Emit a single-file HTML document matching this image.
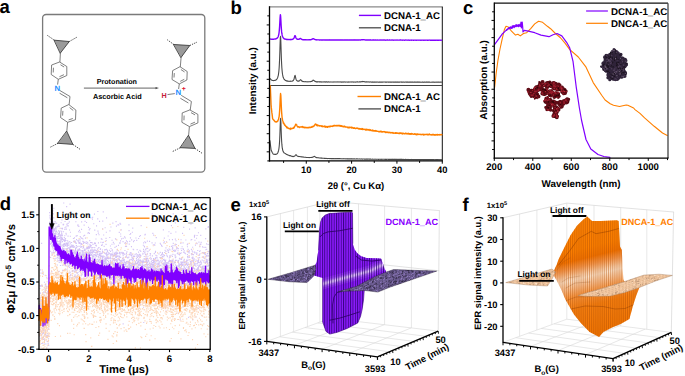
<!DOCTYPE html>
<html><head><meta charset="utf-8"><style>
html,body{margin:0;padding:0;background:#fff;}
svg{display:block;}
text{font-family:"Liberation Sans", sans-serif;text-rendering:geometricPrecision;}
</style></head><body>
<svg width="685" height="376" viewBox="0 0 685 376" font-family='"Liberation Sans", sans-serif'>
<text x="-0.60" y="13.40" font-size="18.5" text-anchor="start" fill="#000" font-weight="bold" >a</text>
<rect x="42.6" y="14.5" width="162.2" height="157.6" rx="3.5" ry="3.5" fill="none" stroke="#7a7a7a" stroke-width="1.3"/>
<path d="M54.40,40.20 L69.30,41.50 L60.40,53.00 Z" stroke="#2a2a2a" stroke-width="0.8" fill="#9a9a9a" stroke-linejoin="round" stroke-linecap="round" />
<line x1="54.40" y1="40.20" x2="47.10" y2="35.20" stroke="#333" stroke-width="0.9" stroke-dasharray="1.3,1.1"/>
<line x1="69.30" y1="41.50" x2="76.70" y2="37.30" stroke="#333" stroke-width="0.9" stroke-dasharray="1.3,1.1"/>
<line x1="60.40" y1="53.00" x2="59.90" y2="62.20" stroke="#555" stroke-width="0.75" />
<path d="M59.90,62.20 L66.80,66.50 L66.80,75.50 L58.30,79.30 L51.20,74.50 L51.60,65.40 Z" stroke="#555" stroke-width="0.75" fill="none" stroke-linejoin="round" stroke-linecap="round" />
<line x1="60.48" y1="64.78" x2="64.10" y2="67.03" stroke="#555" stroke-width="0.75" />
<line x1="63.92" y1="74.69" x2="59.46" y2="76.69" stroke="#555" stroke-width="0.75" />
<line x1="53.22" y1="72.49" x2="53.43" y2="67.72" stroke="#555" stroke-width="0.75" />
<line x1="58.30" y1="79.30" x2="57.60" y2="84.60" stroke="#555" stroke-width="0.75" />
<text x="57.30" y="90.80" font-size="7.8" text-anchor="middle" fill="#1e90ff" font-weight="bold" >N</text>
<line x1="60.00" y1="90.60" x2="70.00" y2="96.50" stroke="#555" stroke-width="0.75" />
<line x1="59.60" y1="93.20" x2="67.40" y2="97.80" stroke="#555" stroke-width="0.75" />
<line x1="70.00" y1="96.50" x2="69.10" y2="104.80" stroke="#555" stroke-width="0.75" />
<path d="M69.10,104.80 L75.90,110.10 L75.50,119.70 L67.60,122.30 L60.60,117.60 L61.20,108.50 Z" stroke="#555" stroke-width="0.75" fill="none" stroke-linejoin="round" stroke-linecap="round" />
<line x1="69.67" y1="107.65" x2="73.24" y2="110.44" stroke="#555" stroke-width="0.75" />
<line x1="72.82" y1="118.53" x2="68.67" y2="119.89" stroke="#555" stroke-width="0.75" />
<line x1="62.60" y1="115.63" x2="62.91" y2="110.86" stroke="#555" stroke-width="0.75" />
<line x1="67.60" y1="122.30" x2="66.80" y2="131.40" stroke="#555" stroke-width="0.75" />
<path d="M58.00,143.30 L72.90,144.40 L66.80,131.40 Z" stroke="#2a2a2a" stroke-width="0.8" fill="#9a9a9a" stroke-linejoin="round" stroke-linecap="round" />
<line x1="58.00" y1="143.30" x2="50.10" y2="147.30" stroke="#333" stroke-width="0.9" stroke-dasharray="1.3,1.1"/>
<line x1="72.90" y1="144.40" x2="80.60" y2="149.70" stroke="#333" stroke-width="0.9" stroke-dasharray="1.3,1.1"/>
<line x1="83.90" y1="88.10" x2="157.00" y2="88.10" stroke="#555" stroke-width="0.9" />
<path d="M155.50,86.90 L159.00,88.10 L155.50,89.30 Z" stroke="none" stroke-width="0" fill="#555" stroke-linejoin="round" stroke-linecap="round" />
<text x="116.80" y="84.00" font-size="7.2" text-anchor="middle" fill="#000" font-weight="bold" >Protonation</text>
<text x="117.30" y="99.10" font-size="7.3" text-anchor="middle" fill="#000" font-weight="bold" >Ascorbic Acid</text>
<path d="M173.80,44.50 L189.80,45.50 L181.10,57.40 Z" stroke="#2a2a2a" stroke-width="0.8" fill="#9a9a9a" stroke-linejoin="round" stroke-linecap="round" />
<line x1="173.80" y1="44.50" x2="167.20" y2="39.70" stroke="#333" stroke-width="0.9" stroke-dasharray="1.3,1.1"/>
<line x1="189.80" y1="45.50" x2="197.00" y2="42.10" stroke="#333" stroke-width="0.9" stroke-dasharray="1.3,1.1"/>
<line x1="181.10" y1="57.40" x2="180.30" y2="66.90" stroke="#555" stroke-width="0.75" />
<path d="M180.30,66.90 L187.20,71.50 L186.90,80.00 L179.30,83.90 L172.00,79.50 L172.60,71.00 Z" stroke="#555" stroke-width="0.75" fill="none" stroke-linejoin="round" stroke-linecap="round" />
<line x1="180.93" y1="69.56" x2="184.55" y2="71.97" stroke="#555" stroke-width="0.75" />
<line x1="184.25" y1="79.31" x2="180.26" y2="81.35" stroke="#555" stroke-width="0.75" />
<line x1="174.00" y1="77.54" x2="174.31" y2="73.07" stroke="#555" stroke-width="0.75" />
<line x1="179.30" y1="83.90" x2="178.60" y2="89.00" stroke="#555" stroke-width="0.75" />
<text x="178.20" y="95.20" font-size="7.8" text-anchor="middle" fill="#1e90ff" font-weight="bold" >N</text>
<text x="183.80" y="91.00" font-size="7.0" text-anchor="middle" fill="#e0102a" font-weight="bold" >+</text>
<text x="164.00" y="98.00" font-size="7.2" text-anchor="middle" fill="#c41e3a" font-weight="bold" >H</text>
<line x1="167.50" y1="94.60" x2="174.80" y2="93.60" stroke="#555" stroke-width="0.75" />
<line x1="181.20" y1="95.30" x2="191.40" y2="101.50" stroke="#555" stroke-width="0.75" />
<line x1="180.40" y1="98.30" x2="188.40" y2="103.00" stroke="#555" stroke-width="0.75" />
<line x1="191.40" y1="101.50" x2="190.20" y2="110.10" stroke="#555" stroke-width="0.75" />
<path d="M190.20,110.10 L197.90,114.40 L197.90,122.90 L189.40,126.60 L181.90,122.30 L182.20,113.30 Z" stroke="#555" stroke-width="0.75" fill="none" stroke-linejoin="round" stroke-linecap="round" />
<line x1="191.00" y1="112.63" x2="195.04" y2="114.88" stroke="#555" stroke-width="0.75" />
<line x1="194.95" y1="122.16" x2="190.49" y2="124.10" stroke="#555" stroke-width="0.75" />
<line x1="183.94" y1="120.28" x2="184.10" y2="115.55" stroke="#555" stroke-width="0.75" />
<line x1="189.40" y1="126.60" x2="188.60" y2="135.60" stroke="#555" stroke-width="0.75" />
<path d="M180.40,147.70 L195.00,148.40 L188.60,135.60 Z" stroke="#2a2a2a" stroke-width="0.8" fill="#9a9a9a" stroke-linejoin="round" stroke-linecap="round" />
<line x1="180.40" y1="147.70" x2="172.40" y2="151.60" stroke="#333" stroke-width="0.9" stroke-dasharray="1.3,1.1"/>
<line x1="195.00" y1="148.40" x2="202.40" y2="153.50" stroke="#333" stroke-width="0.9" stroke-dasharray="1.3,1.1"/>
<text x="230.60" y="13.80" font-size="18.5" text-anchor="start" fill="#000" font-weight="bold" >b</text>
<line x1="269.50" y1="6.80" x2="442.80" y2="6.80" stroke="#8a8a8a" stroke-width="1.3" />
<line x1="442.30" y1="6.80" x2="442.30" y2="160.90" stroke="#111" stroke-width="1.0" />
<line x1="269.50" y1="85.45" x2="442.30" y2="85.45" stroke="#444" stroke-width="1.1" />
<path d="M270.10,78.59 L270.35,79.02 L270.60,79.13 L270.85,79.54 L271.10,79.66 L271.35,79.84 L271.60,80.18 L271.85,80.18 L272.10,80.28 L272.35,80.43 L272.60,80.54 L272.85,80.51 L273.10,80.61 L273.35,80.51 L273.60,80.58 L273.85,80.58 L274.10,80.49 L274.35,80.45 L274.60,80.41 L274.85,80.46 L275.10,80.39 L275.35,80.29 L275.60,80.21 L275.85,79.96 L276.10,79.89 L276.35,79.72 L276.60,79.51 L276.85,79.09 L277.10,78.76 L277.35,78.18 L277.60,77.74 L277.85,76.90 L278.10,76.05 L278.35,75.07 L278.60,73.24 L278.85,71.37 L279.10,68.43 L279.35,64.37 L279.60,58.90 L279.85,51.68 L280.10,43.54 L280.35,37.10 L280.60,36.39 L280.85,41.87 L281.10,49.95 L281.35,57.56 L281.60,63.37 L281.85,67.81 L282.10,70.67 L282.35,72.99 L282.60,74.67 L282.85,75.83 L283.10,77.11 L283.35,77.51 L283.60,78.28 L283.85,78.74 L284.10,79.30 L284.35,79.33 L284.60,79.84 L284.85,79.92 L285.10,80.16 L285.35,80.28 L285.60,80.53 L285.85,80.51 L286.10,80.70 L286.35,80.82 L286.60,81.02 L286.85,80.75 L287.10,81.13 L287.35,81.14 L287.60,81.07 L287.85,81.17 L288.10,81.15 L288.35,81.35 L288.60,81.26 L288.85,81.25 L289.10,81.27 L289.35,81.29 L289.60,81.30 L289.85,81.26 L290.10,81.50 L290.35,81.18 L290.60,81.04 L290.85,81.31 L291.10,81.29 L291.35,81.31 L291.60,81.23 L291.85,81.19 L292.10,81.16 L292.35,81.14 L292.60,80.92 L292.85,80.78 L293.10,80.78 L293.35,80.40 L293.60,79.91 L293.85,79.65 L294.10,78.79 L294.35,77.68 L294.60,76.45 L294.85,75.62 L295.10,75.43 L295.35,76.24 L295.60,77.40 L295.85,78.52 L296.10,79.44 L296.35,79.88 L296.60,80.20 L296.85,80.65 L297.10,80.80 L297.35,81.00 L297.60,81.13 L297.85,81.09 L298.10,81.14 L298.35,81.16 L298.60,81.07 L298.85,81.17 L299.10,81.15 L299.35,80.93 L299.60,80.71 L299.85,80.45 L300.10,80.08 L300.35,79.77 L300.60,79.67 L300.85,79.79 L301.10,80.17 L301.35,80.44 L301.60,80.88 L301.85,81.08 L302.10,81.15 L302.35,81.17 L302.60,81.44 L302.85,81.60 L303.10,81.51 L303.35,81.57 L303.60,81.59 L303.85,81.72 L304.10,81.61 L304.35,81.78 L304.60,81.70 L304.85,81.81 L305.10,81.75 L305.35,81.73 L305.60,81.64 L305.85,81.71 L306.10,81.75 L306.35,81.83 L306.60,81.80 L306.85,81.73 L307.10,81.82 L307.35,81.86 L307.60,81.77 L307.85,81.75 L308.10,81.75 L308.35,81.84 L308.60,81.81 L308.85,81.69 L309.10,81.78 L309.35,81.71 L309.60,81.67 L309.85,81.81 L310.10,81.76 L310.35,81.61 L310.60,81.64 L310.85,81.63 L311.10,81.48 L311.35,81.46 L311.60,81.43 L311.85,81.13 L312.10,81.15 L312.35,81.01 L312.60,80.78 L312.85,80.40 L313.10,80.34 L313.35,80.15 L313.60,80.31 L313.85,80.48 L314.10,80.67 L314.35,80.82 L314.60,81.03 L314.85,81.30 L315.10,81.29 L315.35,81.50 L315.60,81.58 L315.85,81.58 L316.10,81.84 L316.35,81.70 L316.60,81.90 L316.85,81.59 L317.10,81.60 L317.35,81.87 L317.60,81.86 L317.85,81.80 L318.10,81.83 L318.35,81.70 L318.60,81.81 L318.85,81.79 L319.10,81.86 L319.35,81.95 L319.60,81.89 L319.85,81.92 L320.10,81.84 L320.35,81.87 L320.60,81.92 L320.85,81.89 L321.10,82.02 L321.35,81.85 L321.60,82.07 L321.85,81.85 L322.10,82.01 L322.35,81.87 L322.60,82.06 L322.85,81.95 L323.10,81.97 L323.35,82.00 L323.60,81.89 L323.85,81.86 L324.10,81.78 L324.35,82.04 L324.60,81.89 L324.85,81.90 L325.10,81.95 L325.35,82.11 L325.60,81.82 L325.85,81.98 L326.10,81.92 L326.35,82.00 L326.60,81.82 L326.85,81.93 L327.10,82.03 L327.35,82.09 L327.60,82.09 L327.85,81.90 L328.10,81.97 L328.35,81.96 L328.60,81.86 L328.85,81.85 L329.10,82.03 L329.35,81.99 L329.60,81.96 L329.85,82.07 L330.10,81.89 L330.35,82.02 L330.60,81.98 L330.85,81.97 L331.10,82.02 L331.35,81.99 L331.60,82.00 L331.85,82.00 L332.10,82.14 L332.35,81.96 L332.60,82.06 L332.85,82.03 L333.10,81.96 L333.35,82.05 L333.60,81.92 L333.85,82.08 L334.10,81.92 L334.35,81.95 L334.60,82.01 L334.85,82.06 L335.10,82.06 L335.35,82.06 L335.60,81.97 L335.85,81.91 L336.10,82.04 L336.35,82.02 L336.60,81.92 L336.85,82.07 L337.10,82.01 L337.35,81.92 L337.60,82.03 L337.85,81.89 L338.10,81.93 L338.35,82.03 L338.60,81.87 L338.85,82.00 L339.10,81.89 L339.35,82.06 L339.60,81.94 L339.85,82.02 L340.10,81.88 L340.35,81.97 L340.60,82.08 L340.85,82.04 L341.10,81.86 L341.35,82.08 L341.60,82.08 L341.85,81.97 L342.10,82.12 L342.35,81.92 L342.60,82.00 L342.85,82.10 L343.10,82.11 L343.35,82.11 L343.60,81.92 L343.85,81.87 L344.10,82.04 L344.35,81.90 L344.60,82.00 L344.85,81.91 L345.10,82.10 L345.35,82.08 L345.60,82.06 L345.85,82.01 L346.10,82.02 L346.35,81.99 L346.60,82.04 L346.85,82.03 L347.10,82.05 L347.35,81.98 L347.60,82.17 L347.85,82.04 L348.10,82.13 L348.35,82.12 L348.60,81.95 L348.85,81.88 L349.10,82.12 L349.35,81.98 L349.60,82.02 L349.85,82.00 L350.10,82.03 L350.35,81.92 L350.60,82.01 L350.85,81.98 L351.10,82.02 L351.35,81.83 L351.60,82.08 L351.85,82.04 L352.10,81.88 L352.35,81.96 L352.60,82.02 L352.85,82.07 L353.10,82.01 L353.35,82.13 L353.60,82.02 L353.85,81.93 L354.10,81.96 L354.35,82.07 L354.60,81.96 L354.85,82.08 L355.10,82.09 L355.35,82.05 L355.60,82.09 L355.85,81.99 L356.10,82.00 L356.35,81.95 L356.60,81.95 L356.85,81.87 L357.10,81.95 L357.35,81.90 L357.60,81.87 L357.85,81.99 L358.10,82.01 L358.35,81.94 L358.60,82.07 L358.85,82.03 L359.10,82.03 L359.35,81.88 L359.60,81.80 L359.85,81.95 L360.10,81.91 L360.35,81.93 L360.60,81.88 L360.85,81.92 L361.10,81.76 L361.35,81.81 L361.60,81.64 L361.85,81.49 L362.10,81.60 L362.35,81.72 L362.60,81.44 L362.85,81.64 L363.10,81.50 L363.35,81.54 L363.60,81.60 L363.85,81.65 L364.10,81.59 L364.35,81.72 L364.60,81.79 L364.85,81.86 L365.10,81.76 L365.35,81.97 L365.60,82.03 L365.85,82.09 L366.10,81.81 L366.35,81.94 L366.60,81.79 L366.85,81.99 L367.10,82.01 L367.35,81.88 L367.60,81.86 L367.85,82.01 L368.10,82.05 L368.35,81.94 L368.60,81.99 L368.85,81.81 L369.10,81.96 L369.35,82.03 L369.60,82.04 L369.85,82.15 L370.10,81.94 L370.35,81.85 L370.60,82.07 L370.85,81.99 L371.10,82.06 L371.35,82.10 L371.60,82.09 L371.85,82.16 L372.10,82.16 L372.35,81.92 L372.60,82.05 L372.85,82.21 L373.10,82.02 L373.35,82.13 L373.60,82.05 L373.85,82.02 L374.10,82.19 L374.35,82.14 L374.60,82.04 L374.85,82.14 L375.10,81.96 L375.35,82.01 L375.60,82.14 L375.85,82.07 L376.10,81.98 L376.35,82.10 L376.60,82.10 L376.85,82.17 L377.10,82.15 L377.35,82.05 L377.60,82.03 L377.85,82.06 L378.10,82.06 L378.35,82.19 L378.60,82.20 L378.85,82.19 L379.10,82.11 L379.35,82.06 L379.60,82.15 L379.85,82.05 L380.10,82.10 L380.35,81.95 L380.60,82.05 L380.85,82.20 L381.10,82.00 L381.35,81.96 L381.60,82.07 L381.85,82.22 L382.10,82.20 L382.35,82.06 L382.60,82.05 L382.85,82.08 L383.10,82.01 L383.35,82.09 L383.60,82.06 L383.85,81.97 L384.10,82.04 L384.35,82.07 L384.60,82.02 L384.85,82.00 L385.10,82.16 L385.35,82.24 L385.60,82.07 L385.85,82.06 L386.10,82.13 L386.35,82.08 L386.60,82.03 L386.85,82.21 L387.10,82.01 L387.35,82.04 L387.60,82.04 L387.85,82.03 L388.10,82.08 L388.35,82.14 L388.60,82.21 L388.85,82.15 L389.10,82.10 L389.35,82.00 L389.60,82.10 L389.85,82.03 L390.10,82.09 L390.35,82.18 L390.60,82.12 L390.85,82.09 L391.10,82.04 L391.35,82.10 L391.60,82.11 L391.85,82.03 L392.10,82.07 L392.35,82.18 L392.60,81.97 L392.85,82.07 L393.10,82.01 L393.35,82.23 L393.60,82.16 L393.85,82.15 L394.10,82.14 L394.35,82.13 L394.60,82.13 L394.85,81.98 L395.10,82.13 L395.35,82.16 L395.60,82.00 L395.85,82.18 L396.10,82.17 L396.35,81.99 L396.60,82.08 L396.85,82.09 L397.10,82.07 L397.35,82.15 L397.60,82.01 L397.85,82.10 L398.10,82.14 L398.35,82.18 L398.60,82.12 L398.85,82.10 L399.10,82.17 L399.35,81.96 L399.60,82.20 L399.85,82.10 L400.10,82.02 L400.35,82.09 L400.60,81.98 L400.85,81.96 L401.10,82.10 L401.35,82.06 L401.60,82.18 L401.85,82.05 L402.10,82.02 L402.35,82.05 L402.60,82.26 L402.85,82.13 L403.10,82.08 L403.35,82.05 L403.60,82.04 L403.85,82.12 L404.10,82.16 L404.35,82.22 L404.60,82.22 L404.85,82.15 L405.10,82.08 L405.35,82.06 L405.60,81.95 L405.85,82.05 L406.10,82.17 L406.35,82.11 L406.60,82.16 L406.85,82.03 L407.10,82.21 L407.35,82.16 L407.60,82.14 L407.85,82.17 L408.10,81.96 L408.35,82.09 L408.60,82.07 L408.85,82.28 L409.10,82.12 L409.35,82.10 L409.60,82.21 L409.85,82.06 L410.10,82.25 L410.35,82.08 L410.60,82.14 L410.85,82.07 L411.10,82.21 L411.35,81.97 L411.60,82.20 L411.85,82.08 L412.10,82.15 L412.35,82.05 L412.60,82.16 L412.85,82.16 L413.10,82.19 L413.35,82.17 L413.60,82.20 L413.85,82.23 L414.10,82.12 L414.35,82.05 L414.60,82.05 L414.85,82.20 L415.10,82.12 L415.35,82.23 L415.60,82.15 L415.85,82.07 L416.10,82.22 L416.35,82.31 L416.60,82.14 L416.85,82.08 L417.10,82.08 L417.35,82.22 L417.60,82.11 L417.85,82.12 L418.10,82.21 L418.35,82.16 L418.60,82.16 L418.85,82.11 L419.10,82.11 L419.35,82.17 L419.60,82.17 L419.85,82.20 L420.10,82.12 L420.35,82.19 L420.60,82.20 L420.85,82.17 L421.10,82.21 L421.35,82.24 L421.60,82.18 L421.85,82.17 L422.10,82.08 L422.35,82.19 L422.60,82.16 L422.85,82.14 L423.10,82.10 L423.35,82.21 L423.60,82.37 L423.85,82.20 L424.10,82.17 L424.35,82.20 L424.60,82.12 L424.85,82.17 L425.10,82.11 L425.35,82.12 L425.60,82.19 L425.85,82.19 L426.10,82.16 L426.35,82.11 L426.60,82.19 L426.85,82.08 L427.10,82.23 L427.35,82.14 L427.60,82.17 L427.85,82.23 L428.10,82.22 L428.35,82.07 L428.60,82.15 L428.85,82.20 L429.10,82.09 L429.35,81.98 L429.60,82.17 L429.85,82.17 L430.10,82.21 L430.35,82.18 L430.60,82.19 L430.85,82.20 L431.10,82.29 L431.35,82.22 L431.60,82.22 L431.85,82.15 L432.10,82.27 L432.35,82.16 L432.60,82.24 L432.85,82.01 L433.10,82.20 L433.35,82.17 L433.60,82.15 L433.85,82.29 L434.10,82.22 L434.35,82.17 L434.60,82.14 L434.85,82.33 L435.10,82.24 L435.35,82.24 L435.60,82.12 L435.85,82.29 L436.10,82.23 L436.35,82.17 L436.60,82.18 L436.85,82.06 L437.10,82.24 L437.35,82.10 L437.60,82.26 L437.85,82.15 L438.10,82.14 L438.35,82.22 L438.60,82.21 L438.85,82.10 L439.10,82.19 L439.35,82.24 L439.60,82.17 L439.85,82.09 L440.10,82.17 L440.35,82.12 L440.60,82.15 L440.85,82.20 L441.10,82.19 L441.35,82.18 L441.60,82.06" stroke="#4a4a4a" stroke-width="1.1" fill="none" stroke-linejoin="round" stroke-linecap="round" />
<path d="M270.10,39.04 L270.35,39.13 L270.60,39.05 L270.85,39.17 L271.10,39.14 L271.35,39.16 L271.60,39.28 L271.85,39.21 L272.10,39.21 L272.35,39.26 L272.60,39.29 L272.85,39.23 L273.10,39.26 L273.35,39.18 L273.60,39.20 L273.85,39.19 L274.10,39.13 L274.35,39.10 L274.60,39.06 L274.85,39.10 L275.10,39.06 L275.35,39.00 L275.60,38.96 L275.85,38.82 L276.10,38.79 L276.35,38.70 L276.60,38.60 L276.85,38.36 L277.10,38.19 L277.35,37.87 L277.60,37.64 L277.85,37.17 L278.10,36.71 L278.35,36.17 L278.60,35.11 L278.85,34.04 L279.10,32.30 L279.35,29.84 L279.60,26.49 L279.85,22.10 L280.10,17.49 L280.35,14.72 L280.60,15.94 L280.85,20.14 L281.10,24.79 L281.35,28.65 L281.60,31.40 L281.85,33.47 L282.10,34.73 L282.35,35.78 L282.60,36.54 L282.85,37.05 L283.10,37.69 L283.35,37.81 L283.60,38.19 L283.85,38.40 L284.10,38.69 L284.35,38.65 L284.60,38.93 L284.85,38.94 L285.10,39.06 L285.35,39.11 L285.60,39.24 L285.85,39.21 L286.10,39.31 L286.35,39.38 L286.60,39.49 L286.85,39.31 L287.10,39.53 L287.35,39.53 L287.60,39.48 L287.85,39.54 L288.10,39.52 L288.35,39.64 L288.60,39.57 L288.85,39.56 L289.10,39.57 L289.35,39.58 L289.60,39.58 L289.85,39.54 L290.10,39.69 L290.35,39.49 L290.60,39.39 L290.85,39.55 L291.10,39.54 L291.35,39.54 L291.60,39.48 L291.85,39.45 L292.10,39.43 L292.35,39.40 L292.60,39.25 L292.85,39.15 L293.10,39.12 L293.35,38.86 L293.60,38.52 L293.85,38.33 L294.10,37.74 L294.35,37.02 L294.60,36.24 L294.85,35.74 L295.10,35.62 L295.35,36.10 L295.60,36.83 L295.85,37.55 L296.10,38.17 L296.35,38.48 L296.60,38.70 L296.85,39.00 L297.10,39.11 L297.35,39.25 L297.60,39.33 L297.85,39.31 L298.10,39.33 L298.35,39.33 L298.60,39.25 L298.85,39.28 L299.10,39.23 L299.35,39.04 L299.60,38.85 L299.85,38.66 L300.10,38.48 L300.35,38.44 L300.60,38.58 L300.85,38.76 L301.10,38.99 L301.35,39.12 L301.60,39.36 L301.85,39.45 L302.10,39.47 L302.35,39.48 L302.60,39.64 L302.85,39.73 L303.10,39.67 L303.35,39.71 L303.60,39.72 L303.85,39.80 L304.10,39.73 L304.35,39.84 L304.60,39.79 L304.85,39.86 L305.10,39.82 L305.35,39.81 L305.60,39.75 L305.85,39.80 L306.10,39.82 L306.35,39.87 L306.60,39.85 L306.85,39.80 L307.10,39.86 L307.35,39.89 L307.60,39.83 L307.85,39.81 L308.10,39.81 L308.35,39.87 L308.60,39.85 L308.85,39.77 L309.10,39.83 L309.35,39.78 L309.60,39.75 L309.85,39.83 L310.10,39.79 L310.35,39.69 L310.60,39.70 L310.85,39.68 L311.10,39.58 L311.35,39.54 L311.60,39.50 L311.85,39.27 L312.10,39.24 L312.35,39.11 L312.60,38.92 L312.85,38.67 L313.10,38.66 L313.35,38.62 L313.60,38.80 L313.85,38.97 L314.10,39.12 L314.35,39.23 L314.60,39.37 L314.85,39.54 L315.10,39.53 L315.35,39.67 L315.60,39.72 L315.85,39.72 L316.10,39.88 L316.35,39.79 L316.60,39.92 L316.85,39.73 L317.10,39.73 L317.35,39.91 L317.60,39.90 L317.85,39.86 L318.10,39.88 L318.35,39.80 L318.60,39.87 L318.85,39.85 L319.10,39.90 L319.35,39.96 L319.60,39.92 L319.85,39.94 L320.10,39.89 L320.35,39.91 L320.60,39.94 L320.85,39.92 L321.10,40.00 L321.35,39.90 L321.60,40.04 L321.85,39.90 L322.10,40.00 L322.35,39.91 L322.60,40.04 L322.85,39.96 L323.10,39.98 L323.35,40.00 L323.60,39.93 L323.85,39.91 L324.10,39.86 L324.35,40.02 L324.60,39.93 L324.85,39.94 L325.10,39.97 L325.35,40.07 L325.60,39.88 L325.85,39.98 L326.10,39.95 L326.35,40.00 L326.60,39.88 L326.85,39.95 L327.10,40.02 L327.35,40.05 L327.60,40.06 L327.85,39.94 L328.10,39.98 L328.35,39.97 L328.60,39.91 L328.85,39.91 L329.10,40.02 L329.35,40.00 L329.60,39.98 L329.85,40.05 L330.10,39.94 L330.35,40.01 L330.60,39.99 L330.85,39.98 L331.10,40.01 L331.35,40.00 L331.60,40.00 L331.85,40.00 L332.10,40.09 L332.35,39.98 L332.60,40.04 L332.85,40.02 L333.10,39.98 L333.35,40.03 L333.60,39.95 L333.85,40.05 L334.10,39.96 L334.35,39.97 L334.60,40.01 L334.85,40.04 L335.10,40.04 L335.35,40.04 L335.60,39.99 L335.85,39.95 L336.10,40.03 L336.35,40.02 L336.60,39.95 L336.85,40.05 L337.10,40.01 L337.35,39.96 L337.60,40.03 L337.85,39.94 L338.10,39.96 L338.35,40.03 L338.60,39.93 L338.85,40.01 L339.10,39.94 L339.35,40.04 L339.60,39.97 L339.85,40.02 L340.10,39.93 L340.35,39.99 L340.60,40.06 L340.85,40.03 L341.10,39.92 L341.35,40.06 L341.60,40.06 L341.85,39.99 L342.10,40.08 L342.35,39.96 L342.60,40.01 L342.85,40.07 L343.10,40.08 L343.35,40.08 L343.60,39.96 L343.85,39.93 L344.10,40.04 L344.35,39.95 L344.60,40.01 L344.85,39.95 L345.10,40.07 L345.35,40.06 L345.60,40.05 L345.85,40.02 L346.10,40.02 L346.35,40.00 L346.60,40.04 L346.85,40.03 L347.10,40.04 L347.35,40.00 L347.60,40.12 L347.85,40.04 L348.10,40.09 L348.35,40.09 L348.60,39.98 L348.85,39.94 L349.10,40.09 L349.35,40.00 L349.60,40.03 L349.85,40.01 L350.10,40.03 L350.35,39.96 L350.60,40.02 L350.85,40.00 L351.10,40.02 L351.35,39.91 L351.60,40.07 L351.85,40.04 L352.10,39.94 L352.35,39.99 L352.60,40.03 L352.85,40.05 L353.10,40.02 L353.35,40.09 L353.60,40.02 L353.85,39.97 L354.10,39.99 L354.35,40.06 L354.60,39.99 L354.85,40.06 L355.10,40.07 L355.35,40.05 L355.60,40.07 L355.85,40.01 L356.10,40.01 L356.35,39.98 L356.60,39.98 L356.85,39.93 L357.10,39.98 L357.35,39.95 L357.60,39.93 L357.85,40.00 L358.10,40.01 L358.35,39.97 L358.60,40.05 L358.85,40.02 L359.10,40.02 L359.35,39.93 L359.60,39.87 L359.85,39.96 L360.10,39.94 L360.35,39.94 L360.60,39.91 L360.85,39.93 L361.10,39.83 L361.35,39.85 L361.60,39.74 L361.85,39.64 L362.10,39.70 L362.35,39.77 L362.60,39.59 L362.85,39.71 L363.10,39.62 L363.35,39.65 L363.60,39.69 L363.85,39.73 L364.10,39.70 L364.35,39.79 L364.60,39.84 L364.85,39.89 L365.10,39.83 L365.35,39.97 L365.60,40.01 L365.85,40.05 L366.10,39.88 L366.35,39.97 L366.60,39.88 L366.85,40.00 L367.10,40.02 L367.35,39.94 L367.60,39.92 L367.85,40.02 L368.10,40.05 L368.35,39.98 L368.60,40.01 L368.85,39.90 L369.10,39.99 L369.35,40.04 L369.60,40.04 L369.85,40.12 L370.10,39.98 L370.35,39.93 L370.60,40.07 L370.85,40.02 L371.10,40.06 L371.35,40.09 L371.60,40.08 L371.85,40.13 L372.10,40.12 L372.35,39.97 L372.60,40.06 L372.85,40.16 L373.10,40.04 L373.35,40.11 L373.60,40.06 L373.85,40.04 L374.10,40.14 L374.35,40.12 L374.60,40.06 L374.85,40.11 L375.10,40.00 L375.35,40.03 L375.60,40.12 L375.85,40.07 L376.10,40.02 L376.35,40.10 L376.60,40.09 L376.85,40.14 L377.10,40.12 L377.35,40.06 L377.60,40.05 L377.85,40.07 L378.10,40.07 L378.35,40.15 L378.60,40.16 L378.85,40.15 L379.10,40.10 L379.35,40.07 L379.60,40.13 L379.85,40.07 L380.10,40.10 L380.35,40.00 L380.60,40.06 L380.85,40.16 L381.10,40.03 L381.35,40.01 L381.60,40.08 L381.85,40.17 L382.10,40.16 L382.35,40.07 L382.60,40.07 L382.85,40.08 L383.10,40.04 L383.35,40.09 L383.60,40.08 L383.85,40.02 L384.10,40.06 L384.35,40.08 L384.60,40.05 L384.85,40.04 L385.10,40.14 L385.35,40.19 L385.60,40.08 L385.85,40.07 L386.10,40.12 L386.35,40.09 L386.60,40.06 L386.85,40.17 L387.10,40.05 L387.35,40.06 L387.60,40.07 L387.85,40.06 L388.10,40.09 L388.35,40.13 L388.60,40.17 L388.85,40.14 L389.10,40.10 L389.35,40.04 L389.60,40.10 L389.85,40.06 L390.10,40.10 L390.35,40.15 L390.60,40.12 L390.85,40.10 L391.10,40.07 L391.35,40.11 L391.60,40.11 L391.85,40.06 L392.10,40.08 L392.35,40.15 L392.60,40.03 L392.85,40.09 L393.10,40.05 L393.35,40.19 L393.60,40.14 L393.85,40.14 L394.10,40.13 L394.35,40.13 L394.60,40.13 L394.85,40.03 L395.10,40.13 L395.35,40.14 L395.60,40.04 L395.85,40.16 L396.10,40.15 L396.35,40.04 L396.60,40.09 L396.85,40.10 L397.10,40.09 L397.35,40.14 L397.60,40.05 L397.85,40.11 L398.10,40.13 L398.35,40.16 L398.60,40.12 L398.85,40.11 L399.10,40.16 L399.35,40.02 L399.60,40.17 L399.85,40.11 L400.10,40.06 L400.35,40.10 L400.60,40.03 L400.85,40.02 L401.10,40.11 L401.35,40.09 L401.60,40.16 L401.85,40.08 L402.10,40.06 L402.35,40.08 L402.60,40.21 L402.85,40.13 L403.10,40.10 L403.35,40.08 L403.60,40.07 L403.85,40.12 L404.10,40.15 L404.35,40.19 L404.60,40.19 L404.85,40.15 L405.10,40.10 L405.35,40.09 L405.60,40.02 L405.85,40.08 L406.10,40.16 L406.35,40.12 L406.60,40.15 L406.85,40.07 L407.10,40.18 L407.35,40.15 L407.60,40.14 L407.85,40.16 L408.10,40.03 L408.35,40.11 L408.60,40.09 L408.85,40.23 L409.10,40.13 L409.35,40.11 L409.60,40.18 L409.85,40.09 L410.10,40.21 L410.35,40.11 L410.60,40.14 L410.85,40.10 L411.10,40.18 L411.35,40.04 L411.60,40.18 L411.85,40.10 L412.10,40.15 L412.35,40.09 L412.60,40.16 L412.85,40.16 L413.10,40.18 L413.35,40.16 L413.60,40.18 L413.85,40.20 L414.10,40.13 L414.35,40.09 L414.60,40.09 L414.85,40.18 L415.10,40.13 L415.35,40.20 L415.60,40.15 L415.85,40.10 L416.10,40.20 L416.35,40.25 L416.60,40.14 L416.85,40.11 L417.10,40.11 L417.35,40.20 L417.60,40.13 L417.85,40.13 L418.10,40.19 L418.35,40.16 L418.60,40.16 L418.85,40.13 L419.10,40.13 L419.35,40.17 L419.60,40.17 L419.85,40.19 L420.10,40.13 L420.35,40.18 L420.60,40.18 L420.85,40.16 L421.10,40.19 L421.35,40.21 L421.60,40.17 L421.85,40.17 L422.10,40.11 L422.35,40.18 L422.60,40.16 L422.85,40.15 L423.10,40.12 L423.35,40.19 L423.60,40.29 L423.85,40.19 L424.10,40.17 L424.35,40.19 L424.60,40.14 L424.85,40.17 L425.10,40.13 L425.35,40.14 L425.60,40.18 L425.85,40.18 L426.10,40.16 L426.35,40.13 L426.60,40.18 L426.85,40.12 L427.10,40.21 L427.35,40.15 L427.60,40.17 L427.85,40.21 L428.10,40.20 L428.35,40.11 L428.60,40.16 L428.85,40.19 L429.10,40.12 L429.35,40.06 L429.60,40.17 L429.85,40.17 L430.10,40.20 L430.35,40.18 L430.60,40.18 L430.85,40.19 L431.10,40.25 L431.35,40.20 L431.60,40.21 L431.85,40.16 L432.10,40.24 L432.35,40.17 L432.60,40.22 L432.85,40.08 L433.10,40.19 L433.35,40.18 L433.60,40.16 L433.85,40.25 L434.10,40.20 L434.35,40.18 L434.60,40.16 L434.85,40.28 L435.10,40.22 L435.35,40.22 L435.60,40.15 L435.85,40.25 L436.10,40.22 L436.35,40.17 L436.60,40.18 L436.85,40.11 L437.10,40.22 L437.35,40.14 L437.60,40.23 L437.85,40.17 L438.10,40.16 L438.35,40.21 L438.60,40.20 L438.85,40.14 L439.10,40.19 L439.35,40.22 L439.60,40.18 L439.85,40.13 L440.10,40.18 L440.35,40.15 L440.60,40.17 L440.85,40.20 L441.10,40.19 L441.35,40.19 L441.60,40.11" stroke="#8000ff" stroke-width="1.4" fill="none" stroke-linejoin="round" stroke-linecap="round" />
<path d="M269.90,140.60 L270.15,142.68 L270.40,144.56 L270.65,146.68 L270.90,148.61 L271.15,150.31 L271.40,150.90 L271.65,151.26 L271.90,151.71 L272.15,152.21 L272.40,152.70 L272.65,153.08 L272.90,153.57 L273.15,153.93 L273.40,154.25 L273.65,154.28 L273.90,154.26 L274.15,154.27 L274.40,154.29 L274.65,154.39 L274.90,154.40 L275.15,154.39 L275.40,154.41 L275.65,154.31 L275.90,154.35 L276.15,154.32 L276.40,154.28 L276.65,154.09 L276.90,153.99 L277.15,153.66 L277.40,153.43 L277.65,152.93 L277.90,152.49 L278.15,152.02 L278.40,151.03 L278.65,150.16 L278.90,148.72 L279.15,146.72 L279.40,143.97 L279.65,139.97 L279.90,134.36 L280.15,127.10 L280.40,120.32 L280.65,118.25 L280.90,122.61 L281.15,129.94 L281.40,136.48 L281.65,141.47 L281.90,144.68 L282.15,147.07 L282.40,148.72 L282.65,149.82 L282.90,150.92 L283.15,151.30 L283.40,151.92 L283.65,152.27 L283.90,152.69 L284.15,152.70 L284.40,153.07 L284.65,153.10 L284.90,153.25 L285.15,153.38 L285.40,153.65 L285.65,153.71 L285.90,153.94 L286.15,154.11 L286.40,154.34 L286.65,154.22 L286.90,154.58 L287.15,154.67 L287.40,154.70 L287.65,154.86 L287.90,154.92 L288.15,155.15 L288.40,155.17 L288.65,155.25 L288.90,155.34 L289.15,155.44 L289.40,155.54 L289.65,155.58 L289.90,155.83 L290.15,155.67 L290.40,155.64 L290.65,155.93 L290.90,156.00 L291.15,156.10 L291.40,156.13 L291.65,156.20 L291.90,156.29 L292.15,156.39 L292.40,156.37 L292.65,156.42 L292.90,156.61 L293.15,156.56 L293.40,156.43 L293.65,156.58 L293.90,156.43 L294.15,156.26 L294.40,156.12 L294.65,156.06 L294.90,155.80 L295.15,155.53 L295.40,155.20 L295.65,154.94 L295.90,154.84 L296.15,154.77 L296.40,154.94 L296.65,155.38 L296.90,155.64 L297.15,155.93 L297.40,156.14 L297.65,156.19 L297.90,156.30 L298.15,156.38 L298.40,156.37 L298.65,156.52 L298.90,156.60 L299.15,156.56 L299.40,156.55 L299.65,156.57 L299.90,156.58 L300.15,156.62 L300.40,156.68 L300.65,156.69 L300.90,156.75 L301.15,156.72 L301.40,156.87 L301.65,156.89 L301.90,156.85 L302.15,156.81 L302.40,156.98 L302.65,157.08 L302.90,157.00 L303.15,157.05 L303.40,157.07 L303.65,157.17 L303.90,157.11 L304.15,157.25 L304.40,157.20 L304.65,157.31 L304.90,157.28 L305.15,157.29 L305.40,157.25 L305.65,157.32 L305.90,157.37 L306.15,157.46 L306.40,157.46 L306.65,157.43 L306.90,157.52 L307.15,157.57 L307.40,157.51 L307.65,157.50 L307.90,157.51 L308.15,157.58 L308.40,157.57 L308.65,157.49 L308.90,157.57 L309.15,157.52 L309.40,157.51 L309.65,157.62 L309.90,157.60 L310.15,157.50 L310.40,157.54 L310.65,157.56 L310.90,157.48 L311.15,157.50 L311.40,157.52 L311.65,157.35 L311.90,157.44 L312.15,157.41 L312.40,157.34 L312.65,157.15 L312.90,157.14 L313.15,156.94 L313.40,156.88 L313.65,156.72 L313.90,156.54 L314.15,156.39 L314.40,156.40 L314.65,156.58 L314.90,156.64 L315.15,156.90 L315.40,157.08 L315.65,157.18 L315.90,157.47 L316.15,157.43 L316.40,157.64 L316.65,157.46 L316.90,157.50 L317.15,157.74 L317.40,157.76 L317.65,157.74 L317.90,157.79 L318.15,157.70 L318.40,157.80 L318.65,157.80 L318.90,157.88 L319.15,157.97 L319.40,157.95 L319.65,157.99 L319.90,157.95 L320.15,157.99 L320.40,158.04 L320.65,158.04 L320.90,158.16 L321.15,158.05 L321.40,158.24 L321.65,158.08 L321.90,158.23 L322.15,158.14 L322.40,158.30 L322.65,158.23 L322.90,158.26 L323.15,158.30 L323.40,158.24 L323.65,158.23 L323.90,158.19 L324.15,158.41 L324.40,158.31 L324.65,158.34 L324.90,158.39 L325.15,158.53 L325.40,158.32 L325.65,158.46 L325.90,158.44 L326.15,158.50 L326.40,158.37 L326.65,158.46 L326.90,158.54 L327.15,158.58 L327.40,158.59 L327.65,158.45 L327.90,158.51 L328.15,158.50 L328.40,158.43 L328.65,158.43 L328.90,158.57 L329.15,158.54 L329.40,158.52 L329.65,158.61 L329.90,158.48 L330.15,158.58 L330.40,158.55 L330.65,158.55 L330.90,158.59 L331.15,158.57 L331.40,158.58 L331.65,158.59 L331.90,158.69 L332.15,158.56 L332.40,158.64 L332.65,158.62 L332.90,158.57 L333.15,158.64 L333.40,158.55 L333.65,158.67 L333.90,158.56 L334.15,158.58 L334.40,158.64 L334.65,158.67 L334.90,158.68 L335.15,158.68 L335.40,158.62 L335.65,158.58 L335.90,158.68 L336.15,158.66 L336.40,158.59 L336.65,158.71 L336.90,158.67 L337.15,158.61 L337.40,158.69 L337.65,158.59 L337.90,158.62 L338.15,158.70 L338.40,158.59 L338.65,158.69 L338.90,158.61 L339.15,158.74 L339.40,158.66 L339.65,158.71 L339.90,158.62 L340.15,158.69 L340.40,158.77 L340.65,158.75 L340.90,158.61 L341.15,158.78 L341.40,158.79 L341.65,158.71 L341.90,158.83 L342.15,158.68 L342.40,158.74 L342.65,158.82 L342.90,158.84 L343.15,158.84 L343.40,158.70 L343.65,158.66 L343.90,158.80 L344.15,158.69 L344.40,158.77 L344.65,158.71 L344.90,158.85 L345.15,158.84 L345.40,158.83 L345.65,158.80 L345.90,158.81 L346.15,158.79 L346.40,158.83 L346.65,158.83 L346.90,158.85 L347.15,158.80 L347.40,158.94 L347.65,158.85 L347.90,158.92 L348.15,158.92 L348.40,158.79 L348.65,158.74 L348.90,158.92 L349.15,158.83 L349.40,158.86 L349.65,158.84 L349.90,158.87 L350.15,158.79 L350.40,158.86 L350.65,158.85 L350.90,158.88 L351.15,158.74 L351.40,158.93 L351.65,158.91 L351.90,158.79 L352.15,158.85 L352.40,158.90 L352.65,158.94 L352.90,158.91 L353.15,158.99 L353.40,158.91 L353.65,158.86 L353.90,158.88 L354.15,158.97 L354.40,158.89 L354.65,158.98 L354.90,159.00 L355.15,158.97 L355.40,159.00 L355.65,158.94 L355.90,158.95 L356.15,158.92 L356.40,158.92 L356.65,158.87 L356.90,158.93 L357.15,158.90 L357.40,158.89 L357.65,158.98 L357.90,159.01 L358.15,158.96 L358.40,159.07 L358.65,159.05 L358.90,159.06 L359.15,158.96 L359.40,158.91 L359.65,159.04 L359.90,159.03 L360.15,159.05 L360.40,159.04 L360.65,159.09 L360.90,159.00 L361.15,159.07 L361.40,158.98 L361.65,158.89 L361.90,159.01 L362.15,159.13 L362.40,158.94 L362.65,159.11 L362.90,159.01 L363.15,159.03 L363.40,159.06 L363.65,159.07 L363.90,159.01 L364.15,159.08 L364.40,159.10 L364.65,159.13 L364.90,159.03 L365.15,159.18 L365.40,159.20 L365.65,159.24 L365.90,159.01 L366.15,159.11 L366.40,158.99 L366.65,159.13 L366.90,159.14 L367.15,159.04 L367.40,159.02 L367.65,159.13 L367.90,159.16 L368.15,159.08 L368.40,159.11 L368.65,158.98 L368.90,159.09 L369.15,159.15 L369.40,159.15 L369.65,159.24 L369.90,159.08 L370.15,159.02 L370.40,159.19 L370.65,159.13 L370.90,159.18 L371.15,159.21 L371.40,159.21 L371.65,159.26 L371.90,159.26 L372.15,159.08 L372.40,159.18 L372.65,159.31 L372.90,159.17 L373.15,159.26 L373.40,159.20 L373.65,159.18 L373.90,159.30 L374.15,159.28 L374.40,159.20 L374.65,159.27 L374.90,159.14 L375.15,159.18 L375.40,159.28 L375.65,159.24 L375.90,159.17 L376.15,159.27 L376.40,159.26 L376.65,159.33 L376.90,159.31 L377.15,159.24 L377.40,159.23 L377.65,159.25 L377.90,159.25 L378.15,159.36 L378.40,159.37 L378.65,159.36 L378.90,159.30 L379.15,159.27 L379.40,159.34 L379.65,159.27 L379.90,159.31 L380.15,159.20 L380.40,159.27 L380.65,159.39 L380.90,159.24 L381.15,159.21 L381.40,159.30 L381.65,159.41 L381.90,159.40 L382.15,159.29 L382.40,159.28 L382.65,159.31 L382.90,159.26 L383.15,159.32 L383.40,159.30 L383.65,159.23 L383.90,159.29 L384.15,159.31 L384.40,159.27 L384.65,159.26 L384.90,159.38 L385.15,159.44 L385.40,159.31 L385.65,159.31 L385.90,159.37 L386.15,159.32 L386.40,159.29 L386.65,159.42 L386.90,159.28 L387.15,159.30 L387.40,159.31 L387.65,159.29 L387.90,159.33 L388.15,159.38 L388.40,159.44 L388.65,159.39 L388.90,159.36 L389.15,159.28 L389.40,159.35 L389.65,159.30 L389.90,159.36 L390.15,159.42 L390.40,159.38 L390.65,159.35 L390.90,159.32 L391.15,159.37 L391.40,159.38 L391.65,159.32 L391.90,159.34 L392.15,159.43 L392.40,159.28 L392.65,159.35 L392.90,159.31 L393.15,159.48 L393.40,159.42 L393.65,159.42 L393.90,159.41 L394.15,159.41 L394.40,159.41 L394.65,159.30 L394.90,159.41 L395.15,159.43 L395.40,159.31 L395.65,159.45 L395.90,159.44 L396.15,159.31 L396.40,159.38 L396.65,159.39 L396.90,159.38 L397.15,159.43 L397.40,159.33 L397.65,159.40 L397.90,159.43 L398.15,159.46 L398.40,159.42 L398.65,159.40 L398.90,159.46 L399.15,159.30 L399.40,159.48 L399.65,159.41 L399.90,159.35 L400.15,159.40 L400.40,159.32 L400.65,159.31 L400.90,159.41 L401.15,159.39 L401.40,159.48 L401.65,159.38 L401.90,159.36 L402.15,159.38 L402.40,159.55 L402.65,159.45 L402.90,159.41 L403.15,159.39 L403.40,159.38 L403.65,159.44 L403.90,159.48 L404.15,159.52 L404.40,159.52 L404.65,159.47 L404.90,159.42 L405.15,159.41 L405.40,159.32 L405.65,159.40 L405.90,159.49 L406.15,159.45 L406.40,159.49 L406.65,159.39 L406.90,159.53 L407.15,159.49 L407.40,159.48 L407.65,159.50 L407.90,159.34 L408.15,159.45 L408.40,159.43 L408.65,159.59 L408.90,159.47 L409.15,159.46 L409.40,159.54 L409.65,159.43 L409.90,159.58 L410.15,159.45 L410.40,159.49 L410.65,159.44 L410.90,159.55 L411.15,159.37 L411.40,159.54 L411.65,159.45 L411.90,159.51 L412.15,159.44 L412.40,159.52 L412.65,159.52 L412.90,159.55 L413.15,159.53 L413.40,159.55 L413.65,159.58 L413.90,159.49 L414.15,159.45 L414.40,159.44 L414.65,159.56 L414.90,159.50 L415.15,159.59 L415.40,159.53 L415.65,159.47 L415.90,159.59 L416.15,159.65 L416.40,159.52 L416.65,159.48 L416.90,159.49 L417.15,159.59 L417.40,159.51 L417.65,159.52 L417.90,159.58 L418.15,159.55 L418.40,159.55 L418.65,159.52 L418.90,159.51 L419.15,159.56 L419.40,159.56 L419.65,159.59 L419.90,159.53 L420.15,159.58 L420.40,159.59 L420.65,159.57 L420.90,159.60 L421.15,159.63 L421.40,159.58 L421.65,159.57 L421.90,159.51 L422.15,159.59 L422.40,159.57 L422.65,159.56 L422.90,159.53 L423.15,159.61 L423.40,159.73 L423.65,159.61 L423.90,159.59 L424.15,159.61 L424.40,159.55 L424.65,159.59 L424.90,159.55 L425.15,159.55 L425.40,159.61 L425.65,159.61 L425.90,159.59 L426.15,159.55 L426.40,159.61 L426.65,159.54 L426.90,159.65 L427.15,159.58 L427.40,159.61 L427.65,159.65 L427.90,159.64 L428.15,159.53 L428.40,159.60 L428.65,159.64 L428.90,159.55 L429.15,159.47 L429.40,159.61 L429.65,159.62 L429.90,159.65 L430.15,159.63 L430.40,159.63 L430.65,159.64 L430.90,159.71 L431.15,159.66 L431.40,159.66 L431.65,159.61 L431.90,159.70 L432.15,159.63 L432.40,159.68 L432.65,159.51 L432.90,159.66 L433.15,159.64 L433.40,159.62 L433.65,159.72 L433.90,159.67 L434.15,159.64 L434.40,159.62 L434.65,159.76 L434.90,159.70 L435.15,159.70 L435.40,159.61 L435.65,159.74 L435.90,159.69 L436.15,159.65 L436.40,159.66 L436.65,159.57 L436.90,159.71 L437.15,159.60 L437.40,159.72 L437.65,159.65 L437.90,159.64 L438.15,159.70 L438.40,159.69 L438.65,159.61 L438.90,159.68 L439.15,159.72 L439.40,159.67 L439.65,159.60 L439.90,159.67 L440.15,159.63 L440.40,159.66 L440.65,159.69 L440.90,159.69 L441.15,159.68 L441.40,159.60 L441.65,159.72" stroke="#4a4a4a" stroke-width="1.1" fill="none" stroke-linejoin="round" stroke-linecap="round" />
<path d="M270.30,85.81 L270.55,92.33 L270.80,98.03 L271.05,104.75 L271.30,107.38 L271.55,109.49 L271.80,112.15 L272.05,113.83 L272.30,115.90 L272.55,118.20 L272.80,119.03 L273.05,119.13 L273.30,119.67 L273.55,119.66 L273.80,120.18 L274.05,120.54 L274.30,120.68 L274.55,121.00 L274.80,121.33 L275.05,121.73 L275.30,121.80 L275.55,121.80 L275.80,121.92 L276.05,121.58 L276.30,121.89 L276.55,121.94 L276.80,122.02 L277.05,121.53 L277.30,121.51 L277.55,120.89 L277.80,120.95 L278.05,120.12 L278.30,119.76 L278.55,119.63 L278.80,117.77 L279.05,117.08 L279.30,114.91 L279.55,111.83 L279.80,107.93 L280.05,102.61 L280.30,97.09 L280.55,93.51 L280.80,95.03 L281.05,100.27 L281.30,106.00 L281.55,111.01 L281.80,114.34 L282.05,117.32 L282.30,118.40 L282.55,119.93 L282.80,120.98 L283.05,121.48 L283.30,123.10 L283.55,122.53 L283.80,123.48 L284.05,123.77 L284.30,124.62 L284.55,124.11 L284.80,125.23 L285.05,125.12 L285.30,125.58 L285.55,125.76 L285.80,126.38 L286.05,126.21 L286.30,126.75 L286.55,127.12 L286.80,127.75 L287.05,126.87 L287.30,127.98 L287.55,127.96 L287.80,127.72 L288.05,128.04 L288.30,127.96 L288.55,128.60 L288.80,128.35 L289.05,128.35 L289.30,128.46 L289.55,128.57 L289.80,128.67 L290.05,128.60 L290.30,129.43 L290.55,128.53 L290.80,128.06 L291.05,128.85 L291.30,128.76 L291.55,128.80 L291.80,128.56 L292.05,128.47 L292.30,128.49 L292.55,128.54 L292.80,128.06 L293.05,127.95 L293.30,128.38 L293.55,127.86 L293.80,127.30 L294.05,127.94 L294.30,127.32 L294.55,126.69 L294.80,126.18 L295.05,126.09 L295.30,125.27 L295.55,124.65 L295.80,124.15 L296.05,124.20 L296.30,124.81 L296.55,124.85 L296.80,125.09 L297.05,126.05 L297.30,126.24 L297.55,126.69 L297.80,126.97 L298.05,126.76 L298.30,126.86 L298.55,126.95 L298.80,126.73 L299.05,127.22 L299.30,127.43 L299.55,127.15 L299.80,127.05 L300.05,127.05 L300.30,126.92 L300.55,126.91 L300.80,127.01 L301.05,126.89 L301.30,126.98 L301.55,126.68 L301.80,127.14 L302.05,127.05 L302.30,126.73 L302.55,126.50 L302.80,127.13 L303.05,127.46 L303.30,127.05 L303.55,127.17 L303.80,127.20 L304.05,127.55 L304.30,127.21 L304.55,127.74 L304.80,127.46 L305.05,127.82 L305.30,127.64 L305.55,127.61 L305.80,127.29 L306.05,127.48 L306.30,127.58 L306.55,127.80 L306.80,127.68 L307.05,127.44 L307.30,127.70 L307.55,127.83 L307.80,127.54 L308.05,127.45 L308.30,127.45 L308.55,127.73 L308.80,127.65 L309.05,127.27 L309.30,127.58 L309.55,127.35 L309.80,127.26 L310.05,127.74 L310.30,127.61 L310.55,127.17 L310.80,127.31 L311.05,127.36 L311.30,127.01 L311.55,127.07 L311.80,127.20 L312.05,126.51 L312.30,126.95 L312.55,126.96 L312.80,126.80 L313.05,126.22 L313.30,126.50 L313.55,126.05 L313.80,126.22 L314.05,126.01 L314.30,125.64 L314.55,125.08 L314.80,124.77 L315.05,124.77 L315.30,124.03 L315.55,124.20 L315.80,124.22 L316.05,124.20 L316.30,125.13 L316.55,124.83 L316.80,125.60 L317.05,124.76 L317.30,124.86 L317.55,125.79 L317.80,125.78 L318.05,125.61 L318.30,125.71 L318.55,125.27 L318.80,125.60 L319.05,125.51 L319.30,125.70 L319.55,125.97 L319.80,125.78 L320.05,125.91 L320.30,125.70 L320.55,125.81 L320.80,126.00 L321.05,125.95 L321.30,126.38 L321.55,125.89 L321.80,126.62 L322.05,125.94 L322.30,126.49 L322.55,126.07 L322.80,126.72 L323.05,126.38 L323.30,126.48 L323.55,126.61 L323.80,126.30 L324.05,126.23 L324.30,126.02 L324.55,126.87 L324.80,126.43 L325.05,126.49 L325.30,126.67 L325.55,127.21 L325.80,126.31 L326.05,126.84 L326.30,126.72 L326.55,126.98 L326.80,126.43 L327.05,126.82 L327.30,127.16 L327.55,127.29 L327.80,127.26 L328.05,126.59 L328.30,126.77 L328.55,126.68 L328.80,126.32 L329.05,126.25 L329.30,126.75 L329.55,126.58 L329.80,126.43 L330.05,126.72 L330.30,126.12 L330.55,126.45 L330.80,126.27 L331.05,126.20 L331.30,126.29 L331.55,126.16 L331.80,126.14 L332.05,126.09 L332.30,126.46 L332.55,125.85 L332.80,126.13 L333.05,125.98 L333.30,125.69 L333.55,125.92 L333.80,125.46 L334.05,125.92 L334.30,125.37 L334.55,125.46 L334.80,125.68 L335.05,125.81 L335.30,125.84 L335.55,125.85 L335.80,125.58 L336.05,125.41 L336.30,125.79 L336.55,125.74 L336.80,125.44 L337.05,125.93 L337.30,125.74 L337.55,125.46 L337.80,125.82 L338.05,125.39 L338.30,125.51 L338.55,125.84 L338.80,125.36 L339.05,125.77 L339.30,125.43 L339.55,125.97 L339.80,125.64 L340.05,125.91 L340.30,125.53 L340.55,125.87 L340.80,126.24 L341.05,126.16 L341.30,125.63 L341.55,126.36 L341.80,126.40 L342.05,126.13 L342.30,126.62 L342.55,126.05 L342.80,126.34 L343.05,126.68 L343.30,126.77 L343.55,126.81 L343.80,126.26 L344.05,126.14 L344.30,126.72 L344.55,126.31 L344.80,126.68 L345.05,126.44 L345.30,127.07 L345.55,127.05 L345.80,127.03 L346.05,126.94 L346.30,127.00 L346.55,126.96 L346.80,127.17 L347.05,127.18 L347.30,127.28 L347.55,127.10 L347.80,127.73 L348.05,127.37 L348.30,127.68 L348.55,127.69 L348.80,127.17 L349.05,127.00 L349.30,127.77 L349.55,127.39 L349.80,127.54 L350.05,127.49 L350.30,127.62 L350.55,127.32 L350.80,127.63 L351.05,127.57 L351.30,127.71 L351.55,127.17 L351.80,127.99 L352.05,127.90 L352.30,127.42 L352.55,127.70 L352.80,127.92 L353.05,128.10 L353.30,127.98 L353.55,128.36 L353.80,128.05 L354.05,127.82 L354.30,127.94 L354.55,128.33 L354.80,128.02 L355.05,128.41 L355.30,128.49 L355.55,128.42 L355.80,128.56 L356.05,128.29 L356.30,128.36 L356.55,128.25 L356.80,128.28 L357.05,128.07 L357.30,128.36 L357.55,128.26 L357.80,128.20 L358.05,128.63 L358.30,128.74 L358.55,128.57 L358.80,129.03 L359.05,128.96 L359.30,129.02 L359.55,128.64 L359.80,128.45 L360.05,128.99 L360.30,128.96 L360.55,129.10 L360.80,129.05 L361.05,129.30 L361.30,128.94 L361.55,129.21 L361.80,128.86 L362.05,128.53 L362.30,129.03 L362.55,129.55 L362.80,128.79 L363.05,129.50 L363.30,129.10 L363.55,129.21 L363.80,129.35 L364.05,129.42 L364.30,129.16 L364.55,129.47 L364.80,129.58 L365.05,129.71 L365.30,129.35 L365.55,129.96 L365.80,130.08 L366.05,130.24 L366.30,129.33 L366.55,129.74 L366.80,129.27 L367.05,129.86 L367.30,129.94 L367.55,129.55 L367.80,129.47 L368.05,129.95 L368.30,130.09 L368.55,129.77 L368.80,129.94 L369.05,129.40 L369.30,129.89 L369.55,130.14 L369.80,130.17 L370.05,130.56 L370.30,129.92 L370.55,129.67 L370.80,130.38 L371.05,130.15 L371.30,130.41 L371.55,130.55 L371.80,130.55 L372.05,130.80 L372.30,130.81 L372.55,130.09 L372.80,130.52 L373.05,131.07 L373.30,130.50 L373.55,130.88 L373.80,130.65 L374.05,130.60 L374.30,131.13 L374.55,131.03 L374.80,130.74 L375.05,131.06 L375.30,130.54 L375.55,130.72 L375.80,131.16 L376.05,130.98 L376.30,130.74 L376.55,131.15 L376.80,131.15 L377.05,131.42 L377.30,131.38 L377.55,131.10 L377.80,131.08 L378.05,131.20 L378.30,131.21 L378.55,131.67 L378.80,131.73 L379.05,131.71 L379.30,131.50 L379.55,131.37 L379.80,131.70 L380.05,131.41 L380.30,131.59 L380.55,131.14 L380.80,131.48 L381.05,131.97 L381.30,131.38 L381.55,131.29 L381.80,131.65 L382.05,132.14 L382.30,132.11 L382.55,131.69 L382.80,131.68 L383.05,131.80 L383.30,131.63 L383.55,131.89 L383.80,131.84 L384.05,131.57 L384.30,131.82 L384.55,131.93 L384.80,131.81 L385.05,131.77 L385.30,132.30 L385.55,132.58 L385.80,132.06 L386.05,132.05 L386.30,132.31 L386.55,132.16 L386.80,132.05 L387.05,132.62 L387.30,132.04 L387.55,132.14 L387.80,132.19 L388.05,132.16 L388.30,132.35 L388.55,132.58 L388.80,132.82 L389.05,132.65 L389.30,132.52 L389.55,132.23 L389.80,132.56 L390.05,132.36 L390.30,132.60 L390.55,132.90 L390.80,132.73 L391.05,132.66 L391.30,132.55 L391.55,132.76 L391.80,132.82 L392.05,132.59 L392.30,132.72 L392.55,133.09 L392.80,132.48 L393.05,132.82 L393.30,132.66 L393.55,133.37 L393.80,133.16 L394.05,133.17 L394.30,133.16 L394.55,133.16 L394.80,133.18 L395.05,132.72 L395.30,133.20 L395.55,133.29 L395.80,132.80 L396.05,133.38 L396.30,133.35 L396.55,132.82 L396.80,133.09 L397.05,133.15 L397.30,133.10 L397.55,133.35 L397.80,132.94 L398.05,133.22 L398.30,133.34 L398.55,133.48 L398.80,133.32 L399.05,133.26 L399.30,133.51 L399.55,132.85 L399.80,133.60 L400.05,133.30 L400.30,133.08 L400.55,133.29 L400.80,132.96 L401.05,132.92 L401.30,133.36 L401.55,133.26 L401.80,133.65 L402.05,133.26 L402.30,133.17 L402.55,133.26 L402.80,133.95 L403.05,133.54 L403.30,133.39 L403.55,133.31 L403.80,133.29 L404.05,133.54 L404.30,133.70 L404.55,133.89 L404.80,133.91 L405.05,133.70 L405.30,133.48 L405.55,133.44 L405.80,133.09 L406.05,133.43 L406.30,133.80 L406.55,133.62 L406.80,133.81 L407.05,133.40 L407.30,133.97 L407.55,133.83 L407.80,133.78 L408.05,133.89 L408.30,133.24 L408.55,133.67 L408.80,133.60 L409.05,134.29 L409.30,133.80 L409.55,133.74 L409.80,134.09 L410.05,133.63 L410.30,134.26 L410.55,133.74 L410.80,133.91 L411.05,133.71 L411.30,134.15 L411.55,133.42 L411.80,134.15 L412.05,133.79 L412.30,134.02 L412.55,133.73 L412.80,134.09 L413.05,134.09 L413.30,134.20 L413.55,134.15 L413.80,134.24 L414.05,134.34 L414.30,134.01 L414.55,133.82 L414.80,133.81 L415.05,134.31 L415.30,134.06 L415.55,134.43 L415.80,134.19 L416.05,133.94 L416.30,134.44 L416.55,134.71 L416.80,134.19 L417.05,134.01 L417.30,134.05 L417.55,134.50 L417.80,134.14 L418.05,134.20 L418.30,134.48 L418.55,134.33 L418.80,134.37 L419.05,134.21 L419.30,134.20 L419.55,134.42 L419.80,134.43 L420.05,134.55 L420.30,134.28 L420.55,134.50 L420.80,134.54 L421.05,134.44 L421.30,134.57 L421.55,134.69 L421.80,134.49 L422.05,134.46 L422.30,134.21 L422.55,134.54 L422.80,134.44 L423.05,134.39 L423.30,134.27 L423.55,134.62 L423.80,135.13 L424.05,134.60 L424.30,134.52 L424.55,134.61 L424.80,134.36 L425.05,134.54 L425.30,134.35 L425.55,134.37 L425.80,134.59 L426.05,134.59 L426.30,134.51 L426.55,134.35 L426.80,134.62 L427.05,134.29 L427.30,134.76 L427.55,134.49 L427.80,134.58 L428.05,134.78 L428.30,134.73 L428.55,134.27 L428.80,134.54 L429.05,134.70 L429.30,134.34 L429.55,134.02 L429.80,134.61 L430.05,134.62 L430.30,134.74 L430.55,134.66 L430.80,134.68 L431.05,134.71 L431.30,135.00 L431.55,134.78 L431.80,134.80 L432.05,134.58 L432.30,134.96 L432.55,134.64 L432.80,134.88 L433.05,134.17 L433.30,134.76 L433.55,134.69 L433.80,134.60 L434.05,135.04 L434.30,134.83 L434.55,134.70 L434.80,134.61 L435.05,135.21 L435.30,134.94 L435.55,134.92 L435.80,134.57 L436.05,135.09 L436.30,134.91 L436.55,134.71 L436.80,134.76 L437.05,134.38 L437.30,134.96 L437.55,134.53 L437.80,135.02 L438.05,134.70 L438.30,134.66 L438.55,134.92 L438.80,134.88 L439.05,134.55 L439.30,134.82 L439.55,135.00 L439.80,134.79 L440.05,134.52 L440.30,134.80 L440.55,134.63 L440.80,134.73 L441.05,134.89 L441.30,134.87 L441.55,134.84 L441.80,134.49" stroke="#ff8000" stroke-width="1.4" fill="none" stroke-linejoin="round" stroke-linecap="round" />
<line x1="269.50" y1="6.20" x2="269.50" y2="161.50" stroke="#000" stroke-width="1.3" />
<line x1="268.90" y1="160.90" x2="442.80" y2="160.90" stroke="#000" stroke-width="1.3" />
<line x1="267.30" y1="15.86" x2="269.50" y2="15.86" stroke="#000" stroke-width="1.0" />
<line x1="266.70" y1="24.93" x2="269.50" y2="24.93" stroke="#000" stroke-width="1.0" />
<line x1="267.30" y1="33.99" x2="269.50" y2="33.99" stroke="#000" stroke-width="1.0" />
<line x1="266.70" y1="43.06" x2="269.50" y2="43.06" stroke="#000" stroke-width="1.0" />
<line x1="267.30" y1="52.12" x2="269.50" y2="52.12" stroke="#000" stroke-width="1.0" />
<line x1="266.70" y1="61.19" x2="269.50" y2="61.19" stroke="#000" stroke-width="1.0" />
<line x1="267.30" y1="70.25" x2="269.50" y2="70.25" stroke="#000" stroke-width="1.0" />
<line x1="266.70" y1="79.32" x2="269.50" y2="79.32" stroke="#000" stroke-width="1.0" />
<line x1="267.30" y1="88.38" x2="269.50" y2="88.38" stroke="#000" stroke-width="1.0" />
<line x1="266.70" y1="97.45" x2="269.50" y2="97.45" stroke="#000" stroke-width="1.0" />
<line x1="267.30" y1="106.51" x2="269.50" y2="106.51" stroke="#000" stroke-width="1.0" />
<line x1="266.70" y1="115.58" x2="269.50" y2="115.58" stroke="#000" stroke-width="1.0" />
<line x1="267.30" y1="124.64" x2="269.50" y2="124.64" stroke="#000" stroke-width="1.0" />
<line x1="266.70" y1="133.71" x2="269.50" y2="133.71" stroke="#000" stroke-width="1.0" />
<line x1="267.30" y1="142.77" x2="269.50" y2="142.77" stroke="#000" stroke-width="1.0" />
<line x1="266.70" y1="151.84" x2="269.50" y2="151.84" stroke="#000" stroke-width="1.0" />
<line x1="267.30" y1="160.90" x2="269.50" y2="160.90" stroke="#000" stroke-width="1.0" />
<line x1="283.60" y1="160.90" x2="283.60" y2="162.90" stroke="#000" stroke-width="1.0" />
<line x1="306.27" y1="160.90" x2="306.27" y2="163.70" stroke="#000" stroke-width="1.0" />
<line x1="328.93" y1="160.90" x2="328.93" y2="162.90" stroke="#000" stroke-width="1.0" />
<line x1="351.60" y1="160.90" x2="351.60" y2="163.70" stroke="#000" stroke-width="1.0" />
<line x1="374.27" y1="160.90" x2="374.27" y2="162.90" stroke="#000" stroke-width="1.0" />
<line x1="396.93" y1="160.90" x2="396.93" y2="163.70" stroke="#000" stroke-width="1.0" />
<line x1="419.60" y1="160.90" x2="419.60" y2="162.90" stroke="#000" stroke-width="1.0" />
<line x1="442.27" y1="160.90" x2="442.27" y2="163.70" stroke="#000" stroke-width="1.0" />
<text x="306.27" y="172.80" font-size="9.4" text-anchor="middle" fill="#000" font-weight="bold" >10</text>
<text x="351.60" y="172.80" font-size="9.4" text-anchor="middle" fill="#000" font-weight="bold" >20</text>
<text x="396.93" y="172.80" font-size="9.4" text-anchor="middle" fill="#000" font-weight="bold" >30</text>
<text x="442.27" y="172.80" font-size="9.4" text-anchor="middle" fill="#000" font-weight="bold" >40</text>
<text x="356.00" y="188.50" font-size="9.5" text-anchor="middle" fill="#000" font-weight="bold" >2θ (°, Cu Kα)</text>
<text x="256.30" y="80.70" font-size="9.9" text-anchor="middle" fill="#000" font-weight="bold" transform="rotate(-90 256.3 80.7)">Intensity (a.u.)</text>
<line x1="358.90" y1="15.40" x2="381.00" y2="15.40" stroke="#8000ff" stroke-width="1.4" />
<text x="384.00" y="18.90" font-size="9.7" text-anchor="start" fill="#000" font-weight="bold" >DCNA-1_AC</text>
<line x1="358.90" y1="27.80" x2="381.00" y2="27.80" stroke="#4a4a4a" stroke-width="1.3" />
<text x="384.00" y="31.30" font-size="9.7" text-anchor="start" fill="#000" font-weight="bold" >DCNA-1</text>
<line x1="357.50" y1="96.50" x2="381.00" y2="96.50" stroke="#ff8000" stroke-width="1.4" />
<text x="384.00" y="100.00" font-size="9.7" text-anchor="start" fill="#000" font-weight="bold" >DNCA-1_AC</text>
<line x1="358.40" y1="108.90" x2="381.00" y2="108.90" stroke="#4a4a4a" stroke-width="1.3" />
<text x="384.00" y="112.40" font-size="9.7" text-anchor="start" fill="#000" font-weight="bold" >DNCA-1</text>
<text x="463.00" y="14.10" font-size="18.5" text-anchor="start" fill="#000" font-weight="bold" >c</text>
<g fill="#5e0c16"><circle cx="531.5" cy="92.5" r="3.82"/><circle cx="537.5" cy="88.5" r="3.40"/><circle cx="541.0" cy="84.5" r="2.98"/><circle cx="548.0" cy="84.0" r="2.98"/><circle cx="553.5" cy="85.5" r="2.98"/><circle cx="559.0" cy="88.0" r="2.98"/><circle cx="563.5" cy="91.5" r="2.55"/><circle cx="545.0" cy="92.0" r="3.40"/><circle cx="551.0" cy="93.5" r="3.40"/><circle cx="557.0" cy="95.0" r="2.98"/><circle cx="547.0" cy="100.5" r="2.98"/><circle cx="553.0" cy="103.0" r="3.40"/><circle cx="566.0" cy="101.5" r="2.98"/><circle cx="560.5" cy="104.0" r="2.55"/><circle cx="549.0" cy="107.0" r="2.98"/><circle cx="556.0" cy="110.0" r="2.55"/><circle cx="555.5" cy="115.5" r="2.12"/><circle cx="536.0" cy="96.0" r="2.55"/></g>
<path stroke="#5e0c16" stroke-width="2.0" stroke-linecap="round" fill="none" d="M566.0 92.5h0M545.7 97.7h0M534.8 87.5h0M553.5 114.5h0M548.0 82.4h0M551.2 93.5h0M551.4 101.1h0M540.5 83.3h0M559.9 106.1h0M541.6 92.9h0M548.1 101.9h0M536.3 96.9h0M557.8 115.9h0M541.7 83.4h0M551.0 96.1h0M549.5 99.6h0M555.9 108.3h0M545.8 102.0h0M558.9 90.2h0M556.4 113.5h0M557.3 116.5h0M539.2 81.9h0M554.2 114.2h0M534.8 98.7h0M548.7 86.1h0M535.4 92.7h0M541.9 81.3h0M547.4 100.4h0M555.4 105.2h0M543.8 86.3h0M535.0 98.3h0M554.2 83.4h0M555.1 104.1h0M545.4 101.3h0M531.3 90.4h0M545.6 101.2h0M549.1 103.6h0M561.6 102.7h0M562.3 88.4h0M557.2 86.2h0M549.1 104.3h0M555.8 105.0h0M556.3 86.7h0M557.3 87.2h0"/>
<path stroke="#5e0c16" stroke-width="2.4" stroke-linecap="round" fill="none" d="M555.7 112.2h0M568.1 101.6h0M555.6 85.2h0M538.9 85.6h0M558.3 96.1h0M544.6 91.3h0M553.0 94.0h0M535.1 88.3h0M556.5 88.6h0M545.3 91.8h0M550.1 106.1h0M548.5 105.4h0M537.5 94.7h0M566.7 98.9h0M547.6 82.5h0M533.7 96.1h0M565.2 101.0h0M530.1 95.4h0M554.7 96.5h0M563.7 102.9h0M559.8 89.4h0M564.8 93.7h0M553.3 85.2h0M555.1 103.9h0M549.4 95.0h0M553.9 101.8h0M559.6 96.2h0M554.4 111.3h0M534.7 89.3h0M555.7 110.9h0M542.9 94.0h0M554.9 114.3h0M555.8 93.3h0M560.4 85.3h0M560.1 104.5h0M545.7 98.5h0M546.9 106.5h0M531.1 96.7h0M559.4 105.1h0M551.5 90.8h0M548.3 84.2h0M535.2 91.0h0M563.3 100.5h0M551.4 104.6h0M561.8 104.5h0M556.7 115.0h0M547.4 97.2h0M562.1 102.1h0M556.2 117.5h0M551.8 105.4h0M555.9 83.7h0M564.5 89.9h0"/>
<path stroke="#5e0c16" stroke-width="2.8" stroke-linecap="round" fill="none" d="M561.5 103.7h0M567.0 99.4h0M545.6 107.5h0M548.3 103.3h0M549.8 92.0h0M536.8 92.3h0M557.9 103.4h0M560.2 104.4h0M557.7 103.1h0M553.9 104.1h0M554.4 110.7h0M555.0 83.1h0M567.9 102.0h0M540.3 83.2h0M565.5 93.4h0M553.9 94.1h0M537.0 88.7h0M535.8 96.2h0M554.9 102.7h0M552.2 104.0h0M550.1 100.5h0M558.3 108.2h0M537.8 94.3h0M568.3 99.5h0M539.3 88.5h0M547.3 100.5h0M533.2 91.9h0M534.3 89.1h0M554.4 95.8h0M556.7 114.1h0M532.8 91.6h0M550.7 86.7h0M558.7 95.0h0M557.2 112.4h0M538.8 88.3h0M556.3 113.5h0M560.2 102.1h0M550.8 101.1h0M547.5 98.1h0"/>
<path stroke="#5e0c16" stroke-width="3.2" stroke-linecap="round" fill="none" d="M548.0 104.5h0M550.3 84.7h0M559.5 102.2h0M549.5 95.4h0M554.2 110.1h0M559.8 104.1h0M551.2 90.9h0M556.4 96.4h0M548.2 107.1h0M548.2 102.5h0M566.1 91.2h0M530.4 91.6h0M554.3 83.1h0M550.3 85.7h0M548.3 92.6h0M561.8 91.9h0M547.7 98.4h0M554.4 112.4h0M557.0 112.0h0M568.6 99.3h0M548.9 91.1h0M563.6 93.7h0M552.6 83.2h0M553.6 102.0h0M553.0 88.1h0M542.4 89.5h0M564.9 89.5h0M539.4 87.6h0M562.3 87.2h0M556.0 87.0h0M551.0 96.0h0M560.8 101.8h0M556.0 94.6h0M549.4 85.1h0M554.0 106.8h0M542.9 81.7h0M556.9 112.2h0M542.6 91.3h0M545.8 90.0h0M562.6 101.9h0M545.5 90.0h0M540.9 84.3h0M547.6 87.3h0M546.2 93.0h0M545.3 83.9h0M563.4 88.9h0M546.7 87.1h0M547.7 86.4h0M556.9 90.2h0M534.9 95.9h0M553.5 101.6h0"/>
<path stroke="#5e0c16" stroke-width="3.6" stroke-linecap="round" fill="none" d="M556.9 117.5h0M556.1 83.7h0M534.2 91.9h0M542.2 93.8h0M534.5 95.3h0M558.2 97.1h0M553.5 86.2h0M550.1 93.4h0M556.8 102.5h0M557.8 93.6h0M530.6 92.2h0M547.0 109.5h0M545.2 85.5h0M528.6 90.6h0M550.3 99.5h0M545.8 102.3h0M556.5 116.2h0M554.4 113.7h0M554.3 97.2h0M563.7 89.3h0M555.0 109.1h0M560.9 103.7h0M554.4 96.7h0M554.7 86.0h0M554.5 115.3h0M547.2 103.1h0M557.2 116.6h0M561.3 88.6h0M556.8 107.2h0M554.3 115.1h0M536.9 94.0h0M550.7 110.0h0M548.3 108.8h0M555.6 85.8h0M540.8 89.6h0M555.6 93.1h0M541.8 87.6h0M533.1 95.5h0M562.0 106.5h0M553.7 110.8h0M556.5 87.3h0M541.4 88.8h0M544.6 93.4h0M567.2 99.0h0M543.8 94.3h0M561.6 106.2h0M544.8 94.1h0M548.9 93.6h0M549.7 100.7h0M546.9 87.0h0M563.4 104.1h0M559.6 102.1h0"/>
<path stroke="#5e0c16" stroke-width="4.0" stroke-linecap="round" fill="none" d="M538.5 96.5h0M542.1 89.3h0M549.1 109.0h0M554.6 113.7h0M560.7 101.9h0M553.4 116.1h0M561.3 106.8h0M564.2 90.9h0M558.8 84.5h0M552.6 103.8h0M556.1 87.4h0M554.1 86.4h0M534.9 95.6h0M534.8 89.4h0M549.7 82.4h0M554.8 107.5h0M554.3 88.5h0M558.5 109.7h0M533.5 96.1h0M553.7 83.0h0M528.4 89.8h0M537.9 89.4h0"/>
<path stroke="#9c1c2c" stroke-width="0.8" stroke-linecap="round" fill="none" d="M549.7 90.6h0M554.1 114.6h0M535.3 97.4h0"/>
<path stroke="#9c1c2c" stroke-width="1.2" stroke-linecap="round" fill="none" d="M564.7 92.2h0M547.4 90.4h0M532.5 90.3h0M530.0 94.9h0M556.3 114.7h0M555.1 84.5h0M536.3 97.3h0M547.0 83.2h0M533.6 94.9h0M550.3 92.6h0M553.4 115.6h0M544.5 101.0h0M540.1 86.8h0M556.5 93.9h0M553.3 104.7h0M541.7 91.7h0M553.0 85.2h0M555.3 93.3h0M546.3 97.6h0M554.4 116.4h0M536.0 86.9h0M565.9 99.4h0M557.0 116.3h0M556.7 108.7h0M539.3 84.4h0M560.0 88.1h0M554.8 105.4h0M566.2 100.2h0M536.5 94.8h0M552.7 103.5h0M554.0 92.7h0M567.0 101.5h0M551.1 103.4h0M558.1 92.7h0M554.0 117.0h0M536.4 96.1h0M542.4 86.4h0M539.1 84.4h0M565.7 91.4h0M547.0 83.1h0M534.7 89.6h0M548.2 97.7h0M548.0 93.3h0M539.1 86.6h0M563.0 91.2h0"/>
<path stroke="#9c1c2c" stroke-width="1.6" stroke-linecap="round" fill="none" d="M547.4 109.1h0M560.0 104.1h0M554.2 110.0h0M560.3 102.6h0M534.9 91.5h0M527.9 91.9h0M564.0 101.4h0M533.7 93.7h0M551.9 92.9h0M550.5 90.9h0M556.0 114.0h0M550.4 84.2h0M536.7 91.3h0M545.1 99.9h0M546.1 99.4h0M548.2 85.9h0M547.9 85.9h0M561.3 90.7h0M549.8 86.6h0M542.3 83.8h0M562.2 92.0h0M551.0 84.3h0M558.4 86.3h0M558.7 92.4h0M566.1 91.4h0M549.5 85.9h0M565.9 90.9h0M555.2 107.5h0M538.9 89.3h0M537.2 98.4h0M553.4 95.0h0M534.6 94.2h0M555.5 114.9h0M547.7 90.3h0M552.5 86.3h0M555.6 86.5h0M540.2 85.6h0M553.1 86.7h0M548.3 101.1h0M550.6 90.2h0M563.4 90.1h0M560.4 106.0h0M543.1 93.8h0"/>
<path stroke="#9c1c2c" stroke-width="2.0" stroke-linecap="round" fill="none" d="M545.8 100.0h0M547.1 89.2h0M548.1 109.9h0M556.9 116.9h0M564.1 103.1h0M557.7 108.2h0M557.8 110.2h0M554.8 115.1h0M534.2 88.5h0M535.2 88.0h0M552.3 104.7h0M553.4 116.2h0M552.3 85.7h0M544.0 100.9h0M556.8 89.0h0M538.3 90.3h0M555.6 115.1h0M549.0 99.4h0M550.3 83.5h0M545.2 83.7h0M561.3 87.2h0M554.0 85.6h0M549.3 84.0h0M533.9 94.9h0M550.0 92.8h0M565.7 100.2h0M532.0 95.2h0M536.3 95.9h0M550.0 108.3h0M556.8 116.1h0M561.8 88.6h0M563.4 93.2h0M555.2 92.5h0M552.6 91.9h0M554.0 82.9h0M535.1 91.4h0M555.0 86.5h0M556.9 108.9h0M542.4 93.3h0"/>
<path stroke="#2e0508" stroke-width="0.8" stroke-linecap="round" fill="none" d="M539.9 82.6h0M545.0 90.8h0M543.2 91.6h0M537.0 98.2h0M568.7 101.7h0M552.7 85.8h0M564.5 91.6h0M557.9 109.8h0M546.0 81.8h0M557.0 95.9h0M559.1 94.3h0M565.9 90.2h0M559.1 103.2h0"/>
<path stroke="#2e0508" stroke-width="1.2" stroke-linecap="round" fill="none" d="M565.0 91.8h0M543.4 84.7h0M535.5 88.7h0M544.0 93.3h0M561.8 92.8h0M556.0 110.8h0M565.9 90.4h0M538.0 85.0h0M548.5 107.3h0M542.7 86.0h0M552.4 86.0h0M533.9 97.2h0M547.5 93.5h0M551.5 85.5h0M549.8 82.4h0M555.5 114.9h0M564.1 89.6h0M545.7 90.8h0M548.0 107.0h0M558.6 88.0h0"/>
<path stroke="#2e0508" stroke-width="1.6" stroke-linecap="round" fill="none" d="M536.1 97.7h0M549.5 90.4h0M548.4 101.9h0M548.0 108.1h0M544.7 89.4h0M537.0 94.6h0M549.6 82.9h0M560.0 90.4h0M564.0 92.8h0M537.2 87.7h0M554.0 110.8h0M556.4 108.0h0M550.4 84.3h0M560.2 104.6h0M534.3 95.0h0M551.1 84.8h0M553.5 102.0h0M543.0 89.3h0M555.1 96.4h0M556.7 95.4h0M550.1 108.1h0M549.4 105.6h0M559.3 93.7h0M558.2 88.6h0M550.2 95.3h0M544.3 102.0h0M545.7 90.3h0M552.3 101.7h0M549.3 86.3h0M564.9 89.8h0M558.5 95.3h0M554.8 117.2h0"/>
<path stroke="#c03040" stroke-width="0.8" stroke-linecap="round" fill="none" d="M559.0 93.1h0M554.3 110.1h0M551.7 93.8h0M530.3 92.5h0M547.5 100.3h0M562.0 89.0h0M560.3 86.8h0M551.4 91.8h0M548.8 91.8h0M554.7 101.1h0M549.0 84.9h0M557.1 85.8h0M539.6 85.3h0M553.2 83.9h0M549.1 106.3h0"/>
<path stroke="#c03040" stroke-width="1.2" stroke-linecap="round" fill="none" d="M531.0 92.5h0M547.3 93.8h0M557.7 111.3h0M554.2 88.3h0M551.6 104.6h0M556.5 108.6h0M544.0 85.0h0M549.8 90.3h0M543.7 85.7h0M545.4 91.6h0M561.0 91.5h0M534.2 97.5h0M556.9 97.5h0M561.2 88.9h0"/>
<path stroke="#c03040" stroke-width="1.6" stroke-linecap="round" fill="none" d="M555.9 112.2h0M564.3 91.6h0"/>
<g fill="#30243a"><circle cx="615.0" cy="55.5" r="5.10"/><circle cx="613.5" cy="66.0" r="8.50"/><circle cx="614.5" cy="75.0" r="5.95"/><circle cx="621.5" cy="64.0" r="5.10"/><circle cx="606.5" cy="67.0" r="4.67"/><circle cx="622.0" cy="73.0" r="3.82"/><circle cx="609.0" cy="58.0" r="3.82"/></g>
<path stroke="#30243a" stroke-width="2.0" stroke-linecap="round" fill="none" d="M620.0 76.4h0M608.7 69.5h0M608.7 64.7h0M606.1 60.2h0M607.3 57.9h0M609.4 60.6h0M621.1 65.7h0M617.4 75.4h0M615.7 79.2h0M605.7 69.7h0M618.2 72.4h0M619.3 68.0h0M618.0 70.2h0M617.5 68.6h0M619.3 61.4h0M626.0 72.2h0M619.9 64.2h0M619.1 75.8h0M617.2 59.0h0M625.0 62.0h0M620.4 71.9h0M623.6 60.7h0M611.8 57.3h0M612.1 72.1h0M625.7 66.4h0M622.9 71.0h0M613.3 52.6h0M610.3 71.0h0M601.0 66.6h0M609.0 62.1h0M614.1 75.7h0M612.7 52.7h0M611.0 70.9h0M621.2 69.7h0M618.6 66.7h0M620.7 72.4h0M607.7 67.2h0M625.0 63.5h0M619.8 60.5h0M617.5 60.1h0M610.2 54.3h0M621.1 77.2h0M621.3 74.8h0M603.5 69.1h0M612.8 57.8h0M619.5 62.9h0M624.2 65.8h0M614.6 77.7h0M608.9 74.3h0M623.9 71.3h0M625.1 63.8h0M620.8 66.4h0M609.2 64.9h0M616.3 59.4h0"/>
<path stroke="#30243a" stroke-width="2.4" stroke-linecap="round" fill="none" d="M605.9 71.5h0M626.8 64.8h0M616.5 59.9h0M605.8 59.8h0M616.5 61.5h0M605.0 70.7h0M611.0 65.2h0M611.5 58.9h0M614.2 70.5h0M623.9 71.3h0M609.4 59.2h0M623.2 59.1h0M605.2 59.8h0M612.0 55.1h0M619.5 66.8h0M609.3 73.9h0M624.1 69.0h0M622.3 58.1h0M616.0 52.9h0M606.0 64.8h0M618.0 60.0h0M619.6 76.3h0M610.7 57.9h0M611.7 60.3h0M624.3 65.5h0M603.6 66.1h0M606.4 70.5h0M625.3 64.6h0M607.7 61.3h0M615.1 50.3h0M608.9 59.8h0M624.9 73.5h0M601.8 66.8h0M622.4 73.4h0M611.2 54.5h0M606.8 56.5h0M610.1 68.2h0M605.3 66.5h0M617.3 68.2h0M610.9 71.2h0M613.0 75.2h0M617.2 61.0h0M605.0 64.9h0M612.5 77.0h0M624.7 75.9h0M621.7 66.0h0M613.1 56.7h0M624.8 71.1h0"/>
<path stroke="#30243a" stroke-width="2.8" stroke-linecap="round" fill="none" d="M607.9 58.9h0M612.3 57.9h0M604.0 63.2h0M609.6 66.8h0M619.6 57.0h0M609.8 72.0h0M610.0 67.2h0M623.1 62.8h0M609.9 67.1h0M608.1 73.7h0M618.6 59.7h0M608.2 71.7h0M608.3 56.1h0M626.0 65.4h0M609.5 66.3h0M607.5 60.6h0M618.7 65.6h0M618.7 75.1h0M616.1 61.6h0M611.2 66.6h0M626.1 60.7h0M621.2 70.7h0M611.6 60.1h0M612.2 52.4h0M624.9 66.9h0M615.7 61.1h0M620.8 68.8h0M615.9 59.7h0M619.8 65.1h0M608.1 55.8h0M621.9 75.7h0M615.3 75.2h0M610.0 54.5h0M624.5 75.1h0M616.7 60.8h0M617.6 59.7h0M608.2 55.4h0M615.0 75.5h0M606.5 60.1h0M611.6 58.0h0M621.8 75.7h0M609.7 56.8h0M621.8 70.7h0"/>
<path stroke="#30243a" stroke-width="3.2" stroke-linecap="round" fill="none" d="M622.0 68.9h0M618.9 70.7h0M609.8 79.7h0M617.4 77.5h0M613.9 60.7h0M620.3 77.0h0M611.3 74.6h0M611.5 55.1h0M609.2 60.9h0M608.9 58.1h0M616.3 52.9h0M618.0 77.9h0M606.0 60.1h0M618.5 58.6h0M609.1 62.5h0M608.1 58.7h0M608.3 62.7h0M617.9 74.2h0M618.8 75.4h0M623.0 72.3h0M616.7 75.1h0M607.5 58.4h0M606.1 55.3h0M616.8 55.9h0M621.9 60.0h0M621.5 63.5h0M614.8 52.2h0M609.8 57.5h0M613.1 59.4h0M619.1 66.2h0M616.5 56.3h0M614.0 49.7h0M608.2 69.0h0M617.2 68.1h0M623.1 75.3h0M610.3 56.8h0M617.5 79.3h0"/>
<path stroke="#30243a" stroke-width="3.6" stroke-linecap="round" fill="none" d="M621.9 77.0h0M610.0 75.3h0M611.9 60.8h0M619.7 71.8h0M611.2 67.3h0M615.4 79.5h0M619.0 72.0h0M611.2 59.6h0M603.9 65.6h0M618.6 60.0h0M621.3 72.1h0M614.6 75.9h0M611.3 56.5h0M604.0 62.8h0M617.0 55.5h0M614.8 58.1h0M606.0 65.3h0M618.7 67.1h0M617.6 64.3h0M611.6 69.4h0M615.6 70.2h0M610.9 71.1h0M619.0 68.7h0M620.9 75.4h0M621.1 62.6h0M625.0 59.6h0M610.0 56.0h0M608.1 77.7h0M605.8 70.1h0M612.9 52.7h0M625.3 73.5h0M608.1 75.1h0M610.3 54.7h0M619.1 70.4h0M626.2 64.0h0M615.6 53.8h0M616.4 64.2h0M612.2 56.6h0M621.6 76.1h0M605.7 60.8h0M605.2 60.3h0M606.8 62.7h0M617.4 52.9h0M624.4 64.0h0M612.4 51.9h0M618.1 73.1h0M604.7 68.8h0M608.0 57.5h0M620.8 54.5h0M618.8 74.4h0M608.0 71.8h0M624.0 74.7h0M621.5 73.9h0M613.4 71.1h0"/>
<path stroke="#30243a" stroke-width="4.0" stroke-linecap="round" fill="none" d="M622.2 58.6h0M624.6 76.1h0M618.1 57.6h0M617.7 76.7h0M624.7 59.8h0M622.6 58.6h0M611.3 75.8h0M609.2 66.5h0M606.7 68.3h0M616.2 71.0h0M605.0 57.2h0M611.0 68.1h0M622.3 68.7h0M622.0 64.8h0M603.3 63.6h0M611.2 64.9h0M620.5 65.2h0M604.6 64.5h0M618.2 78.0h0M609.6 57.5h0M619.9 55.5h0M620.9 63.4h0M608.0 58.0h0M613.4 69.3h0"/>
<path stroke="#4e3e58" stroke-width="0.8" stroke-linecap="round" fill="none" d="M622.2 76.1h0M610.5 57.1h0M621.5 67.2h0M617.3 64.7h0M609.1 62.0h0M610.0 58.1h0M607.1 56.7h0M624.1 65.9h0M606.3 69.3h0M623.5 64.4h0M606.6 66.2h0M617.0 71.4h0M609.3 59.6h0M610.9 57.4h0M623.3 68.3h0M610.7 73.4h0M623.4 71.2h0M615.6 57.9h0M617.5 77.5h0M616.1 59.9h0M602.4 67.5h0M613.6 51.9h0M612.2 55.1h0M617.8 52.3h0M608.1 58.5h0"/>
<path stroke="#4e3e58" stroke-width="1.2" stroke-linecap="round" fill="none" d="M621.2 76.1h0M608.6 60.8h0M606.7 69.3h0M616.0 59.7h0M622.3 59.3h0M611.5 55.6h0M620.3 70.6h0M606.7 58.4h0M612.2 76.4h0M617.9 60.2h0M616.4 79.2h0M609.9 67.2h0M605.3 69.9h0M607.3 61.4h0M614.7 80.1h0M611.8 73.3h0M619.6 72.4h0M603.7 68.3h0M620.7 74.5h0M606.7 55.5h0M619.4 73.1h0M623.6 65.6h0M619.8 65.9h0M621.7 76.4h0M609.4 61.5h0M608.7 64.3h0M620.8 63.3h0M624.8 75.7h0M616.0 67.8h0M605.8 56.8h0M617.4 53.0h0M621.3 71.5h0M605.9 67.7h0M617.2 64.6h0M622.0 60.1h0M623.6 71.8h0M605.3 66.5h0M609.4 59.9h0M618.1 66.9h0M620.0 66.4h0M611.0 59.0h0M615.3 56.2h0M617.4 70.1h0M620.9 73.9h0M621.6 72.2h0M613.6 50.4h0M621.4 71.3h0M607.6 68.5h0M607.5 71.4h0M604.2 65.6h0M603.6 69.2h0M610.1 60.3h0M620.2 72.8h0M611.7 59.7h0M611.9 53.5h0M619.7 65.6h0M613.5 74.3h0"/>
<path stroke="#4e3e58" stroke-width="1.6" stroke-linecap="round" fill="none" d="M606.7 59.0h0M611.6 51.6h0M618.3 63.8h0M615.5 71.8h0M617.5 64.3h0M606.6 69.1h0M622.6 72.2h0M626.1 61.2h0M610.7 58.4h0M619.7 72.7h0M608.4 54.2h0M607.1 68.7h0M606.5 55.9h0M620.4 72.2h0M619.1 52.9h0M614.8 69.0h0M619.6 69.3h0M605.1 68.7h0M616.3 50.8h0M616.7 72.1h0M606.6 63.9h0M604.6 69.4h0M625.5 61.2h0M613.5 70.2h0M608.8 60.5h0M611.6 68.8h0M617.0 50.8h0M606.6 64.6h0M613.9 58.3h0M621.9 73.6h0M622.6 69.4h0M615.4 59.8h0M610.3 61.2h0M620.4 73.1h0M608.2 59.3h0M604.3 70.1h0M618.1 67.2h0M611.7 62.7h0M622.4 69.3h0M611.4 56.3h0M610.9 55.2h0M615.2 78.8h0M610.5 63.4h0M626.8 64.1h0M621.4 68.7h0M619.9 74.4h0M619.2 72.2h0M614.2 70.6h0"/>
<path stroke="#1c1420" stroke-width="0.8" stroke-linecap="round" fill="none" d="M623.6 67.2h0M611.7 53.2h0M621.7 74.7h0M610.5 77.6h0M618.2 75.5h0M622.1 73.0h0M620.8 73.5h0M612.8 75.9h0M605.2 57.7h0M623.3 62.9h0M608.6 67.5h0M616.3 52.9h0M609.3 68.4h0M611.7 78.6h0M620.6 73.2h0M604.2 63.2h0M620.2 60.3h0M616.4 57.0h0"/>
<path stroke="#1c1420" stroke-width="1.2" stroke-linecap="round" fill="none" d="M610.2 54.2h0M611.5 65.5h0M609.1 58.1h0M621.7 70.7h0M605.8 67.1h0M619.2 72.2h0M609.6 72.5h0M621.8 73.6h0M620.7 76.0h0M609.9 57.5h0M611.0 66.4h0M621.5 73.0h0M610.0 77.1h0M612.2 52.4h0M625.2 72.0h0M616.4 57.8h0M607.5 71.3h0M612.9 51.1h0M606.5 57.8h0M618.2 59.6h0M617.9 53.0h0M614.5 73.6h0M610.5 53.7h0M603.3 65.6h0M618.6 71.7h0M612.4 63.1h0M604.9 66.6h0M611.8 56.9h0M612.6 57.8h0M608.6 55.9h0M617.5 67.1h0M619.1 68.1h0M608.1 62.9h0M610.3 56.8h0M626.0 63.8h0M610.5 55.8h0M612.4 54.0h0M616.3 58.0h0M617.3 65.0h0"/>
<path stroke="#1c1420" stroke-width="1.6" stroke-linecap="round" fill="none" d="M613.4 73.6h0M626.5 63.7h0M606.9 64.2h0M616.7 65.5h0M608.5 55.4h0M608.5 66.2h0M623.8 72.4h0M608.2 71.2h0M618.6 62.6h0M618.3 68.3h0M610.6 52.5h0M613.1 66.9h0M625.6 74.3h0M624.2 66.9h0M616.8 59.1h0M621.0 71.6h0M622.9 72.5h0M615.7 50.9h0M622.3 68.8h0M606.5 57.5h0M620.0 54.9h0M617.2 64.6h0M612.3 75.2h0M605.8 56.3h0M607.1 65.5h0M614.6 58.7h0M603.8 64.6h0M605.8 68.6h0M612.6 78.4h0M610.5 57.1h0M607.4 66.9h0M607.0 71.2h0M614.8 60.4h0M611.0 74.0h0M620.9 64.3h0M606.7 62.5h0M612.6 58.7h0M612.6 62.2h0M616.7 63.9h0M616.9 62.9h0M606.7 65.8h0M620.5 68.7h0M616.1 53.3h0M615.2 57.2h0M614.5 76.3h0M609.0 58.6h0M603.2 69.9h0"/>
<path stroke="#7a6a80" stroke-width="0.8" stroke-linecap="round" fill="none" d="M609.0 55.1h0M625.6 73.4h0M612.6 77.0h0M605.6 66.0h0M615.6 73.4h0M612.7 50.8h0M614.4 72.5h0M616.4 52.7h0M618.7 67.0h0M622.6 61.8h0M618.3 71.1h0M620.5 73.6h0M616.7 71.7h0M606.4 62.1h0M608.3 60.1h0M606.4 68.3h0M623.6 70.1h0"/>
<path stroke="#7a6a80" stroke-width="1.2" stroke-linecap="round" fill="none" d="M619.7 71.5h0M616.9 75.7h0M605.6 67.1h0M614.0 50.4h0M615.6 58.4h0M613.1 73.9h0M605.0 66.8h0M605.9 67.2h0M623.1 76.4h0"/>
<path d="M494.60,87.50 L496.20,73.00 L498.00,60.00 L500.00,49.00 L502.00,39.90 L504.40,29.50 L506.00,26.30 L508.30,27.10 L511.50,31.10 L515.50,35.10 L517.90,34.30 L520.30,35.90 L523.50,33.50 L526.70,32.70 L530.70,28.70 L534.70,23.90 L538.60,21.20 L542.60,22.30 L547.40,26.30 L550.60,28.70 L555.40,33.50 L560.20,37.50 L565.00,43.10 L569.80,49.60 L578.30,57.00 L585.70,66.60 L593.20,82.60 L601.70,95.30 L605.10,100.00 L610.20,103.80 L613.50,105.30 L619.50,106.50 L626.20,105.00 L627.80,105.30 L633.60,108.00 L635.00,109.60 L640.00,113.40 L644.60,117.90 L654.20,126.30 L662.50,133.00 L667.30,135.40" stroke="#ff8000" stroke-width="1.1" fill="none" stroke-linejoin="round" stroke-linecap="round" />
<path d="M494.50,44.70 L498.00,39.90 L502.00,34.30 L506.00,30.39 L506.30,29.95 L506.60,30.39 L506.90,29.39 L507.20,29.84 L507.50,29.37 L507.80,28.67 L508.10,29.18 L508.40,28.17 L508.70,28.64 L509.00,27.76 L509.30,27.56 L509.60,28.00 L509.90,28.62 L510.20,26.94 L510.50,26.93 L510.80,27.66 L511.10,28.35 L511.40,27.42 L511.70,26.92 L512.00,28.30 L512.30,25.86 L512.60,27.92 L512.90,26.32 L513.20,25.83 L513.50,25.67 L513.80,26.13 L514.10,27.57 L514.40,25.58 L514.70,26.74 L515.00,26.86 L515.30,25.93 L515.60,26.43 L515.90,24.72 L516.20,24.61 L516.50,25.02 L516.80,26.62 L517.10,25.64 L517.40,25.13 L517.70,26.07 L518.00,25.49 L518.30,24.82 L518.60,26.70 L518.90,26.26 L519.20,24.32 L519.50,25.61 L519.80,25.19 L520.10,26.48 L520.40,25.65 L520.60,24.50 L521.00,22.00 L521.40,28.00 L522.20,22.00 L522.70,27.00 L523.00,32.00 L524.30,30.30 L528.30,31.10 L534.70,32.70 L541.00,35.10 L549.00,36.70 L553.00,34.80 L557.00,33.50 L561.80,35.90 L566.60,42.30 L569.70,47.80 L573.00,61.30 L576.20,86.80 L579.40,108.00 L581.50,120.00 L582.40,124.00 L586.00,139.50 L590.80,149.00 L598.00,154.50 L603.90,156.50 L609.90,157.40" stroke="#8000ff" stroke-width="1.2" fill="none" stroke-linejoin="round" stroke-linecap="round" />
<line x1="494.30" y1="3.20" x2="668.00" y2="3.20" stroke="#111" stroke-width="1.3" />
<line x1="668.00" y1="3.20" x2="668.00" y2="158.10" stroke="#444" stroke-width="1.3" />
<line x1="494.30" y1="2.60" x2="494.30" y2="158.70" stroke="#000" stroke-width="1.3" />
<line x1="493.70" y1="158.10" x2="668.60" y2="158.10" stroke="#000" stroke-width="1.3" />
<line x1="492.10" y1="11.81" x2="494.30" y2="11.81" stroke="#000" stroke-width="1.0" />
<line x1="491.50" y1="20.41" x2="494.30" y2="20.41" stroke="#000" stroke-width="1.0" />
<line x1="492.10" y1="29.02" x2="494.30" y2="29.02" stroke="#000" stroke-width="1.0" />
<line x1="491.50" y1="37.62" x2="494.30" y2="37.62" stroke="#000" stroke-width="1.0" />
<line x1="492.10" y1="46.23" x2="494.30" y2="46.23" stroke="#000" stroke-width="1.0" />
<line x1="491.50" y1="54.83" x2="494.30" y2="54.83" stroke="#000" stroke-width="1.0" />
<line x1="492.10" y1="63.44" x2="494.30" y2="63.44" stroke="#000" stroke-width="1.0" />
<line x1="491.50" y1="72.04" x2="494.30" y2="72.04" stroke="#000" stroke-width="1.0" />
<line x1="492.10" y1="80.65" x2="494.30" y2="80.65" stroke="#000" stroke-width="1.0" />
<line x1="491.50" y1="89.26" x2="494.30" y2="89.26" stroke="#000" stroke-width="1.0" />
<line x1="492.10" y1="97.86" x2="494.30" y2="97.86" stroke="#000" stroke-width="1.0" />
<line x1="491.50" y1="106.47" x2="494.30" y2="106.47" stroke="#000" stroke-width="1.0" />
<line x1="492.10" y1="115.07" x2="494.30" y2="115.07" stroke="#000" stroke-width="1.0" />
<line x1="491.50" y1="123.68" x2="494.30" y2="123.68" stroke="#000" stroke-width="1.0" />
<line x1="492.10" y1="132.28" x2="494.30" y2="132.28" stroke="#000" stroke-width="1.0" />
<line x1="491.50" y1="140.89" x2="494.30" y2="140.89" stroke="#000" stroke-width="1.0" />
<line x1="492.10" y1="149.49" x2="494.30" y2="149.49" stroke="#000" stroke-width="1.0" />
<line x1="494.30" y1="158.10" x2="494.30" y2="160.90" stroke="#000" stroke-width="1.0" />
<line x1="513.54" y1="158.10" x2="513.54" y2="160.10" stroke="#000" stroke-width="1.0" />
<line x1="532.79" y1="158.10" x2="532.79" y2="160.90" stroke="#000" stroke-width="1.0" />
<line x1="552.03" y1="158.10" x2="552.03" y2="160.10" stroke="#000" stroke-width="1.0" />
<line x1="571.28" y1="158.10" x2="571.28" y2="160.90" stroke="#000" stroke-width="1.0" />
<line x1="590.52" y1="158.10" x2="590.52" y2="160.10" stroke="#000" stroke-width="1.0" />
<line x1="609.77" y1="158.10" x2="609.77" y2="160.90" stroke="#000" stroke-width="1.0" />
<line x1="629.01" y1="158.10" x2="629.01" y2="160.10" stroke="#000" stroke-width="1.0" />
<line x1="648.26" y1="158.10" x2="648.26" y2="160.90" stroke="#000" stroke-width="1.0" />
<line x1="667.50" y1="158.10" x2="667.50" y2="160.10" stroke="#000" stroke-width="1.0" />
<text x="494.30" y="170.40" font-size="9.6" text-anchor="middle" fill="#000" font-weight="bold" >200</text>
<text x="532.79" y="170.40" font-size="9.6" text-anchor="middle" fill="#000" font-weight="bold" >400</text>
<text x="571.28" y="170.40" font-size="9.6" text-anchor="middle" fill="#000" font-weight="bold" >600</text>
<text x="609.77" y="170.40" font-size="9.6" text-anchor="middle" fill="#000" font-weight="bold" >800</text>
<text x="648.26" y="170.40" font-size="9.6" text-anchor="middle" fill="#000" font-weight="bold" >1000</text>
<text x="581.00" y="186.60" font-size="9.85" text-anchor="middle" fill="#000" font-weight="bold" >Wavelength (nm)</text>
<text x="487.20" y="79.90" font-size="9.95" text-anchor="middle" fill="#000" font-weight="bold" transform="rotate(-90 487.2 79.9)">Absorption (a.u.)</text>
<line x1="586.10" y1="11.00" x2="607.90" y2="11.00" stroke="#8000ff" stroke-width="1.2" />
<text x="611.00" y="14.70" font-size="9.75" text-anchor="start" fill="#000" font-weight="bold" >DCNA-1_AC</text>
<line x1="586.10" y1="23.30" x2="607.90" y2="23.30" stroke="#ff8000" stroke-width="1.2" />
<text x="611.00" y="27.00" font-size="9.75" text-anchor="start" fill="#000" font-weight="bold" >DNCA-1_AC</text>
<text x="-0.30" y="209.60" font-size="18.5" text-anchor="start" fill="#000" font-weight="bold" >d</text>
<path stroke="#d3c2f5" stroke-width="1.15" fill="none" d="M145.1 285.5h1.1M196.2 252.7h1.1M199.7 273.1h1.1M81.0 260.6h1.1M41.2 318.7h1.1M66.1 206.6h1.1M144.2 253.0h1.1M75.7 262.0h1.1M88.2 232.5h1.1M199.3 280.2h1.1M191.3 273.0h1.1M50.0 226.8h1.1M39.5 319.0h1.1M120.9 264.4h1.1M159.1 277.4h1.1M183.0 277.2h1.1M101.4 265.7h1.1M201.8 277.6h1.1M197.4 265.4h1.1M171.1 282.3h1.1M174.8 222.9h1.1M97.0 272.2h1.1M96.9 249.1h1.1M69.2 255.9h1.1M156.4 278.3h1.1M129.9 270.5h1.1M140.2 251.4h1.1M195.1 274.2h1.1M181.9 273.8h1.1M173.3 250.4h1.1M64.4 260.2h1.1M184.2 252.8h1.1M122.1 253.6h1.1M63.9 255.7h1.1M202.5 267.7h1.1M85.3 265.1h1.1M100.5 272.7h1.1M168.4 287.7h1.1M86.8 263.4h1.1M200.1 261.1h1.1M40.9 315.5h1.1M178.1 288.0h1.1M98.2 266.8h1.1M182.6 306.8h1.1M205.3 249.7h1.1M181.5 273.7h1.1M156.8 276.2h1.1M137.9 267.6h1.1M145.3 251.0h1.1M66.2 243.6h1.1M76.3 259.8h1.1M77.5 260.1h1.1M93.0 266.1h1.1M103.8 266.8h1.1M79.5 239.8h1.1M108.8 270.5h1.1M102.7 265.7h1.1M96.8 270.2h1.1M178.5 270.8h1.1M63.2 240.1h1.1M202.1 289.0h1.1M39.1 309.3h1.1M143.8 259.1h1.1M112.5 254.6h1.1M204.7 254.4h1.1M83.2 252.2h1.1M109.8 258.1h1.1M120.2 270.9h1.1M114.5 267.4h1.1M129.7 287.2h1.1M172.2 277.0h1.1M88.9 259.9h1.1M148.9 275.3h1.1M90.2 261.0h1.1M89.5 273.2h1.1M139.6 272.1h1.1M116.6 249.8h1.1M171.6 267.7h1.1M159.7 252.3h1.1M105.7 264.1h1.1M89.5 294.1h1.1M112.7 276.8h1.1M194.2 263.8h1.1M95.3 265.9h1.1M177.3 278.4h1.1M152.1 289.2h1.1M205.8 279.1h1.1M76.3 264.2h1.1M160.4 269.5h1.1M143.0 251.4h1.1M145.0 266.6h1.1M48.7 320.2h1.1M188.7 268.6h1.1M122.4 264.2h1.1M48.4 306.8h1.1M194.1 264.9h1.1M83.8 264.1h1.1M61.7 235.1h1.1M164.5 272.5h1.1M152.8 260.1h1.1M140.2 265.6h1.1M174.7 282.6h1.1M48.1 300.1h1.1M58.7 256.8h1.1M178.8 269.6h1.1M95.7 260.7h1.1M104.7 275.0h1.1M112.8 242.3h1.1M140.0 273.7h1.1M44.6 304.8h1.1M190.5 277.1h1.1M190.6 276.9h1.1M118.3 268.3h1.1M104.7 258.6h1.1M82.2 259.4h1.1M121.1 277.6h1.1M101.8 256.1h1.1M200.1 287.8h1.1M88.6 265.1h1.1M43.2 309.2h1.1M107.3 257.2h1.1M87.2 276.0h1.1M66.8 245.0h1.1M112.3 223.1h1.1M49.3 223.5h1.1M207.6 275.9h1.1M54.9 250.9h1.1M48.1 308.2h1.1M106.7 269.7h1.1M47.7 323.3h1.1M69.5 247.9h1.1M92.4 259.4h1.1M196.0 272.7h1.1M130.9 267.6h1.1M103.1 265.7h1.1M115.5 221.6h1.1M58.6 260.6h1.1M92.3 257.3h1.1M80.7 250.8h1.1M49.4 223.6h1.1M73.0 257.0h1.1M92.4 259.6h1.1M191.7 276.3h1.1M178.2 286.6h1.1M163.0 273.8h1.1M61.1 232.9h1.1M83.7 265.2h1.1M133.9 270.0h1.1M61.1 235.7h1.1M78.3 242.5h1.1M95.2 279.8h1.1M55.2 234.1h1.1M159.9 258.1h1.1M93.0 251.8h1.1M112.9 268.3h1.1M204.2 252.5h1.1M177.7 248.6h1.1M137.3 280.8h1.1M105.9 268.7h1.1M99.8 253.6h1.1M98.9 282.8h1.1M144.3 272.5h1.1M180.7 270.5h1.1M161.3 272.6h1.1M174.8 267.8h1.1M175.4 257.0h1.1M126.2 268.7h1.1M43.5 305.8h1.1M120.1 289.4h1.1M196.4 290.0h1.1M130.4 287.4h1.1M127.9 262.2h1.1M53.8 252.8h1.1M91.2 248.0h1.1M161.0 276.1h1.1M191.9 288.4h1.1M164.8 278.4h1.1M79.7 236.6h1.1M106.0 264.7h1.1M192.3 268.1h1.1M104.8 273.3h1.1M102.7 242.4h1.1M91.0 250.1h1.1M146.8 241.1h1.1M49.6 237.9h1.1M110.0 251.3h1.1M193.2 279.2h1.1M70.8 245.0h1.1M134.8 271.1h1.1M149.1 279.6h1.1M49.4 215.9h1.1M183.9 293.2h1.1M78.0 256.0h1.1M71.9 249.7h1.1M64.8 265.7h1.1M178.1 293.2h1.1M196.5 235.5h1.1M56.5 226.8h1.1M102.8 261.8h1.1M107.7 254.2h1.1M59.0 238.5h1.1M203.0 252.9h1.1M168.4 273.1h1.1M99.3 276.2h1.1M104.1 281.2h1.1M137.1 274.0h1.1M183.5 266.3h1.1M152.5 271.9h1.1M55.3 231.2h1.1M198.1 276.1h1.1M177.1 275.7h1.1M81.7 253.8h1.1M127.0 267.3h1.1M119.4 243.5h1.1M201.7 273.9h1.1M171.6 276.3h1.1M192.8 275.3h1.1M170.1 277.9h1.1M179.7 319.9h1.1M190.9 296.6h1.1M110.9 254.8h1.1M85.1 264.7h1.1M152.5 269.6h1.1M103.9 285.0h1.1M72.4 247.3h1.1M62.2 270.3h1.1M198.8 272.9h1.1M167.4 283.6h1.1M64.8 239.1h1.1M57.8 245.9h1.1M101.8 244.8h1.1M135.9 260.3h1.1M163.6 259.3h1.1M170.4 274.4h1.1M143.0 249.4h1.1M104.6 265.3h1.1M89.7 252.5h1.1M129.3 287.5h1.1M200.8 280.5h1.1M52.1 242.1h1.1M129.1 265.2h1.1M180.4 272.7h1.1M123.2 269.4h1.1M53.9 230.5h1.1M203.9 279.6h1.1M83.6 225.1h1.1M105.2 269.9h1.1M113.7 253.4h1.1M62.3 252.7h1.1M46.3 286.3h1.1M187.5 280.3h1.1M143.1 271.8h1.1M200.7 262.4h1.1M50.3 226.3h1.1M191.0 298.0h1.1M59.5 236.7h1.1M89.8 266.8h1.1M118.3 259.0h1.1M83.8 261.9h1.1M52.4 234.0h1.1M149.8 280.8h1.1M115.2 278.1h1.1M63.7 264.0h1.1M133.6 273.2h1.1M172.6 273.5h1.1M99.9 258.2h1.1M146.2 278.5h1.1M96.3 266.5h1.1M182.9 249.5h1.1M147.4 256.2h1.1M108.5 272.6h1.1M108.9 265.7h1.1M90.3 278.9h1.1M125.2 266.2h1.1M77.5 254.2h1.1M126.1 278.2h1.1M118.4 271.3h1.1M53.2 229.1h1.1M113.5 243.8h1.1M74.6 267.6h1.1M104.0 275.4h1.1M129.1 268.6h1.1M199.0 254.9h1.1M124.2 278.6h1.1M82.6 263.4h1.1M73.5 270.9h1.1M56.4 237.1h1.1M115.0 274.8h1.1M66.7 245.8h1.1M99.7 274.8h1.1M59.8 235.1h1.1M122.2 290.8h1.1M87.0 261.4h1.1M109.6 262.0h1.1M150.6 275.3h1.1M92.2 267.7h1.1M110.7 277.3h1.1M125.0 264.0h1.1M174.6 277.0h1.1M170.4 276.4h1.1M130.2 277.1h1.1M184.3 280.4h1.1M149.9 270.4h1.1M40.6 309.5h1.1M165.7 282.1h1.1M102.5 271.8h1.1M114.7 276.8h1.1M64.1 251.9h1.1M169.5 284.2h1.1M120.2 269.2h1.1M174.5 245.6h1.1M161.0 245.5h1.1M42.4 300.3h1.1M96.9 267.6h1.1M54.1 230.9h1.1M163.2 275.8h1.1M201.5 271.5h1.1M115.8 264.6h1.1M116.6 282.7h1.1M169.0 306.1h1.1M174.1 282.5h1.1M160.6 262.6h1.1M94.8 259.9h1.1M129.9 237.8h1.1M55.1 240.2h1.1M40.1 311.0h1.1M56.8 265.0h1.1M94.5 249.8h1.1M64.6 265.0h1.1M120.4 261.1h1.1M195.5 270.9h1.1M114.0 268.1h1.1M89.2 240.6h1.1M152.3 269.6h1.1M163.4 282.4h1.1M91.7 247.7h1.1M127.4 257.9h1.1M45.9 297.1h1.1M114.5 269.3h1.1M153.9 263.9h1.1M54.4 234.8h1.1M97.9 260.3h1.1M97.3 263.2h1.1M185.9 284.6h1.1M116.1 256.2h1.1M84.0 258.8h1.1M98.0 260.4h1.1M150.9 263.7h1.1M111.6 250.4h1.1M101.2 260.7h1.1M68.8 258.0h1.1M167.7 269.6h1.1M52.8 236.1h1.1M116.8 256.3h1.1M157.2 263.2h1.1M183.4 260.5h1.1M93.4 250.1h1.1M172.5 297.9h1.1M105.4 278.3h1.1M162.9 275.9h1.1M68.5 248.2h1.1M144.5 270.2h1.1M116.4 252.3h1.1M80.5 259.1h1.1M124.8 269.3h1.1M143.2 281.0h1.1M46.7 313.7h1.1M77.2 281.6h1.1M76.6 256.7h1.1M206.7 276.5h1.1M50.1 244.2h1.1M181.4 275.8h1.1M67.8 261.9h1.1M122.6 269.8h1.1M183.8 280.3h1.1M133.9 256.5h1.1M87.1 264.8h1.1M52.7 227.2h1.1M202.1 268.3h1.1M93.9 252.2h1.1M147.1 270.1h1.1M40.4 306.9h1.1M39.9 316.3h1.1M138.5 279.3h1.1M74.1 276.7h1.1M163.8 282.9h1.1M146.2 268.8h1.1M131.9 275.9h1.1M98.0 248.0h1.1M134.4 271.0h1.1M92.1 252.6h1.1M61.7 250.3h1.1M72.1 258.1h1.1M89.2 265.2h1.1M66.4 253.1h1.1M157.4 273.3h1.1M77.9 253.4h1.1M120.8 265.1h1.1M152.6 295.0h1.1M202.0 275.6h1.1M125.0 264.9h1.1M144.0 284.7h1.1M196.7 273.1h1.1M143.6 258.5h1.1M167.5 285.4h1.1M169.4 276.8h1.1M114.4 278.0h1.1M202.0 277.8h1.1M150.0 269.9h1.1M121.9 286.9h1.1M202.3 273.5h1.1M194.6 282.4h1.1M95.8 234.6h1.1M186.4 279.2h1.1M123.1 265.0h1.1M202.5 266.0h1.1M46.1 307.8h1.1M177.3 279.3h1.1M135.8 253.8h1.1M100.9 267.5h1.1M64.3 252.3h1.1M81.5 238.4h1.1M120.5 263.8h1.1M172.8 275.2h1.1M169.5 281.0h1.1M46.4 301.4h1.1M39.5 327.5h1.1M177.2 275.5h1.1M118.3 279.5h1.1M133.4 270.4h1.1M111.7 277.1h1.1M120.0 274.0h1.1M80.6 267.9h1.1M144.8 278.2h1.1M153.5 271.4h1.1M59.5 246.2h1.1M153.9 274.5h1.1M74.7 241.5h1.1M50.6 222.7h1.1M160.5 282.2h1.1M198.6 284.9h1.1M140.1 270.9h1.1M49.8 234.4h1.1M192.5 284.7h1.1M61.8 265.2h1.1M89.6 246.6h1.1M196.5 243.6h1.1M86.6 270.3h1.1M155.0 269.8h1.1M77.3 254.2h1.1M84.4 274.4h1.1M197.9 280.7h1.1M55.1 243.1h1.1M120.1 234.0h1.1M72.1 261.6h1.1M200.9 275.5h1.1M86.5 275.2h1.1M197.2 277.0h1.1M76.6 256.3h1.1M142.5 267.6h1.1M154.9 283.2h1.1M197.6 273.6h1.1M173.6 272.7h1.1M42.5 305.1h1.1M82.4 248.2h1.1M113.3 272.7h1.1M158.4 268.9h1.1M148.7 275.4h1.1M142.9 261.5h1.1M144.3 241.7h1.1M84.1 249.1h1.1M134.7 271.7h1.1M51.9 245.9h1.1M144.8 285.4h1.1M123.6 279.8h1.1M137.0 275.4h1.1M128.7 244.1h1.1M58.5 252.3h1.1M98.5 273.4h1.1M104.9 281.2h1.1M75.7 258.8h1.1M139.6 257.1h1.1M206.7 276.2h1.1M90.4 255.1h1.1M142.5 253.2h1.1M146.0 267.2h1.1M155.2 269.2h1.1M156.0 274.1h1.1M178.1 284.2h1.1M111.5 240.2h1.1M130.4 281.0h1.1M129.8 263.0h1.1M152.2 265.6h1.1M60.2 250.8h1.1M183.7 267.4h1.1M167.6 251.7h1.1M101.8 281.5h1.1M154.9 290.8h1.1M193.2 279.2h1.1M139.6 259.9h1.1M146.4 264.5h1.1M123.1 272.5h1.1M154.1 283.5h1.1M137.2 267.7h1.1M179.2 288.1h1.1M40.3 285.5h1.1M184.9 279.6h1.1M160.0 272.1h1.1M101.0 279.6h1.1M205.7 275.9h1.1M163.3 259.9h1.1M140.3 271.7h1.1M131.9 276.9h1.1M83.6 260.8h1.1M92.8 286.8h1.1M157.5 260.1h1.1M67.4 259.7h1.1M128.0 267.6h1.1M63.2 250.4h1.1M82.5 260.8h1.1M184.9 287.4h1.1M119.4 265.0h1.1M131.2 273.8h1.1M159.5 265.5h1.1M84.7 255.1h1.1M118.6 287.3h1.1M156.3 298.4h1.1M117.4 289.0h1.1M133.0 268.1h1.1M199.8 299.5h1.1M201.0 283.6h1.1M134.1 269.5h1.1M81.6 252.8h1.1M67.4 243.5h1.1M181.0 285.6h1.1M84.5 252.8h1.1M105.8 232.2h1.1M53.0 232.4h1.1M173.5 276.5h1.1M110.5 248.5h1.1M86.3 259.0h1.1M50.0 231.9h1.1M192.1 266.9h1.1M69.0 249.3h1.1M72.6 252.3h1.1M79.6 250.0h1.1M89.7 275.1h1.1M102.5 260.9h1.1M152.7 274.9h1.1M155.0 251.2h1.1M115.9 259.5h1.1M63.2 203.0h1.1M72.2 270.9h1.1M106.5 268.2h1.1M191.5 282.7h1.1M65.0 261.8h1.1M196.4 288.1h1.1M172.3 270.0h1.1M146.7 265.9h1.1M201.3 277.5h1.1M64.1 250.5h1.1M78.6 278.2h1.1M162.7 265.2h1.1M94.5 267.9h1.1M175.6 267.1h1.1M190.5 240.0h1.1M145.5 284.1h1.1M146.5 268.9h1.1M174.8 268.6h1.1M77.4 224.8h1.1M153.8 262.2h1.1M87.6 274.1h1.1M157.8 269.7h1.1M153.3 284.9h1.1M105.0 265.6h1.1M60.3 261.0h1.1M109.9 255.1h1.1M91.0 252.5h1.1M74.9 256.9h1.1M90.2 272.5h1.1M153.2 275.8h1.1M111.2 277.6h1.1M158.7 268.6h1.1M202.3 272.3h1.1M91.7 262.3h1.1M42.0 319.0h1.1M116.1 261.5h1.1M45.9 316.8h1.1M55.6 246.8h1.1M167.1 285.0h1.1M73.2 260.2h1.1M104.6 227.7h1.1M114.8 297.7h1.1M208.8 258.9h1.1M113.5 279.9h1.1M122.7 277.0h1.1M60.2 257.7h1.1M208.6 253.7h1.1M167.0 277.5h1.1M128.7 263.9h1.1M208.3 265.8h1.1M143.7 275.1h1.1M190.1 271.6h1.1M122.6 255.6h1.1M200.9 269.4h1.1M43.1 296.9h1.1M159.8 270.6h1.1M172.2 268.5h1.1M136.7 272.9h1.1M51.5 252.3h1.1M134.8 263.5h1.1M105.8 286.5h1.1M64.8 264.8h1.1M85.7 248.8h1.1M138.7 289.7h1.1M88.9 233.5h1.1M132.1 264.9h1.1M113.1 269.5h1.1M95.4 239.0h1.1M191.2 273.2h1.1M112.1 258.3h1.1M89.8 269.6h1.1M69.3 249.7h1.1M81.0 257.2h1.1M152.4 264.4h1.1M94.4 262.6h1.1M205.3 258.0h1.1M71.9 258.9h1.1M75.1 258.7h1.1M202.8 277.2h1.1M116.8 260.7h1.1M85.9 265.0h1.1M159.2 271.2h1.1M122.9 267.1h1.1M117.4 283.4h1.1M203.7 258.3h1.1M62.6 246.4h1.1M193.9 268.5h1.1M140.3 260.6h1.1M133.4 276.1h1.1M179.1 273.5h1.1M43.5 312.9h1.1M166.2 272.3h1.1M162.7 259.6h1.1M187.1 282.0h1.1M119.7 274.2h1.1M127.4 278.5h1.1M195.9 275.5h1.1M119.0 262.9h1.1M171.1 279.0h1.1M72.1 246.3h1.1M70.6 246.9h1.1M203.8 266.1h1.1M125.2 297.9h1.1M107.1 269.1h1.1M81.7 255.0h1.1M198.7 255.2h1.1M139.3 269.4h1.1M64.9 238.5h1.1M178.8 270.4h1.1M91.2 266.5h1.1M96.9 265.5h1.1M206.8 262.1h1.1M130.8 285.6h1.1M198.2 283.4h1.1M135.4 268.2h1.1M49.4 224.9h1.1M67.5 248.0h1.1M104.6 267.0h1.1M164.8 272.0h1.1M190.0 272.4h1.1M139.0 278.9h1.1M204.0 268.6h1.1M48.6 318.5h1.1M191.6 250.9h1.1M90.3 251.6h1.1M44.2 314.9h1.1M61.5 258.8h1.1M188.1 266.3h1.1M171.1 285.7h1.1M87.5 248.8h1.1M112.3 270.8h1.1M129.7 265.4h1.1M127.9 281.9h1.1M71.5 251.5h1.1M77.8 265.2h1.1M91.8 278.5h1.1M192.8 265.0h1.1M124.4 278.6h1.1M180.5 289.9h1.1M88.6 252.9h1.1M69.0 212.6h1.1M75.1 277.1h1.1M92.8 256.4h1.1M73.6 253.6h1.1M66.6 257.6h1.1M174.8 239.1h1.1M101.7 252.4h1.1M145.2 284.0h1.1M190.5 280.3h1.1M45.4 298.0h1.1M139.1 236.5h1.1M70.2 247.4h1.1M125.5 276.7h1.1M87.1 273.3h1.1M64.1 251.9h1.1M98.7 254.1h1.1M160.9 254.7h1.1M40.1 304.2h1.1M46.9 312.2h1.1M69.7 256.4h1.1M71.0 250.0h1.1M196.2 254.3h1.1M166.6 280.1h1.1M114.5 270.2h1.1M79.9 268.0h1.1M92.1 217.4h1.1M165.8 268.8h1.1M177.3 282.9h1.1M168.8 270.5h1.1M195.0 290.3h1.1M114.9 279.2h1.1M181.6 279.0h1.1M127.9 290.1h1.1M208.3 311.4h1.1M124.9 271.9h1.1M61.9 241.6h1.1M178.8 265.5h1.1M201.6 284.8h1.1M125.4 294.7h1.1M92.6 265.0h1.1M187.7 276.3h1.1M174.1 281.0h1.1M148.3 267.4h1.1M208.8 280.0h1.1M156.2 288.7h1.1M152.8 272.4h1.1M83.0 236.0h1.1M55.1 223.2h1.1M118.5 265.7h1.1M144.0 246.9h1.1M76.2 254.0h1.1M41.0 320.0h1.1M137.6 274.6h1.1M58.7 241.9h1.1M64.4 240.6h1.1M142.1 299.7h1.1M107.7 266.7h1.1M188.9 266.8h1.1M136.1 279.2h1.1M130.0 273.4h1.1M181.2 273.8h1.1M45.6 336.8h1.1M119.4 275.6h1.1M196.7 279.3h1.1M53.9 241.8h1.1M68.6 257.7h1.1M104.0 270.5h1.1M200.5 278.3h1.1M173.4 261.8h1.1M143.6 281.4h1.1M50.6 241.9h1.1M203.4 262.1h1.1M51.6 254.9h1.1M44.1 301.7h1.1M125.4 262.5h1.1M192.4 261.1h1.1M198.9 296.6h1.1M48.2 305.4h1.1M180.2 262.1h1.1M200.0 273.8h1.1M127.2 258.0h1.1M156.3 255.8h1.1M163.0 285.4h1.1M78.9 248.9h1.1M71.3 261.7h1.1M172.4 267.4h1.1M84.4 269.8h1.1M189.8 261.4h1.1M148.0 260.4h1.1M193.4 271.9h1.1M89.5 270.7h1.1M137.8 265.9h1.1M139.6 264.6h1.1M56.1 247.6h1.1M39.9 311.6h1.1M89.6 265.5h1.1M177.6 261.7h1.1M90.7 264.5h1.1M45.4 305.4h1.1M168.1 282.0h1.1M75.0 262.2h1.1M186.2 261.4h1.1M135.6 274.9h1.1M206.2 290.0h1.1M70.2 274.3h1.1M59.5 257.2h1.1M86.0 222.5h1.1M100.7 266.6h1.1M59.5 248.9h1.1M62.1 252.2h1.1M144.2 295.2h1.1M179.7 294.9h1.1M95.5 255.0h1.1M196.7 269.4h1.1M165.5 276.1h1.1M60.6 256.9h1.1M121.7 260.0h1.1M198.5 281.1h1.1M103.5 260.1h1.1M168.8 299.7h1.1M149.7 272.2h1.1M187.6 249.4h1.1M41.8 319.9h1.1M106.8 284.5h1.1M102.7 261.5h1.1M199.7 266.1h1.1M206.6 282.5h1.1M83.2 268.5h1.1M153.7 253.6h1.1M209.1 276.1h1.1M128.0 271.3h1.1M104.2 263.5h1.1M101.7 274.7h1.1M109.8 260.4h1.1M204.3 267.2h1.1M44.1 313.2h1.1M57.4 234.1h1.1M122.4 275.6h1.1M111.7 249.8h1.1M44.9 291.1h1.1M102.1 270.8h1.1M201.6 315.8h1.1M78.3 256.6h1.1M56.6 241.0h1.1M96.4 271.2h1.1M190.9 274.5h1.1M138.7 254.3h1.1M131.1 275.1h1.1M71.0 252.0h1.1M189.2 276.9h1.1M151.9 262.6h1.1M209.2 271.5h1.1M133.4 266.6h1.1M180.4 274.1h1.1M126.1 277.1h1.1M79.6 242.1h1.1M68.6 251.1h1.1M145.4 268.8h1.1M113.6 272.4h1.1M105.3 262.9h1.1M197.8 275.6h1.1M153.5 295.2h1.1M60.4 246.3h1.1M96.7 252.5h1.1M208.9 271.0h1.1M119.1 280.6h1.1M120.0 278.8h1.1M144.9 261.8h1.1M202.1 252.6h1.1M209.4 285.5h1.1M98.0 257.7h1.1M59.6 241.1h1.1M185.3 240.0h1.1M69.0 273.0h1.1M60.2 243.0h1.1M55.5 245.2h1.1M62.7 224.9h1.1M104.3 274.2h1.1M45.1 314.8h1.1M109.0 265.6h1.1M78.0 231.7h1.1M138.4 270.6h1.1M148.4 271.3h1.1M206.8 253.5h1.1M57.9 236.5h1.1M135.7 268.4h1.1M158.1 296.1h1.1M155.5 261.3h1.1M102.3 262.1h1.1M53.0 250.9h1.1M183.1 291.1h1.1M126.2 284.8h1.1M97.9 265.2h1.1M198.7 282.5h1.1M201.4 275.5h1.1M87.8 250.6h1.1M124.8 242.6h1.1M145.5 279.6h1.1M75.5 265.8h1.1M57.6 236.2h1.1M181.8 257.6h1.1M80.3 247.4h1.1M193.9 237.1h1.1M199.4 285.0h1.1M60.7 290.5h1.1M74.7 242.1h1.1M181.5 287.7h1.1M58.1 255.6h1.1M62.9 257.9h1.1M121.2 280.8h1.1M156.8 266.3h1.1M191.1 254.7h1.1M113.9 258.6h1.1M118.6 275.5h1.1M166.0 290.4h1.1M164.1 252.5h1.1M187.4 272.4h1.1M129.0 254.7h1.1M83.1 254.6h1.1M169.4 257.5h1.1M67.8 251.0h1.1M128.5 265.0h1.1M201.9 275.3h1.1M117.7 277.6h1.1M64.5 264.2h1.1M39.1 321.6h1.1M82.6 254.8h1.1M207.3 285.9h1.1M151.7 264.5h1.1M155.8 275.3h1.1M124.4 250.5h1.1M79.9 258.2h1.1M123.5 262.8h1.1M169.6 271.2h1.1M205.7 277.0h1.1M51.4 253.2h1.1M107.0 267.6h1.1M181.1 278.5h1.1M186.9 270.5h1.1M195.2 277.9h1.1M82.7 278.2h1.1M92.3 264.1h1.1M91.5 263.6h1.1M156.4 260.3h1.1M94.4 273.0h1.1M190.9 282.5h1.1M124.1 266.3h1.1M114.6 281.9h1.1M108.2 271.7h1.1M201.7 277.1h1.1M96.8 278.2h1.1M178.5 271.8h1.1M140.2 297.9h1.1M39.8 286.0h1.1M157.1 281.9h1.1M175.1 276.8h1.1M192.9 301.8h1.1M160.3 268.6h1.1M186.9 254.6h1.1M190.0 278.6h1.1M145.4 281.6h1.1M93.2 223.7h1.1M80.7 259.0h1.1M152.7 274.1h1.1M91.9 270.0h1.1M102.7 211.9h1.1M94.1 267.8h1.1M139.8 235.5h1.1M197.7 277.0h1.1M207.6 244.5h1.1M110.4 283.9h1.1M131.1 239.8h1.1M150.8 280.9h1.1M87.1 258.2h1.1M40.1 313.2h1.1M100.4 268.0h1.1M87.9 274.4h1.1M79.7 264.9h1.1M133.5 265.6h1.1M197.9 308.3h1.1M172.7 213.8h1.1M191.2 297.1h1.1M202.6 284.9h1.1M58.0 278.0h1.1M188.2 251.6h1.1M141.5 264.2h1.1M161.3 254.3h1.1M102.1 264.6h1.1M63.9 252.7h1.1M169.2 284.0h1.1M44.5 288.6h1.1M192.1 247.2h1.1M164.8 285.2h1.1M115.8 274.9h1.1M154.6 278.6h1.1M87.9 261.3h1.1M87.6 251.2h1.1M155.6 268.6h1.1M194.1 252.0h1.1M51.0 225.8h1.1M108.7 269.7h1.1M139.0 268.6h1.1M190.3 281.2h1.1M178.1 260.6h1.1M109.9 246.0h1.1M120.7 270.0h1.1M185.8 273.1h1.1M191.9 270.9h1.1M103.5 263.6h1.1M126.7 268.5h1.1M203.9 292.7h1.1M90.8 255.0h1.1M168.4 301.6h1.1M122.4 268.7h1.1M120.5 281.0h1.1M126.5 261.7h1.1M103.2 271.1h1.1M174.8 273.5h1.1M41.1 314.7h1.1M197.8 268.3h1.1M133.7 240.5h1.1M129.0 271.8h1.1M121.1 268.4h1.1M40.7 324.9h1.1M163.4 269.1h1.1M158.5 280.0h1.1M76.0 278.7h1.1M46.0 308.4h1.1M42.6 337.1h1.1M194.3 277.0h1.1M90.3 254.8h1.1M67.3 264.8h1.1M136.9 279.2h1.1M191.3 260.7h1.1M68.6 256.6h1.1M123.2 257.9h1.1M65.1 256.9h1.1M86.7 261.1h1.1M72.3 250.7h1.1M194.2 235.3h1.1M132.2 228.1h1.1M42.8 274.1h1.1M180.7 287.9h1.1M92.5 260.4h1.1M65.3 248.7h1.1M171.3 269.2h1.1M139.2 287.4h1.1M138.2 265.9h1.1M61.3 238.9h1.1M48.8 319.8h1.1M106.3 298.0h1.1M205.0 282.5h1.1M46.2 348.0h1.1M140.8 273.3h1.1M140.9 274.9h1.1M108.6 263.2h1.1M74.9 252.1h1.1M79.2 254.9h1.1M65.2 265.7h1.1M141.6 261.3h1.1M200.0 262.0h1.1M113.5 297.2h1.1M87.1 263.4h1.1M95.4 279.3h1.1M168.4 265.1h1.1M127.7 274.5h1.1M146.6 267.5h1.1M164.6 250.3h1.1M186.9 274.9h1.1M206.2 303.9h1.1M87.4 285.1h1.1M64.3 229.5h1.1M40.5 331.3h1.1M191.0 284.1h1.1M76.2 257.5h1.1M158.5 269.0h1.1M56.6 237.6h1.1M190.9 263.0h1.1M164.8 268.5h1.1M172.6 275.5h1.1M89.7 255.7h1.1M165.8 286.2h1.1M139.3 254.2h1.1M73.8 267.6h1.1M192.8 271.5h1.1M117.2 283.2h1.1M100.3 242.2h1.1M176.0 270.7h1.1M45.8 312.1h1.1M59.7 243.2h1.1M129.8 276.1h1.1M207.8 270.2h1.1M189.0 229.1h1.1M192.6 261.4h1.1M182.0 262.4h1.1M71.9 277.2h1.1M126.5 266.1h1.1M144.9 278.1h1.1M195.2 272.8h1.1M115.0 263.8h1.1M105.4 286.5h1.1M203.5 292.0h1.1M161.4 261.7h1.1M131.9 263.9h1.1M93.7 261.0h1.1M208.0 280.2h1.1M191.5 274.2h1.1M76.6 267.1h1.1M68.5 265.6h1.1M167.9 262.8h1.1M162.5 279.1h1.1M160.4 287.6h1.1M153.2 271.0h1.1M140.2 255.7h1.1M88.4 258.8h1.1M99.8 258.8h1.1M66.0 248.8h1.1M109.0 277.6h1.1M79.0 252.9h1.1M155.3 277.1h1.1M190.2 265.0h1.1M147.5 274.8h1.1M80.8 266.1h1.1M144.4 266.4h1.1M147.0 272.0h1.1M174.8 277.6h1.1M99.3 269.4h1.1M131.0 255.3h1.1M204.8 283.5h1.1M203.8 280.1h1.1M74.0 216.7h1.1M95.4 261.2h1.1M40.6 308.5h1.1M140.1 304.4h1.1M147.5 273.8h1.1M90.5 258.0h1.1M145.2 280.9h1.1M110.4 227.0h1.1M105.9 267.1h1.1M140.6 269.5h1.1M196.3 276.2h1.1M169.2 255.8h1.1M153.0 286.7h1.1M44.6 304.7h1.1M197.6 262.3h1.1M78.7 258.5h1.1M43.3 301.7h1.1M125.8 262.2h1.1M179.1 254.8h1.1M81.3 274.8h1.1M164.2 292.4h1.1M75.4 261.2h1.1M172.4 269.9h1.1M86.7 266.2h1.1M163.1 274.7h1.1M160.4 265.1h1.1M187.5 273.5h1.1M150.1 277.8h1.1M77.2 266.8h1.1M96.3 272.3h1.1M52.0 226.4h1.1M68.1 258.1h1.1M94.1 270.6h1.1M142.4 260.1h1.1M109.7 270.8h1.1M123.1 280.2h1.1M48.8 312.2h1.1M90.3 272.3h1.1M45.9 307.2h1.1M96.3 289.6h1.1M101.0 253.5h1.1M198.2 279.4h1.1M192.9 274.2h1.1M204.5 275.1h1.1M141.4 281.4h1.1M166.3 275.4h1.1M198.6 275.0h1.1M102.3 271.0h1.1M113.1 259.6h1.1M74.8 266.9h1.1M198.9 285.2h1.1M189.0 273.3h1.1M91.8 256.1h1.1M99.9 277.0h1.1M168.1 273.8h1.1M116.8 250.2h1.1M129.8 268.0h1.1M50.9 243.2h1.1M116.5 261.8h1.1M48.5 311.3h1.1M95.7 271.4h1.1M85.7 241.9h1.1M61.2 231.3h1.1M145.8 276.1h1.1M155.7 264.0h1.1M93.1 277.9h1.1M155.0 260.0h1.1M52.3 230.0h1.1M145.1 242.6h1.1M177.5 250.7h1.1M141.5 277.0h1.1M178.8 259.0h1.1M79.3 279.0h1.1M148.0 272.6h1.1M87.4 273.1h1.1M107.9 261.3h1.1M107.8 258.3h1.1M205.0 262.2h1.1M114.6 267.6h1.1M125.5 273.7h1.1M135.3 263.7h1.1M41.6 309.1h1.1M119.9 266.6h1.1M123.9 254.1h1.1M62.6 224.3h1.1M150.8 266.8h1.1M131.2 273.2h1.1M163.8 238.1h1.1M167.3 262.8h1.1M166.4 255.6h1.1M165.8 283.9h1.1M186.2 267.0h1.1M144.3 252.6h1.1M195.7 283.2h1.1M121.0 238.8h1.1M81.3 259.0h1.1M121.2 264.5h1.1M59.6 231.0h1.1M47.1 308.4h1.1M94.4 279.2h1.1M175.9 279.9h1.1M107.9 266.6h1.1M99.3 274.5h1.1M183.2 227.3h1.1M193.7 275.5h1.1M168.1 278.1h1.1M46.7 319.2h1.1M142.8 289.1h1.1M177.3 291.3h1.1M178.2 286.8h1.1M70.6 261.0h1.1M79.2 254.1h1.1M45.8 286.9h1.1M150.0 270.2h1.1M119.7 271.1h1.1M149.4 263.4h1.1M77.1 251.3h1.1M90.4 271.1h1.1M49.6 228.4h1.1M105.6 280.5h1.1M83.0 254.8h1.1M70.7 254.8h1.1M53.2 244.7h1.1M147.7 267.7h1.1M140.6 276.6h1.1M97.8 233.1h1.1M146.3 291.3h1.1M183.2 261.9h1.1M198.0 289.7h1.1M56.8 255.8h1.1M60.7 237.9h1.1M206.6 259.7h1.1M94.6 255.2h1.1M165.4 264.4h1.1M204.9 263.2h1.1M133.2 273.0h1.1M139.2 260.9h1.1M123.8 279.0h1.1M148.6 276.7h1.1M188.6 276.4h1.1M102.5 259.7h1.1M72.1 257.8h1.1M80.2 256.3h1.1M88.9 264.4h1.1M174.9 262.6h1.1M111.4 244.2h1.1M189.5 271.3h1.1M96.3 265.5h1.1M171.5 286.3h1.1M169.9 276.3h1.1M162.9 274.0h1.1M127.3 266.7h1.1M75.6 236.1h1.1M114.0 261.0h1.1M63.7 243.5h1.1M122.5 271.4h1.1M184.7 278.3h1.1M111.5 267.0h1.1M139.6 272.5h1.1M150.2 268.4h1.1M87.4 268.1h1.1M176.6 265.9h1.1M198.0 260.6h1.1M63.2 284.0h1.1M166.6 277.7h1.1M138.0 271.5h1.1M55.8 240.5h1.1M86.6 257.1h1.1M198.9 265.1h1.1M41.8 318.7h1.1M125.5 283.3h1.1M102.1 259.7h1.1M121.4 274.0h1.1M47.3 315.7h1.1M104.5 260.3h1.1M139.2 265.1h1.1M69.0 251.3h1.1M142.2 274.7h1.1M84.0 260.6h1.1M113.8 269.7h1.1M142.8 273.9h1.1M154.8 252.4h1.1M168.9 239.7h1.1M141.3 279.0h1.1M176.0 247.0h1.1M206.8 261.6h1.1M128.6 268.2h1.1M99.3 266.5h1.1M192.7 272.4h1.1M51.2 245.9h1.1M84.1 269.6h1.1M102.8 278.8h1.1M180.6 268.4h1.1M62.9 251.9h1.1M185.2 278.5h1.1M58.6 250.1h1.1M147.3 297.8h1.1M74.3 272.0h1.1M61.1 273.4h1.1M39.6 304.0h1.1M55.0 244.3h1.1M172.7 282.6h1.1M177.2 271.8h1.1M43.9 306.5h1.1M125.2 256.7h1.1M71.4 252.6h1.1M126.1 266.5h1.1M48.5 316.4h1.1M195.1 280.1h1.1M92.9 269.5h1.1M121.2 273.6h1.1M182.8 269.0h1.1M82.4 272.6h1.1M67.6 243.1h1.1M69.2 259.9h1.1M170.8 287.2h1.1M153.1 235.1h1.1M112.8 271.1h1.1M130.1 277.4h1.1M118.8 253.4h1.1M170.9 305.4h1.1M186.7 273.5h1.1M131.2 281.1h1.1M46.6 315.1h1.1M41.7 305.3h1.1M132.5 274.2h1.1M100.7 266.5h1.1M197.4 286.6h1.1M170.0 289.5h1.1M193.3 259.6h1.1M180.4 293.3h1.1M85.1 264.3h1.1M188.0 271.6h1.1M176.6 278.6h1.1M202.6 275.4h1.1M159.7 243.4h1.1M209.4 276.8h1.1M191.9 258.6h1.1M200.7 270.5h1.1M75.9 218.5h1.1M53.6 234.2h1.1M112.1 254.7h1.1M131.7 266.3h1.1M138.3 275.3h1.1M193.9 263.0h1.1M151.5 274.7h1.1M176.4 267.3h1.1M58.5 254.6h1.1M114.4 247.4h1.1M130.6 263.9h1.1M119.6 266.0h1.1M157.4 274.5h1.1M144.2 293.0h1.1M41.3 300.6h1.1M114.1 268.1h1.1M195.0 274.2h1.1M81.5 262.8h1.1M88.8 254.3h1.1M148.3 272.3h1.1M126.8 286.7h1.1M182.9 252.2h1.1M144.4 234.9h1.1M39.6 324.6h1.1M103.6 260.1h1.1M105.5 238.3h1.1M69.5 258.9h1.1M77.0 259.9h1.1M164.1 277.2h1.1M99.2 259.5h1.1M199.3 279.0h1.1M161.3 271.3h1.1M177.9 262.3h1.1M126.3 275.3h1.1M91.9 258.4h1.1M120.0 240.9h1.1M131.2 263.2h1.1M90.1 264.1h1.1M149.8 282.6h1.1M158.7 264.1h1.1M133.4 277.3h1.1M187.0 284.0h1.1M67.2 257.4h1.1M76.0 256.2h1.1M130.3 296.6h1.1M123.1 287.9h1.1M47.7 322.6h1.1M153.2 284.8h1.1M205.9 265.8h1.1M137.5 256.1h1.1M94.3 258.6h1.1M71.6 271.3h1.1M61.3 233.7h1.1M207.3 271.3h1.1M68.0 259.0h1.1M67.7 263.2h1.1M82.8 246.4h1.1M155.1 286.1h1.1M151.6 276.9h1.1M52.2 232.1h1.1M179.0 280.1h1.1M91.1 262.7h1.1M81.8 267.9h1.1M125.4 262.6h1.1M122.7 270.2h1.1M148.0 267.9h1.1M113.0 276.0h1.1M173.1 279.3h1.1M89.2 258.2h1.1M53.0 228.6h1.1M43.2 297.1h1.1M65.5 233.3h1.1M89.4 244.3h1.1M84.3 269.0h1.1M177.0 271.9h1.1M158.4 253.8h1.1M173.0 269.5h1.1M186.1 293.3h1.1M128.4 224.8h1.1M72.4 258.4h1.1M84.0 257.1h1.1M170.0 284.7h1.1M106.1 255.6h1.1M47.0 308.9h1.1M194.7 287.0h1.1M64.2 235.7h1.1M160.0 272.7h1.1M81.2 263.1h1.1M51.4 205.4h1.1M44.7 286.0h1.1M44.0 322.1h1.1M125.6 276.8h1.1M119.5 278.3h1.1M74.7 268.5h1.1M100.1 256.1h1.1M202.4 256.6h1.1M144.5 278.6h1.1M163.2 270.7h1.1M173.3 272.8h1.1M71.2 263.6h1.1M101.7 277.2h1.1M207.8 276.5h1.1M72.4 253.5h1.1M107.1 271.7h1.1M183.7 250.8h1.1M104.2 273.9h1.1M98.0 269.2h1.1M74.3 252.7h1.1M118.5 270.8h1.1M169.9 288.2h1.1M174.4 284.3h1.1M145.7 258.4h1.1M191.7 283.7h1.1M58.7 233.8h1.1M77.4 272.5h1.1M81.1 221.9h1.1M169.2 297.3h1.1M99.2 264.9h1.1M129.9 269.9h1.1M81.0 263.9h1.1M58.3 224.7h1.1M65.9 254.7h1.1M200.3 244.1h1.1M58.8 243.8h1.1M40.9 317.2h1.1M137.1 283.1h1.1M168.5 263.2h1.1M100.0 294.6h1.1M84.4 260.1h1.1M94.3 259.9h1.1M129.0 269.1h1.1M179.3 272.2h1.1M47.4 320.6h1.1M79.3 271.4h1.1M42.5 325.9h1.1M44.9 305.0h1.1M102.0 267.1h1.1M47.1 305.8h1.1M159.9 269.6h1.1M74.2 257.0h1.1M109.4 277.9h1.1M78.0 285.0h1.1M198.4 278.5h1.1M131.4 266.5h1.1M204.3 288.8h1.1M43.1 339.5h1.1M181.4 272.5h1.1M108.2 263.1h1.1M187.5 287.5h1.1M66.9 248.6h1.1M73.1 246.0h1.1M132.8 307.2h1.1M81.0 229.3h1.1M161.7 283.4h1.1M137.0 266.7h1.1M186.8 265.4h1.1M104.8 258.7h1.1M73.7 258.8h1.1M131.8 276.3h1.1M194.5 252.7h1.1M205.3 269.5h1.1M185.5 277.0h1.1M81.5 274.4h1.1M168.6 261.4h1.1M202.0 295.9h1.1M68.2 261.2h1.1M150.0 259.0h1.1M127.9 286.2h1.1M116.1 273.8h1.1M168.6 249.0h1.1M48.3 323.2h1.1M77.8 278.6h1.1M175.6 277.3h1.1M112.8 289.2h1.1M161.2 273.7h1.1M53.0 237.9h1.1M75.2 254.9h1.1M206.5 279.3h1.1M109.8 272.4h1.1M116.6 267.3h1.1M175.1 286.2h1.1M145.7 299.8h1.1M188.1 317.4h1.1M108.5 275.6h1.1M175.2 279.7h1.1M92.2 252.0h1.1M55.9 248.1h1.1M202.6 280.8h1.1M146.4 268.1h1.1M178.6 275.7h1.1M114.7 277.3h1.1M174.0 300.3h1.1M125.7 271.7h1.1M53.2 217.9h1.1M197.4 267.5h1.1M108.3 266.8h1.1M99.2 254.7h1.1M162.1 263.8h1.1M123.0 264.0h1.1M162.4 274.3h1.1M134.6 254.2h1.1M146.6 280.1h1.1M142.3 262.6h1.1M85.9 269.2h1.1M110.4 282.0h1.1M160.3 257.5h1.1M183.8 269.4h1.1M123.5 273.9h1.1M125.4 272.8h1.1M77.1 264.4h1.1M179.8 285.8h1.1M161.2 269.3h1.1M135.0 289.8h1.1M116.0 253.5h1.1M68.4 251.2h1.1M109.6 273.0h1.1M47.2 309.5h1.1M90.1 271.5h1.1M147.1 262.6h1.1M145.8 271.0h1.1M49.9 225.4h1.1M96.8 254.6h1.1M84.8 271.4h1.1M142.1 268.4h1.1M52.9 228.3h1.1M135.2 272.5h1.1M115.4 257.7h1.1M156.7 265.0h1.1M171.1 288.5h1.1M110.1 256.8h1.1M208.1 277.2h1.1M56.1 240.2h1.1M169.9 260.5h1.1M129.6 277.9h1.1M136.1 263.6h1.1M70.6 250.0h1.1M184.7 264.7h1.1M97.3 268.4h1.1M186.5 272.8h1.1M56.6 251.5h1.1M104.4 283.4h1.1M119.6 254.7h1.1M97.3 211.5h1.1M168.4 282.2h1.1M104.4 263.4h1.1M157.6 264.5h1.1M56.5 236.6h1.1M86.1 258.8h1.1M186.5 251.0h1.1M41.1 306.6h1.1M43.9 322.4h1.1M101.7 253.1h1.1M102.7 273.2h1.1M52.0 234.1h1.1M125.9 271.0h1.1M80.9 257.7h1.1M162.3 276.7h1.1M118.8 262.5h1.1M176.8 277.6h1.1M58.6 249.2h1.1M92.4 268.6h1.1M153.0 278.6h1.1M69.2 241.6h1.1M119.4 242.5h1.1M205.6 282.2h1.1M175.0 273.7h1.1M113.8 260.5h1.1M139.8 255.5h1.1M46.9 312.6h1.1M198.4 242.1h1.1M182.5 268.8h1.1M182.5 242.9h1.1M199.5 276.5h1.1M170.6 276.9h1.1M44.0 301.7h1.1M82.8 263.4h1.1M108.0 252.9h1.1M52.7 222.2h1.1M149.9 266.6h1.1M185.1 272.1h1.1M141.4 293.6h1.1M156.3 266.5h1.1M197.8 275.3h1.1M111.4 253.6h1.1M145.7 277.8h1.1M147.8 268.5h1.1M45.3 322.0h1.1M77.3 259.3h1.1M121.8 272.1h1.1M193.9 235.8h1.1M62.0 250.5h1.1M81.1 258.0h1.1M80.4 267.3h1.1M161.5 246.3h1.1M75.8 245.5h1.1M172.2 264.9h1.1M62.9 257.6h1.1M109.6 274.7h1.1M92.5 261.9h1.1M54.3 243.1h1.1M42.2 330.0h1.1M156.7 267.7h1.1M185.5 299.9h1.1M50.0 251.2h1.1M162.8 274.4h1.1M125.9 261.6h1.1M47.2 303.6h1.1M76.5 262.2h1.1M99.8 292.5h1.1M127.2 266.7h1.1M155.1 258.2h1.1M135.4 275.9h1.1M46.9 302.0h1.1M102.8 263.1h1.1M51.1 217.6h1.1M136.6 285.0h1.1M207.2 274.8h1.1M140.8 283.1h1.1M76.2 254.7h1.1M164.9 286.2h1.1M162.0 281.4h1.1M112.1 268.8h1.1M108.7 277.0h1.1M172.4 272.6h1.1M196.0 279.0h1.1M128.2 273.4h1.1M140.7 290.8h1.1M105.7 265.0h1.1M135.5 269.6h1.1M129.1 271.3h1.1M58.0 250.0h1.1M142.7 267.0h1.1M122.8 263.3h1.1M52.2 241.3h1.1M164.6 276.8h1.1M49.0 222.4h1.1M107.4 268.6h1.1M48.8 301.4h1.1M107.3 267.1h1.1M57.0 252.7h1.1M153.0 294.3h1.1M188.3 274.8h1.1M83.0 260.2h1.1M96.6 278.0h1.1M171.2 276.0h1.1M94.4 277.1h1.1M104.7 259.5h1.1M206.1 276.4h1.1M63.8 240.9h1.1M95.5 267.4h1.1M89.4 255.6h1.1M51.7 216.7h1.1M64.5 243.2h1.1M53.4 235.2h1.1M207.6 227.3h1.1M50.3 219.6h1.1M126.2 271.0h1.1M133.7 266.1h1.1M176.4 274.6h1.1M97.7 268.8h1.1M183.2 271.2h1.1M194.4 240.2h1.1M96.1 250.5h1.1M110.7 278.8h1.1M89.6 245.4h1.1M203.7 274.3h1.1M95.8 245.9h1.1M112.4 256.3h1.1M74.3 275.0h1.1M144.9 271.8h1.1M110.9 270.1h1.1M140.1 268.2h1.1M150.9 276.5h1.1M78.9 230.3h1.1M81.2 254.9h1.1M180.4 280.3h1.1M48.2 320.2h1.1M203.9 280.8h1.1M205.3 291.2h1.1M94.0 277.9h1.1M180.4 287.8h1.1M162.1 288.6h1.1M101.7 258.6h1.1M202.0 267.5h1.1M158.3 270.4h1.1M175.7 283.8h1.1M125.0 281.8h1.1M141.7 263.0h1.1M91.9 255.7h1.1M41.8 308.5h1.1M106.9 275.0h1.1M56.7 241.9h1.1M48.2 329.1h1.1M81.9 267.8h1.1M115.9 269.0h1.1M69.2 258.1h1.1M135.8 282.3h1.1M129.9 255.0h1.1M185.8 264.2h1.1M53.3 208.2h1.1M157.2 280.0h1.1M207.0 277.7h1.1M55.8 229.0h1.1M50.2 230.8h1.1M175.1 250.8h1.1M123.7 264.3h1.1M169.4 274.9h1.1M170.4 267.2h1.1M120.8 268.3h1.1M119.8 260.9h1.1M183.8 273.6h1.1M206.0 262.0h1.1M187.0 264.8h1.1M40.1 308.5h1.1M109.7 263.4h1.1M138.0 277.7h1.1M44.8 315.1h1.1M202.4 275.4h1.1M130.2 269.8h1.1M142.3 254.1h1.1M179.0 265.8h1.1M55.8 244.2h1.1M204.4 271.5h1.1M190.2 285.3h1.1M162.8 283.1h1.1M174.2 251.3h1.1M90.0 269.5h1.1M165.6 281.1h1.1M181.5 291.1h1.1M133.6 276.6h1.1M98.5 234.7h1.1M204.2 280.4h1.1M64.8 255.0h1.1M46.7 316.0h1.1M55.5 238.5h1.1M206.7 275.8h1.1M150.9 276.5h1.1M157.4 276.4h1.1M194.6 227.9h1.1M166.9 276.6h1.1M84.1 235.3h1.1M114.9 265.5h1.1M174.6 283.7h1.1M71.5 268.5h1.1M61.4 253.5h1.1M196.6 269.9h1.1M75.5 258.0h1.1M188.1 267.4h1.1M127.8 272.9h1.1M185.0 281.1h1.1M156.4 278.1h1.1M99.7 258.1h1.1M180.2 268.5h1.1M52.3 237.8h1.1M138.0 282.1h1.1M122.8 258.0h1.1M110.4 267.2h1.1M128.1 271.9h1.1M80.4 261.4h1.1M177.0 268.4h1.1M191.4 257.7h1.1M146.2 267.0h1.1M172.9 270.7h1.1M131.0 281.7h1.1M176.3 273.9h1.1M90.6 278.5h1.1M88.0 272.2h1.1M194.1 278.6h1.1M106.0 289.2h1.1M45.1 320.0h1.1M100.2 264.5h1.1M84.6 249.7h1.1M79.6 232.1h1.1M67.6 258.8h1.1M72.1 245.4h1.1M162.6 277.9h1.1M179.9 277.2h1.1M156.3 284.1h1.1M128.0 266.0h1.1M178.0 276.4h1.1M135.6 276.5h1.1M105.6 261.2h1.1M77.1 250.3h1.1M196.6 288.5h1.1M90.3 250.1h1.1M186.8 271.2h1.1M171.4 263.5h1.1M109.8 276.1h1.1M78.4 261.1h1.1M160.6 269.5h1.1M131.5 265.3h1.1M175.0 280.9h1.1M180.1 282.8h1.1M106.9 266.5h1.1M181.7 281.3h1.1M187.2 292.5h1.1M87.3 243.9h1.1M175.5 240.7h1.1M85.9 252.1h1.1M95.6 252.2h1.1M49.4 215.3h1.1M115.8 263.9h1.1M103.4 285.8h1.1M182.6 292.3h1.1M208.6 262.8h1.1M143.1 269.0h1.1M122.5 268.9h1.1M171.0 272.2h1.1M205.6 281.1h1.1M191.4 276.0h1.1M145.3 276.7h1.1M174.5 290.7h1.1M176.2 290.7h1.1M112.5 264.5h1.1M191.2 239.5h1.1M63.7 251.6h1.1M142.8 245.2h1.1M52.9 246.2h1.1M158.5 263.2h1.1M176.7 247.9h1.1M159.2 279.7h1.1M183.5 262.8h1.1M76.8 266.1h1.1M197.6 287.6h1.1M179.9 269.9h1.1M133.4 266.4h1.1M94.7 250.5h1.1M75.2 264.6h1.1M72.6 265.0h1.1M190.4 263.8h1.1M72.5 245.3h1.1M91.9 219.1h1.1M102.2 277.6h1.1M185.4 285.5h1.1M201.4 283.4h1.1M78.3 226.3h1.1M189.8 290.2h1.1M119.8 278.3h1.1M179.8 269.7h1.1M45.8 314.6h1.1M40.2 322.2h1.1M140.6 279.8h1.1M46.9 314.4h1.1M197.1 268.5h1.1M111.4 285.6h1.1M118.0 293.8h1.1M65.7 234.7h1.1M82.4 251.6h1.1M157.3 288.7h1.1M205.9 260.9h1.1M168.0 283.1h1.1M132.8 259.8h1.1M158.5 274.9h1.1M165.9 268.2h1.1M86.1 271.1h1.1M135.3 269.0h1.1M167.0 267.1h1.1M187.3 257.6h1.1M185.8 275.7h1.1M199.6 250.7h1.1M190.4 224.2h1.1M151.6 274.2h1.1M78.9 255.0h1.1M115.5 239.4h1.1M71.3 246.0h1.1M51.9 244.4h1.1M109.8 288.9h1.1M196.2 278.6h1.1M172.4 254.3h1.1M95.5 261.7h1.1M175.0 272.6h1.1M129.8 275.1h1.1M199.1 265.8h1.1M75.2 270.1h1.1M84.7 243.0h1.1M173.3 276.4h1.1M99.2 253.5h1.1M186.9 246.7h1.1M100.5 262.5h1.1M181.2 269.2h1.1M114.4 256.0h1.1M146.1 263.5h1.1M41.3 297.4h1.1M55.4 258.4h1.1M168.3 270.9h1.1M50.2 228.4h1.1M178.8 284.9h1.1M66.4 249.8h1.1M203.1 268.9h1.1M90.9 287.5h1.1M75.3 243.2h1.1M141.6 270.0h1.1M88.2 263.4h1.1M178.8 254.5h1.1M63.2 262.6h1.1M118.0 269.8h1.1M75.7 243.3h1.1M169.9 296.9h1.1M73.1 254.7h1.1M127.3 279.2h1.1M158.1 269.9h1.1M67.8 253.2h1.1M152.7 276.2h1.1M168.6 274.3h1.1M156.3 274.2h1.1M138.4 256.1h1.1M107.7 267.0h1.1M64.4 261.3h1.1M132.6 269.3h1.1M88.9 252.0h1.1M195.4 289.7h1.1M91.1 272.1h1.1M113.5 266.5h1.1M179.1 258.3h1.1M60.0 249.3h1.1M183.4 276.7h1.1M97.7 285.5h1.1M97.5 274.4h1.1M75.6 276.4h1.1M59.7 244.0h1.1M206.4 256.0h1.1M41.0 312.5h1.1M159.4 271.5h1.1M46.3 315.5h1.1M88.7 229.9h1.1M106.9 264.6h1.1M40.7 313.1h1.1M40.0 314.6h1.1M170.6 267.3h1.1M45.0 318.5h1.1M151.0 218.8h1.1M44.5 314.8h1.1M50.9 241.8h1.1M120.2 279.7h1.1M102.7 273.2h1.1M176.6 280.5h1.1M85.6 265.0h1.1M110.2 261.2h1.1M70.4 262.1h1.1M76.6 259.9h1.1M138.3 271.8h1.1M59.5 237.8h1.1M101.7 263.1h1.1M118.2 224.8h1.1M87.6 263.5h1.1M113.9 268.5h1.1M203.0 257.1h1.1M45.1 308.7h1.1M120.9 267.5h1.1M150.7 281.2h1.1M94.2 230.1h1.1M73.9 237.8h1.1M103.7 266.1h1.1M98.4 247.6h1.1M90.5 254.6h1.1M43.1 292.1h1.1M187.6 287.4h1.1M83.0 247.4h1.1M159.4 257.5h1.1M138.2 274.8h1.1M187.2 273.4h1.1M89.1 257.6h1.1M75.8 261.3h1.1M143.0 307.2h1.1M133.4 263.8h1.1M82.3 263.3h1.1M76.4 279.6h1.1M166.1 253.8h1.1M70.6 251.7h1.1M129.2 273.6h1.1M206.1 243.8h1.1M131.8 232.2h1.1M206.1 291.3h1.1M153.3 293.1h1.1M118.2 282.8h1.1M125.7 271.1h1.1M146.8 273.0h1.1M198.2 266.5h1.1M85.1 270.2h1.1M59.1 254.9h1.1M133.7 278.3h1.1M183.3 276.9h1.1M197.6 257.9h1.1M129.6 276.3h1.1M71.6 263.4h1.1M82.8 257.0h1.1M47.6 336.3h1.1M179.5 274.5h1.1M178.2 279.1h1.1M127.0 262.0h1.1M162.2 268.4h1.1M132.9 270.2h1.1M124.3 269.7h1.1M127.2 287.6h1.1M53.8 236.6h1.1M163.0 283.9h1.1M140.1 279.3h1.1M187.1 260.2h1.1M138.7 279.3h1.1M106.8 266.3h1.1M103.9 274.8h1.1M172.3 270.2h1.1M204.1 285.1h1.1M94.5 262.2h1.1M174.9 260.4h1.1M43.0 301.7h1.1M97.2 268.7h1.1M72.1 257.0h1.1M95.0 252.8h1.1M87.9 253.8h1.1M43.5 306.3h1.1M106.0 249.2h1.1M61.6 250.6h1.1M72.1 257.9h1.1M77.1 265.0h1.1M78.5 246.3h1.1M156.1 275.2h1.1M165.1 267.5h1.1M76.2 265.3h1.1M187.6 268.8h1.1M160.8 257.2h1.1M58.6 226.4h1.1M132.2 277.2h1.1M178.7 270.2h1.1M111.2 283.4h1.1M181.7 200.2h1.1M68.5 261.3h1.1M107.2 272.1h1.1M187.8 267.6h1.1M109.1 271.4h1.1M143.1 271.9h1.1M164.9 261.8h1.1M94.6 259.3h1.1M152.2 271.1h1.1M63.3 246.3h1.1M190.6 286.4h1.1M112.4 276.9h1.1M186.1 263.3h1.1M195.4 317.0h1.1M125.0 274.6h1.1M158.6 262.4h1.1M199.8 282.6h1.1M183.7 280.2h1.1M148.3 277.0h1.1M132.1 258.6h1.1M78.6 264.4h1.1M198.2 274.5h1.1M105.1 253.8h1.1M56.7 238.5h1.1M154.7 277.0h1.1M90.6 262.6h1.1M134.9 263.0h1.1M153.0 262.3h1.1M66.6 261.6h1.1M117.8 263.4h1.1M89.6 274.8h1.1M74.9 249.3h1.1M142.9 276.7h1.1M46.2 314.0h1.1M98.4 259.8h1.1M70.7 262.3h1.1M189.5 274.6h1.1M149.6 277.3h1.1M148.7 270.6h1.1M191.4 279.6h1.1M162.6 284.8h1.1M63.4 239.5h1.1M134.2 273.4h1.1M163.2 256.7h1.1M162.8 269.9h1.1M147.0 284.0h1.1M59.9 242.5h1.1M113.5 255.6h1.1M94.2 265.1h1.1M74.0 266.8h1.1M98.1 256.3h1.1M121.4 286.9h1.1M66.0 263.2h1.1M93.4 275.4h1.1M172.7 243.4h1.1M161.4 286.5h1.1M125.2 273.0h1.1M89.3 262.2h1.1M169.8 282.9h1.1M90.3 217.8h1.1M125.8 282.4h1.1M128.5 230.6h1.1M176.2 266.1h1.1M197.9 232.7h1.1M88.4 264.9h1.1M139.1 257.7h1.1M130.1 285.8h1.1M149.6 265.0h1.1M106.1 259.4h1.1M145.6 256.2h1.1M69.5 204.1h1.1M88.6 262.8h1.1M125.6 272.6h1.1M145.9 283.8h1.1M145.7 259.6h1.1M172.7 265.6h1.1M146.4 281.1h1.1M178.3 265.2h1.1M153.0 276.6h1.1M70.4 259.7h1.1M78.7 256.4h1.1M101.5 268.7h1.1M163.1 273.6h1.1M175.7 281.5h1.1M152.8 276.7h1.1M71.1 249.8h1.1M107.4 276.9h1.1M146.6 279.0h1.1M169.8 270.0h1.1M131.3 270.1h1.1M78.7 261.9h1.1M129.0 267.7h1.1M169.8 261.6h1.1M194.5 283.7h1.1M190.8 271.4h1.1M123.9 271.4h1.1M48.0 338.7h1.1M122.1 270.3h1.1M67.6 254.8h1.1M165.3 280.8h1.1M171.1 274.8h1.1M104.6 269.8h1.1M183.1 271.2h1.1M154.3 267.6h1.1M100.7 279.3h1.1M81.0 243.6h1.1M95.6 245.2h1.1M147.6 267.9h1.1M106.2 255.1h1.1M117.9 283.7h1.1M173.9 273.9h1.1M168.8 273.8h1.1M201.6 260.0h1.1M139.0 281.5h1.1M85.8 274.4h1.1M46.1 309.5h1.1M62.7 253.0h1.1M138.8 262.7h1.1M193.3 260.8h1.1M78.8 260.3h1.1M42.8 325.1h1.1M190.6 261.3h1.1M191.9 277.2h1.1M147.9 275.0h1.1M128.0 280.3h1.1M77.0 253.0h1.1M136.8 262.1h1.1M116.8 274.9h1.1M92.9 270.6h1.1M152.8 244.7h1.1M86.5 252.9h1.1M204.4 276.8h1.1M198.3 285.1h1.1M138.2 292.9h1.1M108.2 269.2h1.1M125.1 262.5h1.1M99.9 267.9h1.1M199.0 262.7h1.1M170.9 261.3h1.1M180.5 281.6h1.1M41.1 243.4h1.1M78.3 250.1h1.1M88.2 247.8h1.1M148.8 273.2h1.1M154.3 281.9h1.1M136.2 240.4h1.1M138.7 276.5h1.1M94.8 259.7h1.1M204.9 273.9h1.1M129.2 262.9h1.1M75.5 263.4h1.1M148.3 271.7h1.1M72.8 265.2h1.1M121.4 252.3h1.1M42.6 314.2h1.1M69.1 264.0h1.1M61.3 254.5h1.1M155.3 283.3h1.1M54.6 239.7h1.1M95.3 268.4h1.1M105.7 284.7h1.1M112.4 255.3h1.1M152.7 266.9h1.1M172.1 290.2h1.1M56.8 257.5h1.1M84.0 270.1h1.1M41.1 301.4h1.1M178.6 283.5h1.1M106.6 273.2h1.1M136.8 271.4h1.1M131.4 292.4h1.1M159.8 260.9h1.1M104.5 276.0h1.1M189.8 281.0h1.1M109.1 288.0h1.1M202.0 278.7h1.1M172.0 280.6h1.1M42.0 326.5h1.1M142.0 291.1h1.1M203.7 272.8h1.1M97.6 260.3h1.1M106.1 265.8h1.1M138.1 238.5h1.1M101.7 272.6h1.1M118.0 276.7h1.1M43.5 303.7h1.1M180.9 266.6h1.1M58.5 251.1h1.1M67.7 225.8h1.1M147.5 273.1h1.1M140.3 255.8h1.1M86.2 260.0h1.1M162.1 283.5h1.1M207.5 272.9h1.1M112.0 268.2h1.1M52.7 242.6h1.1M42.8 317.3h1.1M72.9 238.5h1.1M126.5 243.7h1.1M166.8 249.9h1.1M180.3 243.3h1.1M90.0 263.9h1.1M41.7 308.0h1.1M142.7 272.4h1.1M197.0 270.5h1.1M51.5 219.0h1.1M187.3 243.7h1.1M41.1 315.0h1.1M74.4 251.4h1.1M184.0 278.7h1.1M123.9 269.0h1.1M134.2 271.5h1.1M53.0 245.6h1.1M200.9 267.0h1.1M48.1 318.6h1.1M158.3 266.1h1.1M180.7 279.2h1.1M92.7 266.9h1.1M39.6 309.7h1.1M63.7 244.7h1.1M89.7 261.6h1.1M90.2 267.0h1.1M164.4 275.6h1.1M151.5 278.4h1.1M65.0 254.1h1.1M62.4 250.3h1.1M55.7 241.8h1.1M87.1 242.3h1.1M42.1 304.2h1.1M181.6 246.7h1.1M132.6 289.9h1.1M182.0 265.4h1.1M154.6 265.5h1.1M159.0 292.4h1.1M173.9 273.1h1.1M87.7 261.5h1.1M196.4 288.1h1.1M135.9 258.4h1.1M39.0 303.7h1.1M123.7 268.0h1.1M114.7 283.0h1.1M85.5 262.8h1.1M54.0 255.2h1.1M166.9 267.7h1.1M198.3 279.7h1.1M59.3 248.0h1.1M128.8 264.5h1.1M91.6 268.6h1.1M149.1 263.5h1.1M88.2 246.3h1.1M197.7 269.1h1.1M45.9 312.6h1.1M195.4 266.1h1.1M130.5 272.1h1.1M78.5 243.3h1.1M180.5 239.7h1.1M92.0 250.1h1.1M55.7 230.7h1.1M93.1 254.9h1.1M172.3 260.7h1.1M164.5 265.1h1.1M169.1 274.3h1.1M79.1 264.1h1.1M71.6 255.5h1.1M132.8 259.4h1.1M168.9 260.1h1.1M103.8 270.7h1.1M72.1 256.0h1.1M151.0 299.8h1.1M167.4 285.8h1.1M45.2 334.4h1.1M61.9 238.1h1.1M92.6 275.0h1.1M163.4 282.7h1.1M98.9 251.6h1.1M176.7 278.7h1.1M50.2 224.5h1.1M167.7 250.5h1.1M81.0 264.5h1.1M188.5 259.9h1.1M105.0 262.5h1.1M119.7 269.8h1.1M135.1 269.0h1.1M43.8 309.8h1.1M115.2 257.4h1.1M168.7 258.0h1.1M100.6 282.3h1.1M199.6 244.3h1.1M141.9 262.3h1.1M113.0 264.6h1.1M188.4 287.9h1.1M207.7 282.1h1.1M112.0 258.6h1.1M129.1 262.1h1.1M158.7 261.7h1.1M160.8 277.8h1.1M75.8 253.6h1.1M151.9 255.8h1.1M152.2 266.4h1.1M133.3 279.8h1.1M46.7 309.6h1.1M150.3 266.9h1.1M124.0 268.3h1.1M104.6 259.2h1.1M78.6 263.6h1.1M184.5 265.4h1.1M182.6 269.9h1.1M78.9 267.3h1.1M136.9 263.3h1.1M92.4 244.5h1.1M95.0 270.2h1.1M170.5 255.2h1.1M112.4 274.0h1.1M201.3 279.5h1.1M164.0 280.8h1.1M164.5 270.1h1.1M154.4 287.3h1.1M128.3 293.1h1.1M179.1 292.4h1.1M103.1 256.0h1.1M168.2 267.1h1.1M150.6 269.2h1.1M199.7 280.8h1.1M115.2 271.9h1.1M66.4 254.8h1.1M208.4 292.6h1.1M76.3 270.2h1.1M151.8 268.0h1.1M154.9 270.2h1.1M203.1 275.1h1.1M80.5 275.9h1.1M153.2 260.9h1.1M190.9 286.0h1.1M60.3 245.0h1.1M165.6 311.1h1.1M196.1 243.0h1.1M101.8 269.7h1.1M157.9 279.8h1.1M148.9 272.9h1.1M45.8 320.4h1.1M153.6 271.0h1.1M81.3 266.6h1.1M46.4 299.1h1.1M92.9 262.1h1.1M43.1 306.2h1.1M128.3 257.1h1.1M118.0 268.7h1.1M140.6 225.6h1.1M82.0 257.3h1.1M77.5 250.5h1.1M135.1 271.0h1.1M97.9 277.2h1.1M154.9 303.3h1.1M161.0 287.9h1.1M138.3 265.3h1.1M156.0 270.3h1.1M105.5 265.3h1.1M77.7 260.1h1.1M189.6 282.6h1.1M150.1 257.2h1.1M190.8 292.6h1.1M202.4 287.3h1.1M182.9 289.4h1.1M101.9 250.0h1.1M52.1 241.1h1.1M124.5 278.1h1.1M143.1 279.9h1.1M122.8 253.8h1.1M92.4 262.7h1.1M69.7 272.2h1.1M153.3 289.7h1.1M113.4 279.4h1.1M177.8 272.7h1.1M87.9 264.4h1.1M96.0 266.4h1.1M191.6 270.7h1.1M181.0 286.9h1.1M205.6 266.7h1.1M189.4 273.6h1.1M181.2 262.9h1.1M185.0 279.1h1.1M117.1 281.1h1.1M195.5 278.2h1.1M153.2 268.8h1.1M153.1 262.1h1.1M138.3 277.6h1.1M81.9 250.6h1.1M202.7 269.1h1.1M192.8 283.1h1.1M65.2 245.3h1.1M94.4 262.5h1.1M145.8 273.0h1.1M45.3 297.2h1.1M150.2 284.7h1.1M200.0 264.4h1.1M205.3 299.2h1.1M88.0 247.1h1.1M165.4 247.9h1.1M199.5 270.8h1.1M82.8 262.4h1.1M197.7 287.8h1.1M114.5 267.7h1.1M172.4 272.8h1.1M57.6 253.5h1.1M75.6 253.4h1.1M160.0 275.3h1.1M64.7 253.1h1.1M66.3 249.1h1.1M129.0 263.1h1.1M123.9 276.4h1.1M202.3 283.6h1.1M55.6 237.1h1.1M93.3 256.3h1.1M122.6 274.1h1.1M83.9 270.5h1.1M65.5 226.8h1.1M41.3 286.1h1.1M195.0 280.7h1.1M129.9 274.7h1.1M180.6 265.3h1.1M68.8 221.8h1.1M194.3 265.4h1.1M159.9 276.8h1.1M146.7 279.9h1.1M107.8 263.1h1.1M126.2 252.2h1.1M98.6 259.9h1.1M163.1 263.0h1.1M191.3 283.2h1.1M129.4 259.6h1.1M82.6 265.5h1.1M86.5 262.1h1.1M158.5 266.9h1.1M124.8 271.0h1.1M57.5 247.3h1.1M164.0 255.4h1.1M80.5 278.2h1.1M174.7 274.0h1.1M176.1 285.9h1.1M69.0 267.4h1.1M184.0 252.9h1.1M153.8 261.8h1.1M121.1 284.0h1.1M142.7 262.6h1.1M198.4 270.3h1.1M83.9 306.5h1.1M59.2 245.4h1.1M94.8 259.0h1.1M100.5 255.1h1.1M149.1 282.5h1.1M130.5 265.4h1.1M161.2 273.0h1.1M95.2 274.8h1.1M60.6 252.2h1.1M101.7 260.7h1.1M107.0 251.4h1.1M67.2 219.5h1.1M83.6 260.4h1.1M66.5 253.8h1.1M206.9 260.2h1.1M168.5 265.3h1.1M51.2 271.6h1.1M101.7 281.6h1.1M207.6 251.3h1.1M56.3 254.6h1.1M154.4 280.6h1.1M62.1 239.6h1.1M208.5 260.2h1.1M145.2 249.1h1.1M103.2 264.0h1.1M133.4 278.1h1.1M196.8 280.0h1.1M75.3 242.9h1.1M123.7 267.7h1.1M181.8 280.4h1.1M151.5 288.3h1.1M114.8 252.8h1.1M190.9 287.2h1.1M67.5 262.3h1.1M84.9 273.3h1.1M207.5 269.2h1.1M170.1 275.5h1.1M125.6 275.1h1.1M209.0 268.8h1.1M100.7 263.0h1.1M128.5 261.7h1.1M196.3 271.5h1.1M153.2 270.9h1.1M172.7 272.5h1.1M95.4 253.0h1.1M162.8 229.8h1.1M188.6 252.9h1.1M65.9 261.7h1.1M42.9 312.3h1.1M191.4 270.5h1.1M116.0 273.9h1.1M93.0 262.8h1.1M204.9 281.9h1.1M171.8 278.0h1.1M69.1 257.8h1.1M178.2 265.6h1.1M168.2 265.9h1.1M109.9 263.8h1.1M160.7 271.2h1.1M180.5 277.7h1.1M47.6 321.2h1.1M114.3 262.7h1.1M207.3 289.6h1.1M147.3 289.8h1.1M62.6 245.1h1.1M147.9 280.0h1.1M99.6 260.9h1.1M197.5 270.1h1.1M207.0 273.1h1.1M104.2 256.9h1.1M74.1 252.0h1.1M40.5 273.1h1.1M132.2 278.7h1.1M138.0 275.3h1.1M89.2 258.9h1.1M150.8 277.7h1.1M102.0 251.5h1.1M70.8 266.1h1.1M133.1 249.7h1.1M122.4 270.0h1.1M47.6 343.3h1.1M176.8 253.6h1.1M140.7 270.5h1.1M52.3 247.4h1.1M168.6 270.9h1.1M175.6 275.9h1.1M101.7 273.8h1.1M67.0 260.3h1.1M173.3 276.2h1.1M87.4 252.8h1.1M47.9 311.2h1.1M206.1 249.2h1.1M119.6 268.5h1.1M208.4 286.0h1.1M126.8 272.2h1.1M205.1 238.6h1.1M97.4 278.5h1.1M195.9 269.4h1.1M159.1 279.4h1.1M136.9 273.2h1.1M75.8 257.0h1.1M115.9 226.1h1.1M83.2 254.2h1.1M123.5 259.9h1.1M123.9 273.9h1.1M87.3 271.6h1.1M188.4 282.7h1.1M57.1 247.3h1.1M150.2 275.6h1.1M143.5 270.6h1.1M89.4 260.5h1.1M167.5 268.8h1.1M104.1 253.2h1.1M137.6 276.2h1.1M177.3 252.7h1.1M77.3 225.7h1.1M69.0 230.0h1.1M50.1 257.5h1.1M107.2 254.8h1.1M106.2 279.2h1.1M98.6 268.2h1.1M94.9 280.5h1.1M56.1 241.2h1.1M164.9 264.2h1.1M157.3 284.8h1.1M58.1 233.4h1.1M58.5 234.5h1.1M178.2 266.4h1.1M206.0 268.1h1.1M209.0 273.1h1.1M48.3 320.7h1.1M139.8 272.3h1.1M188.5 269.8h1.1M141.7 266.6h1.1M159.2 265.8h1.1M180.3 282.1h1.1M46.7 322.4h1.1M184.3 279.9h1.1M146.2 259.0h1.1M105.8 276.2h1.1M165.1 282.6h1.1M121.6 252.6h1.1M44.1 307.0h1.1M204.0 291.0h1.1M186.7 282.8h1.1M181.4 214.5h1.1M61.0 237.8h1.1M129.8 273.7h1.1M46.0 310.6h1.1M39.0 313.6h1.1M87.3 265.6h1.1M43.7 311.5h1.1M109.0 253.2h1.1M171.0 272.6h1.1M59.9 244.1h1.1M175.8 244.5h1.1M141.9 273.3h1.1M94.9 243.4h1.1M73.9 271.9h1.1M198.4 277.1h1.1M110.5 273.4h1.1M120.0 277.0h1.1M150.7 266.6h1.1M72.8 257.2h1.1M202.4 277.3h1.1M193.0 268.3h1.1M171.0 272.7h1.1M177.4 274.4h1.1M155.8 273.5h1.1M99.0 221.3h1.1M58.6 257.0h1.1M118.9 256.4h1.1M191.0 284.8h1.1M188.0 271.6h1.1M160.7 274.0h1.1M134.7 269.7h1.1M59.3 240.8h1.1M143.5 273.9h1.1M151.1 265.0h1.1M146.1 263.3h1.1M85.7 273.2h1.1M67.3 255.5h1.1M121.5 267.4h1.1M93.9 214.1h1.1M156.1 273.4h1.1M82.2 255.3h1.1M102.5 261.8h1.1M104.6 279.5h1.1M143.0 275.1h1.1M172.6 283.3h1.1M68.9 249.9h1.1M205.2 247.4h1.1M204.7 274.5h1.1M159.5 280.0h1.1M194.7 283.1h1.1M181.0 264.8h1.1M168.9 267.2h1.1M124.3 262.4h1.1M75.3 221.7h1.1M205.8 255.2h1.1M54.9 231.2h1.1M133.8 279.4h1.1M72.1 260.9h1.1M101.8 275.0h1.1M94.4 259.7h1.1M153.2 266.1h1.1M189.8 275.9h1.1M50.3 232.3h1.1M187.9 271.6h1.1M120.2 236.2h1.1M179.8 280.4h1.1M91.8 259.7h1.1M208.3 271.2h1.1M158.3 274.2h1.1M182.8 284.1h1.1M112.9 258.8h1.1M136.5 259.8h1.1M77.3 251.6h1.1M183.7 259.3h1.1M132.7 268.3h1.1M52.8 242.7h1.1M114.5 265.8h1.1M178.8 278.9h1.1M87.1 267.3h1.1M188.2 266.9h1.1M174.8 275.3h1.1M53.6 237.3h1.1M174.1 275.2h1.1M39.3 288.5h1.1M146.0 281.8h1.1M114.9 238.7h1.1M172.6 302.2h1.1M139.1 271.7h1.1M46.0 287.0h1.1M87.0 264.9h1.1M40.2 309.0h1.1M187.8 270.5h1.1M209.1 271.9h1.1M130.2 263.4h1.1M53.1 230.1h1.1M183.9 279.3h1.1M162.0 256.3h1.1M201.9 274.7h1.1M124.8 238.0h1.1M124.1 284.4h1.1M48.5 318.0h1.1M161.3 269.0h1.1M154.7 243.0h1.1M169.4 256.3h1.1M79.0 243.4h1.1M185.8 281.5h1.1M148.3 261.2h1.1M153.4 270.9h1.1M169.7 276.7h1.1M55.1 232.9h1.1M123.3 259.8h1.1M52.2 236.1h1.1M195.3 274.5h1.1M100.3 271.9h1.1M149.7 282.4h1.1M190.2 261.2h1.1M56.4 244.0h1.1M100.1 284.2h1.1M55.2 251.0h1.1M156.9 269.4h1.1M116.0 286.9h1.1M95.7 261.2h1.1M114.9 259.7h1.1M169.9 272.0h1.1M51.3 209.5h1.1M203.4 270.3h1.1M106.4 266.5h1.1M141.9 280.0h1.1M65.1 252.5h1.1M182.8 274.1h1.1M105.8 269.9h1.1M40.2 297.2h1.1M203.0 278.6h1.1M165.7 271.7h1.1M167.2 273.1h1.1M63.8 256.2h1.1M52.9 230.4h1.1M145.5 254.9h1.1M183.3 286.3h1.1M198.4 274.1h1.1M106.5 276.3h1.1M88.1 263.6h1.1M158.3 266.7h1.1M73.4 241.7h1.1M70.4 251.2h1.1M96.2 278.3h1.1M57.4 252.8h1.1M122.9 264.1h1.1M102.8 275.9h1.1M136.6 249.6h1.1M205.6 279.7h1.1M194.2 285.0h1.1M114.5 282.3h1.1M128.2 261.4h1.1M39.7 317.3h1.1M177.9 278.7h1.1M161.1 284.1h1.1M80.3 263.7h1.1M199.1 251.5h1.1M91.4 253.8h1.1M50.8 239.0h1.1M141.7 283.1h1.1M42.2 321.9h1.1M187.9 276.6h1.1M62.4 249.9h1.1M152.3 267.4h1.1M92.7 280.8h1.1M147.0 268.2h1.1M196.7 263.7h1.1M113.8 264.9h1.1M77.5 256.3h1.1M53.0 231.6h1.1M58.2 251.3h1.1M149.9 275.0h1.1M41.0 316.0h1.1M72.1 258.2h1.1M115.7 264.1h1.1M171.7 268.3h1.1M122.6 238.3h1.1M54.4 233.6h1.1M73.5 261.1h1.1M191.3 279.5h1.1M91.1 265.2h1.1M85.7 255.6h1.1M55.7 238.5h1.1M45.2 304.4h1.1M124.6 264.9h1.1M190.1 279.7h1.1M88.8 248.2h1.1M77.0 253.1h1.1M154.6 268.9h1.1M160.2 294.5h1.1M205.2 280.8h1.1M122.9 252.7h1.1M164.7 280.5h1.1M49.0 224.9h1.1M82.8 266.6h1.1M174.0 262.9h1.1M166.2 262.6h1.1M208.3 279.3h1.1M113.0 266.0h1.1M85.4 264.2h1.1M180.8 278.6h1.1M116.4 255.4h1.1M206.9 253.7h1.1M100.0 248.8h1.1M45.8 322.5h1.1M46.3 292.9h1.1M197.1 269.9h1.1M117.0 268.6h1.1M99.9 285.0h1.1M87.4 233.1h1.1M106.0 217.8h1.1M192.2 252.0h1.1M63.5 250.5h1.1M110.9 270.6h1.1M106.4 272.3h1.1M202.1 281.3h1.1M192.5 257.9h1.1M160.3 280.8h1.1M164.7 301.3h1.1M145.7 281.4h1.1M39.8 318.3h1.1M160.3 255.5h1.1M100.2 262.6h1.1M59.0 231.9h1.1M133.1 279.8h1.1M143.3 261.1h1.1M151.8 275.0h1.1M197.5 285.9h1.1M176.6 288.1h1.1M170.1 287.4h1.1M191.7 254.4h1.1M118.7 232.3h1.1M70.2 261.9h1.1M187.4 281.2h1.1M149.0 241.3h1.1M128.7 292.1h1.1M140.4 286.2h1.1M101.7 258.4h1.1M147.4 251.3h1.1M120.3 253.2h1.1M65.7 250.1h1.1M171.9 276.4h1.1M195.9 285.3h1.1M57.2 249.8h1.1M178.9 277.2h1.1M190.9 249.4h1.1M54.9 251.7h1.1M117.4 224.8h1.1M61.9 247.7h1.1M69.1 253.3h1.1M60.5 234.9h1.1M69.5 252.4h1.1M116.6 265.0h1.1M65.9 253.9h1.1M132.7 264.1h1.1M151.2 274.1h1.1M103.8 261.6h1.1M136.9 254.7h1.1M98.7 265.0h1.1M61.6 253.0h1.1M205.7 287.0h1.1M122.0 258.4h1.1M86.4 260.5h1.1M124.6 270.7h1.1M209.4 259.8h1.1M148.0 261.1h1.1M122.0 274.2h1.1M111.8 283.5h1.1M164.3 292.1h1.1M186.9 270.2h1.1M204.0 286.4h1.1M139.9 263.1h1.1M94.2 247.6h1.1M115.9 268.1h1.1M143.2 278.5h1.1M85.0 280.9h1.1M188.4 285.8h1.1M154.1 290.1h1.1M86.2 266.8h1.1M206.4 291.5h1.1M51.4 235.8h1.1M142.5 282.5h1.1M123.1 285.4h1.1M77.2 261.4h1.1M179.5 267.6h1.1M162.9 279.9h1.1M197.8 271.8h1.1M112.6 263.1h1.1M86.1 285.6h1.1M47.8 324.9h1.1M92.0 273.7h1.1M111.4 267.1h1.1M65.7 244.0h1.1M114.6 273.0h1.1M150.4 270.0h1.1M40.9 313.9h1.1M121.2 261.7h1.1M73.1 258.5h1.1M152.0 294.6h1.1M153.0 269.2h1.1M95.1 245.2h1.1M168.2 267.6h1.1M102.3 256.7h1.1M98.1 285.9h1.1M95.2 255.8h1.1M170.4 233.3h1.1M73.5 247.2h1.1M114.9 279.1h1.1M48.9 314.4h1.1M53.7 258.8h1.1M62.1 254.1h1.1M67.5 242.0h1.1M177.4 261.2h1.1M76.0 239.6h1.1M85.9 243.5h1.1M63.0 256.2h1.1M196.5 275.7h1.1M41.0 303.4h1.1M49.9 219.3h1.1M79.5 255.5h1.1M121.4 269.6h1.1M127.0 266.0h1.1M154.0 279.9h1.1M72.7 282.5h1.1M201.4 268.3h1.1M146.6 274.5h1.1M109.2 237.5h1.1M98.9 267.1h1.1M155.5 273.6h1.1M68.4 247.7h1.1M52.9 244.4h1.1M163.8 263.9h1.1M120.4 266.2h1.1M84.9 238.1h1.1M110.5 258.6h1.1M45.5 310.4h1.1M97.2 271.3h1.1M85.2 252.6h1.1M119.4 262.3h1.1M132.9 256.5h1.1M111.9 276.8h1.1M56.7 251.2h1.1M114.0 254.8h1.1M65.4 240.5h1.1M51.9 225.7h1.1M128.0 275.8h1.1M133.1 287.1h1.1M166.5 280.6h1.1M122.8 259.7h1.1M49.4 224.8h1.1M151.2 277.3h1.1M203.4 268.3h1.1M156.5 273.4h1.1M191.6 275.4h1.1M110.5 268.1h1.1M180.6 248.7h1.1M119.6 257.4h1.1M59.7 244.8h1.1M198.5 281.7h1.1M167.1 278.5h1.1M49.3 234.1h1.1M200.9 287.5h1.1M81.8 259.9h1.1M41.4 306.8h1.1M174.2 268.7h1.1M76.7 251.4h1.1M62.2 249.3h1.1M132.3 275.1h1.1M130.9 246.6h1.1M63.5 248.8h1.1M61.4 219.8h1.1M63.0 257.5h1.1M65.0 238.6h1.1M116.5 275.1h1.1M46.0 312.5h1.1M88.5 265.4h1.1M53.2 233.3h1.1M162.3 263.6h1.1M174.8 264.8h1.1M203.1 281.4h1.1M127.2 276.1h1.1M87.6 265.3h1.1M121.7 273.2h1.1M84.8 253.6h1.1M114.2 271.6h1.1M42.9 312.5h1.1M80.1 243.9h1.1M65.6 255.6h1.1M82.3 262.2h1.1M95.8 255.7h1.1M97.9 242.8h1.1M102.6 278.2h1.1M173.1 286.7h1.1M89.4 269.4h1.1M55.0 244.1h1.1M59.3 246.2h1.1M155.5 273.7h1.1M199.3 246.6h1.1M182.2 286.3h1.1M174.8 284.0h1.1M119.4 252.2h1.1M135.7 294.1h1.1M97.7 260.9h1.1M147.3 251.7h1.1M101.8 271.6h1.1M182.5 283.9h1.1M125.9 255.9h1.1M201.3 281.2h1.1M148.2 272.4h1.1M153.6 273.8h1.1M123.4 270.1h1.1M193.6 271.5h1.1M195.5 280.4h1.1M44.5 311.0h1.1M172.1 289.7h1.1M96.7 253.9h1.1M92.8 256.6h1.1M161.6 266.9h1.1M69.7 243.1h1.1M93.9 259.0h1.1M184.4 285.8h1.1M187.5 287.1h1.1M76.0 245.7h1.1M203.9 269.0h1.1M199.7 270.3h1.1M157.8 284.7h1.1M197.9 267.2h1.1M144.4 299.0h1.1M159.5 271.3h1.1M93.0 265.6h1.1M126.6 261.3h1.1M81.9 264.7h1.1M200.9 263.9h1.1M174.0 283.2h1.1M174.5 254.8h1.1M96.9 287.2h1.1M92.0 251.9h1.1M77.2 240.7h1.1M194.8 271.0h1.1M90.8 272.3h1.1M158.5 278.2h1.1M196.3 277.4h1.1M96.5 259.5h1.1M61.5 249.2h1.1M109.6 253.8h1.1M156.6 257.9h1.1M122.4 266.7h1.1M162.2 283.4h1.1M54.7 234.9h1.1M69.5 259.6h1.1M76.6 235.6h1.1M163.0 264.4h1.1M46.5 308.6h1.1M57.9 248.6h1.1M85.0 262.1h1.1M77.5 249.4h1.1M105.2 272.2h1.1M179.9 277.2h1.1M88.0 266.5h1.1M70.1 262.4h1.1M48.2 286.7h1.1M173.2 278.8h1.1M179.2 281.5h1.1M101.5 277.9h1.1M139.4 250.4h1.1M102.3 269.3h1.1M98.2 265.5h1.1M176.2 274.4h1.1M188.4 291.6h1.1M42.4 310.7h1.1M43.5 312.9h1.1M146.4 279.9h1.1M96.8 251.4h1.1M171.6 281.7h1.1M157.6 263.9h1.1M59.2 260.6h1.1M102.1 256.7h1.1M156.1 268.2h1.1M42.4 318.5h1.1M193.7 278.3h1.1M57.2 252.5h1.1M96.0 225.9h1.1M40.6 305.8h1.1M156.1 273.9h1.1M208.1 275.0h1.1M50.9 237.5h1.1M167.2 267.7h1.1M189.4 272.2h1.1M105.4 266.3h1.1M68.6 256.4h1.1M82.2 271.7h1.1M119.4 265.9h1.1M209.0 271.6h1.1M165.3 271.5h1.1M75.8 263.8h1.1M150.9 258.9h1.1M174.8 280.0h1.1M75.1 263.3h1.1M130.1 269.3h1.1M202.8 277.1h1.1M78.1 253.6h1.1M103.1 235.0h1.1M152.5 298.8h1.1M87.1 255.0h1.1M206.1 272.8h1.1M79.8 263.3h1.1M62.0 228.2h1.1M89.9 247.0h1.1M130.7 279.0h1.1M175.6 270.8h1.1M171.8 270.4h1.1M142.4 275.1h1.1M60.8 239.4h1.1M58.0 244.0h1.1M162.3 270.2h1.1M191.3 283.2h1.1M48.3 299.8h1.1M161.5 277.3h1.1M58.3 247.9h1.1M133.9 282.5h1.1M166.8 266.4h1.1M66.4 255.5h1.1M194.3 253.0h1.1M191.0 262.8h1.1M141.7 290.1h1.1M187.3 251.9h1.1M201.6 284.3h1.1M161.6 260.7h1.1M87.1 266.0h1.1M106.6 256.9h1.1M167.3 283.5h1.1M116.1 257.2h1.1M51.5 231.4h1.1M134.3 264.6h1.1M94.6 257.8h1.1M173.4 269.1h1.1M42.5 305.1h1.1M131.8 278.9h1.1M199.2 270.9h1.1M122.5 241.6h1.1M190.2 262.9h1.1M186.3 274.0h1.1M105.4 260.4h1.1M97.3 266.2h1.1M61.8 239.3h1.1M207.3 291.4h1.1M175.3 232.0h1.1M176.0 285.6h1.1M51.4 230.5h1.1M57.5 226.1h1.1M202.0 266.5h1.1M124.7 269.9h1.1M107.8 265.2h1.1M147.5 274.1h1.1M73.5 250.7h1.1M118.0 272.0h1.1M65.1 269.1h1.1M51.1 237.7h1.1M52.4 227.2h1.1M56.6 243.7h1.1M192.8 281.3h1.1M78.9 254.2h1.1M108.4 258.1h1.1M64.9 264.5h1.1M104.3 280.6h1.1M46.4 311.5h1.1M117.1 253.4h1.1M116.5 269.6h1.1M202.3 275.1h1.1M126.7 280.7h1.1M117.5 259.7h1.1M118.4 258.0h1.1M171.9 239.6h1.1M106.8 251.8h1.1M48.6 314.8h1.1M88.9 265.3h1.1M126.5 257.3h1.1M131.6 263.9h1.1M56.1 223.2h1.1M122.1 253.9h1.1M142.7 270.7h1.1M170.3 264.6h1.1M49.1 227.7h1.1M101.1 263.7h1.1M167.4 274.7h1.1M161.0 277.6h1.1M78.7 271.0h1.1M58.3 250.9h1.1M109.4 230.8h1.1M208.9 220.2h1.1M146.6 265.2h1.1M98.3 277.7h1.1M129.5 279.2h1.1M155.8 281.9h1.1M116.4 269.2h1.1M114.6 276.0h1.1M103.2 264.4h1.1M73.4 252.2h1.1M205.9 256.1h1.1M187.0 256.5h1.1M89.5 261.2h1.1M96.7 259.4h1.1M95.1 262.1h1.1M126.5 267.5h1.1M91.5 249.9h1.1M46.9 305.6h1.1M161.8 220.3h1.1M150.7 275.5h1.1M98.3 254.7h1.1M73.6 247.2h1.1M174.4 268.5h1.1M158.9 269.6h1.1M178.2 276.3h1.1M94.8 266.7h1.1M67.1 240.7h1.1M135.6 267.2h1.1M149.1 262.9h1.1M203.5 247.4h1.1M138.9 271.4h1.1M45.1 302.6h1.1M170.7 262.5h1.1M206.4 277.2h1.1M182.7 271.6h1.1M96.5 272.6h1.1M155.4 296.3h1.1M113.6 267.7h1.1M94.6 263.9h1.1M131.7 286.5h1.1M88.4 265.2h1.1M97.3 270.3h1.1M120.3 260.6h1.1M182.8 269.1h1.1M47.3 341.4h1.1M159.0 274.7h1.1M89.8 264.7h1.1M145.1 270.3h1.1M167.7 269.1h1.1M90.4 250.1h1.1M138.2 275.4h1.1M121.1 273.8h1.1M43.1 317.8h1.1M45.6 313.1h1.1M79.3 271.2h1.1M92.3 258.3h1.1M181.3 262.1h1.1M51.9 215.2h1.1M123.8 277.9h1.1M180.4 259.3h1.1M112.6 287.6h1.1M102.2 221.1h1.1M193.7 270.4h1.1M64.5 221.5h1.1M142.3 291.4h1.1M140.4 271.6h1.1M109.0 258.1h1.1M81.1 256.5h1.1M180.7 269.1h1.1M43.6 308.0h1.1M163.3 242.8h1.1M168.3 275.0h1.1M121.9 272.2h1.1M89.0 252.9h1.1M84.1 268.1h1.1M168.7 272.1h1.1M80.8 266.7h1.1M99.4 255.2h1.1M122.6 272.0h1.1M185.7 263.7h1.1M51.8 240.4h1.1M50.8 205.3h1.1M74.3 240.7h1.1M58.7 262.5h1.1M95.1 276.8h1.1M149.5 275.8h1.1M135.9 271.2h1.1M102.6 270.6h1.1M101.5 239.2h1.1M204.4 269.0h1.1M105.0 275.0h1.1M118.2 268.3h1.1M193.0 267.3h1.1M172.3 274.3h1.1M203.7 280.8h1.1M75.9 255.9h1.1M192.4 277.4h1.1M72.6 266.1h1.1M88.5 265.2h1.1M189.7 280.9h1.1M89.9 260.1h1.1M129.1 260.5h1.1M153.1 264.9h1.1M118.9 297.1h1.1M206.5 283.6h1.1M75.3 268.3h1.1M49.0 313.9h1.1M152.9 280.5h1.1M140.5 290.3h1.1M149.6 253.5h1.1M190.9 254.7h1.1M79.2 253.9h1.1M39.0 306.2h1.1M140.4 261.7h1.1M71.0 242.5h1.1M197.3 284.3h1.1M196.8 269.9h1.1M126.9 241.9h1.1M204.4 253.2h1.1M111.3 263.8h1.1M79.4 242.2h1.1M75.7 263.4h1.1M76.6 253.3h1.1M189.4 287.7h1.1M109.9 266.6h1.1M154.3 266.2h1.1M69.3 245.0h1.1M84.2 258.1h1.1M164.8 262.0h1.1M81.9 259.9h1.1M73.8 276.4h1.1M124.0 283.6h1.1M171.6 277.7h1.1M92.5 247.5h1.1M124.0 236.9h1.1M125.9 271.6h1.1M40.9 313.7h1.1M187.0 292.3h1.1M139.5 254.8h1.1M172.4 245.6h1.1M105.5 244.4h1.1M97.4 271.8h1.1M51.4 236.7h1.1M143.6 251.1h1.1M127.7 261.9h1.1M143.1 242.9h1.1M73.4 260.9h1.1M63.8 250.4h1.1M182.1 268.9h1.1M128.7 276.1h1.1M89.7 245.2h1.1M130.7 271.8h1.1M86.9 290.8h1.1M161.7 257.8h1.1M88.0 227.4h1.1M122.4 273.8h1.1M116.8 275.9h1.1M100.8 256.5h1.1M135.2 278.8h1.1M106.9 275.4h1.1M168.2 261.4h1.1M137.5 272.0h1.1M86.1 264.6h1.1M121.8 269.5h1.1M129.1 266.6h1.1M165.0 266.9h1.1M171.3 266.2h1.1M174.7 262.4h1.1M102.6 257.1h1.1M163.6 305.8h1.1M97.2 218.9h1.1M59.6 251.4h1.1M202.0 246.8h1.1M199.5 301.9h1.1M179.8 276.7h1.1M143.5 265.2h1.1M102.7 277.8h1.1M145.7 261.6h1.1M94.9 267.8h1.1M102.0 274.6h1.1M55.2 227.3h1.1M207.9 275.6h1.1M152.4 278.2h1.1M176.3 271.8h1.1M147.9 282.8h1.1M60.9 237.2h1.1M42.5 312.7h1.1M47.4 312.1h1.1M137.7 264.4h1.1M51.2 226.5h1.1M40.5 317.2h1.1M107.3 274.5h1.1M54.4 242.2h1.1M139.2 269.1h1.1M43.3 311.8h1.1M85.8 269.1h1.1M169.2 275.2h1.1M113.9 264.4h1.1M122.6 253.2h1.1M107.1 270.9h1.1M176.8 271.8h1.1M206.5 262.3h1.1M149.7 273.3h1.1M200.8 275.5h1.1M204.6 273.3h1.1M182.7 273.8h1.1M42.0 311.3h1.1M39.3 298.0h1.1M189.3 280.4h1.1M153.1 272.5h1.1M92.4 269.2h1.1M154.2 275.6h1.1M39.8 306.1h1.1M185.0 253.7h1.1M46.9 313.8h1.1M182.8 282.2h1.1M124.4 270.0h1.1M110.1 275.0h1.1M206.9 286.8h1.1M75.4 271.0h1.1M159.1 296.1h1.1M76.3 256.8h1.1M128.2 264.2h1.1M171.8 249.1h1.1M117.3 282.9h1.1M166.3 280.1h1.1M202.8 281.5h1.1M64.4 227.9h1.1M131.7 260.4h1.1M62.6 250.4h1.1M103.8 269.5h1.1M88.8 260.8h1.1M69.8 236.2h1.1M119.2 273.6h1.1M120.5 264.8h1.1M184.0 293.8h1.1M114.7 271.1h1.1M107.7 266.9h1.1M200.0 276.6h1.1M187.2 274.6h1.1M194.3 269.1h1.1M190.0 262.9h1.1M145.5 272.0h1.1M170.7 271.3h1.1M128.9 254.2h1.1M207.3 255.9h1.1M202.3 266.4h1.1M101.0 245.3h1.1M45.6 314.0h1.1M163.9 289.6h1.1M151.7 213.9h1.1M64.5 261.5h1.1M46.8 314.8h1.1M83.4 250.3h1.1M94.7 268.2h1.1M160.3 269.9h1.1M100.6 266.7h1.1M43.6 307.3h1.1M103.5 273.4h1.1M90.9 242.5h1.1M200.3 267.5h1.1M129.7 252.8h1.1M174.0 274.7h1.1M132.7 286.3h1.1M180.6 284.6h1.1M179.2 276.3h1.1M56.0 231.5h1.1M94.2 254.5h1.1M171.9 261.9h1.1M145.1 271.3h1.1M39.8 318.6h1.1M57.3 246.7h1.1M110.0 277.1h1.1M90.2 270.3h1.1M47.8 290.9h1.1M88.2 255.8h1.1M66.1 251.8h1.1M40.3 308.8h1.1M125.3 279.9h1.1M173.5 271.1h1.1M65.8 252.1h1.1M102.5 276.5h1.1M185.7 283.7h1.1M97.4 231.1h1.1M112.2 263.5h1.1M169.7 260.9h1.1M153.4 263.7h1.1M162.3 271.0h1.1M154.1 269.3h1.1M164.0 260.5h1.1M192.4 278.7h1.1M86.9 269.5h1.1M92.6 259.2h1.1M57.3 260.8h1.1M51.3 219.3h1.1M142.1 273.4h1.1M99.5 261.9h1.1M71.0 249.8h1.1M204.8 268.7h1.1M154.6 273.3h1.1M161.0 275.2h1.1M115.2 277.7h1.1M196.1 292.6h1.1M39.1 305.0h1.1M45.4 312.0h1.1M148.7 273.1h1.1M117.9 285.3h1.1M54.4 245.8h1.1M180.6 264.3h1.1M94.9 263.9h1.1M138.7 285.6h1.1M50.5 225.4h1.1M165.6 275.0h1.1M112.2 252.0h1.1M72.6 254.0h1.1M168.3 278.6h1.1M62.3 255.9h1.1M163.0 273.7h1.1M172.8 281.9h1.1M186.8 244.6h1.1M71.8 270.6h1.1M81.7 258.9h1.1M133.0 277.6h1.1M124.1 268.5h1.1M84.4 250.6h1.1M91.2 254.6h1.1M174.0 266.8h1.1M61.6 245.0h1.1M54.5 221.6h1.1M146.6 277.4h1.1M147.6 269.6h1.1M203.6 271.7h1.1M62.1 258.3h1.1M62.6 252.8h1.1M75.4 266.8h1.1M90.6 267.5h1.1M113.3 281.4h1.1M150.0 266.0h1.1M49.7 226.5h1.1M101.5 281.8h1.1M189.2 274.8h1.1M54.7 236.0h1.1M129.0 269.6h1.1M178.6 287.3h1.1M63.1 224.2h1.1M201.8 272.0h1.1M46.4 324.8h1.1M176.2 279.8h1.1M67.3 264.9h1.1M90.5 247.0h1.1M132.2 265.7h1.1M181.8 262.1h1.1M104.5 261.6h1.1M105.2 271.8h1.1M167.1 271.5h1.1M115.8 246.4h1.1M67.4 253.8h1.1M161.8 287.7h1.1M136.2 280.9h1.1M100.2 261.2h1.1M60.1 282.7h1.1M53.9 228.7h1.1M65.8 262.6h1.1M62.8 257.1h1.1M94.2 266.8h1.1M104.1 277.1h1.1M41.2 304.0h1.1M132.7 275.8h1.1M84.3 262.3h1.1M40.3 306.5h1.1M47.8 286.6h1.1M142.4 267.6h1.1M130.4 252.6h1.1M188.7 257.4h1.1M106.2 253.8h1.1M114.9 263.0h1.1M66.8 254.3h1.1M39.7 316.1h1.1M87.7 268.5h1.1M114.5 266.3h1.1M60.0 251.9h1.1M67.6 223.4h1.1M165.4 251.5h1.1M96.1 272.2h1.1M102.9 270.3h1.1M178.6 292.5h1.1M50.5 224.0h1.1M138.0 271.4h1.1M138.2 274.0h1.1M47.7 321.2h1.1M192.0 274.7h1.1M45.0 334.4h1.1M209.0 275.7h1.1M186.1 279.6h1.1M125.9 253.6h1.1M137.4 273.2h1.1M152.3 233.4h1.1M41.8 310.6h1.1M196.8 276.4h1.1M190.4 274.5h1.1M99.6 278.6h1.1M161.5 269.5h1.1M45.2 302.9h1.1M152.7 288.8h1.1M205.3 228.8h1.1M60.5 253.2h1.1M89.4 228.6h1.1M185.2 264.5h1.1M77.2 254.7h1.1M152.2 266.9h1.1M164.8 272.7h1.1M202.7 260.7h1.1M159.1 278.1h1.1M120.9 262.0h1.1M62.7 254.8h1.1M48.0 313.6h1.1M122.0 262.2h1.1M118.9 260.1h1.1M168.9 275.6h1.1M114.5 290.6h1.1M80.1 261.9h1.1M123.7 261.2h1.1M191.1 265.1h1.1M117.9 245.3h1.1M168.0 252.5h1.1M102.3 257.8h1.1M192.4 281.0h1.1M131.8 270.7h1.1M110.9 272.4h1.1M174.6 256.0h1.1M196.0 279.0h1.1M119.5 223.3h1.1M183.8 271.1h1.1M113.8 270.6h1.1M64.9 265.0h1.1M185.9 270.4h1.1M120.2 264.5h1.1M131.3 256.9h1.1M170.1 277.0h1.1M131.7 289.5h1.1M63.0 244.4h1.1M123.8 275.6h1.1M42.8 319.9h1.1M103.6 252.6h1.1M132.9 269.6h1.1M173.9 274.1h1.1M68.5 257.1h1.1M152.1 260.5h1.1M45.1 306.0h1.1M66.4 224.0h1.1M143.7 256.5h1.1M198.3 270.7h1.1M181.4 276.5h1.1M66.3 259.0h1.1M59.1 259.2h1.1M178.5 267.0h1.1M101.5 273.4h1.1M118.2 266.1h1.1M172.1 247.3h1.1M116.8 265.7h1.1M74.8 275.0h1.1M51.3 229.5h1.1M131.9 283.7h1.1M100.7 260.8h1.1M52.8 227.0h1.1M132.8 275.6h1.1M148.0 272.7h1.1M184.3 262.7h1.1M150.7 261.7h1.1M66.5 269.7h1.1M143.2 322.5h1.1M44.1 307.3h1.1M187.0 280.5h1.1M82.9 241.9h1.1M201.9 279.9h1.1M57.7 251.8h1.1M138.0 252.1h1.1M99.0 278.9h1.1M114.2 260.8h1.1M146.4 248.3h1.1M82.8 255.8h1.1M191.2 274.3h1.1M94.2 242.7h1.1M196.8 275.8h1.1M184.6 261.7h1.1M46.8 301.3h1.1M203.5 293.2h1.1M129.9 267.7h1.1M45.6 305.6h1.1M59.5 258.5h1.1M108.0 258.6h1.1M44.1 302.6h1.1M58.6 271.3h1.1M192.3 273.3h1.1M97.9 261.3h1.1M129.2 241.3h1.1M167.2 263.1h1.1M194.6 284.2h1.1M140.1 271.2h1.1M68.8 261.2h1.1M185.9 278.9h1.1M164.3 279.2h1.1M166.2 263.5h1.1M207.1 266.2h1.1M209.0 269.5h1.1M200.2 235.4h1.1M204.4 272.8h1.1M124.0 269.3h1.1M95.4 252.4h1.1M56.3 243.9h1.1M89.0 247.4h1.1M114.8 274.8h1.1M100.8 266.3h1.1M91.6 268.3h1.1M172.9 250.5h1.1M82.8 243.4h1.1M163.9 276.1h1.1M187.5 262.9h1.1M179.4 272.1h1.1M67.6 262.6h1.1M116.0 269.0h1.1M70.5 277.6h1.1M58.9 233.1h1.1M79.8 253.1h1.1M52.0 241.3h1.1M155.5 260.9h1.1M202.5 266.2h1.1M114.7 265.9h1.1M135.0 261.8h1.1M142.7 261.5h1.1M167.2 272.2h1.1M147.7 284.0h1.1M193.2 286.6h1.1M61.8 235.6h1.1M170.3 277.7h1.1M64.0 261.5h1.1M130.8 259.4h1.1M103.1 273.9h1.1M49.0 312.7h1.1M153.0 258.6h1.1M133.2 268.8h1.1M151.7 288.2h1.1M172.8 284.1h1.1M184.7 283.6h1.1M60.6 222.7h1.1M166.8 273.7h1.1M208.1 255.8h1.1M180.1 268.0h1.1M165.2 260.1h1.1M49.9 243.8h1.1M59.3 248.3h1.1M185.8 276.4h1.1M103.1 276.3h1.1M65.5 259.3h1.1M193.8 252.0h1.1M160.5 304.2h1.1M168.3 274.7h1.1M68.6 261.6h1.1M176.8 268.1h1.1M91.3 274.6h1.1M125.3 262.9h1.1M123.4 269.1h1.1M176.8 278.0h1.1M51.1 238.3h1.1M155.8 294.2h1.1M74.3 252.3h1.1M137.0 257.4h1.1M196.3 253.4h1.1M65.8 229.1h1.1M152.1 270.0h1.1M56.6 240.7h1.1M203.4 272.0h1.1M83.8 255.5h1.1M172.5 259.9h1.1M112.2 272.7h1.1M90.7 265.9h1.1M154.2 273.5h1.1M47.6 313.4h1.1M43.0 330.5h1.1M200.3 278.9h1.1M141.3 271.6h1.1M185.4 264.4h1.1M198.7 273.0h1.1M198.0 297.8h1.1M83.1 256.4h1.1M98.0 267.4h1.1M171.0 276.2h1.1M76.9 268.8h1.1M58.5 250.7h1.1M56.4 238.8h1.1M85.0 264.4h1.1M151.1 297.2h1.1M43.3 322.9h1.1M158.9 280.4h1.1M69.6 246.5h1.1M105.6 240.6h1.1M73.9 265.0h1.1M152.0 293.7h1.1M42.4 304.8h1.1M73.2 254.1h1.1M186.0 280.7h1.1M85.2 262.0h1.1M108.9 250.2h1.1M181.4 270.5h1.1M47.8 320.6h1.1M205.7 259.5h1.1M65.9 243.0h1.1M157.6 277.8h1.1M109.5 273.1h1.1M132.6 249.2h1.1M207.0 276.3h1.1M160.7 277.1h1.1M92.1 264.7h1.1M110.4 255.2h1.1M39.8 326.1h1.1M69.9 232.2h1.1M80.0 255.0h1.1M112.4 279.1h1.1M84.0 266.4h1.1M159.4 285.0h1.1M143.2 267.3h1.1M148.9 274.0h1.1M161.1 297.4h1.1M76.6 273.3h1.1M166.7 301.2h1.1M125.5 254.2h1.1M80.4 289.9h1.1M86.9 248.3h1.1M145.2 273.2h1.1M101.9 242.7h1.1M46.5 317.2h1.1M144.2 276.4h1.1M187.3 269.5h1.1M47.3 305.0h1.1M40.2 311.7h1.1M88.2 266.3h1.1M118.3 269.0h1.1M179.1 305.6h1.1M99.6 257.2h1.1M110.8 263.7h1.1M149.5 255.3h1.1M153.7 261.6h1.1M207.4 279.2h1.1M58.0 230.9h1.1M195.2 292.0h1.1M196.6 277.3h1.1M197.1 263.0h1.1M74.3 258.2h1.1M73.2 257.1h1.1M208.5 265.6h1.1M175.1 276.9h1.1M46.7 298.1h1.1M154.5 278.3h1.1M66.0 243.0h1.1M99.0 264.3h1.1M114.0 271.6h1.1M96.2 263.7h1.1M166.0 281.9h1.1M44.3 331.1h1.1M75.2 248.5h1.1M98.8 262.4h1.1M112.7 279.8h1.1M137.3 282.1h1.1M137.7 261.1h1.1M46.6 298.7h1.1M140.3 269.6h1.1M166.5 274.8h1.1M176.2 260.3h1.1M153.3 277.6h1.1M180.5 282.0h1.1M94.9 285.2h1.1M53.1 252.6h1.1M139.4 257.2h1.1M170.2 281.7h1.1M126.3 263.9h1.1M130.7 274.1h1.1M138.1 260.9h1.1M76.9 268.9h1.1M47.0 309.5h1.1M188.7 268.5h1.1M64.5 262.8h1.1M180.3 279.3h1.1M159.5 275.4h1.1M195.4 260.0h1.1M52.2 221.1h1.1M49.5 233.8h1.1M153.6 280.8h1.1M176.8 269.0h1.1M153.6 276.8h1.1M80.5 237.8h1.1M88.5 262.4h1.1M122.5 260.7h1.1M177.5 313.1h1.1M160.3 244.5h1.1M160.7 307.5h1.1M62.3 248.9h1.1M39.7 333.6h1.1M208.8 267.9h1.1M188.0 268.2h1.1M145.2 249.4h1.1M43.9 308.2h1.1M119.2 263.8h1.1M142.9 281.3h1.1M39.5 307.5h1.1M150.0 253.9h1.1M141.3 275.6h1.1M169.6 268.4h1.1M45.7 301.7h1.1M72.6 258.7h1.1M130.1 233.6h1.1M196.0 238.2h1.1M123.7 259.6h1.1M135.0 275.3h1.1M164.5 278.7h1.1M114.9 270.5h1.1M196.2 276.0h1.1M39.3 317.6h1.1M43.1 302.1h1.1M153.4 259.2h1.1M109.7 265.1h1.1M107.0 264.1h1.1M187.3 278.2h1.1M144.5 276.5h1.1M137.5 268.9h1.1M147.9 267.8h1.1M163.8 241.8h1.1M47.3 308.0h1.1M94.6 260.3h1.1M77.5 264.1h1.1M155.3 255.2h1.1M105.7 274.6h1.1M80.2 272.1h1.1M98.9 255.3h1.1M180.6 258.6h1.1M120.1 257.4h1.1M158.9 289.3h1.1M93.6 278.4h1.1M111.4 282.3h1.1M48.4 311.3h1.1M158.5 277.7h1.1M185.8 292.6h1.1M100.8 238.8h1.1M146.9 253.9h1.1M175.1 283.8h1.1M175.3 270.9h1.1M175.3 273.5h1.1M102.1 228.9h1.1M207.1 263.5h1.1M42.9 314.3h1.1M117.0 263.0h1.1M56.0 242.1h1.1M76.6 261.1h1.1M66.5 263.1h1.1M111.8 260.8h1.1M151.1 288.0h1.1M70.3 275.5h1.1M163.3 271.5h1.1M73.0 264.4h1.1M148.0 299.1h1.1M153.2 269.0h1.1M125.2 269.6h1.1M132.1 263.9h1.1M125.7 269.2h1.1M74.1 246.7h1.1M79.6 269.2h1.1M207.6 294.0h1.1M194.8 295.3h1.1M70.8 246.5h1.1M143.8 246.3h1.1M138.5 282.7h1.1M179.4 264.3h1.1M130.3 268.2h1.1M80.4 258.1h1.1M87.4 247.2h1.1M149.2 269.2h1.1M119.1 278.2h1.1M41.8 302.3h1.1M87.6 255.2h1.1M45.9 312.1h1.1M113.6 272.4h1.1M145.3 275.6h1.1M43.4 321.2h1.1M159.9 273.5h1.1M208.3 264.8h1.1M161.9 278.2h1.1M77.5 259.4h1.1M55.2 228.6h1.1M171.0 291.6h1.1M79.2 249.7h1.1M193.3 285.5h1.1M99.2 281.6h1.1M195.4 280.3h1.1M116.2 277.1h1.1M120.2 263.1h1.1M200.1 278.3h1.1M105.8 262.7h1.1M49.4 217.9h1.1M80.4 266.2h1.1M149.8 275.9h1.1M119.7 278.1h1.1M119.4 280.1h1.1M63.0 231.7h1.1M148.2 273.4h1.1M75.7 255.6h1.1M106.5 258.1h1.1M57.7 241.7h1.1M154.0 288.7h1.1M209.3 277.1h1.1M58.0 271.7h1.1M86.5 277.1h1.1M161.8 253.8h1.1M202.2 283.4h1.1M207.6 282.9h1.1M133.4 284.7h1.1M180.4 274.6h1.1M104.9 266.7h1.1M60.2 241.3h1.1M105.7 270.2h1.1M54.3 243.2h1.1M114.4 253.6h1.1M158.2 280.1h1.1M60.6 228.3h1.1M125.0 277.2h1.1M133.4 255.2h1.1M97.5 251.9h1.1M194.6 277.8h1.1M197.6 261.6h1.1M159.4 272.8h1.1M60.7 258.0h1.1M90.0 242.5h1.1M176.2 273.5h1.1M110.2 284.7h1.1M170.9 225.6h1.1M146.5 277.5h1.1M102.2 264.8h1.1M105.3 249.6h1.1M183.4 268.8h1.1M135.0 269.6h1.1M131.9 270.6h1.1M178.2 264.9h1.1M82.4 239.0h1.1M47.7 307.2h1.1M159.1 270.0h1.1M168.4 249.0h1.1M200.8 293.8h1.1M86.3 247.6h1.1M157.4 287.3h1.1M67.5 259.6h1.1M61.8 229.0h1.1M144.4 264.9h1.1M42.0 326.4h1.1M96.0 266.9h1.1M156.2 279.7h1.1M157.7 273.5h1.1M200.1 272.9h1.1M191.8 258.5h1.1M99.2 266.9h1.1M58.5 235.3h1.1M162.3 272.1h1.1M114.7 282.6h1.1M42.7 298.2h1.1M62.9 260.6h1.1M52.4 210.8h1.1M172.8 265.4h1.1M76.3 251.4h1.1M93.6 280.7h1.1M186.3 270.0h1.1M92.7 266.3h1.1M83.7 242.3h1.1M131.7 257.5h1.1M67.7 266.6h1.1M103.6 246.3h1.1M141.8 274.6h1.1M80.1 265.3h1.1M207.6 275.5h1.1M82.6 266.3h1.1M69.3 263.1h1.1M190.9 280.7h1.1M151.5 242.8h1.1M58.8 246.6h1.1M205.5 270.2h1.1M95.1 261.4h1.1M104.1 279.0h1.1M174.6 278.5h1.1M205.8 286.6h1.1M148.8 250.1h1.1M130.1 267.8h1.1M162.9 254.8h1.1M160.0 274.4h1.1M129.4 234.5h1.1M75.8 247.6h1.1M99.8 249.5h1.1M86.8 261.3h1.1M91.6 242.9h1.1M146.6 260.8h1.1M69.9 256.8h1.1M164.6 269.4h1.1M63.3 248.3h1.1M175.2 265.2h1.1M169.6 280.4h1.1M138.0 275.4h1.1M86.1 253.5h1.1M115.5 256.4h1.1M162.7 273.2h1.1M135.1 269.0h1.1M172.2 248.2h1.1M144.7 269.4h1.1M208.5 283.3h1.1M46.3 312.9h1.1M96.0 263.7h1.1M98.9 272.9h1.1M178.5 280.2h1.1M132.7 262.0h1.1M193.5 268.5h1.1M77.3 280.4h1.1M135.6 290.8h1.1M179.8 264.4h1.1M81.1 261.6h1.1M204.3 271.6h1.1M114.6 252.7h1.1M146.6 262.1h1.1M129.1 269.9h1.1M130.6 253.9h1.1M64.3 241.3h1.1M200.1 276.8h1.1M148.7 265.2h1.1M119.1 273.4h1.1M121.7 271.1h1.1M163.0 267.4h1.1M164.8 271.9h1.1M133.6 275.2h1.1M66.9 256.4h1.1M86.2 265.9h1.1M207.8 226.5h1.1M202.4 273.3h1.1M124.9 246.5h1.1M89.9 250.3h1.1M82.1 251.8h1.1M115.3 280.6h1.1M139.1 276.5h1.1M88.6 258.0h1.1M118.1 256.1h1.1M207.3 265.8h1.1M79.5 268.8h1.1M164.9 307.3h1.1M114.7 254.4h1.1M57.8 238.4h1.1M182.0 233.3h1.1M63.5 246.4h1.1M79.9 263.6h1.1M58.4 258.1h1.1M82.9 254.6h1.1M103.4 269.4h1.1M101.3 268.0h1.1M97.6 251.2h1.1M120.1 224.2h1.1M69.8 275.6h1.1M128.2 262.8h1.1M152.4 267.5h1.1M172.2 288.4h1.1M142.1 294.7h1.1M99.8 251.9h1.1M80.1 246.0h1.1M111.0 267.7h1.1M108.6 270.4h1.1M100.1 261.7h1.1M180.8 263.8h1.1M52.7 213.9h1.1M141.3 262.0h1.1M80.4 269.6h1.1M186.4 283.0h1.1M82.3 241.3h1.1M118.3 265.8h1.1M58.3 245.0h1.1M135.1 261.9h1.1M191.7 268.8h1.1M95.1 270.3h1.1M156.3 279.7h1.1M192.1 319.6h1.1M158.2 275.2h1.1M169.0 278.7h1.1M176.1 268.7h1.1M63.7 254.4h1.1M109.3 282.9h1.1M113.5 265.4h1.1M131.9 254.7h1.1M103.7 272.2h1.1M186.9 273.4h1.1M91.1 260.5h1.1M51.3 238.6h1.1M160.9 289.4h1.1M81.2 279.2h1.1M64.5 252.6h1.1M160.2 276.8h1.1M103.1 271.4h1.1M202.1 268.1h1.1M154.8 258.3h1.1M93.9 260.6h1.1M203.9 272.6h1.1M198.1 259.6h1.1M145.9 271.7h1.1M88.3 253.8h1.1M190.2 270.1h1.1M54.8 243.3h1.1M164.3 262.1h1.1M180.9 263.5h1.1M171.9 256.3h1.1M174.8 257.6h1.1M66.4 224.8h1.1M193.6 258.8h1.1M185.0 270.3h1.1M68.1 262.2h1.1M123.8 267.3h1.1M131.0 272.6h1.1M122.5 285.2h1.1M60.3 294.5h1.1M172.0 306.8h1.1M170.5 274.1h1.1M39.9 315.5h1.1M176.6 277.0h1.1M91.0 282.6h1.1M104.6 278.8h1.1M57.3 255.4h1.1M91.0 274.7h1.1M170.1 278.8h1.1M111.5 270.5h1.1M109.8 299.0h1.1M200.6 242.4h1.1M157.7 260.5h1.1M132.8 258.6h1.1M186.6 271.5h1.1M146.6 267.7h1.1M42.4 329.3h1.1M127.4 273.8h1.1M88.9 285.2h1.1M203.2 278.1h1.1M196.6 260.9h1.1M128.5 270.5h1.1M98.7 268.9h1.1M108.9 280.1h1.1M109.1 279.9h1.1M161.9 252.6h1.1M97.3 277.8h1.1M163.2 268.5h1.1M145.9 262.1h1.1M76.8 246.7h1.1M63.8 237.6h1.1M132.9 269.6h1.1M92.5 268.1h1.1M50.2 218.9h1.1M42.4 316.7h1.1M148.8 274.6h1.1M104.3 258.5h1.1M44.9 321.9h1.1M144.5 272.3h1.1M124.4 243.3h1.1M161.9 275.1h1.1M76.0 253.7h1.1M45.3 284.0h1.1M204.4 273.8h1.1M76.0 272.5h1.1M93.0 251.0h1.1M151.6 262.8h1.1M67.8 257.6h1.1M97.9 266.6h1.1M183.2 278.9h1.1M197.2 250.5h1.1M116.1 254.0h1.1M171.5 266.0h1.1M139.1 276.7h1.1M42.0 333.8h1.1M94.4 264.5h1.1M55.6 233.9h1.1M178.3 263.4h1.1M108.0 299.8h1.1M167.3 263.2h1.1M185.4 262.0h1.1M112.2 262.2h1.1M46.2 316.7h1.1M163.9 280.8h1.1M106.8 250.2h1.1M52.5 246.4h1.1M105.3 257.9h1.1M116.7 268.3h1.1M157.3 260.8h1.1M79.5 252.4h1.1M102.3 265.2h1.1M133.0 241.6h1.1M128.0 285.0h1.1M129.2 264.8h1.1M124.9 286.3h1.1M120.4 253.0h1.1M52.5 248.8h1.1M110.5 274.9h1.1M153.8 260.2h1.1M201.0 277.2h1.1M114.6 285.7h1.1M188.5 256.1h1.1M67.1 243.9h1.1M151.4 275.2h1.1M98.2 269.9h1.1M44.5 292.6h1.1M71.6 256.3h1.1M203.8 253.7h1.1M83.0 253.9h1.1M209.2 262.2h1.1M180.6 252.9h1.1M199.5 253.7h1.1M182.5 248.6h1.1M67.3 251.8h1.1M44.1 295.4h1.1M192.8 297.9h1.1M181.2 276.9h1.1M78.6 258.3h1.1M150.3 267.3h1.1M127.1 269.2h1.1M184.9 268.4h1.1M151.0 261.0h1.1M103.8 279.7h1.1M144.2 277.8h1.1M151.1 271.0h1.1M171.4 271.2h1.1M106.7 282.2h1.1M118.9 259.5h1.1M130.5 271.9h1.1M189.1 283.5h1.1M94.5 254.8h1.1M67.5 236.1h1.1M195.4 263.9h1.1M99.0 273.8h1.1M150.1 270.8h1.1M116.4 271.2h1.1M103.4 281.7h1.1M40.3 317.5h1.1M176.7 276.3h1.1M59.9 265.5h1.1M115.6 252.0h1.1M207.0 271.5h1.1M40.8 306.6h1.1M198.1 274.6h1.1M200.0 286.5h1.1M160.5 272.6h1.1M102.4 265.2h1.1M154.0 244.9h1.1M164.6 277.5h1.1M208.5 251.9h1.1M140.4 278.9h1.1M81.2 246.6h1.1M167.6 236.0h1.1M138.4 278.4h1.1M170.7 264.1h1.1M94.4 249.8h1.1M122.6 323.9h1.1M160.9 271.7h1.1M70.6 258.4h1.1M192.8 254.6h1.1M108.6 269.8h1.1M164.8 274.2h1.1M199.7 282.2h1.1M75.1 250.3h1.1M90.7 245.5h1.1M60.1 239.2h1.1M202.0 275.6h1.1M77.9 241.2h1.1M66.9 251.1h1.1M206.9 292.2h1.1M64.1 244.4h1.1M125.9 240.9h1.1M175.0 244.2h1.1M46.0 301.8h1.1M160.7 279.0h1.1M76.1 268.0h1.1M112.7 274.0h1.1M121.7 276.0h1.1M76.5 255.1h1.1M56.7 252.8h1.1M66.5 246.3h1.1M138.4 271.9h1.1M56.6 232.2h1.1M106.7 258.4h1.1M190.9 253.5h1.1M152.2 270.8h1.1M139.5 290.1h1.1M40.9 319.0h1.1M205.3 283.6h1.1M182.2 264.1h1.1M178.2 254.1h1.1M180.3 270.5h1.1M42.5 323.2h1.1M133.2 264.3h1.1M66.8 252.8h1.1M186.1 269.7h1.1M144.7 234.4h1.1M164.8 260.9h1.1M117.9 276.6h1.1M101.3 260.0h1.1M172.7 264.9h1.1M144.9 254.3h1.1M171.3 260.4h1.1M139.3 269.6h1.1M122.4 263.6h1.1M147.3 258.8h1.1M146.8 282.7h1.1M49.0 234.3h1.1M146.6 258.0h1.1M111.1 274.4h1.1M147.7 264.3h1.1M110.8 284.3h1.1M149.3 267.4h1.1M108.9 271.7h1.1M76.8 280.6h1.1M107.6 267.6h1.1M183.3 279.2h1.1M205.0 271.3h1.1M52.0 213.2h1.1M111.8 272.9h1.1M91.9 267.6h1.1M155.4 257.5h1.1M195.9 277.1h1.1M181.5 277.4h1.1M182.7 264.9h1.1M176.9 288.4h1.1M50.1 236.5h1.1M40.6 305.5h1.1M105.7 258.6h1.1M196.7 274.6h1.1M40.7 325.4h1.1M102.7 270.5h1.1M141.2 285.6h1.1M45.3 298.5h1.1M169.4 249.9h1.1M39.9 293.1h1.1M128.9 274.3h1.1M147.2 248.2h1.1M179.9 253.5h1.1M49.1 212.6h1.1M162.0 275.1h1.1M49.8 222.0h1.1M204.3 290.7h1.1M205.6 268.9h1.1M71.7 259.6h1.1M141.4 269.8h1.1M115.1 268.4h1.1M137.9 262.1h1.1M195.8 278.5h1.1M188.9 250.9h1.1M80.7 261.1h1.1M207.0 272.8h1.1M204.8 262.1h1.1M203.9 270.6h1.1M104.9 259.4h1.1M199.4 275.8h1.1M122.1 292.0h1.1M199.0 276.0h1.1M173.6 274.6h1.1M176.8 282.3h1.1M109.9 289.2h1.1M118.3 271.2h1.1M46.0 302.1h1.1M50.2 225.5h1.1M132.9 265.1h1.1M190.7 279.1h1.1M155.2 262.7h1.1M65.0 257.8h1.1M104.3 290.1h1.1M150.4 264.4h1.1M139.5 269.1h1.1M98.5 266.3h1.1M142.4 265.4h1.1M205.6 273.7h1.1M197.6 261.1h1.1M138.2 270.6h1.1M152.1 271.5h1.1M40.8 319.2h1.1M145.2 258.8h1.1M194.9 245.1h1.1M57.8 243.7h1.1M120.5 278.4h1.1M110.0 262.6h1.1M143.9 262.0h1.1M138.4 279.5h1.1M46.2 299.9h1.1M133.7 287.4h1.1M74.4 251.3h1.1M141.8 264.8h1.1M60.7 262.7h1.1M83.2 270.2h1.1M71.2 266.1h1.1M172.0 275.6h1.1M202.4 267.2h1.1M93.8 243.7h1.1M83.5 254.4h1.1M205.6 269.4h1.1M60.7 240.1h1.1M192.3 257.0h1.1M111.9 271.4h1.1M93.2 268.4h1.1M55.4 238.9h1.1M47.1 305.2h1.1M49.5 225.5h1.1M114.6 282.9h1.1M119.0 252.2h1.1M65.3 244.7h1.1M164.7 263.4h1.1M110.1 283.6h1.1M133.0 267.8h1.1M145.5 275.4h1.1M190.6 266.5h1.1M57.2 259.0h1.1M94.1 268.9h1.1M138.0 259.1h1.1M172.6 272.6h1.1M40.8 308.7h1.1M77.1 277.6h1.1M101.7 257.3h1.1M164.1 265.4h1.1M182.2 277.4h1.1M134.6 264.8h1.1M182.2 272.0h1.1M102.0 270.7h1.1M51.5 224.2h1.1M103.4 281.5h1.1M103.6 263.1h1.1M171.0 282.3h1.1M123.4 274.5h1.1M95.2 279.2h1.1M101.9 263.3h1.1M89.5 263.0h1.1M127.0 282.0h1.1M199.1 257.6h1.1M115.3 254.5h1.1M75.0 248.2h1.1M92.8 267.7h1.1M148.7 284.0h1.1M170.9 294.4h1.1M158.2 276.5h1.1M203.1 292.5h1.1M117.6 268.4h1.1M208.8 275.8h1.1M112.3 270.0h1.1M65.4 265.4h1.1M59.8 236.0h1.1M74.1 241.9h1.1M156.3 286.6h1.1M115.6 260.5h1.1M123.7 280.5h1.1M153.4 273.0h1.1M48.8 308.9h1.1M54.3 229.3h1.1M96.3 256.6h1.1M64.7 245.6h1.1M152.1 274.3h1.1M105.1 268.4h1.1M57.6 249.1h1.1M73.0 256.6h1.1M206.8 276.5h1.1M94.3 260.2h1.1M105.7 273.2h1.1M87.6 261.6h1.1M47.3 296.9h1.1M126.4 251.7h1.1M158.7 277.6h1.1M77.7 274.8h1.1M44.9 315.7h1.1M135.4 238.0h1.1M82.4 262.6h1.1M99.7 269.6h1.1M205.5 273.2h1.1M107.1 278.0h1.1M197.9 283.4h1.1M51.4 255.2h1.1M83.5 280.3h1.1M44.4 309.9h1.1M163.1 274.5h1.1M145.8 260.3h1.1M107.0 260.5h1.1M203.4 288.9h1.1M159.6 276.1h1.1M184.4 276.7h1.1M119.1 270.2h1.1M150.3 266.5h1.1M186.3 293.3h1.1M97.5 269.0h1.1M103.9 270.0h1.1M44.4 319.7h1.1M129.1 279.2h1.1M118.8 264.9h1.1M67.7 245.5h1.1M67.3 225.8h1.1M120.7 229.9h1.1M196.9 281.9h1.1M98.0 271.3h1.1M174.8 272.4h1.1M95.4 267.0h1.1M172.0 285.0h1.1M208.2 280.9h1.1M81.3 273.9h1.1M63.0 252.4h1.1M128.8 276.6h1.1M45.0 314.6h1.1M118.0 266.7h1.1M64.0 250.2h1.1M60.3 242.0h1.1M48.6 321.7h1.1M60.3 251.5h1.1M99.8 277.6h1.1M143.5 268.9h1.1M171.0 246.3h1.1M159.6 273.8h1.1M176.6 268.1h1.1M135.7 280.0h1.1M97.3 273.2h1.1M56.3 275.5h1.1M42.5 294.0h1.1M181.0 259.3h1.1M157.3 289.7h1.1M165.1 273.8h1.1M157.8 298.7h1.1M95.8 290.5h1.1M105.1 271.4h1.1M198.2 300.6h1.1M42.9 311.0h1.1M45.6 310.1h1.1M116.6 281.8h1.1M101.5 271.5h1.1M165.9 275.3h1.1M161.6 290.0h1.1M83.6 260.7h1.1M78.3 240.0h1.1M134.4 269.9h1.1M67.3 256.7h1.1M123.4 260.1h1.1M130.4 266.3h1.1M136.4 266.0h1.1M199.2 281.9h1.1M74.9 253.3h1.1M51.9 224.3h1.1M145.3 264.6h1.1M193.7 275.1h1.1M165.0 266.7h1.1M84.5 221.3h1.1M198.2 262.4h1.1M45.6 312.4h1.1M121.1 272.0h1.1M67.6 259.7h1.1M189.4 276.5h1.1M86.3 274.5h1.1M201.7 281.6h1.1M154.3 245.2h1.1M64.9 281.5h1.1M43.1 319.4h1.1M120.0 269.8h1.1M52.7 229.8h1.1M205.1 277.5h1.1M47.1 318.0h1.1M78.9 269.5h1.1M138.6 263.8h1.1M67.4 244.6h1.1M96.6 261.8h1.1M172.7 263.2h1.1M105.8 252.9h1.1M135.7 256.1h1.1M177.5 271.2h1.1M155.7 237.6h1.1M183.4 279.5h1.1M137.7 273.2h1.1M89.6 259.3h1.1M179.1 281.0h1.1M187.8 264.4h1.1M124.5 294.6h1.1M169.3 276.1h1.1M66.7 250.4h1.1M189.5 272.1h1.1M175.2 277.2h1.1M90.0 267.7h1.1M157.8 266.5h1.1M92.3 263.9h1.1M73.1 241.4h1.1M104.1 249.9h1.1M181.8 286.8h1.1M49.9 230.7h1.1M109.6 273.5h1.1M99.5 265.5h1.1M51.2 243.1h1.1M188.5 284.3h1.1M126.7 269.6h1.1M121.1 260.2h1.1M91.9 276.3h1.1M178.4 266.0h1.1M105.7 267.2h1.1M137.4 255.2h1.1M144.7 282.5h1.1M126.0 246.4h1.1M168.4 231.7h1.1M53.3 229.4h1.1M148.2 266.8h1.1M153.2 271.0h1.1M87.0 265.6h1.1M191.9 284.8h1.1M40.1 316.8h1.1M205.6 280.4h1.1M121.7 282.4h1.1M61.7 248.8h1.1M108.7 279.3h1.1M108.3 258.1h1.1M202.0 269.9h1.1M89.7 253.6h1.1M94.2 281.8h1.1M89.5 263.7h1.1M185.9 263.8h1.1M181.0 250.5h1.1M174.5 250.0h1.1M176.1 248.9h1.1M144.5 278.8h1.1M131.4 275.7h1.1M164.6 274.7h1.1M166.9 256.7h1.1M206.9 270.4h1.1M192.3 276.8h1.1M172.1 280.8h1.1M81.1 244.5h1.1M39.9 315.4h1.1M90.9 252.3h1.1M124.1 237.0h1.1M113.5 260.6h1.1M186.2 260.1h1.1M95.9 270.7h1.1M165.9 241.7h1.1M190.5 265.0h1.1M44.1 334.9h1.1M42.5 315.2h1.1M41.2 318.3h1.1M42.9 337.4h1.1M46.2 277.7h1.1M41.8 315.0h1.1M45.0 284.6h1.1M48.4 310.4h1.1M45.7 314.5h1.1M40.7 318.4h1.1M46.1 301.1h1.1M39.7 318.8h1.1M46.5 321.3h1.1M44.6 315.3h1.1M45.1 308.5h1.1M39.8 307.4h1.1M41.9 320.9h1.1M42.3 302.2h1.1M42.6 314.8h1.1M39.2 316.6h1.1M45.4 315.4h1.1M47.9 305.4h1.1M42.3 321.4h1.1M40.8 306.8h1.1M39.6 310.8h1.1M41.9 308.1h1.1M39.0 285.7h1.1M45.4 336.3h1.1M46.4 305.4h1.1M42.6 329.0h1.1M43.1 323.9h1.1M45.6 275.7h1.1M45.4 344.0h1.1M41.8 306.0h1.1M48.1 345.3h1.1M41.5 305.2h1.1M42.3 343.2h1.1M45.3 323.4h1.1M48.3 316.4h1.1M45.8 310.8h1.1M40.4 321.6h1.1M46.4 299.5h1.1M45.6 322.0h1.1M44.6 321.4h1.1M39.1 304.1h1.1M40.6 317.8h1.1M48.0 320.6h1.1M40.0 286.2h1.1M39.1 317.8h1.1M47.9 307.3h1.1M41.0 331.0h1.1M40.8 319.9h1.1M43.9 316.1h1.1M40.1 310.0h1.1M41.0 311.5h1.1M43.0 312.1h1.1M41.7 323.1h1.1M43.0 332.6h1.1M42.6 333.3h1.1M42.3 271.7h1.1M39.5 315.7h1.1M46.4 312.1h1.1M40.5 338.3h1.1M41.1 335.6h1.1M42.9 311.4h1.1M48.0 315.4h1.1M45.1 325.3h1.1M44.6 290.1h1.1M40.1 269.9h1.1M40.6 304.2h1.1M46.9 325.4h1.1M45.4 316.0h1.1M47.1 293.7h1.1M46.8 330.9h1.1M41.8 325.2h1.1M43.8 312.7h1.1M41.2 343.5h1.1M47.4 293.7h1.1M39.0 335.9h1.1M41.7 285.4h1.1M48.2 335.9h1.1M47.8 315.2h1.1M44.4 339.9h1.1M40.0 300.9h1.1M47.9 328.8h1.1M48.2 316.9h1.1M44.6 314.5h1.1M47.3 304.6h1.1M47.0 335.6h1.1M40.9 321.9h1.1M40.8 304.8h1.1M43.3 327.5h1.1M43.9 282.2h1.1M41.0 307.5h1.1M42.4 338.3h1.1M41.3 307.3h1.1M47.2 333.5h1.1M43.4 328.7h1.1M46.6 341.5h1.1M47.2 291.9h1.1M45.9 299.8h1.1M47.3 336.8h1.1M46.8 335.5h1.1M48.0 305.2h1.1M45.9 335.9h1.1M44.6 330.5h1.1M48.3 308.2h1.1M47.9 312.8h1.1M39.2 334.1h1.1M44.1 344.0h1.1"/>
<path stroke="#fdd5b6" stroke-width="1.15" fill="none" d="M81.7 288.8h1.1M69.1 284.6h1.1M205.2 283.1h1.1M148.0 290.3h1.1M89.5 279.0h1.1M68.1 276.7h1.1M48.1 298.8h1.1M69.9 301.2h1.1M196.2 307.6h1.1M156.7 281.2h1.1M81.7 299.2h1.1M81.8 315.0h1.1M62.1 272.8h1.1M46.3 318.9h1.1M190.0 307.8h1.1M122.5 301.1h1.1M48.0 283.8h1.1M55.0 299.3h1.1M177.5 273.0h1.1M53.8 261.0h1.1M113.3 319.1h1.1M53.4 292.0h1.1M189.8 300.4h1.1M175.5 284.6h1.1M87.2 305.8h1.1M185.0 292.7h1.1M122.7 310.4h1.1M181.8 312.2h1.1M138.2 315.6h1.1M186.1 304.1h1.1M83.1 308.2h1.1M103.1 311.9h1.1M121.9 287.5h1.1M122.6 258.2h1.1M162.7 304.4h1.1M47.8 311.1h1.1M47.3 323.4h1.1M146.3 298.7h1.1M75.0 256.7h1.1M116.0 290.9h1.1M148.4 285.3h1.1M151.0 278.6h1.1M170.8 278.1h1.1M57.3 304.7h1.1M152.8 288.0h1.1M123.6 309.5h1.1M91.1 284.0h1.1M165.9 288.2h1.1M111.2 284.9h1.1M84.5 296.4h1.1M110.6 320.5h1.1M176.7 289.1h1.1M153.3 304.9h1.1M101.8 290.0h1.1M162.7 296.4h1.1M170.2 282.4h1.1M44.2 303.9h1.1M39.2 301.7h1.1M139.5 292.6h1.1M141.8 304.0h1.1M44.3 306.7h1.1M169.7 297.4h1.1M91.8 280.9h1.1M69.8 296.6h1.1M123.1 289.5h1.1M196.2 309.9h1.1M202.6 288.0h1.1M124.8 300.6h1.1M49.7 283.1h1.1M95.6 305.9h1.1M104.6 294.3h1.1M132.3 292.8h1.1M137.5 309.7h1.1M199.5 307.1h1.1M159.2 297.0h1.1M114.3 294.8h1.1M67.3 307.1h1.1M98.7 290.7h1.1M78.0 280.7h1.1M86.3 294.1h1.1M179.4 305.6h1.1M170.7 276.8h1.1M87.6 308.5h1.1M54.9 291.2h1.1M105.4 292.2h1.1M139.0 304.3h1.1M197.1 292.3h1.1M154.6 293.7h1.1M174.1 278.5h1.1M134.0 260.9h1.1M56.1 266.7h1.1M184.5 264.4h1.1M196.7 279.0h1.1M167.9 290.7h1.1M70.1 283.2h1.1M157.4 291.4h1.1M115.9 297.7h1.1M95.5 287.6h1.1M94.0 304.4h1.1M110.2 293.6h1.1M200.9 315.2h1.1M165.1 290.4h1.1M53.1 282.4h1.1M111.1 289.6h1.1M150.3 295.1h1.1M138.3 288.3h1.1M40.6 303.0h1.1M69.4 333.2h1.1M95.6 294.9h1.1M103.6 299.8h1.1M73.0 289.8h1.1M86.7 255.2h1.1M45.9 321.9h1.1M77.2 295.1h1.1M95.1 289.1h1.1M68.3 280.1h1.1M105.5 323.8h1.1M144.7 289.4h1.1M51.2 294.1h1.1M68.6 303.4h1.1M49.6 291.7h1.1M115.2 287.4h1.1M159.0 295.4h1.1M167.9 284.3h1.1M120.2 304.8h1.1M52.3 299.3h1.1M46.3 323.5h1.1M160.8 284.4h1.1M158.5 326.2h1.1M93.5 312.9h1.1M102.5 284.5h1.1M48.9 315.5h1.1M99.1 279.2h1.1M145.8 291.2h1.1M79.6 301.4h1.1M61.1 303.1h1.1M163.9 275.9h1.1M199.8 290.6h1.1M130.6 294.8h1.1M89.1 279.6h1.1M149.2 303.6h1.1M92.5 301.6h1.1M168.8 300.2h1.1M192.1 280.4h1.1M151.6 305.4h1.1M189.3 287.4h1.1M57.8 285.6h1.1M116.9 276.0h1.1M175.8 292.8h1.1M178.0 307.7h1.1M202.9 297.2h1.1M115.0 311.4h1.1M67.5 293.1h1.1M145.0 290.7h1.1M96.3 276.0h1.1M123.9 292.8h1.1M146.3 286.8h1.1M92.6 288.7h1.1M61.1 291.5h1.1M45.6 309.4h1.1M182.3 319.2h1.1M92.1 299.5h1.1M142.4 297.4h1.1M204.4 296.3h1.1M167.1 290.3h1.1M104.5 299.5h1.1M134.1 318.7h1.1M131.1 272.4h1.1M194.9 301.2h1.1M130.5 295.7h1.1M187.1 272.4h1.1M150.9 299.5h1.1M155.1 269.2h1.1M116.6 328.2h1.1M195.7 296.3h1.1M84.1 288.4h1.1M153.3 284.0h1.1M96.1 252.1h1.1M207.2 301.3h1.1M159.9 280.6h1.1M156.5 282.0h1.1M43.9 338.7h1.1M182.7 306.4h1.1M82.8 285.5h1.1M100.0 291.3h1.1M155.6 260.6h1.1M105.0 301.3h1.1M191.3 307.6h1.1M63.6 289.0h1.1M166.7 302.8h1.1M68.9 309.9h1.1M175.3 306.4h1.1M88.2 294.6h1.1M133.5 265.3h1.1M86.8 286.3h1.1M171.8 284.6h1.1M55.3 276.7h1.1M101.0 306.8h1.1M192.8 262.3h1.1M99.8 278.8h1.1M99.0 276.4h1.1M171.8 296.8h1.1M172.3 316.9h1.1M185.5 304.5h1.1M42.5 300.6h1.1M54.8 290.3h1.1M46.8 316.4h1.1M63.8 278.6h1.1M86.4 272.4h1.1M184.6 293.2h1.1M72.8 280.2h1.1M120.0 309.4h1.1M158.7 287.5h1.1M88.7 280.8h1.1M149.0 297.2h1.1M103.8 286.2h1.1M142.9 305.5h1.1M193.8 301.7h1.1M208.3 311.2h1.1M122.5 304.4h1.1M145.7 264.6h1.1M171.7 293.1h1.1M101.0 298.1h1.1M58.6 293.3h1.1M121.6 308.7h1.1M158.7 298.8h1.1M203.3 313.4h1.1M69.3 297.0h1.1M100.0 299.2h1.1M81.9 297.3h1.1M101.4 283.4h1.1M141.4 283.8h1.1M199.0 286.3h1.1M121.2 306.0h1.1M147.0 282.8h1.1M131.9 322.7h1.1M187.0 291.7h1.1M147.0 295.3h1.1M150.7 288.3h1.1M182.5 274.2h1.1M208.0 298.7h1.1M206.8 285.2h1.1M203.9 291.1h1.1M79.7 292.4h1.1M105.9 297.3h1.1M78.3 302.0h1.1M48.5 315.0h1.1M190.3 303.2h1.1M170.6 304.7h1.1M140.2 270.8h1.1M174.2 272.6h1.1M105.4 285.3h1.1M136.0 298.8h1.1M159.5 327.9h1.1M113.3 293.6h1.1M169.4 289.3h1.1M81.9 299.8h1.1M113.1 283.0h1.1M41.2 319.8h1.1M112.7 296.8h1.1M179.1 316.9h1.1M84.1 296.4h1.1M95.9 304.6h1.1M158.4 291.9h1.1M154.8 276.9h1.1M152.7 287.0h1.1M64.5 286.6h1.1M121.2 301.0h1.1M136.7 298.4h1.1M178.6 279.1h1.1M125.6 243.4h1.1M75.8 272.1h1.1M54.6 282.6h1.1M119.3 307.1h1.1M184.1 261.2h1.1M151.8 309.9h1.1M62.8 286.6h1.1M46.4 320.4h1.1M65.4 262.4h1.1M161.5 299.2h1.1M160.0 311.9h1.1M180.6 288.5h1.1M88.3 297.1h1.1M148.3 281.5h1.1M103.3 281.5h1.1M39.7 325.5h1.1M107.7 299.4h1.1M44.0 301.9h1.1M178.3 291.9h1.1M191.7 290.2h1.1M197.4 305.5h1.1M139.1 283.8h1.1M204.1 304.8h1.1M134.5 302.6h1.1M165.9 300.6h1.1M118.8 282.4h1.1M179.2 296.4h1.1M177.7 302.6h1.1M116.1 341.3h1.1M55.1 306.4h1.1M131.3 300.0h1.1M200.6 288.1h1.1M174.7 319.1h1.1M134.9 313.9h1.1M188.1 284.0h1.1M60.2 292.9h1.1M111.9 290.1h1.1M128.3 290.0h1.1M93.5 280.8h1.1M71.3 300.1h1.1M171.6 269.3h1.1M146.3 268.6h1.1M86.4 285.7h1.1M181.4 316.3h1.1M88.1 286.2h1.1M43.7 303.8h1.1M139.3 296.1h1.1M151.8 283.5h1.1M170.8 286.7h1.1M160.6 295.0h1.1M71.9 278.8h1.1M103.4 281.1h1.1M61.0 286.7h1.1M154.3 288.8h1.1M78.7 298.6h1.1M185.8 277.2h1.1M53.1 269.2h1.1M205.2 336.7h1.1M92.9 301.7h1.1M48.6 265.8h1.1M102.2 300.4h1.1M160.8 303.1h1.1M127.5 249.3h1.1M182.3 294.8h1.1M95.2 260.8h1.1M61.5 300.8h1.1M106.4 294.2h1.1M161.9 276.8h1.1M50.1 301.0h1.1M163.9 306.8h1.1M168.4 290.1h1.1M158.4 288.8h1.1M92.8 278.3h1.1M173.0 286.5h1.1M40.6 335.7h1.1M123.9 293.9h1.1M189.5 294.0h1.1M80.1 302.9h1.1M108.8 302.0h1.1M71.1 293.2h1.1M85.7 278.3h1.1M143.9 293.9h1.1M191.7 285.4h1.1M98.8 270.3h1.1M88.2 290.9h1.1M97.7 306.9h1.1M165.1 279.1h1.1M128.4 312.2h1.1M44.3 327.3h1.1M180.5 321.1h1.1M89.4 269.0h1.1M162.1 289.8h1.1M150.5 321.5h1.1M126.3 302.8h1.1M200.7 298.8h1.1M199.0 284.3h1.1M75.7 285.4h1.1M119.0 292.3h1.1M88.2 309.1h1.1M54.0 286.5h1.1M110.9 262.3h1.1M39.9 325.8h1.1M173.2 279.9h1.1M107.4 297.6h1.1M169.9 308.6h1.1M172.7 294.1h1.1M127.8 305.1h1.1M102.5 281.3h1.1M202.8 295.8h1.1M97.3 302.8h1.1M56.9 299.1h1.1M204.7 294.8h1.1M189.8 288.2h1.1M93.7 272.8h1.1M202.3 293.6h1.1M48.9 315.2h1.1M50.7 285.5h1.1M45.6 337.5h1.1M92.9 310.5h1.1M90.6 293.2h1.1M189.5 310.2h1.1M48.9 278.9h1.1M97.3 301.4h1.1M207.9 298.8h1.1M76.8 311.6h1.1M119.8 307.3h1.1M186.1 292.4h1.1M66.4 260.4h1.1M181.4 298.8h1.1M143.7 309.6h1.1M147.0 305.4h1.1M98.8 301.6h1.1M59.0 306.8h1.1M103.2 303.0h1.1M71.6 283.7h1.1M42.4 317.1h1.1M60.3 284.9h1.1M163.0 308.3h1.1M94.3 290.0h1.1M196.1 282.9h1.1M199.8 267.1h1.1M168.1 293.4h1.1M76.3 325.8h1.1M205.0 252.6h1.1M182.9 328.3h1.1M88.6 277.1h1.1M110.4 279.4h1.1M115.3 290.3h1.1M43.6 335.7h1.1M87.9 272.3h1.1M189.0 297.9h1.1M104.5 266.8h1.1M57.4 281.6h1.1M40.7 296.1h1.1M89.1 297.2h1.1M106.6 302.6h1.1M178.1 293.2h1.1M168.9 279.5h1.1M188.1 302.7h1.1M194.8 273.2h1.1M70.8 304.3h1.1M179.0 272.4h1.1M86.3 281.4h1.1M188.1 290.7h1.1M156.6 289.0h1.1M125.5 297.4h1.1M101.0 287.6h1.1M158.9 287.6h1.1M102.6 273.6h1.1M152.5 285.8h1.1M177.2 319.5h1.1M133.4 294.0h1.1M56.6 306.6h1.1M180.4 288.5h1.1M143.2 318.0h1.1M109.1 289.2h1.1M75.9 280.0h1.1M95.2 270.3h1.1M192.3 298.3h1.1M171.7 316.3h1.1M79.1 279.0h1.1M102.7 298.1h1.1M128.0 291.0h1.1M204.4 293.2h1.1M93.1 299.2h1.1M205.6 293.4h1.1M155.8 296.2h1.1M51.0 296.4h1.1M146.7 300.6h1.1M174.8 279.5h1.1M170.8 306.4h1.1M200.8 291.8h1.1M106.9 286.9h1.1M115.2 290.8h1.1M197.9 293.2h1.1M186.2 271.8h1.1M182.3 277.7h1.1M51.1 298.0h1.1M91.4 346.2h1.1M196.0 294.5h1.1M128.9 300.3h1.1M163.7 266.2h1.1M170.2 311.9h1.1M41.3 339.5h1.1M76.2 276.5h1.1M193.6 310.0h1.1M175.8 313.4h1.1M132.7 304.5h1.1M128.5 290.4h1.1M158.4 306.1h1.1M171.8 294.9h1.1M176.2 268.5h1.1M84.4 308.0h1.1M161.3 317.6h1.1M175.1 294.2h1.1M199.4 302.5h1.1M209.0 286.4h1.1M138.4 290.6h1.1M162.4 290.9h1.1M118.9 299.0h1.1M208.3 293.3h1.1M84.3 278.8h1.1M118.5 292.8h1.1M172.1 227.6h1.1M194.1 279.2h1.1M55.8 290.8h1.1M201.8 296.0h1.1M60.2 305.3h1.1M131.5 307.1h1.1M68.5 290.3h1.1M89.3 291.4h1.1M181.8 303.7h1.1M120.7 290.5h1.1M179.8 308.8h1.1M59.3 308.8h1.1M44.5 316.4h1.1M118.7 290.0h1.1M141.1 290.4h1.1M171.4 303.8h1.1M173.3 328.7h1.1M82.4 324.0h1.1M169.9 308.4h1.1M113.3 285.6h1.1M68.6 299.7h1.1M175.3 296.8h1.1M60.9 275.3h1.1M78.2 260.4h1.1M141.5 304.8h1.1M146.4 295.3h1.1M167.3 290.3h1.1M203.9 307.6h1.1M121.1 298.2h1.1M110.3 309.8h1.1M103.9 294.0h1.1M53.8 316.5h1.1M186.1 297.2h1.1M102.4 282.5h1.1M198.7 298.1h1.1M188.6 295.8h1.1M112.9 322.9h1.1M102.5 287.6h1.1M64.7 270.1h1.1M119.9 294.0h1.1M73.9 261.1h1.1M145.1 260.0h1.1M166.5 282.3h1.1M146.4 310.0h1.1M92.8 293.6h1.1M196.3 300.2h1.1M150.3 293.8h1.1M44.0 301.6h1.1M130.1 327.1h1.1M87.0 301.8h1.1M148.6 297.0h1.1M92.3 278.5h1.1M186.5 283.9h1.1M118.4 277.4h1.1M46.0 325.3h1.1M94.6 280.3h1.1M206.0 283.3h1.1M190.1 303.3h1.1M153.1 301.5h1.1M189.4 259.5h1.1M190.1 293.1h1.1M119.9 230.0h1.1M188.0 297.5h1.1M87.4 289.9h1.1M62.8 291.0h1.1M132.1 273.8h1.1M176.4 311.7h1.1M179.5 293.2h1.1M194.4 273.7h1.1M168.1 286.9h1.1M155.3 312.0h1.1M78.9 300.5h1.1M113.8 279.7h1.1M149.8 298.1h1.1M179.8 306.5h1.1M192.2 268.7h1.1M165.0 296.5h1.1M89.0 304.2h1.1M152.7 306.0h1.1M162.9 296.3h1.1M66.4 288.2h1.1M72.4 273.6h1.1M117.8 288.5h1.1M135.6 276.1h1.1M52.1 301.3h1.1M166.8 290.7h1.1M106.2 296.6h1.1M123.7 331.0h1.1M119.8 296.4h1.1M54.8 260.1h1.1M138.8 273.1h1.1M47.8 324.6h1.1M165.5 298.4h1.1M43.5 328.9h1.1M65.5 289.0h1.1M207.6 281.8h1.1M47.6 302.2h1.1M111.7 287.9h1.1M104.4 274.1h1.1M203.4 305.0h1.1M85.1 323.7h1.1M113.1 271.4h1.1M106.3 302.1h1.1M194.0 295.9h1.1M77.8 288.7h1.1M171.4 283.9h1.1M113.8 259.9h1.1M189.4 292.1h1.1M133.1 291.1h1.1M127.8 309.7h1.1M184.1 292.9h1.1M56.5 284.7h1.1M111.0 268.0h1.1M189.0 277.7h1.1M177.3 298.2h1.1M148.0 290.3h1.1M39.3 299.2h1.1M129.9 271.3h1.1M66.3 301.2h1.1M165.7 292.7h1.1M131.9 314.8h1.1M48.6 296.4h1.1M63.7 269.7h1.1M55.8 283.8h1.1M87.0 280.6h1.1M78.8 300.2h1.1M134.5 295.5h1.1M51.9 280.0h1.1M166.9 274.5h1.1M106.8 301.1h1.1M169.5 282.2h1.1M172.8 287.6h1.1M143.7 317.2h1.1M175.3 282.1h1.1M40.2 330.9h1.1M119.6 283.5h1.1M39.7 328.9h1.1M191.7 269.2h1.1M104.1 297.1h1.1M205.9 294.0h1.1M120.6 299.1h1.1M57.0 270.0h1.1M138.9 294.4h1.1M189.8 288.6h1.1M201.6 297.4h1.1M93.9 280.5h1.1M168.1 299.5h1.1M89.1 279.3h1.1M121.7 294.6h1.1M45.7 323.4h1.1M188.4 332.6h1.1M195.9 291.3h1.1M101.8 273.5h1.1M169.3 304.7h1.1M133.8 279.5h1.1M115.0 286.9h1.1M146.0 323.3h1.1M64.6 301.6h1.1M90.9 346.3h1.1M57.6 281.4h1.1M66.2 297.9h1.1M59.5 295.6h1.1M192.6 300.2h1.1M139.2 303.4h1.1M199.4 284.2h1.1M68.9 285.6h1.1M68.5 302.1h1.1M69.4 305.0h1.1M152.8 287.0h1.1M137.6 300.9h1.1M131.1 292.6h1.1M167.3 299.0h1.1M171.5 321.2h1.1M80.5 273.9h1.1M179.1 295.9h1.1M98.7 270.2h1.1M132.8 297.7h1.1M60.2 293.9h1.1M161.7 306.8h1.1M143.0 291.2h1.1M81.9 294.9h1.1M191.7 312.5h1.1M174.4 298.6h1.1M171.0 283.3h1.1M171.9 299.7h1.1M149.0 294.4h1.1M195.0 295.9h1.1M159.3 320.4h1.1M146.2 227.3h1.1M95.4 277.6h1.1M43.4 308.7h1.1M189.1 310.3h1.1M190.1 296.4h1.1M110.2 300.5h1.1M108.2 267.0h1.1M90.6 300.1h1.1M128.5 261.4h1.1M63.7 298.5h1.1M204.0 291.7h1.1M79.2 302.9h1.1M43.3 320.2h1.1M59.8 289.7h1.1M108.3 289.9h1.1M95.8 293.8h1.1M67.6 281.8h1.1M48.6 308.1h1.1M57.4 254.4h1.1M46.3 311.2h1.1M70.3 290.3h1.1M93.1 280.8h1.1M86.8 287.6h1.1M70.0 292.1h1.1M87.7 290.2h1.1M105.6 328.4h1.1M106.7 301.6h1.1M45.2 322.2h1.1M195.4 307.5h1.1M62.5 291.6h1.1M123.1 282.4h1.1M91.8 282.3h1.1M53.5 309.1h1.1M172.5 301.9h1.1M109.1 298.5h1.1M123.6 294.3h1.1M206.5 307.0h1.1M78.9 266.1h1.1M155.3 320.1h1.1M152.8 293.4h1.1M173.6 288.5h1.1M61.5 295.0h1.1M85.6 273.9h1.1M65.2 289.9h1.1M205.1 310.2h1.1M197.3 294.6h1.1M173.6 283.6h1.1M71.9 282.3h1.1M104.7 280.1h1.1M133.4 298.8h1.1M122.2 291.3h1.1M92.6 277.6h1.1M174.8 297.7h1.1M41.1 285.0h1.1M163.9 287.9h1.1M173.0 292.7h1.1M185.6 296.4h1.1M86.4 277.7h1.1M126.4 306.4h1.1M46.3 330.2h1.1M40.4 324.1h1.1M85.5 273.1h1.1M145.7 276.7h1.1M117.6 272.7h1.1M88.3 296.8h1.1M193.8 309.0h1.1M189.0 303.6h1.1M177.8 289.8h1.1M45.6 300.8h1.1M139.7 287.7h1.1M116.2 302.5h1.1M132.1 308.3h1.1M58.6 284.8h1.1M196.9 289.7h1.1M175.8 291.3h1.1M86.1 305.2h1.1M192.3 293.8h1.1M204.8 299.3h1.1M208.5 312.8h1.1M115.2 306.0h1.1M90.2 301.4h1.1M107.7 275.4h1.1M44.0 319.1h1.1M115.1 268.4h1.1M137.8 308.9h1.1M44.8 306.5h1.1M123.5 327.6h1.1M193.0 305.6h1.1M192.6 298.1h1.1M77.5 298.8h1.1M145.4 273.8h1.1M88.1 302.8h1.1M63.1 296.6h1.1M100.3 277.6h1.1M84.6 298.6h1.1M126.4 269.0h1.1M106.2 283.7h1.1M74.3 302.3h1.1M143.3 285.1h1.1M113.4 267.7h1.1M56.7 267.9h1.1M160.6 279.8h1.1M102.9 301.1h1.1M61.5 280.0h1.1M141.8 287.5h1.1M107.6 295.2h1.1M124.5 281.7h1.1M127.0 285.4h1.1M41.7 296.8h1.1M125.6 294.4h1.1M102.9 315.3h1.1M156.4 315.8h1.1M57.7 284.9h1.1M122.7 282.1h1.1M73.1 328.4h1.1M182.4 293.1h1.1M198.2 324.9h1.1M203.2 311.4h1.1M147.7 275.4h1.1M130.6 275.7h1.1M153.7 290.3h1.1M145.4 304.2h1.1M82.8 297.9h1.1M69.3 291.7h1.1M168.7 311.3h1.1M53.2 294.0h1.1M77.4 299.4h1.1M94.8 316.2h1.1M193.4 295.5h1.1M157.3 300.3h1.1M46.8 308.4h1.1M96.8 295.6h1.1M100.4 296.7h1.1M95.3 307.3h1.1M209.2 297.1h1.1M61.8 278.0h1.1M111.2 296.8h1.1M108.0 289.6h1.1M54.6 273.2h1.1M114.8 309.2h1.1M115.6 272.0h1.1M86.5 287.9h1.1M163.4 305.1h1.1M105.6 287.3h1.1M77.8 307.3h1.1M147.6 288.5h1.1M66.3 294.8h1.1M204.6 309.2h1.1M41.8 294.6h1.1M180.5 277.5h1.1M171.1 321.1h1.1M175.5 284.0h1.1M200.9 294.1h1.1M93.1 272.2h1.1M46.0 323.4h1.1M186.2 318.8h1.1M149.3 306.3h1.1M130.6 300.5h1.1M134.4 304.6h1.1M146.7 293.4h1.1M123.3 305.3h1.1M138.3 323.4h1.1M54.8 291.1h1.1M120.9 279.2h1.1M39.7 306.3h1.1M160.3 305.1h1.1M103.3 280.9h1.1M115.6 308.1h1.1M180.7 295.2h1.1M83.9 318.4h1.1M54.9 281.1h1.1M114.8 292.7h1.1M53.9 252.7h1.1M70.6 296.9h1.1M65.9 272.7h1.1M173.5 290.3h1.1M144.6 259.2h1.1M150.7 278.3h1.1M82.3 303.9h1.1M46.8 303.7h1.1M118.8 283.2h1.1M151.1 277.2h1.1M153.6 278.4h1.1M139.6 297.6h1.1M192.7 263.1h1.1M122.4 317.6h1.1M90.5 303.4h1.1M126.8 287.8h1.1M44.5 319.5h1.1M207.6 292.1h1.1M93.5 294.6h1.1M73.4 298.4h1.1M166.5 299.0h1.1M75.3 291.4h1.1M139.7 257.3h1.1M109.5 293.1h1.1M143.6 282.9h1.1M72.5 249.5h1.1M143.3 296.2h1.1M175.9 247.1h1.1M163.4 301.4h1.1M71.1 319.7h1.1M108.6 282.0h1.1M165.3 285.5h1.1M66.3 278.0h1.1M88.6 293.3h1.1M153.3 284.9h1.1M189.0 294.3h1.1M166.5 297.6h1.1M155.6 290.6h1.1M118.3 290.6h1.1M54.5 285.8h1.1M188.6 303.7h1.1M86.5 304.0h1.1M163.7 268.0h1.1M184.5 314.3h1.1M157.1 299.8h1.1M194.6 283.5h1.1M156.0 286.6h1.1M123.9 314.8h1.1M121.3 262.8h1.1M118.8 291.5h1.1M165.4 268.5h1.1M65.2 279.1h1.1M99.5 313.5h1.1M97.4 275.5h1.1M204.5 317.2h1.1M110.0 294.6h1.1M191.6 305.0h1.1M180.7 284.6h1.1M52.0 285.7h1.1M165.8 284.8h1.1M129.9 299.7h1.1M181.8 281.1h1.1M150.7 309.1h1.1M122.1 269.6h1.1M44.0 318.2h1.1M67.6 282.6h1.1M199.3 298.4h1.1M70.0 288.1h1.1M55.8 291.0h1.1M108.8 294.7h1.1M41.1 317.5h1.1M101.3 285.9h1.1M50.6 320.4h1.1M160.2 290.9h1.1M175.8 273.4h1.1M129.5 295.7h1.1M71.1 293.7h1.1M62.5 289.5h1.1M196.1 298.8h1.1M155.8 290.3h1.1M102.6 268.4h1.1M44.7 305.7h1.1M88.6 296.2h1.1M79.9 289.6h1.1M186.0 308.6h1.1M49.3 277.7h1.1M136.2 300.4h1.1M57.9 294.4h1.1M108.2 292.4h1.1M139.8 314.9h1.1M134.8 347.8h1.1M136.0 297.1h1.1M112.0 305.7h1.1M159.4 307.2h1.1M83.2 245.6h1.1M171.2 269.7h1.1M75.4 297.7h1.1M39.5 308.6h1.1M123.7 300.9h1.1M104.7 285.0h1.1M89.2 323.8h1.1M59.1 277.2h1.1M139.3 296.0h1.1M59.8 302.6h1.1M193.8 284.0h1.1M156.9 291.8h1.1M203.3 309.7h1.1M191.4 298.3h1.1M139.0 305.0h1.1M72.0 286.8h1.1M55.7 290.6h1.1M208.8 282.4h1.1M127.4 293.0h1.1M149.1 298.2h1.1M183.8 298.4h1.1M137.4 295.7h1.1M48.4 318.0h1.1M175.9 278.5h1.1M84.7 283.4h1.1M173.6 296.6h1.1M46.4 327.8h1.1M67.2 284.2h1.1M64.5 293.8h1.1M78.6 308.9h1.1M162.5 277.0h1.1M173.0 310.3h1.1M148.3 298.7h1.1M209.3 315.2h1.1M67.3 281.2h1.1M187.2 285.2h1.1M93.9 311.9h1.1M142.5 303.3h1.1M46.6 308.6h1.1M134.0 303.0h1.1M129.9 284.1h1.1M56.1 273.2h1.1M171.6 307.0h1.1M44.5 335.9h1.1M85.7 296.0h1.1M149.0 291.1h1.1M118.6 313.0h1.1M200.3 294.8h1.1M195.7 272.2h1.1M94.6 301.4h1.1M184.4 294.6h1.1M170.6 294.5h1.1M56.0 284.5h1.1M139.8 283.0h1.1M159.3 305.1h1.1M91.1 262.6h1.1M175.9 294.5h1.1M56.2 300.9h1.1M175.0 309.0h1.1M144.6 292.9h1.1M126.6 295.1h1.1M205.4 283.4h1.1M201.2 289.6h1.1M79.9 292.4h1.1M208.8 298.8h1.1M101.5 285.1h1.1M146.8 314.2h1.1M134.7 306.7h1.1M85.2 300.6h1.1M196.6 287.9h1.1M163.1 305.9h1.1M152.9 300.9h1.1M46.8 322.3h1.1M168.1 294.7h1.1M165.1 308.6h1.1M191.3 290.3h1.1M47.2 316.3h1.1M62.1 272.0h1.1M91.5 292.5h1.1M134.6 287.1h1.1M190.6 275.9h1.1M71.6 262.2h1.1M174.4 291.1h1.1M89.5 306.7h1.1M52.0 286.0h1.1M160.2 298.7h1.1M181.5 282.7h1.1M74.1 296.6h1.1M131.6 284.5h1.1M193.1 294.9h1.1M195.7 288.6h1.1M157.9 291.7h1.1M171.6 301.2h1.1M110.2 297.8h1.1M127.6 290.0h1.1M123.1 288.9h1.1M94.1 274.0h1.1M68.4 299.5h1.1M45.1 310.5h1.1M156.4 295.1h1.1M129.6 303.9h1.1M88.0 271.2h1.1M117.0 262.8h1.1M153.8 294.7h1.1M122.0 285.7h1.1M182.2 257.1h1.1M166.5 245.6h1.1M149.1 305.2h1.1M52.3 283.2h1.1M110.8 277.7h1.1M42.9 301.5h1.1M203.5 313.8h1.1M159.5 273.2h1.1M180.0 299.9h1.1M44.1 315.8h1.1M105.0 315.9h1.1M109.1 292.8h1.1M140.9 298.9h1.1M133.2 267.6h1.1M163.2 270.9h1.1M100.4 292.1h1.1M141.2 283.0h1.1M191.6 253.8h1.1M39.7 309.2h1.1M82.3 297.7h1.1M56.5 261.2h1.1M52.4 314.8h1.1M66.7 273.6h1.1M111.4 300.7h1.1M41.8 338.4h1.1M53.0 277.0h1.1M157.7 298.7h1.1M207.6 296.4h1.1M117.8 317.1h1.1M52.3 299.1h1.1M172.0 303.7h1.1M172.9 295.9h1.1M162.0 290.9h1.1M194.0 273.2h1.1M192.4 319.7h1.1M124.9 282.3h1.1M111.5 261.8h1.1M56.2 277.2h1.1M170.7 338.5h1.1M91.9 265.1h1.1M182.9 300.1h1.1M43.2 329.4h1.1M69.3 265.0h1.1M84.2 316.8h1.1M136.2 288.6h1.1M183.6 309.8h1.1M109.0 278.5h1.1M184.8 309.0h1.1M192.3 280.7h1.1M180.6 296.1h1.1M99.6 294.8h1.1M82.9 301.1h1.1M170.7 314.5h1.1M111.4 317.6h1.1M144.3 302.8h1.1M167.7 291.3h1.1M187.5 285.6h1.1M162.2 304.4h1.1M171.7 298.4h1.1M200.4 279.0h1.1M160.7 258.9h1.1M73.2 292.7h1.1M181.0 257.8h1.1M47.8 309.9h1.1M152.4 292.1h1.1M120.7 289.4h1.1M99.0 281.2h1.1M82.8 299.1h1.1M108.7 303.6h1.1M173.6 289.8h1.1M76.1 308.5h1.1M82.1 244.7h1.1M47.9 318.6h1.1M78.4 305.6h1.1M147.7 296.1h1.1M56.2 299.3h1.1M63.3 294.2h1.1M121.8 293.9h1.1M143.9 293.4h1.1M180.2 298.8h1.1M194.6 308.6h1.1M179.5 290.7h1.1M168.1 293.7h1.1M189.2 310.8h1.1M87.4 296.9h1.1M108.6 270.0h1.1M139.2 281.8h1.1M205.6 301.0h1.1M159.6 285.2h1.1M158.7 283.4h1.1M144.4 275.9h1.1M196.4 292.8h1.1M68.2 300.5h1.1M144.4 282.1h1.1M197.2 299.4h1.1M198.7 291.2h1.1M50.6 281.9h1.1M178.6 291.3h1.1M101.0 295.1h1.1M165.6 314.3h1.1M59.7 303.9h1.1M83.6 300.4h1.1M104.1 277.7h1.1M85.2 281.4h1.1M78.9 287.4h1.1M103.3 298.3h1.1M136.3 318.1h1.1M56.9 295.6h1.1M48.7 336.4h1.1M130.3 308.9h1.1M87.6 269.7h1.1M51.0 270.8h1.1M87.2 286.8h1.1M82.8 293.7h1.1M53.4 286.4h1.1M45.5 332.9h1.1M109.7 296.2h1.1M114.9 293.3h1.1M173.4 309.2h1.1M64.4 290.9h1.1M163.2 302.6h1.1M131.3 281.5h1.1M115.9 264.7h1.1M103.3 276.5h1.1M137.0 291.8h1.1M165.4 279.4h1.1M116.7 272.7h1.1M159.5 287.7h1.1M125.3 290.3h1.1M167.3 307.8h1.1M51.0 312.7h1.1M83.0 288.1h1.1M78.8 286.2h1.1M80.6 280.0h1.1M59.2 298.5h1.1M80.2 296.1h1.1M173.0 305.8h1.1M151.9 271.3h1.1M109.9 282.0h1.1M133.4 288.6h1.1M150.8 294.7h1.1M207.8 288.9h1.1M67.6 276.6h1.1M122.8 303.2h1.1M189.8 304.7h1.1M72.9 296.4h1.1M78.9 285.7h1.1M55.0 272.2h1.1M200.1 324.3h1.1M187.9 287.5h1.1M193.8 298.8h1.1M113.6 279.7h1.1M143.8 281.5h1.1M85.4 272.0h1.1M197.4 321.9h1.1M51.6 292.3h1.1M126.3 306.4h1.1M127.4 284.0h1.1M160.2 293.6h1.1M172.3 292.8h1.1M193.1 300.4h1.1M92.1 293.0h1.1M108.1 294.7h1.1M143.9 293.1h1.1M199.3 245.8h1.1M170.0 283.5h1.1M145.9 275.7h1.1M100.1 294.1h1.1M93.5 309.6h1.1M62.4 302.9h1.1M188.2 303.6h1.1M95.4 327.5h1.1M88.5 292.4h1.1M113.5 308.5h1.1M72.0 305.7h1.1M141.4 301.8h1.1M101.0 296.3h1.1M206.6 293.8h1.1M111.0 312.7h1.1M98.0 282.9h1.1M164.9 299.7h1.1M52.2 273.5h1.1M202.0 316.0h1.1M138.5 297.0h1.1M143.1 297.9h1.1M45.1 303.6h1.1M142.0 286.4h1.1M98.4 278.9h1.1M116.4 286.6h1.1M103.4 298.9h1.1M40.4 320.9h1.1M195.5 273.6h1.1M145.4 304.8h1.1M188.2 298.3h1.1M45.0 298.3h1.1M193.0 286.1h1.1M169.6 283.4h1.1M157.4 284.9h1.1M54.0 290.9h1.1M208.2 292.0h1.1M149.8 299.4h1.1M109.2 303.4h1.1M184.1 309.3h1.1M45.4 314.4h1.1M168.9 329.5h1.1M95.3 316.5h1.1M141.2 297.2h1.1M185.6 298.6h1.1M173.9 295.9h1.1M73.8 309.1h1.1M139.3 277.5h1.1M139.4 302.1h1.1M158.8 297.5h1.1M81.9 305.3h1.1M52.4 282.2h1.1M167.3 310.1h1.1M94.8 266.4h1.1M39.2 320.6h1.1M198.0 294.0h1.1M195.7 291.6h1.1M192.9 276.3h1.1M106.2 278.3h1.1M173.5 307.0h1.1M137.3 305.4h1.1M44.6 322.0h1.1M116.3 296.7h1.1M186.6 302.8h1.1M70.9 305.0h1.1M200.4 293.7h1.1M156.7 278.2h1.1M112.3 300.6h1.1M188.4 294.4h1.1M143.0 277.6h1.1M186.1 262.2h1.1M120.7 275.1h1.1M105.6 293.1h1.1M95.6 298.0h1.1M162.9 240.2h1.1M66.1 276.0h1.1M153.6 296.7h1.1M73.7 263.9h1.1M94.7 297.4h1.1M171.4 303.5h1.1M113.0 291.1h1.1M72.5 278.0h1.1M120.7 247.8h1.1M203.9 283.8h1.1M177.2 289.7h1.1M62.7 264.0h1.1M124.4 294.8h1.1M69.8 305.9h1.1M104.9 311.8h1.1M191.4 295.4h1.1M166.6 275.5h1.1M122.1 282.6h1.1M198.1 283.1h1.1M103.3 270.6h1.1M111.4 302.8h1.1M48.7 317.1h1.1M103.3 313.6h1.1M87.4 306.5h1.1M44.1 340.3h1.1M164.9 283.0h1.1M67.4 282.5h1.1M85.3 284.6h1.1M43.7 305.6h1.1M142.1 281.2h1.1M106.0 290.0h1.1M155.9 313.4h1.1M85.9 292.0h1.1M45.7 303.9h1.1M188.7 243.4h1.1M195.4 316.8h1.1M179.2 305.7h1.1M45.6 328.4h1.1M163.6 298.7h1.1M119.1 298.1h1.1M109.6 283.0h1.1M98.3 294.6h1.1M103.8 292.9h1.1M86.2 306.6h1.1M118.5 308.1h1.1M91.1 292.2h1.1M162.9 295.5h1.1M71.8 286.3h1.1M188.5 290.7h1.1M82.6 293.1h1.1M164.6 313.0h1.1M99.2 282.2h1.1M127.9 309.6h1.1M152.2 298.7h1.1M129.8 298.4h1.1M121.9 293.0h1.1M157.0 293.7h1.1M135.2 295.4h1.1M194.1 317.0h1.1M209.2 285.2h1.1M49.3 301.8h1.1M56.7 289.6h1.1M51.9 280.6h1.1M114.0 307.9h1.1M148.2 298.3h1.1M181.6 280.6h1.1M144.4 300.9h1.1M54.0 290.4h1.1M192.7 287.6h1.1M81.7 298.3h1.1M162.4 276.0h1.1M194.4 282.8h1.1M51.1 291.3h1.1M81.9 314.8h1.1M154.1 308.4h1.1M107.9 274.2h1.1M76.8 289.1h1.1M165.9 327.7h1.1M39.8 309.2h1.1M107.4 313.9h1.1M97.3 300.6h1.1M192.3 316.8h1.1M60.3 292.3h1.1M89.9 303.5h1.1M166.2 287.6h1.1M154.6 278.6h1.1M44.7 318.9h1.1M133.9 278.3h1.1M169.4 341.1h1.1M56.1 284.1h1.1M38.9 312.4h1.1M122.5 305.6h1.1M155.8 288.0h1.1M203.5 275.0h1.1M152.5 276.6h1.1M157.9 293.0h1.1M178.7 312.3h1.1M180.4 311.8h1.1M112.4 298.0h1.1M198.0 286.4h1.1M159.3 279.6h1.1M49.1 295.1h1.1M200.2 298.3h1.1M89.0 289.3h1.1M167.2 303.1h1.1M79.7 277.5h1.1M99.2 290.2h1.1M134.7 287.4h1.1M83.5 279.3h1.1M156.4 293.1h1.1M138.6 315.6h1.1M135.4 285.1h1.1M67.4 302.6h1.1M183.2 305.7h1.1M103.8 307.1h1.1M39.1 317.1h1.1M85.3 297.8h1.1M124.5 286.5h1.1M77.5 279.7h1.1M118.0 250.7h1.1M187.0 291.6h1.1M63.4 286.6h1.1M133.1 276.0h1.1M111.4 303.3h1.1M149.2 297.0h1.1M109.6 302.7h1.1M143.0 292.1h1.1M135.3 285.1h1.1M51.6 301.8h1.1M139.1 279.1h1.1M70.7 295.3h1.1M142.6 278.5h1.1M124.7 299.9h1.1M188.3 303.1h1.1M123.6 300.8h1.1M187.1 309.2h1.1M93.2 296.0h1.1M108.2 299.8h1.1M131.5 281.4h1.1M140.3 336.7h1.1M130.5 283.3h1.1M88.3 283.2h1.1M91.0 301.5h1.1M113.2 298.5h1.1M93.6 277.2h1.1M118.3 304.7h1.1M62.9 302.9h1.1M131.9 262.1h1.1M167.5 295.8h1.1M53.5 256.3h1.1M70.6 301.3h1.1M136.2 304.7h1.1M188.6 278.3h1.1M187.4 302.6h1.1M78.4 310.9h1.1M89.4 283.6h1.1M46.0 316.3h1.1M198.6 270.4h1.1M200.8 305.2h1.1M207.3 293.0h1.1M84.0 297.5h1.1M135.0 312.5h1.1M86.2 288.8h1.1M140.3 325.9h1.1M149.6 316.7h1.1M104.2 298.8h1.1M63.7 281.2h1.1M95.9 284.4h1.1M63.8 286.3h1.1M186.2 296.0h1.1M205.0 286.9h1.1M136.6 289.1h1.1M39.4 321.3h1.1M46.8 303.2h1.1M91.3 310.7h1.1M101.9 278.2h1.1M55.1 302.1h1.1M149.3 321.4h1.1M137.4 311.4h1.1M182.4 315.8h1.1M178.5 285.9h1.1M180.1 283.4h1.1M189.0 291.3h1.1M74.5 276.8h1.1M88.5 298.6h1.1M167.8 302.9h1.1M51.9 295.7h1.1M122.7 266.9h1.1M197.1 303.5h1.1M97.6 307.3h1.1M136.8 297.7h1.1M163.1 301.1h1.1M206.1 317.0h1.1M137.6 300.6h1.1M98.7 294.6h1.1M182.1 291.4h1.1M140.8 294.5h1.1M116.2 291.3h1.1M172.5 277.8h1.1M196.8 301.1h1.1M70.8 292.9h1.1M97.1 296.4h1.1M53.3 290.5h1.1M201.8 288.2h1.1M142.9 288.7h1.1M151.1 287.0h1.1M197.6 301.2h1.1M52.2 315.2h1.1M155.8 305.4h1.1M174.4 311.3h1.1M184.6 272.7h1.1M106.1 295.7h1.1M173.1 299.1h1.1M158.9 293.8h1.1M45.2 316.8h1.1M203.1 295.5h1.1M61.6 292.4h1.1M107.1 283.6h1.1M135.4 283.3h1.1M81.6 309.4h1.1M139.5 292.9h1.1M103.3 275.4h1.1M124.8 298.1h1.1M134.9 290.0h1.1M76.1 295.3h1.1M105.0 291.8h1.1M149.3 292.5h1.1M75.0 302.6h1.1M76.7 281.2h1.1M188.2 297.5h1.1M109.9 289.4h1.1M89.8 280.5h1.1M108.2 257.0h1.1M151.6 294.8h1.1M83.7 262.9h1.1M118.5 325.6h1.1M43.1 306.7h1.1M68.0 284.5h1.1M151.6 293.3h1.1M172.5 282.8h1.1M49.3 277.3h1.1M130.2 275.1h1.1M56.3 288.2h1.1M108.5 308.9h1.1M201.2 294.8h1.1M163.5 293.8h1.1M157.0 277.1h1.1M145.0 287.2h1.1M163.3 268.2h1.1M126.1 295.0h1.1M111.4 286.9h1.1M97.6 272.5h1.1M63.6 308.6h1.1M208.9 289.3h1.1M54.8 264.8h1.1M108.3 295.0h1.1M168.6 292.3h1.1M86.6 296.3h1.1M119.1 303.2h1.1M192.8 308.4h1.1M150.7 283.7h1.1M167.1 294.4h1.1M137.7 277.2h1.1M145.5 312.0h1.1M39.7 307.2h1.1M135.1 283.4h1.1M159.4 315.4h1.1M178.3 331.9h1.1M85.2 334.6h1.1M72.0 284.0h1.1M102.3 289.3h1.1M114.7 297.0h1.1M195.1 275.6h1.1M193.4 300.0h1.1M204.6 276.1h1.1M93.3 303.7h1.1M145.2 283.0h1.1M147.7 282.6h1.1M138.5 291.7h1.1M135.1 301.3h1.1M80.0 265.1h1.1M151.3 286.3h1.1M197.8 312.3h1.1M200.0 319.9h1.1M55.5 287.1h1.1M132.3 299.4h1.1M139.8 298.3h1.1M150.9 288.9h1.1M146.6 315.3h1.1M120.2 295.2h1.1M193.4 299.5h1.1M86.9 290.0h1.1M86.2 313.7h1.1M82.6 288.9h1.1M208.9 290.3h1.1M81.1 293.6h1.1M97.5 299.2h1.1M78.7 292.2h1.1M57.1 274.4h1.1M99.4 308.9h1.1M54.4 288.1h1.1M194.7 281.0h1.1M137.2 286.3h1.1M165.7 298.9h1.1M79.4 309.1h1.1M204.8 272.0h1.1M83.5 290.3h1.1M68.4 287.9h1.1M91.9 289.4h1.1M100.9 284.6h1.1M161.2 297.6h1.1M182.9 287.9h1.1M155.1 326.5h1.1M80.7 285.5h1.1M63.5 304.6h1.1M113.7 287.4h1.1M178.0 239.4h1.1M171.4 293.0h1.1M113.9 281.2h1.1M44.4 301.2h1.1M194.5 290.4h1.1M166.8 307.7h1.1M182.9 302.1h1.1M203.5 294.0h1.1M206.9 288.6h1.1M133.1 296.2h1.1M42.6 308.2h1.1M47.4 313.7h1.1M112.1 290.8h1.1M208.6 302.2h1.1M157.6 265.7h1.1M48.6 319.1h1.1M185.9 276.7h1.1M122.5 282.2h1.1M44.2 304.0h1.1M197.4 311.7h1.1M79.9 298.9h1.1M143.8 296.8h1.1M58.1 292.1h1.1M53.0 291.2h1.1M171.2 280.0h1.1M120.2 281.6h1.1M144.9 288.4h1.1M54.5 282.4h1.1M49.2 257.0h1.1M113.8 286.0h1.1M111.8 265.7h1.1M185.7 299.5h1.1M143.4 290.0h1.1M160.2 301.9h1.1M174.4 292.3h1.1M116.9 249.4h1.1M108.1 297.9h1.1M47.8 309.2h1.1M105.8 287.6h1.1M64.5 291.0h1.1M133.3 288.6h1.1M147.6 284.8h1.1M174.0 299.4h1.1M57.6 288.3h1.1M73.5 290.2h1.1M105.5 302.1h1.1M204.5 280.5h1.1M195.5 307.0h1.1M139.2 314.8h1.1M176.2 289.4h1.1M89.9 289.8h1.1M208.3 299.3h1.1M100.6 303.7h1.1M49.7 290.8h1.1M152.8 300.9h1.1M190.9 283.7h1.1M186.4 272.6h1.1M104.6 292.8h1.1M193.4 309.6h1.1M161.9 301.1h1.1M100.9 289.0h1.1M181.2 292.3h1.1M97.9 284.1h1.1M119.4 282.5h1.1M81.0 297.3h1.1M65.8 279.1h1.1M106.5 285.8h1.1M66.9 268.0h1.1M130.1 309.9h1.1M119.5 291.8h1.1M204.0 291.4h1.1M83.8 295.7h1.1M208.5 299.8h1.1M116.8 310.2h1.1M85.2 252.0h1.1M119.2 285.8h1.1M79.5 298.4h1.1M92.9 276.1h1.1M205.9 280.6h1.1M135.9 324.6h1.1M89.5 286.4h1.1M96.4 303.3h1.1M194.3 299.7h1.1M108.7 299.6h1.1M103.8 281.9h1.1M69.0 289.1h1.1M178.0 319.5h1.1M147.8 300.7h1.1M127.1 312.3h1.1M136.6 296.3h1.1M163.3 301.0h1.1M61.2 298.0h1.1M79.0 306.5h1.1M207.0 294.7h1.1M141.2 283.6h1.1M106.5 304.7h1.1M65.6 274.1h1.1M173.1 289.9h1.1M58.9 309.8h1.1M154.0 285.4h1.1M45.3 313.5h1.1M54.5 266.3h1.1M112.5 270.0h1.1M203.7 317.1h1.1M73.2 293.4h1.1M201.3 299.6h1.1M161.3 307.1h1.1M71.5 287.3h1.1M63.4 311.4h1.1M170.6 300.1h1.1M182.1 293.8h1.1M71.3 321.1h1.1M191.6 276.6h1.1M196.8 304.7h1.1M161.5 304.7h1.1M105.9 306.8h1.1M136.3 290.4h1.1M69.2 300.3h1.1M92.2 300.6h1.1M131.7 278.8h1.1M201.1 289.6h1.1M178.5 300.3h1.1M147.7 282.3h1.1M171.8 280.8h1.1M129.9 277.2h1.1M62.7 295.9h1.1M119.9 283.3h1.1M114.9 311.9h1.1M117.2 296.8h1.1M168.0 292.3h1.1M86.7 305.5h1.1M201.2 282.7h1.1M56.2 268.2h1.1M41.9 313.9h1.1M78.5 278.8h1.1M142.3 302.4h1.1M119.3 284.7h1.1M113.9 268.6h1.1M93.8 279.2h1.1M187.5 324.1h1.1M199.6 293.7h1.1M81.3 292.9h1.1M167.2 288.5h1.1M151.6 313.1h1.1M192.3 272.4h1.1M98.8 286.8h1.1M54.7 308.3h1.1M58.6 284.4h1.1M48.6 275.0h1.1M194.2 302.9h1.1M199.8 300.5h1.1M120.1 290.6h1.1M71.6 312.2h1.1M40.6 299.3h1.1M150.9 288.1h1.1M203.2 306.3h1.1M93.0 315.7h1.1M71.8 304.5h1.1M41.4 339.1h1.1M166.3 288.9h1.1M90.5 275.3h1.1M184.3 297.6h1.1M94.4 302.2h1.1M114.4 316.4h1.1M151.8 294.0h1.1M47.0 306.6h1.1M115.1 295.0h1.1M138.2 296.9h1.1M119.8 288.3h1.1M194.5 279.6h1.1M117.6 271.4h1.1M47.2 319.5h1.1M95.9 286.7h1.1M118.9 308.9h1.1M84.0 300.8h1.1M209.2 295.7h1.1M172.3 298.4h1.1M76.7 295.6h1.1M63.5 285.7h1.1M67.3 273.5h1.1M148.0 301.6h1.1M54.7 295.1h1.1M158.2 275.8h1.1M135.6 293.3h1.1M115.8 292.1h1.1M166.8 317.1h1.1M93.5 284.7h1.1M114.9 320.6h1.1M165.6 287.1h1.1M178.5 296.8h1.1M47.3 307.2h1.1M184.0 293.9h1.1M143.1 273.0h1.1M162.1 289.2h1.1M51.5 296.5h1.1M188.7 301.9h1.1M118.3 306.9h1.1M142.1 293.9h1.1M136.3 306.0h1.1M112.3 296.5h1.1M166.0 289.5h1.1M181.4 302.5h1.1M154.9 301.5h1.1M205.7 290.8h1.1M136.0 287.8h1.1M81.2 289.1h1.1M171.3 302.0h1.1M115.7 298.7h1.1M59.5 228.2h1.1M121.1 302.9h1.1M110.4 289.7h1.1M123.9 315.7h1.1M72.8 289.9h1.1M117.3 298.9h1.1M106.8 290.1h1.1M178.0 313.6h1.1M208.2 326.5h1.1M195.2 291.6h1.1M124.6 287.9h1.1M169.1 246.6h1.1M140.1 298.6h1.1M50.6 277.0h1.1M163.3 299.4h1.1M52.4 287.8h1.1M136.0 284.5h1.1M115.3 307.7h1.1M157.3 295.5h1.1M183.0 327.6h1.1M64.0 288.1h1.1M85.0 297.4h1.1M179.8 286.5h1.1M120.4 297.4h1.1M171.9 294.9h1.1M81.3 298.8h1.1M188.7 299.1h1.1M178.8 295.1h1.1M177.0 306.0h1.1M79.2 295.0h1.1M138.7 289.9h1.1M104.7 309.2h1.1M57.8 285.6h1.1M165.4 306.8h1.1M89.6 285.7h1.1M158.9 287.5h1.1M131.6 299.0h1.1M75.3 302.0h1.1M184.9 305.1h1.1M144.3 262.5h1.1M120.1 313.8h1.1M199.2 280.4h1.1M156.3 290.4h1.1M87.9 265.9h1.1M48.2 325.7h1.1M100.6 278.3h1.1M149.9 300.2h1.1M74.7 271.8h1.1M196.5 307.8h1.1M137.3 283.0h1.1M59.7 295.1h1.1M182.0 304.4h1.1M96.9 289.6h1.1M76.6 292.2h1.1M54.7 284.7h1.1M42.3 303.6h1.1M71.8 275.5h1.1M184.3 312.8h1.1M204.9 301.5h1.1M52.4 278.7h1.1M132.5 308.0h1.1M105.5 294.2h1.1M87.5 324.9h1.1M161.0 278.6h1.1M99.3 317.3h1.1M77.0 303.8h1.1M154.5 338.7h1.1M132.9 293.7h1.1M98.1 287.3h1.1M72.6 277.1h1.1M50.8 304.1h1.1M39.6 330.4h1.1M44.4 297.8h1.1M55.7 302.9h1.1M86.8 301.0h1.1M101.1 302.9h1.1M154.9 273.3h1.1M185.6 304.1h1.1M131.3 285.0h1.1M80.8 290.2h1.1M73.0 285.6h1.1M104.9 290.9h1.1M93.0 316.3h1.1M166.9 288.1h1.1M190.6 296.7h1.1M188.1 284.3h1.1M39.0 329.4h1.1M172.4 287.1h1.1M81.4 258.0h1.1M174.7 308.4h1.1M98.0 279.5h1.1M146.1 268.1h1.1M169.1 304.6h1.1M159.3 303.1h1.1M173.6 285.1h1.1M48.2 309.1h1.1M99.5 287.9h1.1M149.9 282.8h1.1M173.5 286.1h1.1M130.4 297.1h1.1M125.4 291.0h1.1M155.9 299.7h1.1M190.6 279.0h1.1M50.0 298.1h1.1M193.6 295.8h1.1M141.8 301.7h1.1M155.8 303.1h1.1M203.2 295.0h1.1M111.7 289.8h1.1M94.7 289.8h1.1M102.6 280.8h1.1M62.5 288.7h1.1M74.0 282.6h1.1M124.3 310.6h1.1M162.7 297.8h1.1M182.4 305.9h1.1M120.3 295.1h1.1M158.8 296.9h1.1M137.6 302.2h1.1M65.1 289.3h1.1M194.2 306.5h1.1M39.0 314.1h1.1M161.8 307.2h1.1M129.3 299.9h1.1M155.8 287.8h1.1M135.4 309.1h1.1M174.6 261.8h1.1M121.0 292.4h1.1M86.7 282.5h1.1M120.7 280.0h1.1M119.1 303.8h1.1M74.2 289.1h1.1M193.1 283.1h1.1M172.9 277.2h1.1M209.1 306.3h1.1M65.0 283.4h1.1M138.4 299.6h1.1M190.5 312.9h1.1M207.1 325.6h1.1M157.5 266.3h1.1M124.2 289.1h1.1M73.5 278.7h1.1M181.9 293.8h1.1M69.6 258.6h1.1M123.4 303.2h1.1M197.7 255.3h1.1M134.8 297.7h1.1M146.5 322.0h1.1M116.4 302.6h1.1M201.3 269.0h1.1M103.5 319.0h1.1M126.8 274.1h1.1M80.8 299.4h1.1M58.1 281.4h1.1M172.5 285.1h1.1M58.3 313.3h1.1M127.5 275.5h1.1M149.8 293.7h1.1M137.0 291.0h1.1M71.3 302.6h1.1M185.6 293.1h1.1M105.3 274.6h1.1M197.0 278.7h1.1M189.3 277.1h1.1M84.7 287.5h1.1M94.9 283.5h1.1M118.2 286.1h1.1M75.0 290.2h1.1M76.8 286.3h1.1M99.1 320.7h1.1M115.0 281.1h1.1M136.3 308.6h1.1M74.3 304.5h1.1M48.6 303.9h1.1M203.3 323.9h1.1M192.1 287.7h1.1M80.7 287.0h1.1M42.6 324.8h1.1M207.4 306.7h1.1M99.9 258.0h1.1M184.9 286.9h1.1M91.5 297.0h1.1M101.4 288.2h1.1M114.8 290.8h1.1M48.2 307.4h1.1M88.4 281.5h1.1M61.6 260.9h1.1M119.7 281.8h1.1M187.7 304.2h1.1M138.7 293.3h1.1M123.4 299.5h1.1M172.4 292.9h1.1M41.5 319.5h1.1M209.2 292.3h1.1M191.6 292.4h1.1M92.2 289.9h1.1M188.1 291.9h1.1M42.5 320.5h1.1M135.1 268.7h1.1M136.4 289.0h1.1M114.7 255.3h1.1M92.1 324.4h1.1M127.7 293.1h1.1M138.0 311.2h1.1M189.3 298.8h1.1M59.4 276.5h1.1M103.8 280.5h1.1M158.3 292.7h1.1M115.3 296.7h1.1M100.0 283.4h1.1M54.4 295.2h1.1M152.7 300.3h1.1M66.9 311.1h1.1M168.9 301.9h1.1M178.4 268.9h1.1M99.3 300.5h1.1M131.9 296.1h1.1M198.1 295.8h1.1M92.8 286.8h1.1M197.0 300.7h1.1M181.2 316.6h1.1M44.4 297.4h1.1M108.7 292.5h1.1M82.7 302.8h1.1M176.0 284.8h1.1M150.5 303.6h1.1M186.4 297.6h1.1M184.4 295.8h1.1M176.4 302.8h1.1M158.8 292.1h1.1M98.7 303.0h1.1M62.1 275.2h1.1M71.5 303.4h1.1M59.1 293.4h1.1M164.1 299.8h1.1M66.3 249.4h1.1M166.1 290.2h1.1M44.4 326.1h1.1M56.3 283.7h1.1M56.8 286.7h1.1M49.0 290.1h1.1M199.4 300.5h1.1M156.3 295.2h1.1M73.7 280.1h1.1M52.2 267.6h1.1M86.1 314.1h1.1M98.6 277.2h1.1M140.9 283.0h1.1M43.6 300.7h1.1M151.2 295.7h1.1M173.6 284.7h1.1M80.0 304.5h1.1M122.9 269.6h1.1M66.8 292.2h1.1M137.5 319.9h1.1M83.8 312.3h1.1M91.1 299.4h1.1M164.6 274.2h1.1M166.1 311.7h1.1M43.1 302.4h1.1M197.6 290.7h1.1M164.5 272.9h1.1M61.5 298.3h1.1M42.8 317.7h1.1M119.4 309.5h1.1M199.0 302.5h1.1M98.9 282.2h1.1M140.8 295.7h1.1M165.3 311.4h1.1M176.2 309.9h1.1M71.6 279.7h1.1M86.9 302.8h1.1M165.6 286.1h1.1M189.7 324.6h1.1M184.4 293.8h1.1M181.5 296.0h1.1M61.9 312.7h1.1M148.6 280.3h1.1M144.7 314.5h1.1M138.3 291.0h1.1M126.3 316.8h1.1M94.7 289.9h1.1M85.9 312.4h1.1M189.2 292.6h1.1M118.1 303.6h1.1M173.0 284.9h1.1M93.5 306.0h1.1M145.0 305.0h1.1M50.6 284.6h1.1M206.8 295.2h1.1M186.9 287.8h1.1M86.6 289.6h1.1M197.6 271.3h1.1M69.0 277.9h1.1M116.9 306.9h1.1M105.6 289.5h1.1M54.3 298.2h1.1M180.4 242.4h1.1M122.1 273.4h1.1M93.4 293.5h1.1M201.4 307.1h1.1M87.2 252.5h1.1M185.7 301.8h1.1M53.2 291.4h1.1M96.3 308.7h1.1M45.8 313.9h1.1M82.2 279.0h1.1M109.9 285.9h1.1M91.2 297.4h1.1M150.5 300.5h1.1M73.1 295.6h1.1M105.1 290.1h1.1M182.5 321.4h1.1M46.8 345.7h1.1M61.1 277.9h1.1M41.4 304.8h1.1M133.1 309.4h1.1M69.4 284.0h1.1M161.7 318.8h1.1M144.5 314.6h1.1M88.1 295.8h1.1M81.1 302.4h1.1M127.1 267.7h1.1M161.7 292.8h1.1M153.6 265.5h1.1M133.1 299.8h1.1M158.9 289.2h1.1M154.8 273.5h1.1M151.1 280.2h1.1M179.7 298.5h1.1M105.4 295.8h1.1M119.6 301.8h1.1M60.7 299.8h1.1M166.8 289.4h1.1M187.7 285.4h1.1M124.6 297.5h1.1M171.1 287.4h1.1M178.4 308.5h1.1M103.3 295.5h1.1M131.6 287.8h1.1M151.4 293.7h1.1M138.7 296.9h1.1M184.2 301.7h1.1M191.6 313.9h1.1M59.5 313.2h1.1M67.8 285.8h1.1M51.3 291.4h1.1M174.4 292.2h1.1M46.7 336.1h1.1M184.9 310.4h1.1M76.1 296.6h1.1M54.5 312.7h1.1M58.4 274.9h1.1M119.4 324.3h1.1M158.4 283.8h1.1M62.0 283.0h1.1M190.7 298.7h1.1M135.3 309.0h1.1M112.7 288.9h1.1M119.9 293.6h1.1M140.5 311.3h1.1M169.4 305.7h1.1M141.7 295.4h1.1M141.3 293.7h1.1M174.7 299.3h1.1M155.6 312.9h1.1M51.1 287.3h1.1M63.2 265.2h1.1M176.3 267.7h1.1M104.8 302.5h1.1M186.6 284.7h1.1M195.7 298.0h1.1M193.5 285.4h1.1M76.3 291.0h1.1M93.2 296.3h1.1M173.0 281.1h1.1M175.7 269.8h1.1M152.6 328.1h1.1M144.8 278.4h1.1M68.9 285.4h1.1M109.3 300.4h1.1M119.2 320.0h1.1M118.8 296.0h1.1M48.5 316.7h1.1M86.4 304.4h1.1M192.9 286.1h1.1M160.6 278.0h1.1M44.3 305.5h1.1M168.3 299.3h1.1M203.2 287.5h1.1M195.7 311.7h1.1M80.7 294.9h1.1M157.3 296.1h1.1M101.8 284.8h1.1M47.7 336.0h1.1M53.1 304.7h1.1M47.4 299.2h1.1M76.0 291.8h1.1M100.0 299.9h1.1M47.6 301.9h1.1M168.4 305.6h1.1M155.9 290.7h1.1M146.3 254.2h1.1M156.9 284.9h1.1M128.6 321.4h1.1M51.8 273.2h1.1M59.8 293.6h1.1M50.9 290.4h1.1M176.3 308.6h1.1M68.0 289.7h1.1M179.9 297.0h1.1M139.6 280.3h1.1M48.4 310.1h1.1M192.8 290.4h1.1M116.5 281.9h1.1M129.7 291.7h1.1M204.2 273.8h1.1M173.1 295.6h1.1M153.7 292.7h1.1M126.3 331.4h1.1M75.6 294.9h1.1M75.0 299.6h1.1M183.2 295.9h1.1M51.1 276.1h1.1M155.6 287.6h1.1M172.4 303.8h1.1M147.6 306.1h1.1M92.0 305.0h1.1M62.6 293.7h1.1M105.1 317.4h1.1M42.4 313.5h1.1M98.2 287.8h1.1M143.9 293.7h1.1M145.0 297.2h1.1M98.9 292.8h1.1M209.0 312.2h1.1M139.7 305.3h1.1M93.0 298.6h1.1M200.0 293.9h1.1M156.5 288.2h1.1M136.7 283.9h1.1M76.6 289.5h1.1M73.6 296.7h1.1M147.3 282.9h1.1M121.3 303.3h1.1M172.3 319.1h1.1M149.1 285.9h1.1M194.8 327.7h1.1M126.1 312.4h1.1M168.1 304.8h1.1M97.1 288.6h1.1M115.1 295.2h1.1M77.9 288.1h1.1M192.6 296.4h1.1M170.0 282.4h1.1M187.8 287.4h1.1M77.9 292.4h1.1M83.6 291.9h1.1M148.1 278.5h1.1M155.5 302.3h1.1M46.8 307.9h1.1M88.3 289.4h1.1M120.8 314.2h1.1M145.3 256.9h1.1M125.2 301.4h1.1M64.6 284.4h1.1M54.5 282.5h1.1M77.3 297.3h1.1M127.1 294.1h1.1M174.5 296.0h1.1M198.6 296.1h1.1M119.6 293.2h1.1M158.2 303.4h1.1M82.0 293.0h1.1M191.7 307.3h1.1M51.5 292.3h1.1M133.3 288.1h1.1M152.2 301.3h1.1M58.7 275.2h1.1M104.7 299.1h1.1M42.8 298.8h1.1M143.4 301.9h1.1M151.0 276.3h1.1M107.9 290.6h1.1M87.6 297.1h1.1M162.1 280.4h1.1M205.9 287.8h1.1M151.3 292.8h1.1M107.8 276.7h1.1M180.4 338.8h1.1M110.9 273.6h1.1M166.4 282.9h1.1M91.4 261.1h1.1M153.3 304.2h1.1M113.6 288.3h1.1M188.5 285.2h1.1M153.2 291.9h1.1M159.8 287.0h1.1M144.9 299.7h1.1M104.1 287.1h1.1M197.5 287.9h1.1M114.9 277.4h1.1M76.7 294.6h1.1M79.0 298.2h1.1M203.2 296.3h1.1M145.9 305.9h1.1M78.2 287.6h1.1M195.1 309.0h1.1M48.9 311.0h1.1M88.3 281.6h1.1M188.6 294.0h1.1M143.7 309.8h1.1M201.5 296.3h1.1M59.5 287.6h1.1M166.9 305.5h1.1M92.9 317.3h1.1M124.2 297.3h1.1M149.4 282.0h1.1M204.4 257.9h1.1M155.8 301.5h1.1M98.7 300.8h1.1M86.8 303.5h1.1M43.2 325.7h1.1M161.9 303.2h1.1M106.1 284.1h1.1M123.4 287.6h1.1M41.1 323.2h1.1M195.4 243.4h1.1M144.4 301.5h1.1M164.6 308.7h1.1M105.8 297.1h1.1M120.6 311.0h1.1M64.6 300.0h1.1M199.8 313.7h1.1M180.8 286.5h1.1M140.7 289.3h1.1M131.2 301.7h1.1M190.1 300.2h1.1M127.1 296.1h1.1M159.0 283.4h1.1M64.1 300.2h1.1M181.5 278.3h1.1M182.9 281.4h1.1M156.1 292.2h1.1M192.4 312.5h1.1M78.6 290.5h1.1M207.1 289.8h1.1M181.2 311.7h1.1M138.1 298.4h1.1M50.9 282.5h1.1M91.3 300.5h1.1M175.9 272.4h1.1M152.5 292.9h1.1M197.0 344.5h1.1M42.5 272.6h1.1M52.7 275.2h1.1M186.7 306.5h1.1M112.3 280.1h1.1M164.4 299.1h1.1M184.8 288.3h1.1M142.4 301.2h1.1M120.4 285.5h1.1M60.1 292.9h1.1M144.8 283.5h1.1M126.1 314.0h1.1M104.5 305.0h1.1M145.7 262.4h1.1M187.1 292.1h1.1M195.8 288.9h1.1M146.8 285.8h1.1M67.0 303.1h1.1M91.1 324.2h1.1M129.1 285.4h1.1M113.4 303.1h1.1M77.5 286.8h1.1M130.9 284.6h1.1M137.7 288.3h1.1M75.2 281.0h1.1M77.1 300.3h1.1M195.4 291.0h1.1M198.9 289.4h1.1M199.6 304.4h1.1M208.5 272.6h1.1M194.6 313.7h1.1M198.1 289.6h1.1M72.4 290.5h1.1M120.9 286.2h1.1M174.5 294.3h1.1M101.3 273.0h1.1M166.5 288.1h1.1M46.6 306.2h1.1M159.8 292.3h1.1M135.5 268.5h1.1M181.9 288.8h1.1M208.2 297.5h1.1M43.8 309.8h1.1M128.5 293.2h1.1M89.3 296.3h1.1M122.2 291.2h1.1M110.7 314.6h1.1M75.8 280.7h1.1M192.6 266.5h1.1M63.3 291.1h1.1M86.9 274.2h1.1M68.6 283.6h1.1M52.9 286.1h1.1M195.4 270.5h1.1M58.0 309.2h1.1M197.3 301.7h1.1M119.8 296.0h1.1M154.2 291.7h1.1M109.9 300.4h1.1M198.4 306.2h1.1M103.9 309.8h1.1M67.3 285.4h1.1M137.6 301.7h1.1M183.6 295.1h1.1M72.6 267.4h1.1M203.9 293.8h1.1M187.7 306.2h1.1M192.0 276.5h1.1M172.1 299.2h1.1M201.0 293.3h1.1M173.0 284.4h1.1M112.6 336.9h1.1M169.0 305.6h1.1M103.7 297.3h1.1M142.5 285.5h1.1M186.7 304.9h1.1M43.7 310.3h1.1M56.6 273.1h1.1M142.5 302.5h1.1M67.4 284.7h1.1M171.8 314.6h1.1M99.2 274.1h1.1M198.6 290.5h1.1M54.3 319.4h1.1M159.2 291.3h1.1M149.2 319.4h1.1M195.1 261.6h1.1M122.2 298.5h1.1M50.9 289.0h1.1M197.6 286.4h1.1M182.5 288.6h1.1M161.1 309.1h1.1M89.9 295.4h1.1M66.1 300.6h1.1M192.0 339.6h1.1M101.7 292.8h1.1M76.5 291.7h1.1M83.2 280.0h1.1M87.0 287.2h1.1M98.6 273.5h1.1M102.9 290.6h1.1M106.9 292.3h1.1M66.8 297.0h1.1M125.8 290.9h1.1M194.6 279.4h1.1M184.4 309.2h1.1M158.0 291.9h1.1M91.5 296.0h1.1M154.9 299.5h1.1M44.2 315.6h1.1M185.2 287.3h1.1M73.8 241.9h1.1M53.8 279.7h1.1M45.3 314.2h1.1M154.4 308.8h1.1M190.7 275.3h1.1M174.1 300.5h1.1M110.9 300.7h1.1M66.6 251.9h1.1M103.6 289.3h1.1M170.1 256.7h1.1M191.4 288.9h1.1M108.5 293.6h1.1M67.7 311.6h1.1M93.2 290.4h1.1M152.0 281.5h1.1M171.1 271.6h1.1M158.3 300.4h1.1M53.2 296.6h1.1M90.8 291.9h1.1M197.9 259.0h1.1M171.3 262.3h1.1M60.5 277.5h1.1M133.1 305.9h1.1M172.7 296.4h1.1M154.0 266.8h1.1M53.0 295.7h1.1M147.5 291.9h1.1M184.9 298.4h1.1M134.6 289.1h1.1M117.0 295.5h1.1M204.2 298.8h1.1M146.8 314.3h1.1M201.9 291.3h1.1M178.6 288.5h1.1M189.7 286.5h1.1M124.6 312.3h1.1M115.1 294.6h1.1M84.6 310.3h1.1M71.8 283.9h1.1M160.6 303.2h1.1M164.2 303.7h1.1M51.7 311.9h1.1M115.0 291.5h1.1M46.2 303.9h1.1M112.5 301.8h1.1M203.2 285.2h1.1M183.3 291.0h1.1M114.8 289.1h1.1M155.9 291.6h1.1M136.1 288.5h1.1M204.2 260.2h1.1M79.5 282.4h1.1M44.0 327.2h1.1M88.2 309.0h1.1M170.8 286.7h1.1M123.4 284.9h1.1M145.7 310.0h1.1M169.8 295.7h1.1M107.2 294.0h1.1M72.0 298.1h1.1M68.7 294.0h1.1M114.4 320.3h1.1M61.0 275.9h1.1M47.0 317.1h1.1M149.8 278.8h1.1M147.3 306.9h1.1M79.6 268.4h1.1M147.6 295.6h1.1M141.1 298.4h1.1M50.5 273.1h1.1M127.0 299.5h1.1M135.0 288.4h1.1M184.3 285.3h1.1M209.4 281.6h1.1M113.0 289.3h1.1M66.7 280.6h1.1M165.4 298.8h1.1M51.1 291.9h1.1M186.8 301.4h1.1M155.7 319.4h1.1M203.6 309.5h1.1M60.1 298.1h1.1M144.7 294.0h1.1M191.5 313.4h1.1M93.2 303.7h1.1M108.7 293.7h1.1M137.0 315.0h1.1M129.2 298.4h1.1M59.8 299.0h1.1M144.7 296.4h1.1M98.0 286.0h1.1M199.2 277.9h1.1M55.2 277.3h1.1M152.5 298.8h1.1M135.4 281.4h1.1M198.0 299.7h1.1M181.1 293.3h1.1M67.7 295.8h1.1M40.5 327.2h1.1M103.7 299.3h1.1M120.9 317.2h1.1M141.0 285.3h1.1M52.3 287.5h1.1M150.9 313.5h1.1M67.0 273.5h1.1M184.5 288.7h1.1M146.4 299.5h1.1M160.8 286.9h1.1M132.3 253.7h1.1M172.4 285.5h1.1M116.3 239.9h1.1M159.2 270.2h1.1M66.7 305.2h1.1M182.0 282.3h1.1M72.1 305.8h1.1M39.1 314.2h1.1M160.4 292.3h1.1M153.6 305.9h1.1M136.1 295.0h1.1M195.0 278.1h1.1M116.5 304.9h1.1M197.5 284.7h1.1M143.7 291.0h1.1M174.3 288.0h1.1M161.9 299.8h1.1M71.3 266.4h1.1M177.3 262.3h1.1M71.5 278.1h1.1M193.9 325.4h1.1M163.6 306.8h1.1M55.5 297.9h1.1M204.8 290.2h1.1M62.9 270.6h1.1M174.1 278.7h1.1M116.8 279.7h1.1M198.5 276.9h1.1M157.5 321.7h1.1M149.1 291.7h1.1M176.6 286.1h1.1M145.7 292.4h1.1M50.5 274.2h1.1M203.2 294.5h1.1M82.7 289.5h1.1M200.9 286.1h1.1M175.6 289.9h1.1M61.2 304.5h1.1M96.2 276.4h1.1M111.2 294.0h1.1M161.9 292.2h1.1M116.3 335.8h1.1M92.7 288.9h1.1M196.9 298.7h1.1M106.5 305.3h1.1M150.6 289.4h1.1M130.3 279.1h1.1M153.0 299.6h1.1M125.0 257.4h1.1M53.0 303.4h1.1M51.9 287.2h1.1M39.5 309.6h1.1M72.5 286.7h1.1M103.8 289.3h1.1M164.6 305.1h1.1M105.5 285.5h1.1M83.7 328.3h1.1M149.8 279.6h1.1M139.7 284.6h1.1M99.1 307.8h1.1M185.5 280.7h1.1M85.1 304.4h1.1M75.5 314.5h1.1M70.5 268.7h1.1M95.6 287.3h1.1M188.6 255.6h1.1M127.4 279.2h1.1M70.5 294.7h1.1M53.1 273.7h1.1M45.1 310.9h1.1M76.2 289.3h1.1M88.5 292.3h1.1M137.4 282.7h1.1M114.6 294.7h1.1M76.2 280.0h1.1M122.7 300.3h1.1M139.9 284.5h1.1M105.4 310.2h1.1M190.5 263.0h1.1M189.7 279.6h1.1M120.8 291.2h1.1M139.9 348.0h1.1M57.3 277.3h1.1M120.7 291.3h1.1M85.3 283.7h1.1M71.0 284.6h1.1M186.7 301.2h1.1M194.5 278.6h1.1M100.6 319.4h1.1M120.1 276.8h1.1M147.2 294.0h1.1M138.8 297.7h1.1M183.9 285.3h1.1M160.5 321.8h1.1M106.4 280.2h1.1M103.3 295.2h1.1M96.8 289.1h1.1M184.7 295.4h1.1M42.1 299.6h1.1M96.5 276.0h1.1M133.0 274.4h1.1M197.1 292.0h1.1M43.1 323.0h1.1M85.6 287.0h1.1M170.7 306.0h1.1M113.5 298.6h1.1M126.3 288.7h1.1M80.0 279.1h1.1M121.8 276.7h1.1M192.1 305.6h1.1M126.5 291.9h1.1M118.8 290.9h1.1M97.0 300.1h1.1M44.0 320.9h1.1M48.5 324.3h1.1M87.0 293.1h1.1M67.8 292.2h1.1M141.5 284.5h1.1M189.2 311.3h1.1M72.5 294.1h1.1M190.5 314.8h1.1M78.0 305.2h1.1M130.2 302.3h1.1M89.9 298.0h1.1M156.1 315.0h1.1M143.6 305.6h1.1M80.5 311.7h1.1M103.8 292.6h1.1M163.8 301.5h1.1M43.4 319.1h1.1M113.2 291.5h1.1M202.5 283.6h1.1M102.5 272.8h1.1M114.9 313.9h1.1M170.7 289.1h1.1M84.5 300.6h1.1M144.4 320.8h1.1M93.4 303.7h1.1M202.2 298.3h1.1M45.5 326.9h1.1M39.6 325.0h1.1M190.5 298.6h1.1M192.8 297.8h1.1M82.9 289.0h1.1M191.4 328.9h1.1M103.3 296.0h1.1M148.3 282.2h1.1M148.0 311.8h1.1M67.2 287.4h1.1M141.0 287.4h1.1M183.5 298.9h1.1M172.2 264.5h1.1M144.2 278.9h1.1M130.7 287.9h1.1M208.5 273.1h1.1M147.6 292.1h1.1M134.5 311.8h1.1M185.4 271.7h1.1M78.2 282.5h1.1M146.1 294.9h1.1M85.5 284.7h1.1M202.6 295.8h1.1M132.0 265.3h1.1M97.1 296.6h1.1M103.3 290.2h1.1M164.2 306.8h1.1M181.5 295.4h1.1M157.5 299.2h1.1M89.1 298.1h1.1M134.6 305.9h1.1M86.0 281.3h1.1M106.3 310.8h1.1M194.2 315.4h1.1M80.1 269.0h1.1M83.9 285.0h1.1M204.4 298.8h1.1M97.6 295.9h1.1M199.2 285.2h1.1M109.4 281.4h1.1M137.5 287.8h1.1M195.1 295.1h1.1M168.3 299.0h1.1M118.2 280.1h1.1M204.0 302.1h1.1M137.3 295.1h1.1M115.7 306.3h1.1M56.6 283.0h1.1M149.2 302.6h1.1M93.2 295.9h1.1M171.3 312.5h1.1M182.8 281.4h1.1M155.6 286.7h1.1M200.6 312.0h1.1M190.6 281.8h1.1M208.0 276.3h1.1M153.2 282.2h1.1M75.5 294.1h1.1M104.6 308.9h1.1M207.1 301.7h1.1M206.7 251.7h1.1M157.0 286.0h1.1M74.3 310.4h1.1M73.1 317.4h1.1M183.7 287.8h1.1M181.1 298.4h1.1M82.7 295.2h1.1M167.8 302.2h1.1M101.0 293.3h1.1M190.9 281.0h1.1M44.7 324.4h1.1M118.9 318.2h1.1M185.3 329.8h1.1M83.0 286.7h1.1M198.4 285.0h1.1M189.5 286.3h1.1M191.7 313.0h1.1M166.6 296.9h1.1M96.5 278.5h1.1M199.4 307.3h1.1M47.2 307.9h1.1M161.5 324.4h1.1M84.0 303.2h1.1M174.0 320.4h1.1M122.5 305.8h1.1M105.6 297.5h1.1M197.2 287.6h1.1M196.3 285.5h1.1M202.6 287.4h1.1M90.4 289.8h1.1M166.0 287.7h1.1M53.0 281.3h1.1M182.5 288.1h1.1M89.3 300.8h1.1M117.0 314.2h1.1M117.4 305.5h1.1M185.8 331.8h1.1M71.6 273.9h1.1M39.2 295.0h1.1M49.3 290.4h1.1M68.6 294.0h1.1M67.9 283.6h1.1M175.4 277.8h1.1M118.7 285.9h1.1M163.1 288.6h1.1M121.5 296.6h1.1M57.8 304.5h1.1M112.5 280.7h1.1M60.2 306.7h1.1M129.9 296.5h1.1M156.8 311.8h1.1M102.5 312.0h1.1M160.1 281.0h1.1M112.7 295.1h1.1M113.0 305.0h1.1M180.3 308.2h1.1M152.2 270.9h1.1M186.5 296.7h1.1M142.3 279.0h1.1M168.8 281.5h1.1M115.7 276.8h1.1M61.4 310.3h1.1M169.5 317.8h1.1M97.7 250.2h1.1M77.8 295.6h1.1M166.9 304.3h1.1M117.8 269.2h1.1M73.7 303.3h1.1M86.5 237.9h1.1M182.6 275.8h1.1M178.0 297.4h1.1M55.8 302.4h1.1M142.0 299.5h1.1M149.4 300.4h1.1M54.8 336.5h1.1M139.6 285.7h1.1M207.8 301.0h1.1M100.3 296.6h1.1M83.7 300.3h1.1M98.8 301.2h1.1M138.7 307.9h1.1M149.2 340.1h1.1M136.7 288.2h1.1M191.2 308.7h1.1M192.1 278.9h1.1M147.0 289.1h1.1M154.9 290.2h1.1M172.6 301.4h1.1M114.5 277.7h1.1M164.8 286.0h1.1M192.4 307.0h1.1M95.2 298.5h1.1M169.7 291.0h1.1M164.6 286.1h1.1M171.1 267.2h1.1M207.5 269.2h1.1M108.5 277.4h1.1M78.8 281.4h1.1M148.9 289.2h1.1M170.1 298.9h1.1M73.6 334.7h1.1M99.7 304.1h1.1M94.0 300.3h1.1M112.7 343.5h1.1M100.1 317.3h1.1M206.3 281.0h1.1M55.3 291.3h1.1M41.7 306.0h1.1M142.9 299.6h1.1M70.4 280.0h1.1M171.0 283.0h1.1M60.1 291.5h1.1M83.5 316.1h1.1M42.5 329.7h1.1M130.6 295.3h1.1M76.2 280.0h1.1M44.0 316.4h1.1M66.4 296.9h1.1M74.0 268.0h1.1M132.1 317.4h1.1M143.3 282.8h1.1M202.3 288.7h1.1M163.9 289.6h1.1M110.1 302.7h1.1M145.3 271.4h1.1M41.5 317.7h1.1M40.6 333.8h1.1M58.6 285.4h1.1M131.0 285.2h1.1M76.2 284.4h1.1M66.6 270.9h1.1M71.5 284.5h1.1M47.8 318.2h1.1M46.0 324.2h1.1M114.2 289.6h1.1M48.0 306.0h1.1M76.0 277.4h1.1M170.4 294.0h1.1M169.5 295.9h1.1M120.8 292.9h1.1M201.4 277.2h1.1M157.7 277.3h1.1M116.6 274.4h1.1M167.8 277.7h1.1M176.6 303.2h1.1M106.8 273.7h1.1M75.5 290.5h1.1M106.9 309.2h1.1M106.2 284.1h1.1M200.2 304.5h1.1M155.4 309.1h1.1M136.5 289.0h1.1M53.2 291.2h1.1M74.6 305.0h1.1M63.6 287.1h1.1M122.5 296.4h1.1M116.8 332.3h1.1M125.3 269.6h1.1M43.8 328.7h1.1M50.5 286.1h1.1M155.3 284.5h1.1M177.8 295.6h1.1M180.3 291.2h1.1M156.2 280.8h1.1M101.8 264.6h1.1M191.7 301.2h1.1M97.2 271.2h1.1M123.2 292.6h1.1M123.1 282.1h1.1M39.7 310.2h1.1M140.7 288.0h1.1M186.2 310.8h1.1M142.8 277.6h1.1M108.1 282.8h1.1M170.1 261.7h1.1M157.1 303.4h1.1M121.4 308.5h1.1M200.7 307.9h1.1M55.8 289.7h1.1M84.3 286.1h1.1M71.9 265.6h1.1M76.4 284.4h1.1M101.0 286.2h1.1M114.6 294.8h1.1M45.9 288.3h1.1M149.0 273.5h1.1M140.4 297.9h1.1M178.3 282.3h1.1M129.4 304.2h1.1M61.2 290.8h1.1M110.8 291.6h1.1M157.6 313.1h1.1M169.1 292.0h1.1M158.1 290.1h1.1M207.6 294.2h1.1M187.8 293.7h1.1M149.5 284.9h1.1M155.7 322.6h1.1M72.1 291.0h1.1M203.2 276.6h1.1M155.9 310.9h1.1M95.2 282.2h1.1M148.2 277.8h1.1M54.8 274.6h1.1M41.0 334.7h1.1M65.5 283.4h1.1M147.9 285.6h1.1M169.3 287.1h1.1M48.5 317.2h1.1M48.4 327.0h1.1M82.1 292.0h1.1M177.4 299.4h1.1M83.4 287.0h1.1M180.7 287.7h1.1M130.0 298.6h1.1M160.6 287.7h1.1M180.3 296.8h1.1M45.5 321.7h1.1M66.1 276.1h1.1M61.5 299.2h1.1M175.3 292.0h1.1M95.5 299.3h1.1M97.2 307.8h1.1M179.9 290.3h1.1M100.3 307.1h1.1M117.5 309.9h1.1M60.0 288.7h1.1M196.6 308.6h1.1M45.5 306.1h1.1M87.8 294.4h1.1M147.1 286.3h1.1M97.6 280.4h1.1M155.3 304.7h1.1M77.1 276.1h1.1M94.7 260.5h1.1M91.0 285.6h1.1M93.0 295.5h1.1M68.2 287.6h1.1M46.5 293.0h1.1M166.8 274.7h1.1M109.5 224.3h1.1M46.1 299.9h1.1M188.1 301.3h1.1M122.4 277.3h1.1M168.6 306.2h1.1M57.3 277.4h1.1M80.9 285.9h1.1M188.4 282.7h1.1M180.8 268.6h1.1M124.9 294.6h1.1M39.8 303.8h1.1M72.9 286.3h1.1M193.5 289.6h1.1M201.0 303.4h1.1M129.5 293.2h1.1M40.9 323.9h1.1M73.2 324.3h1.1M54.8 284.3h1.1M107.0 297.6h1.1M174.2 318.6h1.1M55.0 288.7h1.1M201.5 324.9h1.1M172.8 316.4h1.1M191.7 297.9h1.1M198.1 276.8h1.1M90.1 284.1h1.1M89.6 280.7h1.1M129.6 309.8h1.1M55.2 264.7h1.1M200.7 328.7h1.1M92.0 306.6h1.1M105.5 284.3h1.1M98.6 299.0h1.1M170.9 320.1h1.1M137.1 268.5h1.1M65.4 291.2h1.1M171.0 316.2h1.1M189.1 312.1h1.1M41.8 339.0h1.1M58.6 294.2h1.1M77.0 280.7h1.1M88.2 284.3h1.1M153.2 280.6h1.1M66.4 257.1h1.1M130.1 294.9h1.1M152.4 281.6h1.1M78.9 258.7h1.1M112.1 304.7h1.1M114.5 286.5h1.1M107.4 310.5h1.1M66.9 291.9h1.1M101.2 297.2h1.1M118.9 304.7h1.1M78.2 290.1h1.1M45.1 331.6h1.1M57.2 299.2h1.1M190.5 293.2h1.1M203.5 303.0h1.1M46.8 324.6h1.1M52.7 298.5h1.1M144.5 292.9h1.1M207.2 302.3h1.1M186.4 300.1h1.1M92.3 289.9h1.1M104.5 294.8h1.1M195.2 299.7h1.1M115.9 290.6h1.1M42.3 319.6h1.1M176.3 280.0h1.1M186.3 289.3h1.1M172.1 292.4h1.1M42.0 309.8h1.1M124.6 279.8h1.1M83.1 284.6h1.1M176.3 274.1h1.1M99.1 333.1h1.1M198.4 286.5h1.1M190.3 317.1h1.1M56.0 309.9h1.1M147.2 293.6h1.1M74.2 294.0h1.1M207.0 296.1h1.1M76.8 275.4h1.1M72.3 296.1h1.1M206.3 304.8h1.1M87.5 289.4h1.1M81.1 294.6h1.1M70.9 281.5h1.1M206.4 280.4h1.1M140.0 293.0h1.1M203.4 310.0h1.1M127.5 279.9h1.1M157.1 274.6h1.1M77.5 288.9h1.1M56.4 278.3h1.1M68.7 299.7h1.1M43.4 336.1h1.1M172.6 301.7h1.1M77.3 300.4h1.1M112.5 302.9h1.1M177.3 283.9h1.1M60.5 305.2h1.1M96.2 292.4h1.1M134.0 297.4h1.1M133.5 321.6h1.1M57.1 294.4h1.1M148.2 299.8h1.1M100.9 283.6h1.1M99.7 302.2h1.1M39.2 313.7h1.1M142.7 298.0h1.1M53.8 303.4h1.1M71.6 308.9h1.1M208.5 299.0h1.1M67.0 280.9h1.1M78.2 276.5h1.1M97.5 286.5h1.1M189.7 298.5h1.1M177.7 302.5h1.1M209.0 296.5h1.1M179.7 298.7h1.1M192.2 300.1h1.1M192.1 293.0h1.1M206.6 278.5h1.1M168.1 294.9h1.1M176.4 281.5h1.1M127.7 276.2h1.1M202.8 282.4h1.1M89.7 298.0h1.1M176.1 293.3h1.1M40.2 302.7h1.1M88.1 306.8h1.1M153.0 316.6h1.1M128.8 301.1h1.1M80.8 308.1h1.1M143.5 318.4h1.1M183.6 272.7h1.1M141.7 293.1h1.1M79.4 277.7h1.1M91.2 262.9h1.1M98.8 308.9h1.1M117.3 293.4h1.1M178.9 253.1h1.1M125.7 282.7h1.1M86.1 307.4h1.1M78.9 293.8h1.1M124.2 297.1h1.1M60.0 305.5h1.1M68.7 295.9h1.1M72.6 286.4h1.1M130.7 286.7h1.1M114.5 282.2h1.1M179.0 325.1h1.1M49.0 306.6h1.1M162.2 291.7h1.1M84.1 307.5h1.1M179.3 305.2h1.1M117.5 305.6h1.1M190.5 317.9h1.1M126.3 290.6h1.1M45.5 300.7h1.1M136.1 299.0h1.1M187.4 300.1h1.1M87.7 295.5h1.1M46.9 315.9h1.1M89.8 288.7h1.1M195.1 303.2h1.1M75.9 291.3h1.1M140.5 262.6h1.1M126.4 275.8h1.1M163.2 307.6h1.1M147.3 298.2h1.1M59.1 290.6h1.1M40.9 307.4h1.1M101.4 284.6h1.1M58.3 278.0h1.1M172.6 299.0h1.1M169.7 293.2h1.1M142.1 308.6h1.1M68.8 290.9h1.1M197.0 295.7h1.1M125.6 281.7h1.1M127.9 299.8h1.1M149.8 292.3h1.1M57.0 288.8h1.1M68.1 300.1h1.1M107.1 307.2h1.1M97.1 305.4h1.1M45.3 305.9h1.1M73.5 288.2h1.1M104.1 292.0h1.1M147.9 273.1h1.1M41.7 297.5h1.1M53.7 248.5h1.1M98.2 301.4h1.1M171.8 305.8h1.1M84.2 308.4h1.1M137.9 291.7h1.1M81.7 319.8h1.1M41.9 303.6h1.1M197.3 292.1h1.1M86.6 301.6h1.1M120.0 283.5h1.1M69.3 275.9h1.1M81.2 298.1h1.1M89.2 293.4h1.1M188.1 284.6h1.1M175.2 296.7h1.1M178.6 299.1h1.1M107.2 302.1h1.1M107.4 298.5h1.1M83.1 287.3h1.1M150.2 299.3h1.1M69.7 285.7h1.1M203.0 253.1h1.1M112.6 295.3h1.1M139.9 290.3h1.1M121.8 295.4h1.1M52.7 300.0h1.1M72.5 299.4h1.1M204.6 294.3h1.1M73.9 282.6h1.1M128.8 328.6h1.1M150.8 297.4h1.1M60.2 290.6h1.1M173.5 306.8h1.1M75.5 290.4h1.1M190.3 292.7h1.1M59.1 314.7h1.1M197.4 293.8h1.1M109.8 268.6h1.1M138.4 297.3h1.1M96.4 300.0h1.1M201.9 282.8h1.1M90.4 282.0h1.1M95.8 293.6h1.1M124.4 287.1h1.1M160.4 257.7h1.1M114.6 293.2h1.1M202.6 269.9h1.1M201.4 311.1h1.1M108.0 287.9h1.1M62.9 291.3h1.1M103.2 290.1h1.1M180.2 295.8h1.1M180.1 293.6h1.1M139.4 286.8h1.1M104.4 286.7h1.1M47.8 312.6h1.1M95.0 302.8h1.1M120.2 286.7h1.1M178.0 268.6h1.1M109.5 304.3h1.1M206.2 285.5h1.1M134.6 294.6h1.1M74.5 281.7h1.1M84.4 278.5h1.1M131.3 296.8h1.1M162.8 315.7h1.1M159.3 290.3h1.1M177.9 299.8h1.1M189.1 264.3h1.1M161.5 301.6h1.1M134.1 287.8h1.1M106.9 294.3h1.1M91.2 294.2h1.1M202.9 300.9h1.1M153.4 298.6h1.1M187.4 303.1h1.1M193.4 296.5h1.1M91.9 302.4h1.1M99.7 301.0h1.1M59.7 294.8h1.1M162.4 308.1h1.1M64.5 269.4h1.1M165.2 279.5h1.1M141.6 287.2h1.1M47.3 312.0h1.1M187.9 281.3h1.1M119.7 282.9h1.1M44.8 320.2h1.1M88.6 283.9h1.1M46.8 317.9h1.1M121.2 303.3h1.1M174.6 287.5h1.1M202.0 306.5h1.1M133.2 257.8h1.1M169.7 299.5h1.1M157.7 281.1h1.1M41.7 331.4h1.1M142.2 309.0h1.1M45.9 339.9h1.1M165.7 280.0h1.1M164.2 279.2h1.1M195.6 298.1h1.1M116.0 303.5h1.1M134.9 297.2h1.1M40.4 318.0h1.1M55.9 297.8h1.1M120.2 305.0h1.1M46.8 318.0h1.1M172.6 259.0h1.1M53.3 289.2h1.1M84.0 321.7h1.1M75.9 292.0h1.1M139.9 277.8h1.1M147.6 286.6h1.1M161.2 295.7h1.1M108.4 298.2h1.1M106.4 291.3h1.1M137.5 314.2h1.1M94.2 285.6h1.1M51.9 281.6h1.1M148.5 277.4h1.1M170.1 270.9h1.1M167.4 290.0h1.1M204.5 300.8h1.1M66.3 285.6h1.1M164.6 271.0h1.1M110.8 290.2h1.1M156.8 278.8h1.1M134.2 306.1h1.1M61.9 276.3h1.1M180.5 299.9h1.1M80.2 271.2h1.1M94.0 316.0h1.1M44.4 346.7h1.1M63.3 282.8h1.1M105.5 294.4h1.1M92.4 270.3h1.1M156.9 308.1h1.1M70.3 288.8h1.1M132.1 290.4h1.1M98.5 293.3h1.1M43.2 301.5h1.1M61.1 273.0h1.1M67.7 273.1h1.1M45.6 307.2h1.1M160.8 299.5h1.1M69.9 288.4h1.1M189.9 304.9h1.1M183.4 271.5h1.1M182.7 282.7h1.1M126.9 307.8h1.1M99.5 290.2h1.1M92.8 291.9h1.1M179.0 298.4h1.1M174.5 290.8h1.1M90.8 301.7h1.1M55.5 296.8h1.1M194.4 289.0h1.1M40.2 301.9h1.1M48.3 332.8h1.1M207.5 296.9h1.1M149.9 308.1h1.1M147.4 305.9h1.1M73.4 279.9h1.1M126.9 291.9h1.1M191.5 297.6h1.1M120.5 301.4h1.1M119.9 275.9h1.1M175.3 288.9h1.1M100.8 303.9h1.1M91.9 291.2h1.1M41.1 319.5h1.1M103.8 284.0h1.1M196.5 286.8h1.1M141.9 301.8h1.1M76.6 301.4h1.1M53.0 295.8h1.1M156.5 287.0h1.1M175.9 298.9h1.1M71.0 290.4h1.1M47.0 297.0h1.1M112.8 290.2h1.1M202.7 289.7h1.1M183.7 299.0h1.1M185.0 302.3h1.1M179.4 294.3h1.1M77.5 284.2h1.1M102.9 302.0h1.1M132.8 319.9h1.1M44.7 284.3h1.1M165.1 301.0h1.1M43.0 308.2h1.1M195.1 285.7h1.1M152.3 291.5h1.1M100.5 320.5h1.1M120.4 306.0h1.1M90.2 284.1h1.1M150.3 282.0h1.1M127.6 293.6h1.1M153.6 293.1h1.1M188.0 300.1h1.1M169.5 287.1h1.1M194.4 300.4h1.1M117.0 294.5h1.1M179.8 318.1h1.1M150.8 323.1h1.1M177.9 333.5h1.1M194.7 291.8h1.1M203.3 313.7h1.1M87.2 317.8h1.1M182.4 291.3h1.1M58.6 287.7h1.1M42.6 301.6h1.1M59.9 292.5h1.1M193.1 325.6h1.1M139.2 289.1h1.1M43.3 318.5h1.1M136.1 302.1h1.1M68.6 282.5h1.1M93.0 279.8h1.1M188.6 298.7h1.1M155.7 296.3h1.1M112.5 267.9h1.1M147.5 311.9h1.1M157.1 266.9h1.1M74.7 288.4h1.1M206.0 282.5h1.1M163.6 289.5h1.1M184.0 294.5h1.1M73.3 312.3h1.1M195.8 297.5h1.1M90.9 276.3h1.1M141.9 288.3h1.1M204.0 293.2h1.1M102.4 299.2h1.1M110.2 299.0h1.1M145.5 294.7h1.1M187.8 285.7h1.1M74.6 277.8h1.1M58.0 290.5h1.1M193.3 284.9h1.1M183.4 301.1h1.1M188.8 286.9h1.1M98.8 285.9h1.1M197.0 320.3h1.1M144.2 272.9h1.1M138.3 296.6h1.1M198.5 308.0h1.1M87.2 282.2h1.1M121.6 311.3h1.1M130.3 279.7h1.1M59.0 298.1h1.1M89.5 291.9h1.1M141.1 269.8h1.1M125.2 295.5h1.1M147.3 290.9h1.1M53.7 256.2h1.1M151.1 293.6h1.1M94.5 277.7h1.1M130.7 305.2h1.1M164.0 304.6h1.1M125.1 307.2h1.1M177.1 280.5h1.1M192.7 271.1h1.1M83.5 328.2h1.1M109.2 282.9h1.1M125.8 281.4h1.1M82.7 304.3h1.1M84.5 256.5h1.1M184.9 290.5h1.1M185.0 309.7h1.1M156.1 287.8h1.1M63.1 276.1h1.1M185.6 294.3h1.1M196.3 292.8h1.1M100.6 304.9h1.1M84.7 284.0h1.1M124.3 293.8h1.1M46.9 323.9h1.1M201.7 257.4h1.1M66.8 271.3h1.1M158.4 295.6h1.1M81.4 301.2h1.1M205.6 290.7h1.1M157.0 306.9h1.1M194.1 309.6h1.1M205.0 282.2h1.1M162.5 304.6h1.1M102.7 312.1h1.1M78.9 296.4h1.1M156.7 294.7h1.1M152.5 298.5h1.1M118.2 293.3h1.1M137.8 299.5h1.1M52.8 288.7h1.1M89.6 286.0h1.1M189.7 296.3h1.1M135.8 299.0h1.1M58.8 279.6h1.1M56.8 291.4h1.1M167.9 308.2h1.1M61.6 290.9h1.1M135.9 281.6h1.1M180.0 314.9h1.1M133.0 294.4h1.1M60.5 272.6h1.1M193.0 305.8h1.1M67.1 275.9h1.1M159.0 293.4h1.1M72.8 288.0h1.1M111.6 335.9h1.1M39.5 312.8h1.1M165.1 302.5h1.1M181.3 284.2h1.1M147.3 300.7h1.1M173.8 278.5h1.1M190.3 290.9h1.1M57.2 292.9h1.1M175.7 285.5h1.1M160.4 280.3h1.1M97.6 299.1h1.1M144.4 276.8h1.1M191.3 288.7h1.1M62.9 278.7h1.1M168.6 288.3h1.1M88.6 266.4h1.1M72.5 277.2h1.1M61.4 304.9h1.1M203.9 279.8h1.1M82.4 284.8h1.1M162.9 277.0h1.1M117.1 302.1h1.1M61.4 301.1h1.1M67.0 272.8h1.1M151.4 300.6h1.1M196.3 301.5h1.1M164.8 290.8h1.1M63.8 291.2h1.1M76.1 290.8h1.1M160.1 317.9h1.1M92.5 314.7h1.1M117.6 292.8h1.1M198.6 287.6h1.1M207.6 283.9h1.1M187.5 286.1h1.1M189.5 278.3h1.1M133.1 302.7h1.1M40.0 340.9h1.1M103.0 302.9h1.1M188.1 296.5h1.1M199.7 293.8h1.1M203.0 277.8h1.1M69.4 314.3h1.1M142.2 300.6h1.1M57.2 323.6h1.1M169.0 292.0h1.1M192.4 309.1h1.1M79.0 288.5h1.1M43.9 314.7h1.1M81.0 305.4h1.1M166.1 267.3h1.1M114.3 297.3h1.1M156.9 298.3h1.1M81.4 259.6h1.1M195.6 305.5h1.1M68.5 309.0h1.1M76.6 316.7h1.1M175.3 292.1h1.1M86.1 282.4h1.1M140.4 262.4h1.1M69.2 280.3h1.1M149.2 273.5h1.1M149.0 286.4h1.1M55.0 299.4h1.1M159.0 290.7h1.1M62.0 290.1h1.1M45.1 323.4h1.1M54.8 283.7h1.1M96.3 302.2h1.1M105.9 299.9h1.1M200.2 296.7h1.1M86.6 313.8h1.1M48.7 284.9h1.1M87.2 292.9h1.1M149.2 299.4h1.1M207.2 294.7h1.1M44.3 317.7h1.1M139.1 308.7h1.1M187.8 287.1h1.1M75.2 286.1h1.1M201.8 292.9h1.1M117.7 286.7h1.1M92.2 273.5h1.1M149.2 310.5h1.1M198.6 301.1h1.1M197.4 288.4h1.1M183.4 294.4h1.1M204.7 256.4h1.1M164.7 307.2h1.1M63.9 295.2h1.1M171.3 251.2h1.1M139.6 291.2h1.1M74.8 292.9h1.1M46.2 314.5h1.1M159.1 283.5h1.1M162.7 308.5h1.1M78.3 304.5h1.1M200.2 310.7h1.1M102.1 285.4h1.1M66.5 266.3h1.1M126.7 293.3h1.1M54.3 318.4h1.1M157.8 279.4h1.1M192.1 318.8h1.1M51.9 281.9h1.1M74.9 268.8h1.1M85.8 292.3h1.1M186.4 305.9h1.1M56.8 290.1h1.1M164.3 282.3h1.1M171.7 300.8h1.1M100.2 260.3h1.1M44.8 304.1h1.1M173.6 272.0h1.1M82.6 290.2h1.1M158.4 293.4h1.1M203.1 304.1h1.1M183.7 290.5h1.1M127.7 299.6h1.1M195.9 324.5h1.1M113.1 333.6h1.1M94.4 284.5h1.1M77.6 293.6h1.1M51.3 278.4h1.1M145.3 280.6h1.1M191.7 260.4h1.1M176.4 294.0h1.1M162.1 304.3h1.1M137.7 289.5h1.1M71.0 284.0h1.1M178.1 280.1h1.1M49.0 302.8h1.1M66.3 294.4h1.1M199.8 298.3h1.1M117.1 288.9h1.1M180.0 272.9h1.1M155.7 308.5h1.1M99.8 286.1h1.1M160.4 296.3h1.1M203.0 303.8h1.1M97.9 275.3h1.1M105.4 293.0h1.1M202.0 325.6h1.1M45.0 307.1h1.1M183.5 289.3h1.1M66.8 279.0h1.1M39.8 317.3h1.1M46.5 309.2h1.1M207.0 284.0h1.1M187.3 281.0h1.1M130.5 287.4h1.1M83.5 278.0h1.1M145.6 296.1h1.1M171.8 295.6h1.1M137.0 283.2h1.1M98.5 287.3h1.1M204.0 299.2h1.1M174.5 294.3h1.1M67.2 278.2h1.1M66.5 286.1h1.1M93.2 305.6h1.1M79.5 301.7h1.1M124.1 303.8h1.1M154.7 285.7h1.1M51.9 282.2h1.1M188.7 284.5h1.1M88.4 274.7h1.1M153.2 275.7h1.1M126.5 273.2h1.1M187.0 269.9h1.1M180.4 278.7h1.1M125.2 244.8h1.1M46.1 308.5h1.1M175.0 296.1h1.1M85.2 297.4h1.1M53.9 263.5h1.1M206.7 329.1h1.1M125.4 329.9h1.1M114.5 322.7h1.1M52.1 293.3h1.1M93.6 294.2h1.1M60.4 302.0h1.1M208.1 314.3h1.1M101.0 281.5h1.1M47.5 341.6h1.1M111.9 308.2h1.1M173.1 314.4h1.1M196.0 306.0h1.1M140.3 322.3h1.1M87.6 279.2h1.1M164.7 243.5h1.1M171.4 292.7h1.1M172.3 298.5h1.1M73.8 289.6h1.1M77.2 300.5h1.1M132.8 304.6h1.1M71.0 281.9h1.1M83.1 320.8h1.1M207.4 299.8h1.1M105.5 281.0h1.1M107.4 306.8h1.1M127.4 276.3h1.1M109.9 291.7h1.1M183.3 289.2h1.1M78.8 286.5h1.1M139.0 290.8h1.1M148.5 285.2h1.1M134.2 305.1h1.1M74.1 298.0h1.1M42.3 312.7h1.1M45.5 310.4h1.1M142.2 297.2h1.1M44.8 330.6h1.1M40.8 311.4h1.1M167.7 296.6h1.1M152.9 286.2h1.1M194.0 311.3h1.1M150.2 296.8h1.1M95.3 305.1h1.1M42.2 309.3h1.1M56.7 268.0h1.1M192.5 298.6h1.1M112.2 259.0h1.1M48.9 319.9h1.1M40.6 327.3h1.1M171.9 327.2h1.1M194.1 287.2h1.1M121.7 306.1h1.1M131.8 287.4h1.1M158.2 297.5h1.1M159.0 314.5h1.1M141.6 288.7h1.1M209.0 291.1h1.1M67.5 304.4h1.1M144.1 238.2h1.1M103.9 304.5h1.1M184.7 289.6h1.1M74.6 297.9h1.1M80.0 292.6h1.1M115.6 312.6h1.1M190.2 288.0h1.1M188.8 312.0h1.1M138.2 288.7h1.1M137.1 292.4h1.1M42.6 294.3h1.1M174.8 283.2h1.1M196.5 307.5h1.1M68.4 301.5h1.1M165.0 300.1h1.1M151.2 285.2h1.1M182.4 295.5h1.1M117.2 289.4h1.1M127.1 306.3h1.1M151.5 287.5h1.1M93.5 299.3h1.1M167.5 292.2h1.1M96.2 285.9h1.1M80.4 292.2h1.1M50.0 301.1h1.1M144.3 293.0h1.1M190.2 305.1h1.1M208.9 281.2h1.1M57.0 286.7h1.1M185.3 292.0h1.1M110.3 277.7h1.1M128.7 292.6h1.1M149.9 295.3h1.1M79.6 297.7h1.1M101.8 291.1h1.1M172.3 281.0h1.1M136.2 264.7h1.1M74.7 293.1h1.1M145.5 302.4h1.1M132.0 307.9h1.1M95.3 296.8h1.1M94.4 301.2h1.1M117.2 303.8h1.1M141.8 281.8h1.1M103.2 283.7h1.1M104.4 295.5h1.1M53.1 300.4h1.1M61.6 296.6h1.1M45.7 286.2h1.1M145.5 311.8h1.1M133.9 306.8h1.1M184.0 277.2h1.1M72.8 301.3h1.1M90.9 286.9h1.1M180.2 292.9h1.1M62.9 278.9h1.1M138.2 318.2h1.1M66.7 292.4h1.1M62.2 306.0h1.1M191.2 279.9h1.1M137.9 281.7h1.1M67.2 290.3h1.1M71.5 293.3h1.1M188.0 279.9h1.1M146.0 298.9h1.1M41.6 348.2h1.1M166.3 242.3h1.1M131.0 318.3h1.1M113.1 320.8h1.1M48.1 320.2h1.1M100.9 308.6h1.1M120.2 282.4h1.1M159.8 292.0h1.1M159.1 295.1h1.1M161.8 302.1h1.1M107.4 301.3h1.1M50.4 295.3h1.1M187.6 284.2h1.1M134.1 305.2h1.1M162.5 305.2h1.1M122.0 304.5h1.1M82.7 260.5h1.1M182.9 285.5h1.1M93.9 280.0h1.1M199.5 281.7h1.1M53.4 296.7h1.1M185.0 280.7h1.1M134.5 302.0h1.1M44.4 291.5h1.1M133.6 292.9h1.1M124.8 301.5h1.1M203.3 293.8h1.1M179.6 279.6h1.1M149.6 296.6h1.1M41.2 304.4h1.1M161.3 277.3h1.1M153.9 292.0h1.1M139.6 293.7h1.1M206.1 320.0h1.1M91.7 282.3h1.1M123.9 309.3h1.1M79.4 279.7h1.1M74.8 302.0h1.1M162.5 296.1h1.1M42.4 326.8h1.1M205.9 287.9h1.1M83.4 314.7h1.1M80.3 294.8h1.1M53.0 292.3h1.1M115.3 304.5h1.1M119.1 286.2h1.1M172.0 297.0h1.1M119.3 287.1h1.1M178.5 284.2h1.1M159.7 290.1h1.1M120.2 249.7h1.1M148.2 309.0h1.1M141.5 281.4h1.1M166.6 303.4h1.1M55.0 263.2h1.1M155.7 284.9h1.1M42.8 289.2h1.1M145.8 300.4h1.1M87.9 299.2h1.1M106.4 299.5h1.1M50.4 284.2h1.1M158.8 286.9h1.1M99.0 277.3h1.1M121.8 309.4h1.1M153.9 304.8h1.1M205.2 282.1h1.1M112.7 292.2h1.1M195.1 299.4h1.1M192.7 290.9h1.1M158.6 299.8h1.1M172.7 299.1h1.1M169.9 282.3h1.1M197.7 299.3h1.1M196.3 297.7h1.1M60.3 290.5h1.1M155.5 297.0h1.1M55.4 272.7h1.1M47.9 305.1h1.1M51.2 282.6h1.1M170.0 309.9h1.1M199.4 270.1h1.1M43.3 314.0h1.1M192.1 283.5h1.1M112.8 256.1h1.1M164.6 289.8h1.1M64.8 297.8h1.1M46.3 313.4h1.1M151.2 283.8h1.1M77.0 324.3h1.1M72.1 273.2h1.1M52.0 304.6h1.1M174.8 314.4h1.1M174.7 281.1h1.1M140.5 288.5h1.1M90.0 298.5h1.1M196.7 285.7h1.1M98.2 335.3h1.1M184.7 283.6h1.1M120.5 293.1h1.1M107.1 288.7h1.1M58.1 271.8h1.1M75.3 258.4h1.1M116.5 278.3h1.1M109.6 303.2h1.1M157.1 298.5h1.1M109.5 281.9h1.1M168.1 268.6h1.1M140.1 309.1h1.1M56.4 293.6h1.1M165.6 300.8h1.1M52.1 289.2h1.1M111.6 289.3h1.1M100.7 294.6h1.1M198.7 286.7h1.1M176.5 306.8h1.1M179.4 279.5h1.1M91.6 293.1h1.1M62.6 296.7h1.1M96.6 285.1h1.1M202.4 277.0h1.1M43.0 307.2h1.1M104.8 275.3h1.1M153.8 312.5h1.1M87.1 281.8h1.1M122.3 277.7h1.1M61.5 294.8h1.1M154.8 267.5h1.1M42.9 308.3h1.1M185.0 280.8h1.1M53.2 296.9h1.1M161.9 258.5h1.1M84.6 306.8h1.1M84.4 286.5h1.1M208.0 308.1h1.1M134.5 294.1h1.1M175.0 288.1h1.1M80.8 296.4h1.1M144.6 296.9h1.1M190.3 306.3h1.1M53.7 311.0h1.1M180.8 275.5h1.1M85.5 341.6h1.1M165.4 307.5h1.1M76.1 303.9h1.1M137.9 282.9h1.1M116.8 286.4h1.1M131.1 284.1h1.1M188.4 301.4h1.1M55.2 269.4h1.1M180.9 313.8h1.1M73.4 299.0h1.1M104.1 308.1h1.1M177.5 308.4h1.1M145.3 288.9h1.1M127.0 292.4h1.1M196.8 293.1h1.1M209.2 310.6h1.1M192.1 287.4h1.1M83.1 310.2h1.1M141.7 273.1h1.1M77.0 298.2h1.1M157.2 287.8h1.1M52.8 258.4h1.1M74.5 263.7h1.1M65.7 282.4h1.1M64.0 297.2h1.1M200.8 272.5h1.1M78.6 301.3h1.1M72.7 284.4h1.1M167.5 288.2h1.1M42.8 319.4h1.1M177.5 305.4h1.1M187.6 295.6h1.1M40.6 320.5h1.1M61.3 277.8h1.1M147.1 283.7h1.1M87.7 302.0h1.1M102.5 296.0h1.1M176.2 295.3h1.1M112.7 280.4h1.1M72.1 305.0h1.1M86.4 285.1h1.1M174.9 295.0h1.1M171.4 277.1h1.1M158.7 295.1h1.1M166.4 312.6h1.1M104.8 241.5h1.1M122.8 271.2h1.1M79.1 285.1h1.1M155.5 310.8h1.1M126.1 299.4h1.1M208.1 311.5h1.1M165.4 297.2h1.1M56.5 291.3h1.1M113.3 277.3h1.1M196.4 278.9h1.1M78.1 303.8h1.1M127.7 285.7h1.1M53.8 289.5h1.1M106.8 299.7h1.1M162.2 291.9h1.1M110.0 281.9h1.1M89.3 286.9h1.1M131.0 296.7h1.1M40.5 321.5h1.1M207.2 241.1h1.1M54.8 288.3h1.1M101.1 305.2h1.1M199.1 309.8h1.1M88.1 288.7h1.1M197.7 280.2h1.1M201.4 253.1h1.1M47.3 320.8h1.1M43.0 304.2h1.1M206.7 264.0h1.1M90.6 278.3h1.1M73.8 291.7h1.1M46.9 293.7h1.1M179.8 284.5h1.1M189.6 284.1h1.1M195.6 256.6h1.1M57.6 289.6h1.1M85.7 286.8h1.1M119.0 293.5h1.1M139.2 314.6h1.1M129.8 287.4h1.1M197.2 303.3h1.1M84.3 265.2h1.1M178.5 306.4h1.1M39.9 299.0h1.1M58.5 281.6h1.1M71.4 305.4h1.1M125.0 290.7h1.1M154.6 235.6h1.1M109.9 308.8h1.1M48.3 325.1h1.1M76.4 289.0h1.1M193.4 288.6h1.1M123.0 304.3h1.1M172.4 284.1h1.1M138.1 300.1h1.1M154.4 305.8h1.1M188.4 279.2h1.1M206.4 297.2h1.1M177.7 275.3h1.1M153.1 270.8h1.1M208.1 296.8h1.1M166.1 291.7h1.1M81.0 309.1h1.1M145.0 305.2h1.1M86.5 246.2h1.1M146.8 307.0h1.1M119.9 286.7h1.1M91.8 295.8h1.1M127.5 254.7h1.1M180.6 286.4h1.1M57.1 299.7h1.1M67.1 333.4h1.1M180.6 285.4h1.1M186.3 322.4h1.1M98.5 289.6h1.1M99.2 301.1h1.1M204.1 289.5h1.1M119.9 316.3h1.1M123.8 301.0h1.1M87.6 279.0h1.1M192.7 249.0h1.1M81.7 307.3h1.1M149.0 258.2h1.1M194.9 301.8h1.1M164.5 292.7h1.1M142.3 284.3h1.1M152.7 292.3h1.1M148.5 299.3h1.1M42.5 321.5h1.1M123.6 301.2h1.1M99.5 320.0h1.1M111.7 289.7h1.1M90.7 279.0h1.1M74.1 278.9h1.1M76.3 306.2h1.1M93.2 287.3h1.1M199.6 274.5h1.1M65.3 284.0h1.1M81.5 280.7h1.1M196.2 280.8h1.1M168.9 288.6h1.1M74.4 302.3h1.1M54.7 280.8h1.1M78.7 312.4h1.1M187.1 278.3h1.1M194.9 348.1h1.1M90.9 294.0h1.1M103.3 287.8h1.1M199.4 293.9h1.1M191.3 290.0h1.1M192.5 304.0h1.1M167.7 278.6h1.1M121.0 303.0h1.1M76.8 296.0h1.1M162.7 281.5h1.1M158.1 309.2h1.1M147.6 285.0h1.1M86.7 293.0h1.1M143.0 288.7h1.1M175.4 305.8h1.1M195.7 289.5h1.1M180.3 282.4h1.1M157.7 296.6h1.1M111.9 275.2h1.1M41.0 315.1h1.1M128.4 276.9h1.1M112.7 315.2h1.1M121.2 291.4h1.1M193.5 275.1h1.1M92.5 287.6h1.1M147.9 277.5h1.1M103.0 273.0h1.1M156.7 301.3h1.1M121.3 286.6h1.1M157.3 317.5h1.1M110.2 297.3h1.1M64.3 270.9h1.1M154.0 291.5h1.1M109.3 291.9h1.1M109.7 284.0h1.1M138.1 311.2h1.1M75.0 289.8h1.1M125.5 292.2h1.1M166.5 302.7h1.1M46.8 305.3h1.1M45.3 316.8h1.1M142.0 298.8h1.1M185.6 323.2h1.1M194.8 322.8h1.1M159.7 302.1h1.1M197.0 314.2h1.1M80.3 295.2h1.1M39.2 308.2h1.1M204.2 283.7h1.1M180.8 303.9h1.1M131.5 269.2h1.1M139.1 313.4h1.1M203.5 333.9h1.1M163.8 300.6h1.1M204.8 289.1h1.1M176.8 299.2h1.1M56.7 286.5h1.1M81.4 305.8h1.1M189.0 305.5h1.1M171.2 296.2h1.1M48.7 316.0h1.1M189.3 265.8h1.1M72.8 288.4h1.1M112.3 258.4h1.1M49.9 280.2h1.1M170.2 294.5h1.1M80.2 281.0h1.1M129.3 312.9h1.1M166.7 282.1h1.1M157.0 252.8h1.1M144.1 285.9h1.1M52.9 296.5h1.1M103.2 252.1h1.1M193.0 265.6h1.1M107.5 306.0h1.1M121.9 290.9h1.1M52.7 279.8h1.1M140.2 293.2h1.1M93.7 284.3h1.1M162.0 305.1h1.1M197.4 293.8h1.1M139.8 288.4h1.1M165.6 305.8h1.1M90.4 302.1h1.1M102.5 286.8h1.1M138.4 273.5h1.1M191.8 299.0h1.1M46.5 312.8h1.1M54.9 256.0h1.1M162.9 310.7h1.1M88.8 289.8h1.1M71.2 285.8h1.1M151.2 291.1h1.1M197.0 291.3h1.1M109.9 301.7h1.1M199.4 302.3h1.1M207.5 287.6h1.1M81.4 286.9h1.1M201.6 288.7h1.1M189.5 287.2h1.1M39.0 325.3h1.1M83.1 300.7h1.1M136.7 286.0h1.1M172.2 294.1h1.1M56.1 274.8h1.1M170.2 323.7h1.1M126.4 298.1h1.1M54.3 294.3h1.1M78.6 238.5h1.1M72.8 300.6h1.1M129.0 306.1h1.1M184.9 302.1h1.1M111.2 294.8h1.1M201.6 286.1h1.1M94.6 283.9h1.1M116.3 334.8h1.1M39.0 324.6h1.1M75.2 287.7h1.1M121.3 277.2h1.1M41.7 303.5h1.1M93.6 322.0h1.1M62.8 257.7h1.1M183.8 286.3h1.1M98.1 271.5h1.1M164.0 286.7h1.1M43.3 297.4h1.1M99.8 282.8h1.1M117.9 309.3h1.1M208.8 300.1h1.1M130.2 306.4h1.1M132.1 281.7h1.1M140.6 298.6h1.1M104.6 297.0h1.1M46.8 312.1h1.1M104.6 285.0h1.1M60.0 336.1h1.1M62.2 303.0h1.1M162.6 285.2h1.1M49.9 294.2h1.1M113.9 274.1h1.1M152.3 300.3h1.1M98.4 300.7h1.1M166.6 291.5h1.1M134.9 271.7h1.1M65.1 278.8h1.1M167.4 266.2h1.1M166.7 306.0h1.1M164.7 278.3h1.1M96.6 302.4h1.1M128.1 280.1h1.1M109.2 297.2h1.1M164.9 283.8h1.1M182.1 295.8h1.1M41.9 312.9h1.1M168.4 277.8h1.1M114.1 273.6h1.1M50.6 288.2h1.1M138.9 300.4h1.1M67.7 289.4h1.1M152.0 278.6h1.1M80.0 263.3h1.1M97.5 294.6h1.1M59.7 287.6h1.1M83.8 311.1h1.1M49.3 288.6h1.1M187.4 250.7h1.1M44.9 315.5h1.1M142.4 295.3h1.1M153.4 310.8h1.1M199.1 283.3h1.1M159.3 293.3h1.1M175.1 304.2h1.1M177.3 226.5h1.1M85.4 275.9h1.1M198.9 318.2h1.1M78.8 267.8h1.1M159.3 289.3h1.1M175.8 284.5h1.1M169.3 286.4h1.1M187.5 335.5h1.1M47.3 319.1h1.1M185.4 294.9h1.1M155.0 302.4h1.1M176.4 305.7h1.1M61.5 278.0h1.1M45.7 290.3h1.1M145.7 283.7h1.1M118.2 298.4h1.1M115.7 292.1h1.1M194.3 310.3h1.1M135.2 293.0h1.1M190.1 293.2h1.1M169.5 305.2h1.1M73.6 292.4h1.1M132.5 317.2h1.1M145.6 275.6h1.1M158.0 298.7h1.1M107.4 303.7h1.1M170.2 302.9h1.1M64.5 264.3h1.1M201.4 291.3h1.1M159.8 283.6h1.1M202.8 300.3h1.1M165.4 279.1h1.1M192.6 289.1h1.1M55.3 295.2h1.1M139.2 298.2h1.1M122.4 280.1h1.1M72.0 271.0h1.1M119.1 312.9h1.1M202.2 294.7h1.1M163.3 303.1h1.1M116.0 324.3h1.1M64.1 270.1h1.1M205.8 290.7h1.1M147.2 271.0h1.1M53.6 282.5h1.1M99.1 305.3h1.1M56.0 267.4h1.1M146.3 334.2h1.1M96.0 295.8h1.1M141.2 337.6h1.1M160.4 304.7h1.1M72.0 300.4h1.1M141.4 288.0h1.1M113.6 279.7h1.1M49.8 311.1h1.1M160.0 299.7h1.1M199.1 287.4h1.1M170.2 309.4h1.1M150.0 310.0h1.1M150.6 285.8h1.1M168.4 292.5h1.1M61.4 295.4h1.1M69.5 292.1h1.1M154.0 290.3h1.1M69.9 302.5h1.1M174.4 295.1h1.1M158.5 301.2h1.1M70.0 289.7h1.1M39.1 341.3h1.1M82.5 306.4h1.1M136.4 269.4h1.1M114.1 296.2h1.1M94.1 292.7h1.1M153.4 299.5h1.1M177.9 295.8h1.1M160.5 305.0h1.1M100.8 293.7h1.1M79.3 292.6h1.1M180.1 310.7h1.1M64.4 283.5h1.1M203.3 278.5h1.1M124.8 298.9h1.1M58.6 286.6h1.1M84.5 293.5h1.1M151.3 315.9h1.1M172.3 312.9h1.1M150.2 282.5h1.1M184.9 291.3h1.1M157.9 271.5h1.1M190.0 297.0h1.1M63.8 289.3h1.1M161.0 293.5h1.1M51.7 255.0h1.1M143.0 295.7h1.1M140.1 287.7h1.1M133.0 307.3h1.1M181.0 287.5h1.1M82.5 261.2h1.1M183.0 306.4h1.1M87.2 306.2h1.1M101.4 310.4h1.1M112.6 297.9h1.1M81.3 288.5h1.1M113.0 276.8h1.1M90.7 273.5h1.1M84.4 317.9h1.1M133.7 306.9h1.1M143.2 299.3h1.1M120.6 278.1h1.1M152.7 245.7h1.1M151.8 281.8h1.1M108.6 331.1h1.1M83.5 287.3h1.1M49.6 294.8h1.1M157.0 300.9h1.1M61.6 289.0h1.1M39.5 331.9h1.1M116.8 327.9h1.1M153.6 288.6h1.1M87.8 295.4h1.1M59.4 283.4h1.1M120.2 295.2h1.1M79.0 295.7h1.1M123.4 287.4h1.1M177.9 245.6h1.1M163.7 303.2h1.1M55.5 274.4h1.1M58.4 277.1h1.1M67.7 288.8h1.1M156.7 320.9h1.1M138.0 301.1h1.1M173.4 295.8h1.1M139.5 282.8h1.1M58.0 286.2h1.1M203.3 306.5h1.1M189.4 316.5h1.1M185.0 294.4h1.1M205.9 304.7h1.1M179.9 271.3h1.1M76.7 306.8h1.1M174.8 292.2h1.1M98.4 296.1h1.1M192.6 311.1h1.1M136.0 303.2h1.1M114.3 298.5h1.1M204.1 302.8h1.1M114.0 274.2h1.1M47.5 315.3h1.1M124.5 299.7h1.1M76.8 290.4h1.1M100.6 284.5h1.1M82.8 297.0h1.1M206.2 286.7h1.1M143.8 303.0h1.1M54.3 275.6h1.1M77.0 298.3h1.1M76.4 287.8h1.1M109.7 324.7h1.1M50.2 289.1h1.1M77.7 303.5h1.1M202.3 305.9h1.1M66.0 308.6h1.1M181.3 307.7h1.1M149.5 275.9h1.1M115.9 340.9h1.1M58.3 273.8h1.1M183.9 282.2h1.1M183.5 301.4h1.1M188.8 296.1h1.1M67.3 315.6h1.1M148.8 291.3h1.1M81.5 289.5h1.1M88.9 288.1h1.1M146.7 316.0h1.1M57.4 292.6h1.1M55.1 287.0h1.1M137.7 281.2h1.1M199.0 292.7h1.1M197.3 297.6h1.1M87.1 281.6h1.1M59.1 292.3h1.1M110.8 295.4h1.1M170.2 305.7h1.1M189.9 322.1h1.1M117.5 320.8h1.1M80.6 319.0h1.1M199.5 279.7h1.1M191.0 307.2h1.1M176.1 287.1h1.1M201.3 298.7h1.1M40.5 310.8h1.1M149.2 265.1h1.1M131.1 283.9h1.1M208.4 305.0h1.1M83.4 284.7h1.1M141.7 288.1h1.1M203.5 282.0h1.1M54.1 295.6h1.1M180.9 282.7h1.1M62.3 306.8h1.1M138.8 310.9h1.1M51.0 285.0h1.1M158.4 302.2h1.1M113.1 300.0h1.1M141.9 300.7h1.1M197.8 312.2h1.1M172.6 291.4h1.1M44.3 317.3h1.1M203.8 286.4h1.1M143.9 288.1h1.1M79.0 287.5h1.1M84.0 287.9h1.1M131.3 308.3h1.1M189.8 272.2h1.1M144.9 294.3h1.1M116.6 299.0h1.1M111.1 286.1h1.1M98.8 293.4h1.1M146.3 308.5h1.1M81.6 291.5h1.1M175.7 291.7h1.1M154.7 263.8h1.1M94.3 306.1h1.1M172.7 276.5h1.1M124.3 296.6h1.1M120.7 263.3h1.1M80.0 310.1h1.1M105.6 303.1h1.1M207.4 292.0h1.1M187.9 268.7h1.1M112.2 294.6h1.1M192.5 306.7h1.1M136.1 288.0h1.1M92.3 299.4h1.1M51.2 278.1h1.1M158.2 298.0h1.1M201.4 315.3h1.1M82.7 301.3h1.1M39.2 295.0h1.1M180.7 282.7h1.1M86.9 291.3h1.1M158.1 297.4h1.1M204.4 297.0h1.1M45.4 310.7h1.1M204.0 307.5h1.1M46.2 306.5h1.1M77.3 291.8h1.1M56.7 271.0h1.1M111.4 263.2h1.1M46.4 304.5h1.1M62.1 302.7h1.1M119.3 297.8h1.1M185.1 303.1h1.1M44.8 304.5h1.1M175.8 308.4h1.1M192.4 289.9h1.1M162.1 292.7h1.1M142.1 285.3h1.1M155.4 296.3h1.1M82.2 298.6h1.1M95.8 279.8h1.1M206.7 287.3h1.1M73.1 263.0h1.1M97.0 286.7h1.1M134.2 320.5h1.1M100.7 306.3h1.1M66.9 279.3h1.1M149.8 249.2h1.1M190.4 303.2h1.1M152.0 290.2h1.1M150.5 292.8h1.1M121.8 270.5h1.1M190.0 297.5h1.1M202.6 307.5h1.1M103.4 294.6h1.1M201.5 321.3h1.1M124.5 289.2h1.1M46.6 278.7h1.1M167.7 287.9h1.1M145.2 301.6h1.1M192.6 306.9h1.1M139.9 280.9h1.1M149.1 292.5h1.1M55.1 307.8h1.1M117.8 294.7h1.1M132.4 306.6h1.1M102.2 311.7h1.1M69.7 289.9h1.1M114.9 299.9h1.1M44.6 320.4h1.1M60.1 282.3h1.1M187.1 295.9h1.1M100.1 273.9h1.1M120.8 293.2h1.1M111.0 287.1h1.1M149.9 289.5h1.1M127.9 310.3h1.1M91.0 300.2h1.1M102.1 292.8h1.1M173.3 290.0h1.1M78.9 276.1h1.1M191.2 264.7h1.1M56.3 297.9h1.1M187.0 303.1h1.1M118.5 306.2h1.1M146.5 246.6h1.1M182.6 314.3h1.1M200.6 287.4h1.1M78.7 304.6h1.1M207.2 301.6h1.1M140.2 302.3h1.1M64.2 283.2h1.1M59.7 304.1h1.1M52.2 282.6h1.1M142.9 313.5h1.1M200.3 300.2h1.1M85.2 279.2h1.1M39.5 323.0h1.1M150.2 295.8h1.1M137.9 298.0h1.1M127.9 328.8h1.1M207.7 295.0h1.1M163.4 328.0h1.1M177.1 287.5h1.1M55.7 305.0h1.1M136.0 309.5h1.1M93.7 300.0h1.1M153.5 301.4h1.1M194.6 309.9h1.1M90.9 283.6h1.1M196.1 305.3h1.1M56.3 287.4h1.1M123.1 289.1h1.1M139.6 312.7h1.1M47.8 340.0h1.1M182.9 327.5h1.1M44.4 333.6h1.1M105.1 294.5h1.1M60.7 297.7h1.1M103.7 302.1h1.1M149.7 295.8h1.1M209.2 290.6h1.1M56.2 290.8h1.1M94.1 290.2h1.1M95.7 296.8h1.1M86.4 281.8h1.1M176.0 277.5h1.1M124.5 281.1h1.1M42.1 300.5h1.1M196.5 295.1h1.1M92.9 287.2h1.1M132.4 296.9h1.1M206.2 283.2h1.1M130.0 277.2h1.1M111.8 311.9h1.1M69.0 301.3h1.1M133.5 317.2h1.1M147.9 274.0h1.1M113.4 294.6h1.1M84.0 289.6h1.1M183.5 301.8h1.1M80.6 293.3h1.1M171.9 283.9h1.1M78.3 315.6h1.1M127.3 263.1h1.1M61.7 277.1h1.1M85.8 301.2h1.1M62.6 289.8h1.1M54.0 284.0h1.1M55.0 304.9h1.1M202.7 283.8h1.1M176.8 303.4h1.1M208.6 304.8h1.1M184.3 291.6h1.1M138.0 296.0h1.1M187.1 299.3h1.1M100.7 297.2h1.1M113.2 288.9h1.1M83.0 297.5h1.1M114.0 289.2h1.1M92.5 315.7h1.1M153.0 292.2h1.1M84.9 273.0h1.1M82.5 297.6h1.1M201.0 284.7h1.1M201.4 272.8h1.1M109.5 284.7h1.1M165.1 304.1h1.1M156.7 283.7h1.1M81.9 299.3h1.1M49.9 290.4h1.1M50.7 281.5h1.1M106.3 276.5h1.1M104.6 305.9h1.1M80.4 296.6h1.1M204.5 296.0h1.1M205.2 267.7h1.1M92.8 290.6h1.1M171.7 289.6h1.1M80.4 307.2h1.1M127.8 325.1h1.1M51.1 267.7h1.1M112.9 290.3h1.1M117.4 300.7h1.1M168.6 286.9h1.1M156.6 290.8h1.1M131.3 285.2h1.1M95.8 299.1h1.1M149.0 289.6h1.1M108.2 294.6h1.1M164.8 298.4h1.1M46.0 327.3h1.1M204.7 291.2h1.1M97.7 294.2h1.1M148.8 283.7h1.1M58.1 297.6h1.1M136.4 292.5h1.1M84.5 287.6h1.1M161.8 303.1h1.1M95.7 274.9h1.1M61.2 286.1h1.1M208.7 290.1h1.1M50.3 298.2h1.1M44.0 315.6h1.1M70.5 251.1h1.1M108.2 301.9h1.1M164.7 272.9h1.1M198.4 290.5h1.1M105.8 294.9h1.1M172.3 251.6h1.1M115.8 310.2h1.1M113.8 294.9h1.1M46.8 336.7h1.1M67.6 295.8h1.1M180.7 265.9h1.1M181.6 280.8h1.1M131.7 312.6h1.1M150.9 296.1h1.1M190.9 294.3h1.1M130.2 311.3h1.1M198.1 286.8h1.1M137.8 281.3h1.1M41.5 328.3h1.1M94.3 287.8h1.1M39.8 320.4h1.1M76.5 269.7h1.1M44.0 321.0h1.1M49.6 311.7h1.1M78.9 276.6h1.1M50.7 284.9h1.1M154.8 295.5h1.1M119.8 308.5h1.1M165.7 286.9h1.1M135.6 305.7h1.1M137.2 298.0h1.1M74.4 316.0h1.1M90.8 313.6h1.1M140.1 279.9h1.1M144.3 302.6h1.1M81.9 303.4h1.1M124.9 279.3h1.1M197.6 289.4h1.1M191.9 304.8h1.1M180.3 270.0h1.1M138.8 306.1h1.1M45.7 328.3h1.1M79.2 302.3h1.1M81.4 302.7h1.1M199.2 302.7h1.1M39.0 298.7h1.1M208.5 317.1h1.1M182.2 294.3h1.1M144.7 329.4h1.1M88.4 286.8h1.1M48.7 287.2h1.1M95.1 277.1h1.1M103.3 290.5h1.1M170.5 306.5h1.1M157.0 301.0h1.1M84.0 255.6h1.1M49.1 333.8h1.1M96.7 284.8h1.1M125.0 292.8h1.1M88.5 299.6h1.1M99.8 287.8h1.1M157.1 304.0h1.1M55.3 288.0h1.1M96.2 310.4h1.1M70.8 305.3h1.1M81.2 294.2h1.1M199.8 276.6h1.1M121.2 284.8h1.1M129.7 290.0h1.1M131.6 291.5h1.1M53.7 270.4h1.1M138.6 310.6h1.1M162.5 298.3h1.1M189.0 266.9h1.1M190.5 283.3h1.1M161.5 292.2h1.1M96.6 306.3h1.1M45.0 332.5h1.1M138.6 278.7h1.1M63.3 309.5h1.1M40.2 320.6h1.1M165.0 304.7h1.1M90.2 337.8h1.1M76.3 276.9h1.1M99.3 309.7h1.1M161.4 293.7h1.1M209.2 302.5h1.1M102.2 229.1h1.1M182.4 295.7h1.1M42.7 319.0h1.1M183.8 290.9h1.1M144.2 283.0h1.1M167.9 318.2h1.1M134.3 263.0h1.1M203.7 304.2h1.1M58.9 325.6h1.1M149.5 294.5h1.1M117.4 283.1h1.1M110.5 318.9h1.1M129.7 295.8h1.1M68.4 302.3h1.1M57.7 292.6h1.1M117.0 305.3h1.1M161.5 286.2h1.1M114.8 276.2h1.1M50.0 297.5h1.1M162.9 284.1h1.1M56.8 286.8h1.1M49.8 298.8h1.1M91.5 311.4h1.1M65.4 275.2h1.1M209.3 275.0h1.1M52.0 295.5h1.1M63.1 293.7h1.1M183.5 272.8h1.1M99.3 289.5h1.1M170.2 298.2h1.1M178.3 295.9h1.1M84.6 304.0h1.1M115.4 297.3h1.1M98.3 285.3h1.1M204.4 263.0h1.1M57.9 285.7h1.1M163.8 303.1h1.1M122.0 278.2h1.1M183.5 235.3h1.1M206.3 284.5h1.1M134.8 288.8h1.1M204.9 290.8h1.1M102.2 282.2h1.1M117.8 286.2h1.1M50.9 287.8h1.1M185.3 289.4h1.1M93.9 283.0h1.1M50.3 283.2h1.1M73.3 291.0h1.1M171.4 311.2h1.1M135.1 312.5h1.1M202.5 293.7h1.1M99.3 297.3h1.1M175.8 306.1h1.1M56.5 272.3h1.1M91.3 298.6h1.1M93.2 305.5h1.1M131.6 290.5h1.1M150.6 335.7h1.1M102.6 293.6h1.1M102.4 293.5h1.1M206.4 264.2h1.1M189.9 292.9h1.1M92.8 284.7h1.1M127.5 284.6h1.1M203.0 289.8h1.1M132.9 300.1h1.1M50.0 286.2h1.1M196.6 300.6h1.1M102.4 301.6h1.1M90.6 293.1h1.1M188.4 297.4h1.1M96.0 287.7h1.1M105.2 290.3h1.1M48.1 321.6h1.1M61.5 289.9h1.1M169.5 301.5h1.1M141.4 282.8h1.1M120.5 328.6h1.1M207.5 300.5h1.1M63.6 304.8h1.1M154.9 304.8h1.1M181.7 298.0h1.1M155.8 303.8h1.1M115.4 286.6h1.1M84.7 292.5h1.1M73.9 310.4h1.1M138.6 312.8h1.1M119.0 282.7h1.1M151.3 296.7h1.1M153.0 294.2h1.1M96.1 262.8h1.1M68.9 278.7h1.1M145.1 284.6h1.1M132.5 310.6h1.1M56.8 280.3h1.1M189.3 326.5h1.1M174.4 244.2h1.1M193.8 310.6h1.1M133.7 298.8h1.1M74.2 295.1h1.1M168.4 305.6h1.1M68.7 271.0h1.1M203.6 286.0h1.1M78.6 280.7h1.1M144.1 275.4h1.1M62.4 284.9h1.1M184.7 278.3h1.1M96.3 301.7h1.1M147.3 303.3h1.1M98.2 326.6h1.1M116.6 302.3h1.1M82.2 286.0h1.1M187.1 298.0h1.1M60.1 290.5h1.1M59.4 302.8h1.1M183.6 306.5h1.1M155.1 296.6h1.1M152.6 310.5h1.1M100.0 322.1h1.1M129.9 263.0h1.1M176.1 299.4h1.1M96.9 290.9h1.1M162.4 285.4h1.1M153.7 293.4h1.1M91.0 286.1h1.1M129.3 284.2h1.1M179.9 270.6h1.1M148.8 285.6h1.1M117.3 289.3h1.1M106.2 267.8h1.1M189.2 298.8h1.1M99.1 293.8h1.1M161.3 263.0h1.1M121.7 297.3h1.1M53.7 278.3h1.1M41.9 273.3h1.1M201.1 286.3h1.1M86.5 305.9h1.1M71.1 278.6h1.1M134.1 295.4h1.1M207.7 291.1h1.1M46.8 312.1h1.1M148.1 302.6h1.1M114.0 286.1h1.1M177.7 274.0h1.1M68.9 292.8h1.1M112.7 287.1h1.1M102.4 304.0h1.1M55.5 281.1h1.1M145.2 306.7h1.1M145.1 336.4h1.1M207.3 334.2h1.1M155.1 283.8h1.1M137.8 298.2h1.1M70.2 306.6h1.1M130.6 280.9h1.1M97.4 312.1h1.1M103.3 304.3h1.1M118.3 293.9h1.1M206.1 301.6h1.1M198.4 278.9h1.1M143.1 283.2h1.1M161.1 317.5h1.1M195.3 288.3h1.1M145.2 303.3h1.1M152.4 294.5h1.1M78.8 295.4h1.1M184.3 330.6h1.1M150.6 307.1h1.1M159.0 282.5h1.1M148.2 273.0h1.1M208.5 294.8h1.1M192.1 315.7h1.1M149.6 329.0h1.1M66.7 306.9h1.1M154.0 259.6h1.1M106.6 288.0h1.1M208.8 317.2h1.1M109.0 293.2h1.1M52.5 283.3h1.1M130.7 314.4h1.1M100.7 290.3h1.1M112.1 298.2h1.1M142.2 283.0h1.1M70.2 300.4h1.1M178.4 288.6h1.1M69.6 290.2h1.1M117.8 296.8h1.1M206.9 307.0h1.1M97.7 290.6h1.1M179.9 305.7h1.1M115.0 287.6h1.1M166.3 295.0h1.1M79.5 280.0h1.1M119.1 275.6h1.1M86.6 286.8h1.1M188.1 288.8h1.1M111.0 310.9h1.1M139.0 300.2h1.1M144.7 266.2h1.1M204.5 294.6h1.1M187.6 300.1h1.1M186.9 251.5h1.1M111.9 296.1h1.1M153.4 325.5h1.1M184.2 298.4h1.1M170.4 305.7h1.1M108.4 291.5h1.1M170.8 284.8h1.1M47.0 300.8h1.1M193.1 298.6h1.1M161.7 274.6h1.1M107.4 339.4h1.1M82.0 305.9h1.1M130.8 276.7h1.1M109.7 279.5h1.1M116.2 315.1h1.1M83.6 302.0h1.1M156.5 280.5h1.1M181.0 292.4h1.1M148.3 304.3h1.1M117.2 258.8h1.1M103.8 280.9h1.1M146.6 289.3h1.1M161.1 295.9h1.1M127.7 304.0h1.1M100.9 286.6h1.1M171.9 309.7h1.1M115.6 294.8h1.1M161.2 299.9h1.1M114.6 292.0h1.1M206.8 283.8h1.1M207.9 270.0h1.1M144.3 297.9h1.1M154.7 298.8h1.1M83.9 316.7h1.1M69.5 279.0h1.1M167.8 287.2h1.1M72.8 290.5h1.1M163.0 297.7h1.1M98.7 301.1h1.1M153.8 292.2h1.1M200.9 292.2h1.1M191.5 309.7h1.1M69.3 306.6h1.1M80.3 281.8h1.1M184.4 275.9h1.1M74.9 308.0h1.1M68.5 284.9h1.1M160.6 299.3h1.1M170.8 309.0h1.1M47.6 334.4h1.1M137.9 286.4h1.1M132.8 310.7h1.1M101.0 268.2h1.1M90.2 296.4h1.1M193.5 298.7h1.1M128.1 299.6h1.1M98.8 287.4h1.1M196.9 283.1h1.1M80.0 271.8h1.1M140.8 280.0h1.1M138.0 274.7h1.1M189.7 287.5h1.1M78.4 300.9h1.1M130.5 263.5h1.1M132.9 290.6h1.1M168.9 271.1h1.1M65.9 302.8h1.1M81.8 289.2h1.1M122.0 285.1h1.1M56.1 296.6h1.1M39.0 332.7h1.1M102.0 310.3h1.1M105.4 281.0h1.1M69.0 314.6h1.1M140.9 315.6h1.1M153.6 284.5h1.1M203.3 276.7h1.1M150.1 314.7h1.1M130.0 278.3h1.1M157.3 303.1h1.1M190.5 291.9h1.1M95.2 285.7h1.1M107.0 287.4h1.1M174.9 309.1h1.1M179.9 301.9h1.1M165.0 253.4h1.1M191.1 294.1h1.1M181.8 299.4h1.1M96.1 292.8h1.1M96.2 271.6h1.1M185.8 299.6h1.1M126.6 288.8h1.1M49.7 283.1h1.1M58.9 277.1h1.1M129.8 303.7h1.1M90.1 275.8h1.1M111.6 311.0h1.1M52.5 253.9h1.1M111.7 275.3h1.1M119.2 324.5h1.1M75.5 306.4h1.1M146.9 314.6h1.1M97.7 301.4h1.1M207.9 296.5h1.1M114.5 331.6h1.1M59.4 311.2h1.1M156.8 283.9h1.1M71.6 308.0h1.1M171.0 289.4h1.1M172.6 276.3h1.1M121.2 286.6h1.1M113.7 294.3h1.1M53.3 295.6h1.1M95.3 280.8h1.1M52.3 291.9h1.1M92.1 289.2h1.1M77.1 285.0h1.1M159.8 302.8h1.1M176.7 306.1h1.1M49.9 310.2h1.1M199.4 298.4h1.1M194.2 313.9h1.1M111.6 308.4h1.1M129.4 309.8h1.1M153.0 282.8h1.1M71.6 289.5h1.1M125.1 305.6h1.1M117.4 281.9h1.1M120.4 299.6h1.1M105.7 300.1h1.1M86.3 295.9h1.1M71.0 293.7h1.1M133.0 289.4h1.1M96.7 294.5h1.1M154.6 284.0h1.1M186.8 285.1h1.1M47.9 313.0h1.1M103.6 266.1h1.1M203.7 289.6h1.1M202.9 307.9h1.1M191.4 271.5h1.1M180.1 288.3h1.1M78.9 295.7h1.1M166.8 320.0h1.1M174.6 325.6h1.1M100.3 281.9h1.1M90.2 285.4h1.1M99.3 284.2h1.1M64.5 296.4h1.1M106.2 298.4h1.1M117.5 296.1h1.1M177.9 301.4h1.1M53.6 300.0h1.1M60.3 279.0h1.1M157.5 297.2h1.1M72.4 296.9h1.1M171.5 268.1h1.1M162.9 297.3h1.1M78.5 322.8h1.1M43.7 298.6h1.1M192.3 297.8h1.1M123.1 305.7h1.1M110.5 277.8h1.1M208.0 304.3h1.1M193.5 295.4h1.1M66.2 280.9h1.1M196.1 295.5h1.1M96.0 322.0h1.1M120.1 299.2h1.1M48.5 288.8h1.1M151.2 303.6h1.1M161.2 302.8h1.1M98.0 303.2h1.1M129.8 303.4h1.1M72.3 291.4h1.1M61.2 261.9h1.1M103.8 282.9h1.1M39.6 303.5h1.1M60.0 283.7h1.1M40.3 315.0h1.1M44.7 329.5h1.1M45.1 289.2h1.1M41.9 270.0h1.1M39.0 334.6h1.1M47.5 306.9h1.1M42.2 342.4h1.1M41.3 339.0h1.1M46.1 327.2h1.1M41.2 337.2h1.1M46.9 306.5h1.1M42.0 304.3h1.1M47.0 296.6h1.1M43.7 341.6h1.1M40.5 323.5h1.1M47.0 302.9h1.1M41.8 309.8h1.1M39.5 314.5h1.1M47.6 344.5h1.1M46.5 281.7h1.1M41.4 304.4h1.1M43.7 326.7h1.1M44.0 325.7h1.1M48.2 290.7h1.1M43.3 325.7h1.1M44.9 321.3h1.1M41.2 320.0h1.1M42.1 337.2h1.1M44.6 296.4h1.1M42.2 320.8h1.1M46.8 288.0h1.1M39.8 315.7h1.1M39.4 327.1h1.1M46.2 336.9h1.1M41.0 332.5h1.1M42.6 298.7h1.1M41.2 312.3h1.1M45.2 333.4h1.1M39.8 323.9h1.1M44.6 290.9h1.1M42.0 276.4h1.1M43.2 322.8h1.1M43.2 316.2h1.1M40.9 313.2h1.1M42.8 295.9h1.1M39.6 275.9h1.1M45.0 320.4h1.1M44.2 300.6h1.1M47.3 315.4h1.1M46.1 336.8h1.1M40.4 297.6h1.1M47.5 341.6h1.1M44.2 334.3h1.1M40.4 347.0h1.1M43.8 297.9h1.1M41.8 339.6h1.1M40.2 329.4h1.1M41.9 330.0h1.1M44.8 316.4h1.1M42.9 297.0h1.1M46.1 337.6h1.1M40.9 312.1h1.1M45.5 287.1h1.1M48.0 326.1h1.1M40.7 295.5h1.1M41.5 309.1h1.1M42.0 292.8h1.1M44.2 313.6h1.1M39.1 331.7h1.1M42.8 312.8h1.1M45.3 299.5h1.1M47.4 307.2h1.1M47.6 311.2h1.1M39.2 316.9h1.1M45.9 293.8h1.1M41.9 286.4h1.1M47.8 301.0h1.1M48.2 287.3h1.1M42.6 312.7h1.1M42.1 304.8h1.1M45.9 319.8h1.1M44.1 315.2h1.1M43.1 309.1h1.1M48.3 306.4h1.1M43.9 342.3h1.1M46.0 337.3h1.1M46.6 331.8h1.1M45.5 298.3h1.1M41.8 313.4h1.1M45.4 289.0h1.1M42.3 328.5h1.1M44.6 289.0h1.1M45.8 306.8h1.1M43.6 344.9h1.1M39.5 342.7h1.1M43.9 303.0h1.1M43.1 331.1h1.1M42.3 313.8h1.1M42.7 305.9h1.1M42.2 314.9h1.1M44.3 338.7h1.1M48.6 326.1h1.1M45.6 321.3h1.1M39.2 335.5h1.1M46.5 308.9h1.1M40.7 334.8h1.1M48.1 326.9h1.1M42.2 312.8h1.1M46.1 326.5h1.1M43.7 316.7h1.1M48.4 299.0h1.1M46.0 301.3h1.1M46.5 330.1h1.1M44.0 295.0h1.1M42.7 315.6h1.1M48.3 329.4h1.1M42.1 326.9h1.1M42.8 348.2h1.1M47.6 305.2h1.1M45.7 316.7h1.1M44.9 292.3h1.1M47.0 319.9h1.1M41.7 299.5h1.1M41.5 331.3h1.1M46.9 337.6h1.1M46.2 348.1h1.1M44.9 306.9h1.1M46.3 295.8h1.1M47.9 302.5h1.1M43.7 311.0h1.1M41.3 302.9h1.1M41.1 301.0h1.1M46.5 304.7h1.1M46.5 315.4h1.1M44.2 332.8h1.1M41.5 294.2h1.1M46.5 309.7h1.1M48.0 340.6h1.1M43.0 336.8h1.1M43.7 287.4h1.1M43.3 347.7h1.1M48.5 290.0h1.1M40.2 323.0h1.1M40.1 311.5h1.1M46.2 323.0h1.1M44.5 313.7h1.1M41.6 290.1h1.1M41.9 301.1h1.1M44.7 335.8h1.1M46.6 329.5h1.1M42.4 318.4h1.1M47.1 327.7h1.1M39.8 340.4h1.1M43.1 328.8h1.1M42.3 332.6h1.1M39.0 341.4h1.1M46.4 301.0h1.1M44.7 275.4h1.1M47.5 297.7h1.1M47.1 314.0h1.1M46.4 308.4h1.1M45.0 301.6h1.1M47.0 314.8h1.1M39.7 344.1h1.1M48.5 321.8h1.1M42.5 345.3h1.1"/>
<path d="M49.20,226.04 L50.21,228.99 L51.22,231.55 L52.23,234.25 L53.23,237.24 L54.24,238.16 L55.25,240.11 L56.26,241.28 L57.26,244.61 L58.27,244.59 L59.28,247.36 L60.29,246.62 L61.29,249.53 L62.30,251.09 L63.31,251.38 L64.32,251.31 L65.32,252.11 L66.33,252.61 L67.34,254.65 L68.35,252.99 L69.35,254.25 L70.36,256.29 L71.37,255.33 L72.38,256.61 L73.38,257.95 L74.39,257.03 L75.40,258.17 L76.41,257.21 L77.41,259.69 L78.42,259.89 L79.43,258.86 L80.44,260.48 L81.44,259.62 L82.45,259.42 L83.46,260.57 L84.47,262.00 L85.47,260.18 L86.48,260.67 L87.49,262.09 L88.50,262.43 L89.50,263.42 L90.51,261.70 L91.52,264.00 L92.53,263.08 L93.53,263.24 L94.54,264.64 L95.55,263.49 L96.56,264.11 L97.56,264.50 L98.57,263.84 L99.58,265.04 L100.59,264.72 L101.59,265.47 L102.60,264.29 L103.61,266.56 L104.62,264.54 L105.62,266.59 L106.63,265.28 L107.64,265.65 L108.65,265.23 L109.65,265.52 L110.66,268.10 L111.67,266.51 L112.68,268.28 L113.68,267.15 L114.69,268.03 L115.70,266.47 L116.71,268.14 L117.71,267.96 L118.72,266.74 L119.73,267.08 L120.74,269.70 L121.74,269.19 L122.75,269.63 L123.76,268.31 L124.77,270.04 L125.77,268.11 L126.78,268.25 L127.79,269.21 L128.80,268.82 L129.80,268.43 L130.81,270.59 L131.82,270.89 L132.83,269.74 L133.83,269.87 L134.84,269.28 L135.85,269.66 L136.86,271.61 L137.86,269.12 L138.87,269.04 L139.88,270.83 L140.89,270.02 L141.89,271.33 L142.90,271.81 L143.91,272.24 L144.92,270.35 L145.92,272.41 L146.93,269.93 L147.94,271.85 L148.95,271.28 L149.95,271.99 L150.96,271.12 L151.97,271.48 L152.98,272.15 L153.98,272.23 L154.99,273.07 L156.00,270.72 L157.01,272.63 L158.01,270.51 L159.02,272.70 L160.03,271.08 L161.04,273.40 L162.04,272.84 L163.05,271.64 L164.06,273.06 L165.07,272.79 L166.07,272.91 L167.08,271.43 L168.09,271.23 L169.10,272.39 L170.10,272.90 L171.11,272.15 L172.12,271.43 L173.13,272.99 L174.13,271.44 L175.14,271.46 L176.15,271.73 L177.16,273.84 L178.16,273.09 L179.17,271.73 L180.18,273.72 L181.19,274.00 L182.19,273.89 L183.20,274.15 L184.21,272.32 L185.22,274.42 L186.22,272.56 L187.23,272.70 L188.24,273.02 L189.25,272.38 L190.25,274.01 L191.26,274.11 L192.27,273.62 L193.28,273.32 L194.28,273.55 L195.29,272.49 L196.30,274.26 L197.31,274.40 L198.31,274.10 L199.32,272.33 L200.33,272.42 L201.34,274.50 L202.34,273.11 L203.35,274.45 L204.36,272.41 L205.37,273.67 L206.37,273.27 L207.38,272.98 L208.39,272.86 L209.40,275.03 L209.40,282.54 L208.39,282.43 L207.38,282.16 L206.37,280.16 L205.37,280.28 L204.36,281.07 L203.35,282.09 L202.34,282.72 L201.34,281.50 L200.33,281.25 L199.32,281.97 L198.31,280.89 L197.31,280.20 L196.30,280.55 L195.29,281.11 L194.28,281.60 L193.28,280.00 L192.27,280.67 L191.26,280.94 L190.25,282.27 L189.25,280.48 L188.24,281.92 L187.23,280.39 L186.22,280.40 L185.22,281.30 L184.21,282.04 L183.20,281.63 L182.19,280.97 L181.19,281.56 L180.18,279.74 L179.17,279.78 L178.16,279.71 L177.16,280.05 L176.15,281.53 L175.14,280.37 L174.13,279.71 L173.13,279.19 L172.12,281.64 L171.11,279.02 L170.10,278.90 L169.10,281.27 L168.09,280.64 L167.08,279.58 L166.07,279.15 L165.07,279.29 L164.06,280.63 L163.05,279.81 L162.04,278.61 L161.04,279.86 L160.03,280.71 L159.02,279.36 L158.01,280.94 L157.01,278.55 L156.00,279.62 L154.99,279.81 L153.98,280.47 L152.98,280.61 L151.97,279.47 L150.96,279.91 L149.95,277.77 L148.95,278.21 L147.94,277.84 L146.93,278.82 L145.92,278.49 L144.92,278.47 L143.91,277.50 L142.90,278.87 L141.89,277.66 L140.89,278.50 L139.88,278.90 L138.87,276.74 L137.86,277.14 L136.86,278.33 L135.85,277.69 L134.84,278.73 L133.83,278.77 L132.83,277.90 L131.82,277.02 L130.81,278.64 L129.80,278.46 L128.80,278.13 L127.79,275.80 L126.78,277.62 L125.77,276.04 L124.77,277.57 L123.76,276.29 L122.75,275.32 L121.74,275.41 L120.74,275.39 L119.73,276.79 L118.72,274.42 L117.71,276.34 L116.71,275.25 L115.70,275.98 L114.69,275.50 L113.68,273.82 L112.68,274.33 L111.67,275.57 L110.66,275.52 L109.65,273.72 L108.65,274.29 L107.64,274.71 L106.63,275.08 L105.62,272.43 L104.62,274.14 L103.61,274.10 L102.60,272.11 L101.59,273.96 L100.59,272.61 L99.58,272.21 L98.57,273.03 L97.56,270.92 L96.56,271.98 L95.55,271.38 L94.54,272.02 L93.53,270.10 L92.53,269.50 L91.52,272.00 L90.51,269.78 L89.50,269.62 L88.50,270.37 L87.49,268.87 L86.48,268.33 L85.47,268.87 L84.47,269.16 L83.46,269.68 L82.45,268.49 L81.44,268.47 L80.44,268.46 L79.43,267.07 L78.42,265.38 L77.41,265.20 L76.41,265.92 L75.40,266.25 L74.39,265.04 L73.38,265.07 L72.38,263.96 L71.37,263.34 L70.36,262.16 L69.35,262.80 L68.35,260.85 L67.34,261.16 L66.33,260.00 L65.32,260.76 L64.32,259.34 L63.31,258.89 L62.30,258.70 L61.29,255.83 L60.29,256.28 L59.28,254.68 L58.27,253.13 L57.26,250.78 L56.26,251.23 L55.25,249.07 L54.24,245.86 L53.23,243.54 L52.23,241.74 L51.22,239.17 L50.21,235.33 L49.20,233.25 Z" stroke="none" stroke-width="0" fill="#8000ff" stroke-linejoin="round" stroke-linecap="round" />
<path d="M49.20,281.37 L50.21,282.22 L51.22,282.93 L52.23,283.55 L53.23,283.86 L54.24,283.78 L55.25,284.85 L56.26,284.21 L57.26,284.82 L58.27,284.98 L59.28,284.40 L60.29,282.89 L61.29,285.86 L62.30,283.38 L63.31,283.91 L64.32,283.02 L65.32,283.64 L66.33,286.00 L67.34,284.13 L68.35,285.61 L69.35,284.78 L70.36,284.58 L71.37,285.69 L72.38,287.13 L73.38,285.71 L74.39,284.22 L75.40,284.34 L76.41,287.89 L77.41,287.62 L78.42,287.11 L79.43,287.11 L80.44,285.38 L81.44,287.20 L82.45,288.29 L83.46,285.80 L84.47,288.21 L85.47,286.66 L86.48,288.69 L87.49,287.71 L88.50,288.19 L89.50,287.07 L90.51,286.51 L91.52,286.31 L92.53,286.50 L93.53,289.11 L94.54,286.59 L95.55,285.53 L96.56,286.94 L97.56,288.50 L98.57,289.14 L99.58,286.81 L100.59,288.68 L101.59,286.50 L102.60,288.25 L103.61,288.54 L104.62,286.72 L105.62,287.09 L106.63,288.54 L107.64,288.00 L108.65,289.50 L109.65,289.16 L110.66,286.09 L111.67,286.36 L112.68,288.00 L113.68,288.59 L114.69,288.13 L115.70,286.06 L116.71,287.29 L117.71,288.33 L118.72,288.56 L119.73,288.56 L120.74,288.58 L121.74,288.97 L122.75,288.52 L123.76,289.45 L124.77,287.91 L125.77,288.09 L126.78,287.81 L127.79,287.45 L128.80,289.21 L129.80,286.87 L130.81,289.63 L131.82,287.88 L132.83,289.97 L133.83,288.08 L134.84,288.87 L135.85,287.59 L136.86,288.92 L137.86,289.43 L138.87,289.11 L139.88,287.16 L140.89,289.59 L141.89,289.86 L142.90,288.42 L143.91,288.57 L144.92,290.29 L145.92,289.16 L146.93,287.26 L147.94,289.87 L148.95,289.80 L149.95,288.00 L150.96,287.42 L151.97,290.19 L152.98,286.61 L153.98,287.10 L154.99,289.38 L156.00,287.51 L157.01,286.62 L158.01,290.40 L159.02,288.79 L160.03,288.06 L161.04,286.78 L162.04,289.52 L163.05,290.23 L164.06,290.42 L165.07,287.86 L166.07,288.40 L167.08,290.39 L168.09,287.79 L169.10,286.61 L170.10,289.95 L171.11,290.33 L172.12,289.84 L173.13,288.61 L174.13,288.05 L175.14,286.64 L176.15,289.74 L177.16,289.49 L178.16,289.32 L179.17,288.62 L180.18,286.61 L181.19,289.68 L182.19,289.88 L183.20,289.06 L184.21,290.32 L185.22,289.59 L186.22,288.65 L187.23,288.94 L188.24,286.66 L189.25,289.22 L190.25,288.52 L191.26,288.24 L192.27,290.56 L193.28,287.86 L194.28,287.25 L195.29,289.87 L196.30,287.03 L197.31,288.10 L198.31,290.52 L199.32,288.02 L200.33,289.60 L201.34,287.94 L202.34,287.52 L203.35,289.08 L204.36,290.25 L205.37,287.23 L206.37,286.91 L207.38,287.83 L208.39,289.77 L209.40,290.25 L209.40,297.82 L208.39,301.06 L207.38,299.06 L206.37,298.08 L205.37,301.30 L204.36,298.01 L203.35,299.78 L202.34,301.12 L201.34,298.59 L200.33,301.02 L199.32,299.26 L198.31,299.75 L197.31,299.47 L196.30,297.74 L195.29,301.32 L194.28,299.17 L193.28,300.84 L192.27,301.33 L191.26,298.24 L190.25,299.98 L189.25,298.22 L188.24,299.57 L187.23,299.60 L186.22,301.07 L185.22,298.11 L184.21,301.19 L183.20,300.31 L182.19,298.11 L181.19,299.83 L180.18,300.59 L179.17,297.72 L178.16,298.27 L177.16,299.73 L176.15,299.81 L175.14,300.55 L174.13,297.84 L173.13,298.42 L172.12,299.97 L171.11,298.86 L170.10,301.27 L169.10,298.52 L168.09,298.64 L167.08,300.67 L166.07,297.64 L165.07,301.17 L164.06,297.67 L163.05,301.09 L162.04,298.09 L161.04,301.31 L160.03,301.33 L159.02,297.42 L158.01,297.72 L157.01,299.03 L156.00,298.92 L154.99,299.27 L153.98,301.07 L152.98,300.26 L151.97,300.00 L150.96,299.05 L149.95,297.63 L148.95,298.02 L147.94,299.41 L146.93,298.93 L145.92,298.23 L144.92,298.15 L143.91,299.34 L142.90,301.01 L141.89,299.30 L140.89,297.46 L139.88,297.69 L138.87,299.52 L137.86,298.96 L136.86,300.86 L135.85,298.18 L134.84,300.28 L133.83,299.44 L132.83,298.91 L131.82,298.87 L130.81,298.24 L129.80,298.17 L128.80,299.97 L127.79,299.49 L126.78,297.20 L125.77,300.49 L124.77,299.82 L123.76,299.62 L122.75,300.84 L121.74,300.83 L120.74,298.09 L119.73,299.26 L118.72,298.13 L117.71,297.00 L116.71,298.93 L115.70,297.17 L114.69,300.13 L113.68,298.22 L112.68,298.23 L111.67,297.73 L110.66,298.71 L109.65,298.46 L108.65,300.00 L107.64,298.48 L106.63,298.56 L105.62,299.23 L104.62,300.29 L103.61,299.97 L102.60,298.45 L101.59,296.90 L100.59,298.41 L99.58,297.12 L98.57,299.33 L97.56,298.23 L96.56,299.98 L95.55,298.38 L94.54,299.85 L93.53,297.54 L92.53,298.49 L91.52,296.17 L90.51,299.36 L89.50,296.24 L88.50,296.87 L87.49,296.01 L86.48,297.35 L85.47,298.16 L84.47,295.74 L83.46,298.41 L82.45,296.17 L81.44,297.96 L80.44,297.02 L79.43,296.71 L78.42,295.53 L77.41,297.75 L76.41,296.35 L75.40,295.73 L74.39,298.12 L73.38,296.04 L72.38,296.38 L71.37,296.28 L70.36,294.28 L69.35,294.56 L68.35,294.58 L67.34,297.11 L66.33,295.97 L65.32,297.47 L64.32,296.86 L63.31,294.59 L62.30,294.84 L61.29,296.02 L60.29,294.62 L59.28,295.74 L58.27,294.81 L57.26,292.76 L56.26,294.58 L55.25,293.43 L54.24,293.02 L53.23,292.80 L52.23,292.16 L51.22,295.35 L50.21,293.20 L49.20,294.07 Z" stroke="none" stroke-width="0" fill="#ff8000" stroke-linejoin="round" stroke-linecap="round" />
<path d="M38.93,314.09 L39.17,305.39 L39.41,312.98 L39.65,314.05 L39.90,318.41 L40.14,319.08 L40.38,312.90 L40.62,308.50 L40.86,312.45 L41.10,315.20 L41.35,317.04 L41.59,314.24 L41.83,310.42 L42.07,313.43 L42.31,318.86 L42.56,310.35 L42.80,311.27 L43.04,326.01 L43.28,312.23 L43.52,306.46 L43.76,313.18 L44.01,317.85 L44.25,311.07 L44.49,310.46 L44.73,318.52 L44.97,325.03 L45.21,314.86 L45.46,313.42 L45.70,307.75 L45.94,311.82 L46.18,309.53 L46.42,306.07 L46.67,311.31 L46.91,322.93 L47.15,312.61 L47.39,310.46 L47.63,308.92 L47.87,318.99 L48.12,318.29 L48.36,314.45 L48.60,320.28 L48.84,312.95 L49.08,226.89 L49.33,228.42 L49.57,228.54 L49.81,235.52 L50.05,231.15 L50.29,232.32 L50.53,239.31 L50.78,237.05 L51.02,227.12 L51.26,235.33 L51.50,225.91 L51.74,234.62 L51.99,239.62 L52.23,239.24 L52.47,233.86 L52.71,236.45 L52.95,238.60 L53.19,238.61 L53.44,237.81 L53.68,238.27 L53.92,245.84 L54.16,241.64 L54.40,241.43 L54.65,239.17 L54.89,235.60 L55.13,249.57 L55.37,238.00 L55.61,245.97 L55.85,249.80 L56.10,247.88 L56.34,248.92 L56.58,246.99 L56.82,243.92 L57.06,245.68 L57.30,248.85 L57.55,249.31 L57.79,246.12 L58.03,254.97 L58.27,247.23 L58.51,252.70 L58.76,246.11 L59.00,247.06 L59.24,247.92 L59.48,251.93 L59.72,246.59 L59.96,253.54 L60.21,253.82 L60.45,256.46 L60.69,249.82 L60.93,256.50 L61.17,260.53 L61.42,252.59 L61.66,258.26 L61.90,258.46 L62.14,251.93 L62.38,256.44 L62.62,253.72 L62.87,251.01 L63.11,257.09 L63.35,253.69 L63.59,253.07 L63.83,250.41 L64.08,252.93 L64.32,254.00 L64.56,255.58 L64.80,253.15 L65.04,263.71 L65.28,254.10 L65.53,251.56 L65.77,253.30 L66.01,256.99 L66.25,255.65 L66.49,259.03 L66.74,260.16 L66.98,258.02 L67.22,262.70 L67.46,259.71 L67.70,254.82 L67.94,258.44 L68.19,261.59 L68.43,261.35 L68.67,255.46 L68.91,257.77 L69.15,255.18 L69.39,257.62 L69.64,257.94 L69.88,256.55 L70.12,263.63 L70.36,259.56 L70.60,263.87 L70.85,250.09 L71.09,259.69 L71.33,261.72 L71.57,250.48 L71.81,263.06 L72.05,262.76 L72.30,252.88 L72.54,265.78 L72.78,264.22 L73.02,260.24 L73.26,262.80 L73.51,255.04 L73.75,258.33 L73.99,264.97 L74.23,257.97 L74.47,262.43 L74.71,260.46 L74.96,268.84 L75.20,262.30 L75.44,260.90 L75.68,265.24 L75.92,256.64 L76.17,262.48 L76.41,263.48 L76.65,254.80 L76.89,254.68 L77.13,260.37 L77.37,252.10 L77.62,268.57 L77.86,254.93 L78.10,261.19 L78.34,260.12 L78.58,267.88 L78.83,257.61 L79.07,260.83 L79.31,262.54 L79.55,263.56 L79.79,262.29 L80.03,266.79 L80.28,259.56 L80.52,261.92 L80.76,270.45 L81.00,264.19 L81.24,256.03 L81.48,269.20 L81.73,262.06 L81.97,266.86 L82.21,259.62 L82.45,267.75 L82.69,266.86 L82.94,270.38 L83.18,266.22 L83.42,263.69 L83.66,266.10 L83.90,263.46 L84.14,259.08 L84.39,270.28 L84.63,271.93 L84.87,265.33 L85.11,276.50 L85.35,262.51 L85.60,275.94 L85.84,262.57 L86.08,256.70 L86.32,267.08 L86.56,254.17 L86.80,266.68 L87.05,265.06 L87.29,262.33 L87.53,265.89 L87.77,265.05 L88.01,264.68 L88.26,275.81 L88.50,262.93 L88.74,265.56 L88.98,264.19 L89.22,254.96 L89.46,270.97 L89.71,265.68 L89.95,257.60 L90.19,264.11 L90.43,271.02 L90.67,269.47 L90.92,269.11 L91.16,262.67 L91.40,263.95 L91.64,275.85 L91.88,270.14 L92.12,263.72 L92.37,268.76 L92.61,263.84 L92.85,265.55 L93.09,261.21 L93.33,271.21 L93.57,264.35 L93.82,264.64 L94.06,272.54 L94.30,265.67 L94.54,259.31 L94.78,274.89 L95.03,262.45 L95.27,269.56 L95.51,273.03 L95.75,267.27 L95.99,264.62 L96.23,267.94 L96.48,269.04 L96.72,269.19 L96.96,269.87 L97.20,263.83 L97.44,266.58 L97.69,273.68 L97.93,272.77 L98.17,267.71 L98.41,274.18 L98.65,269.97 L98.89,272.58 L99.14,268.76 L99.38,267.83 L99.62,270.91 L99.86,274.92 L100.10,269.16 L100.35,277.89 L100.59,272.89 L100.83,267.93 L101.07,266.79 L101.31,272.09 L101.55,265.19 L101.80,270.51 L102.04,260.39 L102.28,270.84 L102.52,273.26 L102.76,274.89 L103.01,271.08 L103.25,268.62 L103.49,267.75 L103.73,274.69 L103.97,269.06 L104.21,269.47 L104.46,270.61 L104.70,274.90 L104.94,270.26 L105.18,272.20 L105.42,267.16 L105.66,275.06 L105.91,269.46 L106.15,267.88 L106.39,269.63 L106.63,276.15 L106.87,270.85 L107.12,276.07 L107.36,269.03 L107.60,267.92 L107.84,269.10 L108.08,275.84 L108.32,272.56 L108.57,270.19 L108.81,270.47 L109.05,275.24 L109.29,265.09 L109.53,264.54 L109.78,278.09 L110.02,265.96 L110.26,273.38 L110.50,269.32 L110.74,272.68 L110.98,267.20 L111.23,272.58 L111.47,266.99 L111.71,268.94 L111.95,271.37 L112.19,274.43 L112.44,272.67 L112.68,271.95 L112.92,273.60 L113.16,274.57 L113.40,271.52 L113.64,272.33 L113.89,284.77 L114.13,273.97 L114.37,272.61 L114.61,268.59 L114.85,274.32 L115.10,267.67 L115.34,271.03 L115.58,263.37 L115.82,271.42 L116.06,274.55 L116.30,273.53 L116.55,270.41 L116.79,264.01 L117.03,275.13 L117.27,268.87 L117.51,266.99 L117.75,266.18 L118.00,263.41 L118.24,270.70 L118.48,271.81 L118.72,275.19 L118.96,273.12 L119.21,271.28 L119.45,271.15 L119.69,274.74 L119.93,268.65 L120.17,265.95 L120.41,273.13 L120.66,275.10 L120.90,268.96 L121.14,278.28 L121.38,273.18 L121.62,269.69 L121.87,270.80 L122.11,269.92 L122.35,275.17 L122.59,267.97 L122.83,272.51 L123.07,264.59 L123.32,274.92 L123.56,272.54 L123.80,272.64 L124.04,266.85 L124.28,277.71 L124.53,271.98 L124.77,277.84 L125.01,272.66 L125.25,276.93 L125.49,269.12 L125.73,274.91 L125.98,270.23 L126.22,277.11 L126.46,287.65 L126.70,274.56 L126.94,275.72 L127.19,270.79 L127.43,281.11 L127.67,273.16 L127.91,283.27 L128.15,268.56 L128.39,274.75 L128.64,271.32 L128.88,272.73 L129.12,271.95 L129.36,278.46 L129.60,274.06 L129.84,273.43 L130.09,280.45 L130.33,276.59 L130.57,273.68 L130.81,280.10 L131.05,283.54 L131.30,275.44 L131.54,270.95 L131.78,272.35 L132.02,274.34 L132.26,273.61 L132.50,274.18 L132.75,269.34 L132.99,271.57 L133.23,276.42 L133.47,266.72 L133.71,275.10 L133.96,274.04 L134.20,282.17 L134.44,270.95 L134.68,275.55 L134.92,276.26 L135.16,269.02 L135.41,271.28 L135.65,281.46 L135.89,278.86 L136.13,275.20 L136.37,269.07 L136.62,277.52 L136.86,274.19 L137.10,277.14 L137.34,272.26 L137.58,274.48 L137.82,270.06 L138.07,275.26 L138.31,277.55 L138.55,276.97 L138.79,270.47 L139.03,270.69 L139.27,272.51 L139.52,275.34 L139.76,278.34 L140.00,273.26 L140.24,275.05 L140.48,267.55 L140.73,268.86 L140.97,273.54 L141.21,271.28 L141.45,271.38 L141.69,269.88 L141.93,266.44 L142.18,285.76 L142.42,268.60 L142.66,276.17 L142.90,270.94 L143.14,281.96 L143.39,274.90 L143.63,270.30 L143.87,274.65 L144.11,270.78 L144.35,268.85 L144.59,271.77 L144.84,270.40 L145.08,269.74 L145.32,271.61 L145.56,274.09 L145.80,269.96 L146.05,288.98 L146.29,276.30 L146.53,276.53 L146.77,281.54 L147.01,273.70 L147.25,283.07 L147.50,271.98 L147.74,275.45 L147.98,273.95 L148.22,278.22 L148.46,278.09 L148.71,273.38 L148.95,270.22 L149.19,275.87 L149.43,279.93 L149.67,279.41 L149.91,272.89 L150.16,280.61 L150.40,274.00 L150.64,272.85 L150.88,273.14 L151.12,271.16 L151.36,274.37 L151.61,268.89 L151.85,277.43 L152.09,271.08 L152.33,274.63 L152.57,283.44 L152.82,270.12 L153.06,274.98 L153.30,272.01 L153.54,274.33 L153.78,272.84 L154.02,277.52 L154.27,273.18 L154.51,271.24 L154.75,279.46 L154.99,271.01 L155.23,274.26 L155.48,280.55 L155.72,280.98 L155.96,276.29 L156.20,274.64 L156.44,274.31 L156.68,271.20 L156.93,275.22 L157.17,281.00 L157.41,271.31 L157.65,277.47 L157.89,275.96 L158.14,275.55 L158.38,276.99 L158.62,274.21 L158.86,271.58 L159.10,271.74 L159.34,273.34 L159.59,275.19 L159.83,287.07 L160.07,281.51 L160.31,277.21 L160.55,280.70 L160.80,277.42 L161.04,268.91 L161.28,284.16 L161.52,282.52 L161.76,280.69 L162.00,281.83 L162.25,270.79 L162.49,286.74 L162.73,273.13 L162.97,288.36 L163.21,272.38 L163.45,277.88 L163.70,282.52 L163.94,277.17 L164.18,279.32 L164.42,284.52 L164.66,275.72 L164.91,274.87 L165.15,275.41 L165.39,266.08 L165.63,272.46 L165.87,276.91 L166.11,279.06 L166.36,272.19 L166.60,277.29 L166.84,264.93 L167.08,276.60 L167.32,279.94 L167.57,278.00 L167.81,275.50 L168.05,276.42 L168.29,271.28 L168.53,279.14 L168.77,281.94 L169.02,283.42 L169.26,273.84 L169.50,273.08 L169.74,279.53 L169.98,278.68 L170.23,282.30 L170.47,274.58 L170.71,272.75 L170.95,283.50 L171.19,263.92 L171.43,265.71 L171.68,278.50 L171.92,275.00 L172.16,270.24 L172.40,290.68 L172.64,275.63 L172.89,280.16 L173.13,279.80 L173.37,277.40 L173.61,273.31 L173.85,275.93 L174.09,279.19 L174.34,274.17 L174.58,278.59 L174.82,279.71 L175.06,279.25 L175.30,270.09 L175.54,271.93 L175.79,278.50 L176.03,275.54 L176.27,277.20 L176.51,267.11 L176.75,282.71 L177.00,280.08 L177.24,278.89 L177.48,268.78 L177.72,271.01 L177.96,273.86 L178.20,276.66 L178.45,287.73 L178.69,273.45 L178.93,271.32 L179.17,285.87 L179.41,275.32 L179.66,277.31 L179.90,274.84 L180.14,272.33 L180.38,277.23 L180.62,272.35 L180.86,277.57 L181.11,277.21 L181.35,278.75 L181.59,276.25 L181.83,275.47 L182.07,275.92 L182.32,283.74 L182.56,274.56 L182.80,274.97 L183.04,279.53 L183.28,278.21 L183.52,270.26 L183.77,277.76 L184.01,283.84 L184.25,278.32 L184.49,280.15 L184.73,275.10 L184.98,275.84 L185.22,281.33 L185.46,277.82 L185.70,277.04 L185.94,279.29 L186.18,269.77 L186.43,273.80 L186.67,275.75 L186.91,273.11 L187.15,280.35 L187.39,279.00 L187.63,276.09 L187.88,277.77 L188.12,281.53 L188.36,277.96 L188.60,282.13 L188.84,274.75 L189.09,275.21 L189.33,274.30 L189.57,280.59 L189.81,271.05 L190.05,284.71 L190.29,274.39 L190.54,276.56 L190.78,274.52 L191.02,278.24 L191.26,277.57 L191.50,280.65 L191.75,267.65 L191.99,272.24 L192.23,275.45 L192.47,281.28 L192.71,274.32 L192.95,272.52 L193.20,279.30 L193.44,278.18 L193.68,284.79 L193.92,273.46 L194.16,277.32 L194.41,280.48 L194.65,277.39 L194.89,278.48 L195.13,277.18 L195.37,278.84 L195.61,276.95 L195.86,279.40 L196.10,284.21 L196.34,277.27 L196.58,281.42 L196.82,284.92 L197.07,276.83 L197.31,275.76 L197.55,279.46 L197.79,276.13 L198.03,278.70 L198.27,274.26 L198.52,276.15 L198.76,276.25 L199.00,273.28 L199.24,279.42 L199.48,279.75 L199.72,283.40 L199.97,276.94 L200.21,283.67 L200.45,277.44 L200.69,282.63 L200.93,279.19 L201.18,273.07 L201.42,277.16 L201.66,272.39 L201.90,280.48 L202.14,278.27 L202.38,277.94 L202.63,280.22 L202.87,274.11 L203.11,282.74 L203.35,272.85 L203.59,280.10 L203.84,274.30 L204.08,281.02 L204.32,280.24 L204.56,276.61 L204.80,281.77 L205.04,273.28 L205.29,275.43 L205.53,266.23 L205.77,284.89 L206.01,277.38 L206.25,276.96 L206.50,275.95 L206.74,280.64 L206.98,280.09 L207.22,278.55 L207.46,278.93 L207.70,279.81 L207.95,278.66 L208.19,279.03 L208.43,282.66 L208.67,279.05 L208.91,270.67 L209.16,279.28 L209.40,280.98 L209.64,281.88" stroke="#8000ff" stroke-width="1.25" fill="none" stroke-linejoin="round" stroke-linecap="round" />
<path d="M38.93,320.34 L39.17,314.48 L39.41,309.65 L39.65,315.36 L39.90,316.78 L40.14,317.93 L40.38,310.56 L40.62,325.31 L40.86,309.62 L41.10,318.70 L41.35,315.66 L41.59,317.93 L41.83,316.40 L42.07,320.81 L42.31,314.58 L42.56,311.63 L42.80,296.91 L43.04,322.39 L43.28,314.91 L43.52,307.40 L43.76,307.03 L44.01,315.39 L44.25,320.74 L44.49,306.28 L44.73,322.17 L44.97,315.63 L45.21,312.61 L45.46,314.22 L45.70,308.30 L45.94,297.64 L46.18,317.85 L46.42,317.38 L46.67,313.04 L46.91,315.63 L47.15,304.17 L47.39,308.70 L47.63,322.65 L47.87,318.66 L48.12,312.06 L48.36,318.85 L48.60,307.72 L48.84,318.33 L49.08,285.03 L49.33,287.53 L49.57,285.88 L49.81,291.61 L50.05,283.05 L50.29,286.06 L50.53,292.75 L50.78,285.45 L51.02,287.49 L51.26,293.95 L51.50,285.31 L51.74,284.84 L51.99,276.35 L52.23,285.95 L52.47,286.87 L52.71,280.33 L52.95,293.59 L53.19,283.87 L53.44,284.26 L53.68,283.41 L53.92,290.58 L54.16,291.18 L54.40,286.68 L54.65,295.04 L54.89,289.67 L55.13,281.96 L55.37,285.13 L55.61,290.65 L55.85,287.53 L56.10,291.56 L56.34,287.23 L56.58,283.47 L56.82,283.47 L57.06,285.84 L57.30,282.37 L57.55,286.13 L57.79,293.12 L58.03,287.48 L58.27,286.27 L58.51,299.15 L58.76,285.99 L59.00,287.92 L59.24,291.15 L59.48,289.31 L59.72,289.98 L59.96,290.59 L60.21,298.43 L60.45,280.21 L60.69,289.29 L60.93,275.29 L61.17,286.70 L61.42,288.33 L61.66,285.40 L61.90,287.90 L62.14,281.21 L62.38,288.42 L62.62,277.38 L62.87,289.23 L63.11,280.44 L63.35,290.79 L63.59,288.98 L63.83,281.33 L64.08,288.11 L64.32,288.47 L64.56,295.90 L64.80,284.21 L65.04,295.08 L65.28,285.00 L65.53,293.58 L65.77,290.66 L66.01,287.99 L66.25,282.15 L66.49,294.46 L66.74,280.98 L66.98,289.48 L67.22,289.42 L67.46,273.57 L67.70,291.11 L67.94,292.12 L68.19,287.12 L68.43,296.10 L68.67,282.76 L68.91,291.59 L69.15,285.16 L69.39,293.73 L69.64,289.55 L69.88,287.75 L70.12,285.25 L70.36,292.31 L70.60,293.16 L70.85,297.38 L71.09,288.66 L71.33,291.29 L71.57,294.41 L71.81,284.63 L72.05,290.24 L72.30,295.29 L72.54,282.51 L72.78,291.93 L73.02,307.10 L73.26,292.00 L73.51,289.12 L73.75,300.06 L73.99,291.73 L74.23,296.36 L74.47,286.95 L74.71,298.90 L74.96,281.74 L75.20,299.55 L75.44,295.04 L75.68,289.31 L75.92,287.58 L76.17,299.76 L76.41,292.61 L76.65,288.01 L76.89,289.17 L77.13,288.32 L77.37,291.62 L77.62,291.59 L77.86,293.17 L78.10,297.08 L78.34,294.55 L78.58,296.01 L78.83,290.30 L79.07,297.01 L79.31,288.83 L79.55,277.25 L79.79,280.12 L80.03,299.22 L80.28,288.63 L80.52,288.38 L80.76,285.98 L81.00,291.69 L81.24,286.14 L81.48,284.43 L81.73,291.29 L81.97,290.66 L82.21,291.90 L82.45,284.65 L82.69,293.27 L82.94,302.08 L83.18,287.53 L83.42,288.97 L83.66,291.18 L83.90,289.68 L84.14,284.92 L84.39,287.04 L84.63,299.42 L84.87,301.37 L85.11,283.28 L85.35,295.27 L85.60,291.76 L85.84,281.36 L86.08,284.87 L86.32,301.53 L86.56,310.18 L86.80,295.60 L87.05,296.69 L87.29,290.08 L87.53,294.81 L87.77,292.47 L88.01,291.53 L88.26,293.94 L88.50,280.35 L88.74,288.26 L88.98,285.89 L89.22,289.41 L89.46,290.52 L89.71,296.73 L89.95,290.62 L90.19,288.11 L90.43,289.54 L90.67,292.28 L90.92,289.51 L91.16,293.42 L91.40,295.61 L91.64,297.62 L91.88,293.00 L92.12,293.20 L92.37,288.40 L92.61,289.44 L92.85,288.62 L93.09,291.89 L93.33,280.58 L93.57,292.81 L93.82,294.41 L94.06,295.19 L94.30,275.68 L94.54,280.16 L94.78,294.73 L95.03,297.35 L95.27,282.93 L95.51,295.62 L95.75,289.93 L95.99,288.14 L96.23,296.86 L96.48,293.05 L96.72,303.30 L96.96,296.00 L97.20,297.45 L97.44,295.74 L97.69,285.76 L97.93,298.81 L98.17,296.64 L98.41,300.12 L98.65,282.68 L98.89,286.22 L99.14,294.87 L99.38,297.89 L99.62,289.78 L99.86,294.43 L100.10,298.05 L100.35,296.46 L100.59,294.57 L100.83,290.38 L101.07,296.65 L101.31,275.07 L101.55,298.35 L101.80,294.41 L102.04,297.10 L102.28,285.29 L102.52,288.63 L102.76,287.59 L103.01,278.83 L103.25,288.28 L103.49,290.80 L103.73,294.42 L103.97,292.58 L104.21,284.05 L104.46,297.46 L104.70,292.11 L104.94,298.46 L105.18,294.55 L105.42,278.48 L105.66,289.23 L105.91,287.12 L106.15,295.64 L106.39,300.21 L106.63,288.59 L106.87,280.81 L107.12,294.90 L107.36,291.90 L107.60,293.57 L107.84,301.55 L108.08,295.63 L108.32,292.45 L108.57,301.78 L108.81,286.45 L109.05,291.88 L109.29,296.66 L109.53,293.07 L109.78,293.10 L110.02,297.84 L110.26,299.24 L110.50,287.70 L110.74,293.01 L110.98,296.08 L111.23,290.15 L111.47,311.77 L111.71,296.77 L111.95,296.84 L112.19,296.94 L112.44,300.99 L112.68,286.09 L112.92,289.94 L113.16,288.65 L113.40,288.26 L113.64,297.45 L113.89,284.51 L114.13,293.25 L114.37,302.98 L114.61,294.70 L114.85,301.87 L115.10,289.43 L115.34,292.79 L115.58,311.29 L115.82,291.11 L116.06,296.98 L116.30,287.65 L116.55,290.60 L116.79,295.61 L117.03,293.57 L117.27,300.61 L117.51,291.54 L117.75,295.33 L118.00,294.68 L118.24,283.36 L118.48,297.29 L118.72,292.69 L118.96,301.20 L119.21,296.32 L119.45,294.74 L119.69,306.71 L119.93,297.97 L120.17,298.60 L120.41,295.68 L120.66,298.95 L120.90,297.42 L121.14,293.73 L121.38,291.71 L121.62,292.16 L121.87,291.42 L122.11,306.37 L122.35,284.85 L122.59,293.81 L122.83,287.59 L123.07,292.41 L123.32,298.48 L123.56,282.73 L123.80,293.82 L124.04,286.38 L124.28,300.45 L124.53,285.65 L124.77,297.63 L125.01,298.96 L125.25,293.92 L125.49,304.59 L125.73,298.97 L125.98,278.93 L126.22,286.25 L126.46,288.76 L126.70,285.01 L126.94,287.92 L127.19,292.91 L127.43,293.53 L127.67,298.94 L127.91,294.33 L128.15,300.66 L128.39,306.31 L128.64,283.13 L128.88,285.60 L129.12,285.87 L129.36,298.71 L129.60,303.96 L129.84,305.28 L130.09,283.38 L130.33,290.51 L130.57,290.90 L130.81,305.44 L131.05,290.91 L131.30,296.66 L131.54,287.65 L131.78,285.83 L132.02,290.60 L132.26,292.95 L132.50,291.46 L132.75,286.71 L132.99,296.68 L133.23,284.14 L133.47,299.82 L133.71,293.14 L133.96,293.12 L134.20,302.22 L134.44,293.74 L134.68,303.59 L134.92,285.81 L135.16,285.32 L135.41,290.82 L135.65,292.62 L135.89,297.16 L136.13,293.52 L136.37,293.96 L136.62,293.98 L136.86,294.03 L137.10,282.55 L137.34,287.82 L137.58,306.99 L137.82,290.02 L138.07,287.98 L138.31,295.81 L138.55,287.84 L138.79,291.79 L139.03,287.57 L139.27,300.43 L139.52,300.87 L139.76,303.08 L140.00,294.17 L140.24,300.46 L140.48,280.49 L140.73,299.88 L140.97,292.21 L141.21,290.90 L141.45,284.77 L141.69,299.41 L141.93,291.61 L142.18,293.46 L142.42,293.85 L142.66,287.35 L142.90,280.67 L143.14,287.50 L143.39,295.92 L143.63,291.73 L143.87,295.37 L144.11,294.82 L144.35,292.24 L144.59,294.04 L144.84,283.15 L145.08,296.74 L145.32,296.39 L145.56,286.39 L145.80,298.79 L146.05,287.89 L146.29,297.71 L146.53,302.76 L146.77,291.84 L147.01,291.70 L147.25,287.24 L147.50,282.98 L147.74,286.44 L147.98,288.61 L148.22,296.74 L148.46,296.23 L148.71,293.88 L148.95,295.88 L149.19,295.86 L149.43,295.88 L149.67,286.64 L149.91,290.83 L150.16,303.92 L150.40,299.81 L150.64,286.82 L150.88,295.29 L151.12,293.50 L151.36,302.55 L151.61,291.53 L151.85,286.93 L152.09,286.67 L152.33,290.69 L152.57,287.85 L152.82,285.29 L153.06,291.48 L153.30,285.24 L153.54,288.67 L153.78,286.59 L154.02,301.42 L154.27,296.66 L154.51,286.32 L154.75,292.24 L154.99,289.91 L155.23,277.02 L155.48,291.93 L155.72,293.80 L155.96,289.78 L156.20,296.59 L156.44,288.53 L156.68,298.82 L156.93,299.27 L157.17,286.17 L157.41,298.40 L157.65,295.34 L157.89,299.78 L158.14,295.70 L158.38,295.48 L158.62,282.39 L158.86,303.99 L159.10,298.93 L159.34,287.44 L159.59,292.50 L159.83,296.37 L160.07,290.72 L160.31,299.28 L160.55,294.69 L160.80,293.74 L161.04,302.38 L161.28,293.18 L161.52,286.30 L161.76,289.71 L162.00,306.51 L162.25,275.53 L162.49,294.79 L162.73,298.53 L162.97,298.95 L163.21,299.89 L163.45,289.31 L163.70,289.17 L163.94,290.69 L164.18,289.96 L164.42,297.59 L164.66,290.28 L164.91,299.05 L165.15,290.81 L165.39,294.78 L165.63,293.84 L165.87,296.32 L166.11,292.56 L166.36,295.86 L166.60,291.64 L166.84,298.49 L167.08,290.81 L167.32,295.25 L167.57,297.43 L167.81,298.23 L168.05,292.35 L168.29,290.44 L168.53,287.81 L168.77,294.05 L169.02,285.12 L169.26,288.58 L169.50,298.32 L169.74,295.37 L169.98,304.68 L170.23,288.50 L170.47,296.28 L170.71,287.38 L170.95,295.13 L171.19,294.51 L171.43,300.59 L171.68,301.95 L171.92,294.61 L172.16,284.64 L172.40,297.51 L172.64,300.16 L172.89,299.29 L173.13,288.18 L173.37,294.20 L173.61,296.31 L173.85,295.33 L174.09,288.78 L174.34,284.46 L174.58,290.63 L174.82,299.35 L175.06,300.00 L175.30,290.18 L175.54,288.62 L175.79,304.53 L176.03,289.49 L176.27,292.81 L176.51,292.94 L176.75,294.51 L177.00,292.74 L177.24,293.72 L177.48,288.77 L177.72,305.86 L177.96,304.78 L178.20,294.38 L178.45,301.58 L178.69,301.78 L178.93,296.91 L179.17,297.29 L179.41,296.43 L179.66,294.15 L179.90,311.01 L180.14,299.35 L180.38,300.05 L180.62,286.62 L180.86,300.10 L181.11,289.25 L181.35,294.05 L181.59,289.77 L181.83,290.99 L182.07,296.94 L182.32,291.48 L182.56,302.89 L182.80,291.39 L183.04,289.19 L183.28,300.64 L183.52,292.79 L183.77,300.27 L184.01,291.16 L184.25,296.51 L184.49,288.86 L184.73,284.04 L184.98,306.32 L185.22,298.36 L185.46,293.15 L185.70,302.84 L185.94,294.94 L186.18,293.95 L186.43,291.13 L186.67,290.46 L186.91,295.37 L187.15,290.30 L187.39,299.41 L187.63,293.01 L187.88,285.98 L188.12,301.74 L188.36,296.07 L188.60,293.63 L188.84,290.68 L189.09,298.15 L189.33,288.02 L189.57,290.29 L189.81,291.25 L190.05,286.06 L190.29,290.39 L190.54,290.75 L190.78,299.22 L191.02,283.56 L191.26,291.17 L191.50,291.90 L191.75,291.25 L191.99,306.31 L192.23,293.83 L192.47,298.21 L192.71,297.93 L192.95,298.64 L193.20,288.65 L193.44,286.51 L193.68,300.13 L193.92,296.76 L194.16,291.43 L194.41,297.03 L194.65,297.60 L194.89,299.74 L195.13,297.59 L195.37,292.87 L195.61,290.94 L195.86,291.73 L196.10,282.76 L196.34,294.28 L196.58,300.02 L196.82,298.55 L197.07,290.84 L197.31,297.71 L197.55,296.54 L197.79,300.84 L198.03,293.12 L198.27,294.85 L198.52,294.32 L198.76,298.07 L199.00,292.84 L199.24,287.53 L199.48,300.13 L199.72,304.21 L199.97,291.51 L200.21,283.84 L200.45,299.08 L200.69,278.50 L200.93,293.69 L201.18,294.36 L201.42,305.37 L201.66,294.27 L201.90,293.54 L202.14,295.91 L202.38,299.89 L202.63,285.15 L202.87,291.47 L203.11,297.54 L203.35,297.05 L203.59,292.74 L203.84,293.26 L204.08,300.24 L204.32,286.44 L204.56,296.12 L204.80,291.19 L205.04,294.78 L205.29,292.83 L205.53,296.62 L205.77,284.57 L206.01,292.50 L206.25,300.33 L206.50,304.57 L206.74,298.20 L206.98,289.32 L207.22,287.61 L207.46,298.79 L207.70,305.61 L207.95,289.78 L208.19,296.55 L208.43,298.49 L208.67,298.45 L208.91,303.31 L209.16,295.18 L209.40,289.96 L209.64,302.72" stroke="#ff8000" stroke-width="1.25" fill="none" stroke-linejoin="round" stroke-linecap="round" />
<line x1="39.00" y1="197.60" x2="210.20" y2="197.60" stroke="#000" stroke-width="1.3" />
<line x1="210.20" y1="197.60" x2="210.20" y2="349.30" stroke="#000" stroke-width="1.3" />
<line x1="39.00" y1="197.00" x2="39.00" y2="349.90" stroke="#000" stroke-width="1.3" />
<line x1="38.40" y1="349.30" x2="210.80" y2="349.30" stroke="#000" stroke-width="1.3" />
<line x1="36.20" y1="214.80" x2="39.00" y2="214.80" stroke="#000" stroke-width="1.1" />
<text x="34.60" y="218.20" font-size="9.6" text-anchor="end" fill="#000" font-weight="bold" >1.5</text>
<line x1="36.20" y1="248.40" x2="39.00" y2="248.40" stroke="#000" stroke-width="1.1" />
<text x="34.60" y="251.80" font-size="9.6" text-anchor="end" fill="#000" font-weight="bold" >1.0</text>
<line x1="36.20" y1="282.00" x2="39.00" y2="282.00" stroke="#000" stroke-width="1.1" />
<text x="34.60" y="285.40" font-size="9.6" text-anchor="end" fill="#000" font-weight="bold" >0.5</text>
<line x1="36.20" y1="315.60" x2="39.00" y2="315.60" stroke="#000" stroke-width="1.1" />
<text x="34.60" y="319.00" font-size="9.6" text-anchor="end" fill="#000" font-weight="bold" >0.0</text>
<line x1="36.20" y1="349.20" x2="39.00" y2="349.20" stroke="#000" stroke-width="1.1" />
<text x="34.60" y="352.60" font-size="9.6" text-anchor="end" fill="#000" font-weight="bold" >-0.5</text>
<line x1="37.20" y1="231.60" x2="39.00" y2="231.60" stroke="#000" stroke-width="1.0" />
<line x1="37.20" y1="265.20" x2="39.00" y2="265.20" stroke="#000" stroke-width="1.0" />
<line x1="37.20" y1="298.80" x2="39.00" y2="298.80" stroke="#000" stroke-width="1.0" />
<line x1="37.20" y1="332.40" x2="39.00" y2="332.40" stroke="#000" stroke-width="1.0" />
<line x1="48.60" y1="349.30" x2="48.60" y2="352.10" stroke="#000" stroke-width="1.1" />
<text x="48.60" y="361.50" font-size="9.6" text-anchor="middle" fill="#000" font-weight="bold" >0</text>
<line x1="68.75" y1="349.30" x2="68.75" y2="351.10" stroke="#000" stroke-width="1.1" />
<line x1="88.90" y1="349.30" x2="88.90" y2="352.10" stroke="#000" stroke-width="1.1" />
<text x="88.90" y="361.50" font-size="9.6" text-anchor="middle" fill="#000" font-weight="bold" >2</text>
<line x1="109.05" y1="349.30" x2="109.05" y2="351.10" stroke="#000" stroke-width="1.1" />
<line x1="129.20" y1="349.30" x2="129.20" y2="352.10" stroke="#000" stroke-width="1.1" />
<text x="129.20" y="361.50" font-size="9.6" text-anchor="middle" fill="#000" font-weight="bold" >4</text>
<line x1="149.35" y1="349.30" x2="149.35" y2="351.10" stroke="#000" stroke-width="1.1" />
<line x1="169.50" y1="349.30" x2="169.50" y2="352.10" stroke="#000" stroke-width="1.1" />
<text x="169.50" y="361.50" font-size="9.6" text-anchor="middle" fill="#000" font-weight="bold" >6</text>
<line x1="189.65" y1="349.30" x2="189.65" y2="351.10" stroke="#000" stroke-width="1.1" />
<line x1="209.80" y1="349.30" x2="209.80" y2="352.10" stroke="#000" stroke-width="1.1" />
<text x="209.80" y="361.50" font-size="9.6" text-anchor="middle" fill="#000" font-weight="bold" >8</text>
<text x="124.00" y="372.90" font-size="11.2" text-anchor="middle" fill="#000" font-weight="bold" >Time (μs)</text>
<text transform="translate(14.6 268.8) rotate(-90)" font-size="11.3" font-weight="bold" text-anchor="middle">ΦΣμ /10<tspan dy="-4" font-size="7.8">-5</tspan><tspan dy="4"> cm</tspan><tspan dy="-4" font-size="7.8">2</tspan><tspan dy="4">/Vs</tspan></text>
<line x1="126.00" y1="206.40" x2="149.50" y2="206.40" stroke="#8000ff" stroke-width="1.3" />
<text x="151.30" y="210.00" font-size="9.7" text-anchor="start" fill="#000" font-weight="bold" >DCNA-1_AC</text>
<line x1="126.00" y1="218.20" x2="149.50" y2="218.20" stroke="#ff8000" stroke-width="1.3" />
<text x="151.30" y="221.80" font-size="9.7" text-anchor="start" fill="#000" font-weight="bold" >DNCA-1_AC</text>
<line x1="51.90" y1="204.10" x2="51.90" y2="225.50" stroke="#000" stroke-width="1.9" />
<path d="M49.70,223.80 L51.90,229.30 L54.10,223.80 Z" stroke="#000" stroke-width="0.6" fill="#000" stroke-linejoin="round" stroke-linecap="round" />
<text x="56.50" y="217.70" font-size="8.6" text-anchor="start" fill="#000" font-weight="bold" >Light on</text>
<defs>
<pattern id="stripP" patternUnits="userSpaceOnUse" width="2.35" height="10"><rect x="0" y="0" width="0.95" height="10" fill="#2c0070"/></pattern>
<pattern id="stripO" patternUnits="userSpaceOnUse" width="1.9" height="10"><rect x="0" y="0" width="0.8" height="10" fill="#a84800" opacity="0.5"/></pattern>
<linearGradient id="bandP" gradientUnits="userSpaceOnUse" x1="350" y1="262" x2="353" y2="290">
<stop offset="0" stop-color="#ffffff" stop-opacity="0"/>
<stop offset="0.5" stop-color="#f4ecff" stop-opacity="0.85"/>
<stop offset="1" stop-color="#ffffff" stop-opacity="0"/>
</linearGradient>
<linearGradient id="gradO" gradientUnits="userSpaceOnUse" x1="575.2" y1="216.8" x2="605.5" y2="337.9">
<stop offset="0" stop-color="#ff8405"/>
<stop offset="0.26" stop-color="#ff8000"/>
<stop offset="0.34" stop-color="#f57300"/>
<stop offset="0.40" stop-color="#f89a50"/>
<stop offset="0.46" stop-color="#fcd2ae"/>
<stop offset="0.49" stop-color="#fde4cc"/>
<stop offset="0.55" stop-color="#fbc090"/>
<stop offset="0.62" stop-color="#fa9640"/>
<stop offset="0.72" stop-color="#f88010"/>
<stop offset="1" stop-color="#f27400"/>
</linearGradient>
</defs>
<text x="230.40" y="211.40" font-size="18.5" text-anchor="start" fill="#000" font-weight="bold" >e</text>
<line x1="280.40" y1="213.59" x2="280.40" y2="336.46" stroke="#d6d6d6" stroke-width="0.6" />
<line x1="293.60" y1="210.37" x2="293.60" y2="331.67" stroke="#d6d6d6" stroke-width="0.6" />
<line x1="307.40" y1="207.01" x2="307.40" y2="326.65" stroke="#d6d6d6" stroke-width="0.6" />
<line x1="319.90" y1="203.96" x2="319.90" y2="322.11" stroke="#d6d6d6" stroke-width="0.6" />
<line x1="358.50" y1="203.77" x2="358.50" y2="321.64" stroke="#d6d6d6" stroke-width="0.6" />
<line x1="384.60" y1="205.97" x2="384.60" y2="324.74" stroke="#d6d6d6" stroke-width="0.6" />
<line x1="411.40" y1="208.24" x2="411.40" y2="327.92" stroke="#d6d6d6" stroke-width="0.6" />
<path d="M266.80,216.90 L330.40,201.40 L439.40,210.60" stroke="#d6d6d6" stroke-width="0.7" fill="none" stroke-linejoin="round" stroke-linecap="round" />
<line x1="439.40" y1="210.60" x2="438.20" y2="331.10" stroke="#d6d6d6" stroke-width="0.7" />
<line x1="330.40" y1="201.40" x2="330.40" y2="318.30" stroke="#d6d6d6" stroke-width="0.6" />
<line x1="294.45" y1="345.27" x2="357.35" y2="321.50" stroke="#d6d6d6" stroke-width="0.6" />
<line x1="322.10" y1="349.15" x2="384.30" y2="324.70" stroke="#d6d6d6" stroke-width="0.6" />
<line x1="349.75" y1="353.02" x2="411.25" y2="327.90" stroke="#d6d6d6" stroke-width="0.6" />
<line x1="377.40" y1="356.90" x2="438.20" y2="331.10" stroke="#d6d6d6" stroke-width="0.6" />
<line x1="279.52" y1="336.78" x2="389.56" y2="351.74" stroke="#d6d6d6" stroke-width="0.6" />
<line x1="292.24" y1="332.16" x2="401.72" y2="346.58" stroke="#d6d6d6" stroke-width="0.6" />
<line x1="304.96" y1="327.54" x2="413.88" y2="341.42" stroke="#d6d6d6" stroke-width="0.6" />
<line x1="317.68" y1="322.92" x2="426.04" y2="336.26" stroke="#d6d6d6" stroke-width="0.6" />
<line x1="330.40" y1="318.30" x2="438.20" y2="331.10" stroke="#d6d6d6" stroke-width="0.6" />
<line x1="266.80" y1="341.40" x2="330.40" y2="318.30" stroke="#d6d6d6" stroke-width="0.6" />
<path d="M330.40,259.00 L438.80,270.80" stroke="#cfcfcf" stroke-width="0.6" fill="none" stroke-linejoin="round" stroke-linecap="round" />
<clipPath id="clipEB"><path d="M318.40,250.00 L319.60,228.90 L320.50,222.30 L322.00,218.20 L325.00,215.20 L329.10,213.60 L339.90,212.80 L351.30,212.20 L352.50,212.80 L352.80,243.30 L353.30,245.60 L354.90,249.90 L357.60,253.60 L361.30,256.30 L366.60,257.90 L375.10,258.20 L381.00,258.40 L382.60,262.70 L384.70,269.00 L386.80,272.80 L374.70,277.00 L364.20,290.50 L363.50,300.00 L362.00,310.00 L360.50,316.50 L357.70,323.00 L347.00,328.50 L337.20,332.30 L329.80,334.10 L326.00,331.40 L322.70,322.00 L322.70,278.00 L314.10,275.40 L307.00,282.50 L314.00,268.00 L316.60,262.00 Z"/></clipPath>
<path d="M318.40,250.00 L319.60,228.90 L320.50,222.30 L322.00,218.20 L325.00,215.20 L329.10,213.60 L339.90,212.80 L351.30,212.20 L352.50,212.80 L352.80,243.30 L353.30,245.60 L354.90,249.90 L357.60,253.60 L361.30,256.30 L366.60,257.90 L375.10,258.20 L381.00,258.40 L382.60,262.70 L384.70,269.00 L386.80,272.80 L374.70,277.00 L364.20,290.50 L363.50,300.00 L362.00,310.00 L360.50,316.50 L357.70,323.00 L347.00,328.50 L337.20,332.30 L329.80,334.10 L326.00,331.40 L322.70,322.00 L322.70,278.00 L314.10,275.40 L307.00,282.50 L314.00,268.00 L316.60,262.00 Z" fill="#8e1cff"/>
<g clip-path="url(#clipEB)">
<path d="M318.00,285.00 L325.00,283.30 L347.00,277.30 L370.50,270.90 L380.00,266.00 L390.00,263.00" stroke="#fbf6ff" stroke-width="11" fill="none" stroke-linejoin="round" stroke-linecap="round" opacity="0.14" stroke-linecap="butt"/>
<path d="M318.00,285.00 L325.00,283.30 L347.00,277.30 L370.50,270.90 L380.00,266.00 L390.00,263.00" stroke="#fbf6ff" stroke-width="7" fill="none" stroke-linejoin="round" stroke-linecap="round" opacity="0.2" stroke-linecap="butt"/>
<path d="M318.00,285.00 L325.00,283.30 L347.00,277.30 L370.50,270.90 L380.00,266.00 L390.00,263.00" stroke="#fbf6ff" stroke-width="4" fill="none" stroke-linejoin="round" stroke-linecap="round" opacity="0.35" stroke-linecap="butt"/>
<path d="M318.00,285.00 L325.00,283.30 L347.00,277.30 L370.50,270.90 L380.00,266.00 L390.00,263.00" stroke="#fbf6ff" stroke-width="2" fill="none" stroke-linejoin="round" stroke-linecap="round" opacity="0.5" stroke-linecap="butt"/>
<rect x="300" y="205" width="100" height="135" fill="url(#stripP)" opacity="0.85"/>
</g>
<path d="M320.20,236.70 L323.20,233.70 L327.90,231.90 L339.90,230.70 L352.50,228.30" stroke="#2a0060" stroke-width="0.8" fill="none" stroke-linejoin="round" stroke-linecap="round" />
<path d="M356.00,256.30 L361.30,260.00 L371.90,261.10 L381.00,260.00" stroke="#2a0060" stroke-width="0.8" fill="none" stroke-linejoin="round" stroke-linecap="round" />
<path d="M318.60,250.00 L319.60,228.90 L320.50,222.30 L322.00,218.20 L325.00,215.20 L329.10,213.60 L339.90,212.80 L351.30,212.20 L352.50,212.80 L352.80,243.30" stroke="#3a0080" stroke-width="0.6" fill="none" stroke-linejoin="round" stroke-linecap="round" />
<path d="M333.00,323.00 L332.60,305.00 L334.00,297.00 L337.20,292.30 L342.00,291.50" stroke="#2a0060" stroke-width="0.8" fill="none" stroke-linejoin="round" stroke-linecap="round" />
<path d="M329.80,320.20 L340.00,318.00 L350.00,315.00 L359.50,311.90" stroke="#2a0060" stroke-width="0.8" fill="none" stroke-linejoin="round" stroke-linecap="round" />
<path d="M322.70,278.00 L322.70,322.00 L326.00,331.40 L329.80,334.10 L337.20,332.30 L347.00,328.50 L357.70,323.00 L360.50,316.50 L362.00,310.00 L363.50,300.00 L364.20,290.50" stroke="#3a0080" stroke-width="0.6" fill="none" stroke-linejoin="round" stroke-linecap="round" />
<clipPath id="clip21"><path d="M268.10,279.30 L290.00,273.00 L315.10,265.20 L316.00,268.00 L314.10,275.40 L306.90,282.60 L289.50,281.80 Z"/></clipPath>
<path d="M268.10,279.30 L290.00,273.00 L315.10,265.20 L316.00,268.00 L314.10,275.40 L306.90,282.60 L289.50,281.80 Z" fill="#6e5e94"/>
<g clip-path="url(#clip21)" fill="none" stroke-width="0.7"><path d="M268.1 249.8L316.0 236.4M268.1 251.4L316.0 238.0M268.1 253.0L316.0 239.6M268.1 254.6L316.0 241.2M268.1 256.2L316.0 242.8M268.1 257.8L316.0 244.4M268.1 259.4L316.0 246.0M268.1 261.0L316.0 247.6M268.1 262.6L316.0 249.2M268.1 264.2L316.0 250.8M268.1 265.8L316.0 252.4M268.1 267.4L316.0 254.0M268.1 269.0L316.0 255.6M268.1 270.6L316.0 257.2M268.1 272.2L316.0 258.8M268.1 273.8L316.0 260.4M268.1 275.4L316.0 262.0M268.1 277.0L316.0 263.6M268.1 278.6L316.0 265.2M268.1 280.2L316.0 266.8M268.1 281.8L316.0 268.4M268.1 283.4L316.0 270.0M268.1 285.0L316.0 271.6M268.1 286.6L316.0 273.2M268.1 288.2L316.0 274.8M268.1 289.8L316.0 276.4M268.1 291.4L316.0 278.0M268.1 293.0L316.0 279.6M268.1 294.6L316.0 281.2M268.1 296.2L316.0 282.8M268.1 297.8L316.0 284.4" stroke="#2a2238" stroke-width="0.45" stroke-dasharray="2.2 1.3" opacity="0.7"/><path d="M276.0 277.2l1.2 -0.34M292.3 269.3l0.5 -0.14M296.1 266.4l1.4 -0.38M310.0 275.9l0.5 -0.15M291.9 267.2l1.5 -0.43M289.8 274.8l0.9 -0.25M277.1 265.8l1.5 -0.41M274.0 273.5l1.4 -0.39M312.3 280.6l1.0 -0.27M289.7 271.9l1.6 -0.45M284.7 275.6l0.8 -0.23M271.2 279.4l1.4 -0.38M310.4 273.7l0.9 -0.26M305.2 273.6l1.4 -0.40M280.5 270.2l1.0 -0.27M293.3 277.9l0.5 -0.15M288.5 275.3l1.4 -0.40M293.7 270.0l1.3 -0.38M298.9 280.0l1.1 -0.32M287.5 281.9l1.5 -0.42M272.6 266.8l0.5 -0.15M274.8 280.3l1.2 -0.34M293.9 270.8l1.0 -0.29M305.2 279.0l0.5 -0.14M280.2 277.3l0.8 -0.24M286.7 270.6l1.5 -0.42M292.2 274.8l1.5 -0.43M271.2 279.4l1.6 -0.44M283.3 282.5l0.6 -0.17M271.6 279.4l1.3 -0.37M297.9 265.5l1.2 -0.34M292.9 272.0l0.9 -0.26M307.2 277.8l1.0 -0.28M307.6 282.0l1.6 -0.44M283.1 270.6l0.9 -0.26M300.8 269.7l1.5 -0.43M277.7 275.6l0.8 -0.23M281.5 268.2l0.9 -0.26M270.0 275.8l1.3 -0.36M268.5 274.7l0.6 -0.17M289.9 280.8l0.9 -0.25M306.0 279.5l1.1 -0.30M277.1 272.2l1.1 -0.31M303.9 278.4l0.7 -0.20M307.1 275.8l1.2 -0.33M306.4 271.1l0.8 -0.22M282.4 276.1l1.5 -0.41M271.3 274.1l1.2 -0.35M281.0 266.2l0.5 -0.15M300.7 276.6l0.7 -0.19M298.2 268.2l1.3 -0.36M293.6 281.0l1.6 -0.44M313.2 281.5l1.4 -0.38M305.3 278.1l1.5 -0.41M307.1 271.5l0.6 -0.18M311.0 274.1l0.6 -0.18M299.3 269.6l1.0 -0.27M291.6 269.8l1.1 -0.31M303.4 277.9l1.6 -0.45M295.7 282.6l0.7 -0.20M303.3 279.3l1.0 -0.29M285.8 279.6l1.0 -0.29M309.5 278.3l0.9 -0.26M305.6 279.0l1.5 -0.43M308.7 280.7l0.6 -0.16M298.5 267.7l1.4 -0.40M300.8 270.3l0.7 -0.21M284.2 276.5l0.9 -0.25M274.9 266.2l1.3 -0.35M274.0 280.5l1.2 -0.34M269.1 276.4l1.0 -0.28M296.2 275.3l0.6 -0.17M276.0 279.1l0.9 -0.24M278.4 266.0l0.7 -0.20M298.0 279.9l0.7 -0.21M277.8 277.4l1.1 -0.31M279.7 275.6l0.6 -0.17M285.2 278.9l0.5 -0.15M310.8 278.6l1.1 -0.32M302.6 274.4l0.7 -0.19M270.7 270.2l0.6 -0.17M306.1 278.3l0.7 -0.19M273.5 276.7l1.0 -0.28M298.2 273.4l1.1 -0.31M277.6 273.8l0.8 -0.23M277.0 281.1l1.0 -0.27M269.6 268.9l1.5 -0.41M300.1 269.2l1.2 -0.34M303.4 274.4l0.9 -0.26M296.6 279.7l1.3 -0.35M283.8 280.7l1.4 -0.40M310.2 269.5l1.6 -0.45M286.3 282.2l0.7 -0.19M310.9 279.5l1.6 -0.44M288.7 276.8l0.8 -0.23M286.6 267.6l0.5 -0.14M273.4 274.1l0.8 -0.23M315.0 269.7l1.2 -0.33M301.7 279.9l0.6 -0.18M281.4 278.8l0.5 -0.14M276.1 271.2l0.7 -0.21M308.8 279.9l1.2 -0.33M304.5 266.9l1.5 -0.43M309.0 278.2l1.3 -0.36M290.2 277.3l1.4 -0.38M302.7 265.7l0.8 -0.24M314.3 272.9l1.1 -0.32M277.0 270.4l1.3 -0.38M271.4 281.1l0.7 -0.19M273.7 274.5l0.6 -0.16M277.8 269.4l0.9 -0.25M311.5 266.8l1.3 -0.36M304.0 272.6l1.1 -0.30M273.6 270.3l1.6 -0.44M314.6 278.8l0.8 -0.21M288.2 277.1l1.2 -0.35M301.3 272.7l0.5 -0.14M312.7 276.2l1.4 -0.40M296.2 280.8l0.6 -0.16M286.0 271.1l1.0 -0.27M300.6 281.8l0.8 -0.21M272.1 281.8l1.4 -0.40M309.3 275.7l0.7 -0.19M307.4 273.3l0.5 -0.15M277.0 275.4l1.2 -0.34M277.9 274.1l0.7 -0.20M294.4 279.0l1.0 -0.29M293.2 269.6l0.9 -0.25M302.0 269.8l1.0 -0.29M274.8 274.7l1.5 -0.43M291.6 280.9l1.3 -0.37M291.7 272.4l0.7 -0.21M278.0 268.1l1.3 -0.36M308.0 269.5l1.0 -0.29M302.1 281.0l1.1 -0.32M298.2 266.1l1.3 -0.37M302.6 267.5l1.2 -0.32M269.9 269.8l1.4 -0.40M293.1 279.0l1.6 -0.44M301.3 278.8l1.4 -0.38M290.8 278.8l0.8 -0.22M291.1 269.7l1.5 -0.42M278.8 281.2l1.2 -0.34M295.8 272.3l1.2 -0.34M306.4 267.9l1.2 -0.35M293.2 279.7l1.1 -0.30M288.5 269.8l1.5 -0.43M271.3 271.0l1.3 -0.36M290.8 282.3l0.6 -0.16M269.1 276.6l0.5 -0.14M315.6 275.0l1.2 -0.34M315.5 278.9l0.6 -0.17M285.2 272.1l1.3 -0.36M272.4 280.2l0.8 -0.24M304.6 280.4l1.4 -0.40M308.7 267.9l1.1 -0.31M284.8 272.9l0.6 -0.17M296.9 273.0l0.6 -0.18M295.1 267.7l1.6 -0.44M288.9 270.2l0.9 -0.25M291.1 270.8l1.0 -0.29M282.8 272.8l1.3 -0.38M310.0 279.0l1.6 -0.44M313.8 272.9l0.9 -0.25M312.2 281.8l1.4 -0.39M271.2 265.3l1.6 -0.45M293.5 275.9l1.5 -0.43M278.4 278.9l1.2 -0.33M312.0 282.2l0.6 -0.18M307.8 269.5l1.1 -0.30M314.7 272.9l0.6 -0.18M287.8 279.6l1.0 -0.28M296.4 278.6l0.7 -0.20M274.3 276.7l1.6 -0.44M275.0 269.5l1.5 -0.42M300.1 277.8l0.5 -0.14M304.5 281.2l1.3 -0.35M272.9 274.4l0.6 -0.17M269.8 274.2l1.0 -0.28M278.7 266.4l0.5 -0.15M315.2 265.8l1.3 -0.36M287.5 272.7l1.5 -0.42M296.4 266.8l0.8 -0.22M278.7 266.7l1.3 -0.36M303.6 272.0l1.5 -0.43M292.6 272.6l1.4 -0.38M294.2 273.1l1.2 -0.33M314.4 273.0l0.6 -0.16M273.6 275.7l0.7 -0.19M281.6 280.8l1.2 -0.33M277.8 271.0l0.6 -0.17M275.6 270.4l1.4 -0.38M312.1 281.2l1.3 -0.38M269.1 266.7l1.4 -0.39M310.9 268.4l1.6 -0.44M297.1 279.6l1.4 -0.39M290.1 278.9l0.8 -0.22M309.8 280.5l1.4 -0.39M284.5 267.0l1.4 -0.40M289.7 266.0l1.1 -0.31M271.6 266.2l1.5 -0.43M290.9 279.5l0.7 -0.20M315.7 279.4l1.6 -0.44M282.1 274.8l1.5 -0.41M290.5 268.4l1.4 -0.40M311.8 270.7l1.4 -0.39M300.4 281.8l1.2 -0.33M315.1 282.0l1.4 -0.39M272.4 275.9l0.6 -0.18M314.1 281.6l0.6 -0.17M313.9 282.0l0.7 -0.19M302.2 266.9l0.6 -0.17M295.8 271.7l1.4 -0.40M300.5 267.3l1.5 -0.43M292.8 280.0l0.5 -0.15M302.5 282.5l0.7 -0.20M306.2 273.0l0.9 -0.26M308.6 272.5l1.0 -0.28M293.9 279.4l0.7 -0.20M300.2 281.2l0.7 -0.20M269.4 268.7l1.4 -0.38M273.0 271.0l1.6 -0.43M295.7 281.6l1.1 -0.30M306.6 273.4l0.6 -0.16M305.3 273.1l1.1 -0.31M275.8 272.2l0.6 -0.16M293.0 268.0l0.7 -0.19M270.3 268.1l0.8 -0.23M296.8 273.9l0.8 -0.23M303.5 282.5l1.3 -0.36M309.4 273.5l1.3 -0.36M315.8 281.9l0.8 -0.24M286.2 267.7l1.1 -0.31M278.6 278.5l0.7 -0.21M286.0 278.1l1.2 -0.33M274.1 268.2l1.2 -0.32M280.1 268.3l1.3 -0.36M269.2 272.0l0.9 -0.24M296.7 269.1l1.2 -0.34M279.1 270.9l0.6 -0.18M303.6 267.1l1.2 -0.35M292.4 273.1l1.5 -0.42" stroke="#a890da"/><path d="M278.4 279.0l1.4 -0.39M279.2 265.9l1.6 -0.45M275.5 279.4l0.6 -0.18M305.5 268.8l1.6 -0.44M304.3 278.5l1.1 -0.32M269.4 266.8l1.3 -0.36M291.9 273.8l1.1 -0.31M278.7 275.8l1.1 -0.31M276.8 268.2l0.9 -0.25M300.8 277.0l1.5 -0.42M287.6 282.4l1.6 -0.44M310.1 268.0l0.6 -0.16M271.4 271.1l1.5 -0.42M303.8 273.5l0.8 -0.22M308.3 279.0l1.5 -0.41M300.9 281.8l0.5 -0.15M276.1 268.4l0.9 -0.26M294.4 266.0l1.3 -0.36M271.1 278.5l0.7 -0.19M296.9 274.0l1.3 -0.37M283.0 277.4l1.1 -0.30M270.4 272.8l0.8 -0.22M286.6 273.7l1.2 -0.33M272.2 273.5l1.0 -0.29M310.8 278.8l1.2 -0.33M300.1 280.1l1.3 -0.36M279.9 281.2l0.9 -0.26M294.6 266.6l0.8 -0.23M303.7 273.2l0.6 -0.17M301.8 268.8l0.9 -0.24M280.3 279.9l0.7 -0.19M313.2 273.3l1.0 -0.27M277.1 281.9l0.5 -0.15M312.9 277.5l0.5 -0.15M306.5 279.9l1.5 -0.42M268.9 275.3l0.6 -0.16M312.7 274.6l0.9 -0.27M303.0 274.3l0.6 -0.16M278.3 265.9l0.9 -0.25M275.9 280.0l1.4 -0.39M300.6 269.0l1.4 -0.38M285.0 275.9l1.2 -0.33M299.1 268.0l1.5 -0.43M310.3 268.8l1.6 -0.45M272.1 272.3l0.7 -0.19M288.4 275.3l0.5 -0.15M278.2 267.1l1.5 -0.43M288.4 276.4l1.3 -0.38M269.8 279.5l1.1 -0.32M287.0 265.3l1.2 -0.34M286.8 276.1l1.2 -0.32M291.9 277.6l0.7 -0.21M302.8 275.5l1.0 -0.28M314.2 271.7l1.2 -0.34M285.6 271.2l1.3 -0.37M290.0 274.1l0.7 -0.21M293.7 267.2l0.9 -0.26M295.7 279.4l1.1 -0.30M268.5 270.5l0.8 -0.24M312.5 266.6l1.6 -0.44M299.9 276.6l0.9 -0.26M286.0 280.3l1.0 -0.27M300.6 278.6l1.2 -0.35M298.1 269.9l0.8 -0.22M297.4 278.1l1.4 -0.38M301.7 274.1l1.6 -0.44M289.9 278.5l0.6 -0.15M302.2 272.4l0.9 -0.26M273.6 271.3l1.3 -0.36M312.9 271.3l1.2 -0.33M306.6 268.2l1.1 -0.32M280.2 269.0l0.9 -0.26M283.5 270.5l1.0 -0.27M315.8 266.7l1.6 -0.44M297.6 282.3l1.5 -0.41M272.2 277.6l1.0 -0.29M276.1 274.7l0.6 -0.18M298.5 276.2l0.6 -0.16M297.1 272.1l1.0 -0.28M283.1 269.8l0.9 -0.25M308.2 276.6l1.0 -0.29M301.0 270.7l1.2 -0.33M293.7 278.3l1.2 -0.33M280.8 276.9l1.6 -0.44M280.4 280.3l1.2 -0.34M293.9 277.3l1.1 -0.30M286.2 268.6l1.2 -0.35M284.1 279.1l0.7 -0.21M276.4 275.6l1.3 -0.36M287.4 282.0l0.9 -0.25M284.2 267.2l0.9 -0.26M302.9 272.2l1.3 -0.37M283.4 267.0l0.9 -0.26M307.2 278.5l1.5 -0.41M287.8 276.4l0.6 -0.16M306.2 272.6l1.4 -0.38M305.3 271.8l0.9 -0.25M311.4 268.5l0.9 -0.25M304.3 270.1l1.0 -0.28M272.4 270.0l1.2 -0.34M313.5 273.4l1.4 -0.38M283.9 269.2l0.8 -0.22M298.2 274.4l1.6 -0.44M306.6 272.1l1.6 -0.44M296.8 275.6l1.3 -0.37M312.5 270.1l0.6 -0.17M281.0 282.4l1.5 -0.42M284.6 271.7l1.0 -0.29M269.3 274.6l0.6 -0.18M294.5 275.5l0.8 -0.24M298.4 280.0l0.8 -0.22M278.5 267.9l1.0 -0.29M298.8 281.7l0.7 -0.19M280.6 265.9l1.2 -0.34M313.2 280.0l0.8 -0.24M274.3 271.3l1.0 -0.27M282.4 271.9l0.7 -0.20M276.9 280.0l0.9 -0.24M310.1 269.8l1.1 -0.30M275.5 265.4l1.2 -0.33M299.0 267.8l1.5 -0.41M270.1 273.6l1.5 -0.43M269.0 269.5l1.0 -0.28M276.5 277.6l1.0 -0.27M291.3 279.3l1.1 -0.30M307.0 277.8l1.0 -0.29M286.1 266.5l1.5 -0.41M304.8 280.1l1.1 -0.31M295.5 279.4l1.1 -0.30M286.0 277.0l1.4 -0.39M273.6 278.5l0.7 -0.19M271.6 268.8l1.3 -0.35M271.5 275.9l0.9 -0.26M271.8 265.5l0.6 -0.16M291.6 275.9l0.6 -0.18M311.3 268.6l1.4 -0.38M305.5 270.6l1.2 -0.33M294.9 273.1l0.8 -0.23M288.9 282.2l0.6 -0.18M298.6 273.2l0.6 -0.16M306.6 271.3l1.3 -0.36M309.6 277.8l1.2 -0.34M277.7 277.9l0.6 -0.18M309.0 266.4l0.9 -0.25M288.0 276.6l0.8 -0.23M277.4 275.9l1.1 -0.31M273.8 268.7l1.2 -0.35M270.1 273.3l0.6 -0.17M285.2 276.0l1.5 -0.43M311.4 279.4l0.7 -0.18M285.9 277.9l1.1 -0.31M291.5 265.7l1.1 -0.31M285.3 269.2l1.1 -0.29M295.9 271.9l0.5 -0.14M281.0 271.0l1.1 -0.31M296.2 270.5l1.6 -0.44M310.0 276.0l1.1 -0.31M294.1 282.3l0.6 -0.17M314.2 265.2l1.3 -0.37M293.1 270.4l1.2 -0.34M279.1 281.2l0.5 -0.14M278.4 280.1l1.4 -0.40M296.3 281.3l1.5 -0.42M284.3 275.7l0.9 -0.25M294.6 280.3l1.5 -0.41M282.0 273.2l1.2 -0.33M276.9 265.6l1.0 -0.28M271.5 269.6l0.8 -0.22M285.2 268.2l1.3 -0.35M276.0 266.3l0.9 -0.27M270.9 267.6l1.2 -0.34M306.1 275.0l0.7 -0.20M270.9 273.9l0.5 -0.14M304.8 267.9l1.0 -0.28M294.7 281.6l0.8 -0.22M311.1 278.9l0.9 -0.26M269.6 278.0l0.7 -0.21M305.9 272.9l0.7 -0.19M287.5 279.8l0.9 -0.25M285.2 273.5l1.4 -0.38M271.2 273.1l1.0 -0.29M301.7 266.5l1.1 -0.32M298.6 272.5l0.9 -0.26M287.1 280.5l1.4 -0.39M296.4 268.7l1.3 -0.37M310.7 275.5l0.6 -0.17M289.3 275.0l1.3 -0.36M309.4 274.5l0.7 -0.20M302.2 268.0l1.0 -0.28M295.7 267.3l1.5 -0.41M277.5 277.3l1.5 -0.41M313.5 274.6l0.5 -0.14M307.9 281.1l1.3 -0.37M270.5 281.3l1.4 -0.39M290.0 279.8l1.0 -0.28M302.4 279.2l1.4 -0.39M301.4 279.1l1.1 -0.31M308.2 275.1l0.7 -0.20M307.6 273.0l0.8 -0.24M291.0 279.6l1.1 -0.31M277.8 268.4l0.6 -0.16M281.8 269.0l1.2 -0.34M304.2 281.9l1.5 -0.43M294.1 278.1l1.1 -0.32M312.2 274.2l0.9 -0.25M269.2 275.9l1.4 -0.39M315.3 266.7l1.6 -0.44M268.4 275.4l1.1 -0.30" stroke="#2a2238"/></g>
<path d="M268.10,279.30 L290.00,273.00 L315.10,265.20 L316.00,268.00 L314.10,275.40 L306.90,282.60 L289.50,281.80 Z" fill="none" stroke="#2a2238" stroke-width="0.5" opacity="0.8"/>
<clipPath id="clip22"><path d="M338.50,291.60 L356.60,286.30 L374.70,276.70 L385.30,272.40 L393.50,269.60 L436.70,271.10 L389.60,287.30 L377.90,292.10 L365.10,290.50 Z"/></clipPath>
<path d="M338.50,291.60 L356.60,286.30 L374.70,276.70 L385.30,272.40 L393.50,269.60 L436.70,271.10 L389.60,287.30 L377.90,292.10 L365.10,290.50 Z" fill="#6e5e94"/>
<g clip-path="url(#clip22)" fill="none" stroke-width="0.7"><path d="M338.5 235.2L436.7 202.8M338.5 236.8L436.7 204.4M338.5 238.4L436.7 206.0M338.5 240.0L436.7 207.6M338.5 241.6L436.7 209.2M338.5 243.2L436.7 210.8M338.5 244.8L436.7 212.4M338.5 246.4L436.7 214.0M338.5 248.0L436.7 215.6M338.5 249.6L436.7 217.2M338.5 251.2L436.7 218.8M338.5 252.8L436.7 220.4M338.5 254.4L436.7 222.0M338.5 256.0L436.7 223.6M338.5 257.6L436.7 225.2M338.5 259.2L436.7 226.8M338.5 260.8L436.7 228.4M338.5 262.4L436.7 230.0M338.5 264.0L436.7 231.6M338.5 265.6L436.7 233.2M338.5 267.2L436.7 234.8M338.5 268.8L436.7 236.4M338.5 270.4L436.7 238.0M338.5 272.0L436.7 239.6M338.5 273.6L436.7 241.2M338.5 275.2L436.7 242.8M338.5 276.8L436.7 244.4M338.5 278.4L436.7 246.0M338.5 280.0L436.7 247.6M338.5 281.6L436.7 249.2M338.5 283.2L436.7 250.8M338.5 284.8L436.7 252.4M338.5 286.4L436.7 254.0M338.5 288.0L436.7 255.6M338.5 289.6L436.7 257.2M338.5 291.2L436.7 258.8M338.5 292.8L436.7 260.4M338.5 294.4L436.7 262.0M338.5 296.0L436.7 263.6M338.5 297.6L436.7 265.2M338.5 299.2L436.7 266.8M338.5 300.8L436.7 268.4M338.5 302.4L436.7 270.0M338.5 304.0L436.7 271.6M338.5 305.6L436.7 273.2M338.5 307.2L436.7 274.8M338.5 308.8L436.7 276.4M338.5 310.4L436.7 278.0M338.5 312.0L436.7 279.6M338.5 313.6L436.7 281.2M338.5 315.2L436.7 282.8M338.5 316.8L436.7 284.4M338.5 318.4L436.7 286.0M338.5 320.0L436.7 287.6M338.5 321.6L436.7 289.2M338.5 323.2L436.7 290.8M338.5 324.8L436.7 292.4M338.5 326.4L436.7 294.0" stroke="#2a2238" stroke-width="0.45" stroke-dasharray="2.2 1.3" opacity="0.7"/><path d="M356.6 272.3l1.2 -0.40M425.9 274.8l1.6 -0.51M352.5 288.2l1.2 -0.41M367.7 283.0l1.1 -0.36M432.0 281.1l0.9 -0.31M426.4 273.5l1.1 -0.36M370.7 277.6l0.7 -0.23M391.1 287.5l1.2 -0.40M428.9 280.0l1.4 -0.47M385.0 286.0l1.2 -0.40M340.3 280.9l1.2 -0.40M355.3 285.2l1.0 -0.32M342.6 291.4l0.9 -0.29M359.7 275.3l1.5 -0.48M365.6 271.8l1.0 -0.34M342.3 278.1l1.4 -0.47M409.0 280.1l0.8 -0.26M364.6 271.1l1.2 -0.41M425.8 284.1l0.6 -0.19M397.8 270.6l1.0 -0.34M421.6 274.8l1.1 -0.36M372.1 289.0l1.4 -0.46M388.9 273.8l0.8 -0.27M413.3 278.3l1.2 -0.40M354.4 270.7l0.9 -0.30M419.5 271.8l0.6 -0.19M388.1 290.7l1.5 -0.50M402.5 276.8l0.8 -0.27M344.1 290.4l0.8 -0.27M369.5 271.9l1.0 -0.33M355.7 280.3l1.0 -0.32M389.0 274.5l0.6 -0.21M388.0 271.2l0.9 -0.29M373.9 276.0l0.5 -0.17M353.7 279.8l1.4 -0.45M384.9 283.9l1.2 -0.39M428.9 282.8l0.8 -0.28M406.2 290.6l0.9 -0.29M395.5 274.7l1.0 -0.32M410.8 270.6l1.2 -0.38M354.0 290.8l1.1 -0.35M348.3 277.9l1.0 -0.34M346.8 280.9l0.8 -0.26M382.8 285.3l1.1 -0.37M356.1 288.9l0.6 -0.18M361.2 287.7l0.9 -0.31M383.2 273.3l0.5 -0.17M368.7 284.5l1.3 -0.43M346.5 280.2l0.7 -0.25M376.9 271.3l1.5 -0.49M418.0 281.4l1.5 -0.49M420.0 272.3l0.9 -0.29M360.9 277.5l1.0 -0.32M403.1 275.0l1.5 -0.49M380.7 286.8l0.9 -0.29M373.4 285.5l0.8 -0.27M368.4 278.4l1.5 -0.50M430.0 274.7l0.6 -0.18M386.3 280.0l1.1 -0.35M389.0 275.0l0.9 -0.28M354.1 270.8l1.1 -0.36M393.1 280.9l0.8 -0.25M376.8 275.2l1.3 -0.44M370.5 275.6l0.9 -0.30M365.3 286.8l1.6 -0.52M386.9 292.1l1.4 -0.45M386.2 281.4l1.4 -0.45M377.4 279.0l1.3 -0.44M412.3 285.9l1.3 -0.44M378.3 280.1l0.6 -0.18M359.1 274.4l1.1 -0.35M361.1 282.6l0.8 -0.27M382.7 287.7l1.1 -0.37M360.7 277.7l0.9 -0.31M415.6 279.6l0.7 -0.24M397.1 282.2l0.8 -0.25M340.6 276.5l1.5 -0.49M435.4 288.2l1.1 -0.38M393.7 288.5l0.9 -0.29M426.8 283.8l0.9 -0.30M348.4 282.4l1.4 -0.45M434.4 274.3l1.0 -0.34M380.6 273.5l1.1 -0.35M386.6 285.7l0.8 -0.27M433.5 273.3l1.0 -0.34M407.1 278.5l1.4 -0.47M416.9 270.3l1.2 -0.39M342.5 283.9l1.4 -0.45M347.4 275.5l1.5 -0.48M385.5 282.9l0.8 -0.27M388.1 289.2l1.4 -0.47M426.3 281.5l1.0 -0.35M436.3 275.5l0.9 -0.30M375.0 272.2l1.2 -0.39M433.6 271.1l0.8 -0.25M356.0 290.1l1.4 -0.45M343.1 287.1l0.7 -0.24M386.2 276.9l0.8 -0.25M369.1 291.7l1.5 -0.49M422.6 291.8l1.0 -0.33M360.1 278.2l0.5 -0.17M417.7 272.7l0.7 -0.23M367.7 269.7l0.6 -0.18M436.5 275.4l1.3 -0.42M397.3 277.0l1.2 -0.39M355.7 281.0l1.0 -0.34M413.5 276.3l1.0 -0.34M375.3 272.2l1.4 -0.45M434.8 280.8l0.6 -0.19M411.2 277.9l1.5 -0.50M379.4 276.5l1.1 -0.37M376.5 279.7l1.5 -0.50M340.1 287.2l1.5 -0.48M397.0 287.4l1.5 -0.50M400.2 281.6l1.0 -0.33M341.5 282.2l1.5 -0.51M341.9 283.7l1.4 -0.46M346.7 284.1l1.2 -0.40M418.4 281.8l1.4 -0.45M431.1 285.8l0.5 -0.17M403.9 287.1l0.8 -0.28M395.5 273.9l1.1 -0.35M400.5 290.0l1.4 -0.46M355.3 277.0l0.8 -0.27M380.9 286.1l1.5 -0.48M400.9 273.2l1.0 -0.32M408.2 284.2l1.1 -0.36M364.9 291.1l1.2 -0.38M373.4 272.6l0.6 -0.21M383.9 278.6l0.9 -0.30M411.1 289.0l1.5 -0.49M400.6 283.8l0.7 -0.23M365.3 270.4l0.8 -0.28M341.2 289.6l0.6 -0.20M371.8 274.0l0.8 -0.25M436.2 273.4l1.2 -0.39M435.0 270.3l1.0 -0.34M374.8 286.3l0.5 -0.17M364.5 276.8l1.3 -0.42M375.4 270.5l0.7 -0.24M375.1 285.4l0.7 -0.24M421.0 269.6l1.5 -0.50M436.0 286.8l1.0 -0.33M348.0 287.1l0.5 -0.17M407.1 283.3l1.2 -0.41M341.6 287.7l1.5 -0.50M426.6 269.9l0.9 -0.28M355.9 273.5l1.1 -0.37M433.5 286.6l0.6 -0.19M411.9 289.8l1.5 -0.50M429.4 282.4l1.0 -0.32M387.3 278.9l1.3 -0.43M404.0 269.7l1.5 -0.49M352.1 271.8l0.6 -0.19M346.6 285.5l0.7 -0.21M403.1 279.5l0.8 -0.27M383.7 282.6l1.1 -0.38M435.7 285.6l0.7 -0.24M353.7 279.3l1.5 -0.51M418.7 281.9l0.8 -0.26M343.8 283.9l1.5 -0.49M359.5 270.4l1.0 -0.35M354.4 273.5l0.6 -0.21M360.9 282.0l1.6 -0.51M414.2 270.4l1.2 -0.41M422.6 272.4l1.5 -0.49M403.7 273.3l1.6 -0.53M420.9 272.4l0.8 -0.26M357.7 283.6l1.4 -0.46M406.8 290.0l1.4 -0.46M426.3 273.8l1.4 -0.46M369.9 271.9l1.1 -0.37M398.2 273.4l1.2 -0.41M369.1 272.8l1.3 -0.44M412.4 278.9l1.3 -0.44M380.1 282.5l1.5 -0.50M354.0 291.6l0.6 -0.21M392.9 275.6l0.9 -0.30M418.0 274.7l1.3 -0.43M388.1 271.4l1.5 -0.49M423.6 270.0l0.9 -0.30M398.5 275.6l1.6 -0.53M402.2 283.5l0.7 -0.22M405.0 283.5l1.0 -0.32M380.2 269.8l0.7 -0.23M394.3 287.5l0.5 -0.18M354.2 280.7l1.5 -0.49M421.1 287.1l1.0 -0.33M358.6 279.5l1.4 -0.47M431.5 274.2l1.1 -0.35M342.0 283.5l0.7 -0.23M420.3 279.8l0.9 -0.29M340.2 287.8l1.0 -0.34M378.8 277.1l1.6 -0.52M384.4 288.3l1.2 -0.40M375.3 281.6l0.8 -0.27M343.4 288.1l1.5 -0.48M342.9 286.5l1.6 -0.52M382.4 270.0l1.1 -0.36M361.9 273.0l0.8 -0.27M365.1 284.9l0.6 -0.19M431.8 270.4l1.0 -0.32M363.3 288.6l0.7 -0.23M390.4 286.3l1.0 -0.34M356.9 290.1l1.2 -0.40M401.4 288.2l1.2 -0.41M423.3 274.4l1.2 -0.39M428.1 281.6l1.4 -0.48M377.1 285.1l0.8 -0.27M358.8 276.8l0.6 -0.19M372.7 275.1l0.7 -0.23M359.8 273.3l0.6 -0.20M372.1 287.6l0.7 -0.25M405.2 276.6l1.0 -0.34M355.6 274.4l1.1 -0.38M413.3 282.8l1.3 -0.44M358.6 290.8l1.3 -0.43M436.6 270.9l1.2 -0.38M368.8 274.3l0.9 -0.31M356.1 284.9l0.7 -0.23M395.7 289.7l1.4 -0.46M373.1 272.6l1.5 -0.49M346.5 276.5l0.6 -0.21M406.8 276.9l1.4 -0.48M359.0 288.2l0.8 -0.27M366.4 284.7l1.0 -0.34M344.8 281.8l1.3 -0.43M387.1 272.0l0.5 -0.17M389.4 285.0l1.0 -0.32M341.9 287.0l1.4 -0.46M357.9 280.5l0.5 -0.18M416.9 276.2l0.6 -0.18M398.6 287.5l1.1 -0.35M373.8 280.7l1.3 -0.42M411.9 278.1l1.2 -0.39M393.7 286.9l0.6 -0.21M383.1 279.8l1.3 -0.44M371.3 273.5l0.8 -0.27M391.9 282.0l0.7 -0.24M393.4 274.8l1.0 -0.33M355.2 274.3l0.9 -0.29M373.6 273.4l1.5 -0.49M436.3 270.4l0.9 -0.29M370.3 277.6l1.6 -0.52M423.0 284.8l1.0 -0.32M372.8 280.5l0.9 -0.30M342.6 289.4l0.9 -0.30M359.0 289.0l1.2 -0.41M426.2 290.5l1.5 -0.49M386.0 272.1l1.6 -0.52M395.4 288.4l1.2 -0.41M425.6 271.7l1.1 -0.36M387.9 276.3l1.4 -0.47M356.6 273.5l0.6 -0.21M423.1 290.2l1.3 -0.44M400.9 275.3l0.6 -0.21M414.4 271.1l1.5 -0.48M375.1 290.0l0.7 -0.23M422.3 283.9l0.8 -0.25M418.8 283.6l1.5 -0.51M368.3 272.3l1.0 -0.34M376.2 290.6l1.2 -0.40M397.1 270.2l1.1 -0.36M390.5 278.8l0.9 -0.31M388.0 273.1l1.0 -0.31M393.6 272.2l0.7 -0.25M350.7 277.2l0.8 -0.27M369.2 277.9l1.4 -0.48M410.3 279.1l0.7 -0.23M344.8 283.2l1.5 -0.48M434.2 279.0l1.6 -0.53M363.6 270.0l1.5 -0.50M380.0 273.8l0.8 -0.25M405.7 277.5l1.0 -0.32M389.2 270.8l0.6 -0.20M382.1 276.7l0.9 -0.30M379.6 289.6l1.3 -0.43M409.1 279.6l1.5 -0.50M362.3 276.7l0.6 -0.19M401.1 278.5l1.5 -0.48M390.5 277.7l1.0 -0.34M354.6 279.2l0.7 -0.24M391.7 282.4l1.3 -0.42M408.8 274.3l1.1 -0.36M372.4 284.2l1.0 -0.34M392.2 279.0l0.8 -0.26M385.3 281.6l0.6 -0.18M432.3 291.4l1.2 -0.40M383.3 276.4l1.0 -0.34M349.0 273.3l0.6 -0.21M409.3 282.8l1.4 -0.46M344.0 281.1l0.9 -0.29M366.9 291.5l1.3 -0.44M364.6 287.2l1.2 -0.41M367.7 274.3l1.0 -0.34M351.7 275.1l1.3 -0.42M369.0 282.9l1.5 -0.48M369.7 275.7l0.7 -0.23M355.9 280.5l1.2 -0.41M359.8 287.6l1.4 -0.45M433.7 274.2l0.7 -0.24M400.4 284.1l1.0 -0.34M380.2 279.8l1.2 -0.39M413.5 279.2l1.4 -0.45M374.7 286.3l1.4 -0.46M406.9 282.8l1.5 -0.51M433.0 272.0l1.4 -0.46M413.8 272.9l1.5 -0.48M413.7 275.1l0.6 -0.19M385.2 269.7l0.8 -0.25M379.9 269.6l1.1 -0.35M422.7 276.4l0.7 -0.23M397.5 272.6l1.5 -0.51M396.6 282.8l1.0 -0.32M400.9 281.5l0.9 -0.29M367.8 285.5l0.6 -0.20M433.9 288.7l1.0 -0.32M425.5 274.7l1.2 -0.40M396.5 285.9l1.1 -0.37M383.1 281.3l0.7 -0.22M376.7 286.1l1.4 -0.45M396.6 270.8l1.3 -0.43M413.5 276.7l1.2 -0.39M406.3 291.6l0.9 -0.29M400.6 272.5l1.4 -0.46M353.9 291.4l1.4 -0.46M390.3 270.4l1.4 -0.46M382.4 285.2l1.3 -0.43M406.0 286.1l0.8 -0.26M421.3 276.1l1.6 -0.52M382.1 276.8l0.7 -0.23M368.0 290.1l0.9 -0.29M380.7 277.2l1.0 -0.31M427.6 285.7l0.9 -0.29M395.7 277.3l1.0 -0.34M423.2 276.8l1.1 -0.38M420.3 281.1l1.6 -0.51M432.5 276.9l1.4 -0.45M366.4 289.5l1.2 -0.39M397.8 284.8l0.5 -0.17M431.4 281.5l0.8 -0.26M354.5 271.7l0.6 -0.19M355.8 275.8l0.7 -0.24M342.9 291.0l0.6 -0.20M430.1 286.9l0.8 -0.26M381.5 288.9l0.6 -0.21M416.0 285.3l1.2 -0.41M368.6 277.6l1.4 -0.47M399.6 284.7l1.0 -0.32M369.5 279.2l1.1 -0.35M419.3 275.3l0.9 -0.31M410.6 290.0l1.4 -0.45M434.9 280.1l1.0 -0.31M357.2 280.6l1.3 -0.43M356.3 282.4l0.9 -0.30M347.7 284.1l1.1 -0.35M384.6 281.3l1.4 -0.47M351.3 270.7l0.9 -0.29M401.3 274.8l1.2 -0.40M361.2 277.4l0.6 -0.19M355.7 280.9l0.7 -0.22M395.8 287.4l1.2 -0.38M410.8 290.6l0.7 -0.24M389.9 270.0l0.5 -0.18M385.7 288.5l0.6 -0.21M351.6 276.0l0.9 -0.28M376.0 272.3l0.5 -0.18M403.8 272.5l1.1 -0.35M389.0 276.6l1.0 -0.33M429.4 290.7l0.8 -0.26M391.7 286.2l0.6 -0.19M400.6 279.4l1.3 -0.43M425.9 286.0l1.2 -0.41M404.2 288.0l0.6 -0.19M430.7 280.5l0.8 -0.27M357.5 280.5l0.5 -0.18M433.0 289.3l1.5 -0.49M368.3 289.2l1.4 -0.45M392.5 288.7l1.4 -0.45M398.7 285.8l1.4 -0.45M397.9 280.2l0.7 -0.24M386.3 291.8l1.3 -0.43M386.1 270.0l1.5 -0.49M399.1 272.0l1.2 -0.41M433.9 275.0l0.8 -0.27M427.4 276.8l1.5 -0.50M371.8 271.4l0.6 -0.20M420.2 277.7l0.5 -0.18M418.5 274.8l1.3 -0.43M357.9 274.3l0.9 -0.29M351.4 281.9l1.5 -0.50M346.2 284.7l1.6 -0.52M391.8 283.4l0.6 -0.19M418.5 279.3l1.4 -0.47M355.1 276.0l0.5 -0.18M376.9 291.6l1.2 -0.39M391.7 286.3l1.1 -0.36M409.3 282.9l1.3 -0.42M362.6 274.1l1.1 -0.36M374.5 288.3l1.5 -0.51M395.9 290.7l0.7 -0.25M387.3 288.7l0.8 -0.26M347.0 275.0l0.7 -0.22M376.9 274.1l1.1 -0.38M360.1 278.9l1.0 -0.33M342.1 274.0l1.5 -0.50M343.4 286.4l1.0 -0.34M372.2 272.1l0.8 -0.26M429.0 269.8l0.6 -0.20M433.0 290.4l0.9 -0.30M412.1 278.5l1.0 -0.32M426.9 276.0l0.7 -0.24M418.6 289.9l1.2 -0.40M388.3 279.7l1.3 -0.43M408.9 276.8l1.0 -0.33M373.8 285.5l1.1 -0.35M421.6 270.2l1.0 -0.32M401.7 276.9l0.9 -0.30M412.0 273.8l1.6 -0.53M402.6 286.4l1.4 -0.46M339.7 290.2l1.5 -0.48M432.0 282.5l1.5 -0.48M379.4 279.5l1.3 -0.44M396.8 277.2l0.5 -0.18M390.6 290.5l0.7 -0.22M432.9 289.1l1.3 -0.43M435.6 279.8l0.9 -0.30M434.0 287.9l0.7 -0.23M371.2 281.8l0.8 -0.27M405.6 272.4l0.7 -0.25M373.9 286.1l1.6 -0.52M350.0 275.2l0.6 -0.20M355.7 277.8l1.1 -0.36M380.4 271.5l1.1 -0.35M419.0 279.4l0.9 -0.31M374.6 275.8l1.1 -0.38M352.8 286.4l1.4 -0.45M359.1 280.7l0.8 -0.27M419.0 276.1l1.2 -0.38M427.0 270.1l0.8 -0.25M414.3 287.5l1.3 -0.42M361.9 289.4l1.3 -0.42M410.9 274.6l1.3 -0.44M359.8 285.7l0.6 -0.20M354.6 289.8l1.3 -0.43M355.5 282.4l1.1 -0.37" stroke="#a890da"/><path d="M432.6 272.8l0.5 -0.17M397.5 290.6l1.3 -0.41M408.0 270.7l1.5 -0.48M369.0 273.9l1.4 -0.47M430.6 287.0l1.6 -0.51M407.1 283.4l0.8 -0.26M369.2 287.2l1.6 -0.51M343.3 281.6l0.5 -0.18M388.2 281.2l1.0 -0.31M428.5 276.5l0.9 -0.30M404.6 281.5l0.6 -0.20M373.4 279.3l0.9 -0.31M406.6 270.8l1.0 -0.31M390.0 282.8l1.6 -0.52M415.5 288.0l1.2 -0.39M372.3 286.1l1.5 -0.50M358.5 280.6l0.9 -0.30M413.7 269.7l1.2 -0.39M375.8 284.0l0.7 -0.23M426.2 282.0l0.9 -0.30M420.9 281.1l1.3 -0.42M434.1 273.9l0.9 -0.31M389.3 291.4l0.7 -0.22M423.4 283.1l1.1 -0.36M340.6 290.9l1.3 -0.41M399.6 286.2l0.9 -0.29M431.0 286.0l1.5 -0.49M418.4 276.5l1.1 -0.36M432.7 278.0l0.5 -0.18M369.0 272.7l0.6 -0.18M419.0 272.1l1.0 -0.34M428.3 282.7l1.0 -0.33M343.3 285.0l1.4 -0.46M393.2 273.5l0.9 -0.31M393.1 288.1l0.8 -0.26M415.4 274.7l1.1 -0.36M394.8 283.1l0.8 -0.25M373.3 287.6l0.9 -0.30M414.8 272.5l1.2 -0.41M361.4 272.5l0.9 -0.30M364.1 269.8l1.0 -0.33M345.4 288.2l1.1 -0.36M400.0 277.1l1.0 -0.32M372.2 282.2l0.7 -0.22M429.4 281.1l1.5 -0.49M391.3 273.2l1.5 -0.51M382.9 278.3l0.6 -0.19M422.5 278.3l0.8 -0.27M416.4 273.4l0.8 -0.27M342.6 288.0l0.8 -0.28M364.1 286.6l1.4 -0.45M426.7 286.2l0.5 -0.17M341.0 273.0l0.8 -0.28M350.5 276.2l0.8 -0.25M359.3 273.1l0.8 -0.26M395.9 272.1l1.0 -0.32M338.6 285.8l1.3 -0.41M397.0 284.8l1.3 -0.42M395.5 270.2l0.8 -0.28M375.5 271.9l1.0 -0.32M348.1 272.1l1.0 -0.35M367.5 283.1l1.4 -0.47M345.6 286.2l1.6 -0.52M379.0 286.3l1.3 -0.44M380.8 271.6l0.9 -0.30M373.2 280.5l1.0 -0.34M430.5 287.6l1.1 -0.36M391.4 291.8l1.2 -0.38M427.3 286.0l1.6 -0.51M394.5 277.9l0.5 -0.17M405.7 275.9l0.9 -0.31M347.2 271.5l1.3 -0.43M412.2 281.2l0.6 -0.21M351.2 271.3l1.1 -0.35M369.0 289.0l0.9 -0.29M411.0 289.1l1.6 -0.52M357.8 281.2l1.1 -0.36M369.0 274.7l0.8 -0.27M399.9 283.7l1.5 -0.50M351.3 278.7l1.1 -0.36M390.6 271.7l1.0 -0.34M387.9 286.5l0.6 -0.21M407.0 286.2l0.9 -0.29M434.0 285.7l0.7 -0.23M401.8 287.1l1.3 -0.42M435.3 272.0l1.0 -0.32M400.6 281.6l1.4 -0.46M420.3 271.9l0.6 -0.20M370.5 279.4l0.9 -0.31M399.8 288.3l1.4 -0.47M382.4 276.1l1.1 -0.35M425.2 280.4l1.5 -0.49M375.6 284.1l1.1 -0.35M387.9 286.5l1.5 -0.49M400.5 284.1l1.2 -0.41M435.3 291.9l0.6 -0.21M376.6 275.9l0.6 -0.20M429.6 286.6l0.7 -0.23M405.3 280.1l1.4 -0.47M422.8 273.1l1.4 -0.45M367.2 269.6l0.6 -0.20M345.2 284.0l1.4 -0.48M422.3 290.5l1.5 -0.48M418.7 281.6l0.5 -0.17M387.6 272.9l0.6 -0.21M427.3 270.8l0.5 -0.17M367.1 289.2l1.0 -0.33M343.6 273.1l0.6 -0.21M404.7 280.6l0.8 -0.26M416.4 287.1l1.4 -0.46M432.8 279.6l1.3 -0.43M433.2 286.8l0.9 -0.28M416.7 290.7l0.8 -0.25M409.3 273.2l0.6 -0.21M394.7 281.6l1.4 -0.47M346.3 282.1l0.6 -0.21M405.1 285.4l0.5 -0.17M357.9 283.8l0.7 -0.22M367.5 284.3l0.5 -0.17M393.7 291.6l0.8 -0.28M418.4 269.6l1.2 -0.39M366.4 272.9l1.3 -0.42M408.0 271.4l0.9 -0.30M374.1 284.5l1.2 -0.41M424.8 270.3l1.1 -0.37M401.6 272.9l1.1 -0.36M350.6 285.2l1.0 -0.34M382.2 285.8l0.7 -0.22M423.5 287.8l1.4 -0.45M395.9 277.8l1.2 -0.40M436.0 269.7l1.2 -0.39M419.0 290.1l1.5 -0.48M367.2 270.0l1.0 -0.34M370.6 274.0l1.0 -0.32M374.4 289.4l1.0 -0.35M385.8 278.4l1.5 -0.49M357.2 276.5l0.9 -0.31M375.5 275.6l0.8 -0.28M391.1 285.9l1.0 -0.34M348.8 284.4l0.7 -0.24M379.7 288.4l1.1 -0.37M380.2 279.0l1.5 -0.50M380.6 289.2l1.3 -0.43M387.9 284.9l1.5 -0.48M423.6 279.3l0.7 -0.22M433.5 279.9l0.5 -0.17M403.0 290.5l1.5 -0.49M346.6 278.8l1.1 -0.38M402.0 281.7l1.3 -0.42M432.6 286.5l0.5 -0.17M370.6 274.8l1.2 -0.39M365.9 287.9l1.4 -0.46M423.5 286.0l1.1 -0.37M419.3 288.0l1.5 -0.48M347.0 283.7l1.3 -0.42M381.3 284.2l1.6 -0.52M393.0 278.0l1.2 -0.40M340.2 278.3l0.8 -0.27M405.4 288.8l1.6 -0.52M367.4 269.6l1.0 -0.32M433.7 276.1l0.9 -0.29M353.2 284.2l1.5 -0.49M410.1 269.7l1.3 -0.44M391.8 289.8l1.2 -0.38M386.6 278.2l0.8 -0.26M401.7 285.7l1.5 -0.50M402.5 285.0l1.2 -0.41M405.4 288.7l0.9 -0.29M357.4 270.6l0.6 -0.18M362.1 283.6l0.6 -0.18M371.1 290.3l1.5 -0.48M401.1 288.6l1.4 -0.47M393.8 270.2l0.7 -0.22M346.9 271.8l1.5 -0.48M434.1 287.4l0.8 -0.27M389.2 271.5l0.7 -0.22M360.1 286.2l1.2 -0.40M432.1 289.5l0.8 -0.28M426.1 270.9l1.1 -0.35M378.0 277.2l1.0 -0.34M339.7 284.4l1.3 -0.42M402.0 275.6l1.2 -0.40M351.2 287.2l1.2 -0.38M338.8 276.7l0.7 -0.24M348.0 272.5l1.1 -0.35M386.0 270.9l1.5 -0.50M428.3 286.5l1.5 -0.49M412.0 289.1l1.2 -0.41M428.6 273.3l1.0 -0.34M382.1 283.9l1.2 -0.38M430.8 286.4l1.4 -0.47M389.2 273.8l0.6 -0.19M410.9 287.1l1.5 -0.49M413.0 281.5l0.8 -0.25M343.3 271.1l0.7 -0.22M435.3 284.6l1.3 -0.41M422.8 291.3l0.7 -0.23M386.8 273.8l0.7 -0.23M404.7 282.7l1.1 -0.38M394.1 284.2l0.8 -0.27M349.7 287.9l1.1 -0.36M380.3 271.0l1.0 -0.32M411.4 288.0l0.8 -0.27M350.2 279.3l1.0 -0.32M347.7 270.7l1.2 -0.39M345.7 285.0l0.7 -0.22M401.0 274.2l0.9 -0.30M433.2 291.0l1.0 -0.32M341.8 273.2l0.8 -0.27M394.8 288.6l0.8 -0.26M415.9 288.2l1.4 -0.46M351.8 274.8l0.9 -0.31M414.4 276.4l1.3 -0.45M416.7 273.7l0.7 -0.24M424.6 285.9l1.6 -0.52M399.8 290.9l0.8 -0.26M418.2 273.0l1.5 -0.50M405.3 287.8l0.5 -0.17M381.6 269.7l1.3 -0.44M434.2 287.1l0.6 -0.20M395.6 281.8l1.4 -0.45M374.0 288.1l0.7 -0.24M425.4 287.3l0.9 -0.29M423.7 288.2l0.8 -0.26M405.0 273.5l0.5 -0.18M339.9 273.9l0.6 -0.21M402.4 281.1l1.0 -0.35M406.3 278.9l1.1 -0.38M343.8 278.3l0.9 -0.31M415.2 279.5l0.9 -0.31M410.8 270.6l1.4 -0.46M401.5 273.7l1.4 -0.47M362.8 270.5l0.8 -0.28M354.7 282.3l1.3 -0.42M384.0 282.9l0.7 -0.24M423.3 273.2l1.4 -0.48M407.5 278.1l0.9 -0.31M403.7 282.0l1.6 -0.52M359.9 274.8l0.7 -0.22M429.1 287.2l0.8 -0.26M422.6 269.6l0.9 -0.29M409.3 280.9l0.9 -0.29M372.1 281.9l1.5 -0.49M380.0 278.2l1.2 -0.39M373.7 273.2l1.0 -0.34M347.5 271.5l1.2 -0.41M339.4 286.8l1.4 -0.45M412.6 271.7l0.8 -0.27M389.3 287.1l0.8 -0.26M426.3 273.4l1.3 -0.43M343.4 274.9l1.5 -0.49M396.1 288.0l1.0 -0.32M387.1 271.1l1.4 -0.46M361.9 274.6l1.5 -0.50M374.8 288.2l0.6 -0.19M365.8 276.1l1.1 -0.35M367.5 275.2l0.9 -0.31M428.9 289.6l1.3 -0.43M369.6 290.4l1.6 -0.53M363.6 281.9l0.5 -0.18M365.9 274.3l1.0 -0.32M366.3 285.4l0.8 -0.28M403.8 288.2l0.6 -0.19M427.1 278.9l0.7 -0.24M392.5 272.2l1.2 -0.38M423.2 285.7l1.3 -0.43M361.2 288.3l0.8 -0.26M388.4 270.3l1.0 -0.34M429.0 290.0l1.2 -0.40M397.8 284.9l1.3 -0.42M367.3 283.1l0.8 -0.26M427.4 277.7l1.4 -0.46M395.0 286.4l1.3 -0.44M418.4 283.8l1.3 -0.43M391.8 272.4l1.4 -0.48M351.2 274.1l1.3 -0.43M378.6 270.1l0.8 -0.26M374.7 286.0l0.6 -0.19M346.8 284.1l1.1 -0.35M380.6 277.7l0.9 -0.29M348.4 291.2l1.4 -0.48M385.3 276.6l1.6 -0.51M380.8 271.8l1.4 -0.47M436.6 276.2l1.0 -0.32M422.1 281.8l1.4 -0.45M426.2 271.2l1.2 -0.39M346.1 277.9l0.6 -0.19M344.1 282.7l1.4 -0.47M390.8 281.5l1.1 -0.35M429.9 279.1l1.3 -0.44M433.6 282.2l0.6 -0.20M402.0 271.6l1.4 -0.45M369.6 287.1l1.5 -0.49M421.4 285.2l1.0 -0.35M383.5 285.1l0.8 -0.27M426.2 290.7l1.1 -0.37M340.0 277.6l1.5 -0.49M348.0 281.8l1.2 -0.39M353.6 275.5l0.9 -0.31M419.6 280.5l1.2 -0.41M376.4 271.8l1.5 -0.51M394.1 289.7l0.5 -0.17M345.7 279.7l1.1 -0.35M402.9 284.3l1.5 -0.49M395.0 283.4l1.0 -0.32M382.9 291.0l1.2 -0.38M352.4 286.0l0.7 -0.24M375.3 270.3l1.4 -0.46M366.9 288.4l1.6 -0.53M386.1 291.3l0.8 -0.25M397.8 290.0l1.4 -0.47M404.0 272.7l0.7 -0.24M361.7 285.9l0.9 -0.30M390.3 277.5l0.9 -0.30M347.6 290.1l0.7 -0.23M340.2 282.8l0.7 -0.23M381.6 291.2l0.8 -0.25M408.0 272.8l1.4 -0.48M433.6 278.6l1.3 -0.43M354.9 271.7l1.2 -0.40M412.6 278.6l1.5 -0.51M359.8 280.6l0.7 -0.23M365.1 278.3l1.0 -0.34M383.6 271.0l1.2 -0.41M355.1 282.8l0.5 -0.17M367.8 284.4l0.6 -0.20M401.4 281.5l1.3 -0.42M435.9 283.6l0.9 -0.29M383.8 276.0l0.5 -0.17M387.7 279.2l0.9 -0.29M403.3 292.0l0.7 -0.23M398.6 276.9l1.1 -0.35M391.6 275.0l0.8 -0.27M348.0 272.5l1.2 -0.41M422.8 279.5l0.9 -0.28M384.9 281.2l0.5 -0.18M433.1 286.1l1.4 -0.46M375.4 270.9l1.1 -0.35M416.8 273.9l0.6 -0.20M433.2 279.5l1.1 -0.35M353.2 284.5l1.0 -0.33M343.4 288.4l0.7 -0.24M371.1 275.9l0.5 -0.18M385.2 290.1l0.5 -0.18M340.4 277.8l1.2 -0.40M427.5 288.2l1.2 -0.39M397.5 278.0l0.9 -0.28M389.2 281.0l1.0 -0.34M357.8 272.4l1.1 -0.35M376.0 274.4l0.7 -0.24M355.6 288.9l1.1 -0.37M411.8 291.2l1.3 -0.42M370.8 280.0l0.5 -0.17M418.4 290.4l1.3 -0.42M430.0 280.8l0.5 -0.18M381.5 277.6l0.8 -0.26M399.0 281.4l1.6 -0.52M370.5 280.1l0.8 -0.27M405.6 270.0l0.8 -0.27M372.0 282.6l0.5 -0.18M419.7 284.8l0.9 -0.30M343.5 275.2l0.7 -0.22M427.2 290.1l1.2 -0.39M367.4 276.5l1.5 -0.49M368.1 284.7l1.2 -0.38M402.8 277.0l1.6 -0.52M411.8 274.6l0.5 -0.17M401.5 290.1l0.9 -0.28M411.7 272.1l1.3 -0.43M417.3 270.3l1.5 -0.51M385.2 286.1l1.2 -0.41M368.6 287.6l0.7 -0.25M416.9 283.3l1.2 -0.40M415.8 288.1l1.3 -0.43M391.8 276.9l1.5 -0.49M348.5 283.2l0.8 -0.28M392.4 287.4l1.4 -0.47M376.6 285.2l1.4 -0.46M399.3 283.5l0.6 -0.19M343.6 287.6l0.5 -0.18M376.5 287.5l0.6 -0.18M398.0 277.3l0.9 -0.29M419.3 273.3l1.6 -0.53M373.9 288.7l1.2 -0.41M407.2 270.6l1.4 -0.48M349.3 290.7l1.5 -0.51M419.2 286.2l0.7 -0.22M384.3 287.6l0.8 -0.27M339.2 280.9l1.5 -0.48M380.8 291.1l0.5 -0.18M393.6 281.6l1.5 -0.51M422.2 289.3l1.3 -0.43M427.5 288.1l0.8 -0.26M343.2 280.6l1.0 -0.34M374.1 273.2l0.8 -0.25M411.2 283.7l0.6 -0.21M370.1 286.1l1.4 -0.47M360.7 280.9l1.0 -0.33M432.0 278.7l0.8 -0.25M391.9 287.1l1.0 -0.33M392.9 280.1l1.1 -0.36M352.8 269.7l0.9 -0.28M398.6 274.5l1.2 -0.40M340.9 291.5l1.1 -0.38M424.4 274.8l1.5 -0.48M431.3 274.6l1.0 -0.33M433.7 273.3l0.6 -0.21M393.1 282.6l1.5 -0.51M340.1 273.4l0.7 -0.24M435.5 281.2l0.8 -0.27M430.1 278.0l1.0 -0.32M409.9 279.9l1.4 -0.46M374.1 287.6l0.6 -0.21M364.7 278.4l1.3 -0.44M435.7 285.2l1.2 -0.40M356.1 280.6l0.7 -0.23M408.2 281.3l1.3 -0.43M348.5 290.3l1.5 -0.48M392.3 284.9l0.8 -0.25M379.6 272.4l1.2 -0.40M354.1 277.0l0.6 -0.19M418.8 290.5l1.0 -0.33M419.4 271.5l0.7 -0.23M358.7 285.7l1.0 -0.34M362.0 269.6l1.6 -0.52M348.4 284.2l1.0 -0.33M395.6 278.7l1.2 -0.41M411.2 271.2l1.3 -0.42M363.2 288.4l1.6 -0.52M434.9 285.9l1.1 -0.38M351.3 287.9l0.7 -0.24M349.6 274.7l0.9 -0.31M385.6 281.6l1.6 -0.52M425.3 287.0l1.1 -0.37M361.5 271.4l1.5 -0.51M358.6 281.9l0.8 -0.26M396.9 270.1l1.1 -0.36M356.3 272.8l0.8 -0.28M362.2 274.3l0.6 -0.18M417.6 272.3l1.0 -0.33M419.5 272.5l1.3 -0.45M390.0 285.4l1.3 -0.43M353.1 285.9l1.1 -0.37M391.8 287.8l1.2 -0.40M398.4 272.3l1.2 -0.38M428.9 277.2l0.9 -0.31M357.7 279.6l1.2 -0.39M404.6 276.7l1.6 -0.52M416.4 283.6l1.3 -0.42M363.0 276.9l1.2 -0.40M427.9 289.4l1.3 -0.42M352.5 278.3l1.5 -0.49M395.2 287.8l0.9 -0.31M389.7 272.7l0.9 -0.28" stroke="#2a2238"/></g>
<path d="M338.50,291.60 L356.60,286.30 L374.70,276.70 L385.30,272.40 L393.50,269.60 L436.70,271.10 L389.60,287.30 L377.90,292.10 L365.10,290.50 Z" fill="none" stroke="#2a2238" stroke-width="0.5" opacity="0.8"/>
<line x1="266.80" y1="216.40" x2="266.80" y2="341.90" stroke="#000" stroke-width="1.3" />
<line x1="264.00" y1="216.90" x2="266.80" y2="216.90" stroke="#000" stroke-width="1.1" />
<text x="261.80" y="220.20" font-size="9.4" text-anchor="end" fill="#000" font-weight="bold" >16</text>
<line x1="264.00" y1="279.20" x2="266.80" y2="279.20" stroke="#000" stroke-width="1.1" />
<text x="261.80" y="282.50" font-size="9.4" text-anchor="end" fill="#000" font-weight="bold" >0</text>
<line x1="264.00" y1="341.40" x2="266.80" y2="341.40" stroke="#000" stroke-width="1.1" />
<text x="261.80" y="344.70" font-size="9.4" text-anchor="end" fill="#000" font-weight="bold" >-16</text>
<line x1="266.80" y1="341.40" x2="377.40" y2="356.90" stroke="#000" stroke-width="1.3" />
<line x1="266.80" y1="341.40" x2="266.80" y2="344.40" stroke="#000" stroke-width="1.0" />
<line x1="273.71" y1="342.37" x2="273.71" y2="344.27" stroke="#000" stroke-width="1.0" />
<line x1="280.62" y1="343.34" x2="280.62" y2="345.24" stroke="#000" stroke-width="1.0" />
<line x1="287.54" y1="344.31" x2="287.54" y2="346.21" stroke="#000" stroke-width="1.0" />
<line x1="294.45" y1="345.27" x2="294.45" y2="348.27" stroke="#000" stroke-width="1.0" />
<line x1="301.36" y1="346.24" x2="301.36" y2="348.14" stroke="#000" stroke-width="1.0" />
<line x1="308.27" y1="347.21" x2="308.27" y2="349.11" stroke="#000" stroke-width="1.0" />
<line x1="315.19" y1="348.18" x2="315.19" y2="350.08" stroke="#000" stroke-width="1.0" />
<line x1="322.10" y1="349.15" x2="322.10" y2="352.15" stroke="#000" stroke-width="1.0" />
<line x1="329.01" y1="350.12" x2="329.01" y2="352.02" stroke="#000" stroke-width="1.0" />
<line x1="335.92" y1="351.09" x2="335.92" y2="352.99" stroke="#000" stroke-width="1.0" />
<line x1="342.84" y1="352.06" x2="342.84" y2="353.96" stroke="#000" stroke-width="1.0" />
<line x1="349.75" y1="353.02" x2="349.75" y2="356.02" stroke="#000" stroke-width="1.0" />
<line x1="356.66" y1="353.99" x2="356.66" y2="355.89" stroke="#000" stroke-width="1.0" />
<line x1="363.57" y1="354.96" x2="363.57" y2="356.86" stroke="#000" stroke-width="1.0" />
<line x1="370.49" y1="355.93" x2="370.49" y2="357.83" stroke="#000" stroke-width="1.0" />
<line x1="377.40" y1="356.90" x2="377.40" y2="359.90" stroke="#000" stroke-width="1.0" />
<line x1="377.40" y1="356.90" x2="438.20" y2="331.10" stroke="#000" stroke-width="1.3" />
<line x1="377.40" y1="356.90" x2="377.70" y2="359.50" stroke="#000" stroke-width="0.9" />
<line x1="380.44" y1="355.61" x2="380.74" y2="357.31" stroke="#000" stroke-width="0.9" />
<line x1="383.48" y1="354.32" x2="383.78" y2="356.02" stroke="#000" stroke-width="0.9" />
<line x1="386.52" y1="353.03" x2="386.82" y2="354.73" stroke="#000" stroke-width="0.9" />
<line x1="389.56" y1="351.74" x2="389.86" y2="353.44" stroke="#000" stroke-width="0.9" />
<line x1="392.60" y1="350.45" x2="392.90" y2="353.05" stroke="#000" stroke-width="0.9" />
<line x1="395.64" y1="349.16" x2="395.94" y2="350.86" stroke="#000" stroke-width="0.9" />
<line x1="398.68" y1="347.87" x2="398.98" y2="349.57" stroke="#000" stroke-width="0.9" />
<line x1="401.72" y1="346.58" x2="402.02" y2="348.28" stroke="#000" stroke-width="0.9" />
<line x1="404.76" y1="345.29" x2="405.06" y2="346.99" stroke="#000" stroke-width="0.9" />
<line x1="407.80" y1="344.00" x2="408.10" y2="346.60" stroke="#000" stroke-width="0.9" />
<line x1="410.84" y1="342.71" x2="411.14" y2="344.41" stroke="#000" stroke-width="0.9" />
<line x1="413.88" y1="341.42" x2="414.18" y2="343.12" stroke="#000" stroke-width="0.9" />
<line x1="416.92" y1="340.13" x2="417.22" y2="341.83" stroke="#000" stroke-width="0.9" />
<line x1="419.96" y1="338.84" x2="420.26" y2="340.54" stroke="#000" stroke-width="0.9" />
<line x1="423.00" y1="337.55" x2="423.30" y2="340.15" stroke="#000" stroke-width="0.9" />
<line x1="426.04" y1="336.26" x2="426.34" y2="337.96" stroke="#000" stroke-width="0.9" />
<line x1="429.08" y1="334.97" x2="429.38" y2="336.67" stroke="#000" stroke-width="0.9" />
<line x1="432.12" y1="333.68" x2="432.42" y2="335.38" stroke="#000" stroke-width="0.9" />
<line x1="435.16" y1="332.39" x2="435.46" y2="334.09" stroke="#000" stroke-width="0.9" />
<line x1="438.20" y1="331.10" x2="438.50" y2="333.70" stroke="#000" stroke-width="0.9" />
<text transform="translate(249.0 207.0) scale(1 1.0)" font-size="7.7" font-weight="bold">1x10<tspan dy="-2.8" font-size="5.6">5</tspan></text>
<text x="244.60" y="275.50" font-size="8.8" text-anchor="middle" fill="#000" font-weight="bold" transform="rotate(-90 244.6 275.5)">EPR signal intensity (a.u.)</text>
<text x="268.80" y="356.30" font-size="9.3" text-anchor="middle" fill="#000" font-weight="bold" >3437</text>
<text x="375.20" y="371.80" font-size="9.3" text-anchor="middle" fill="#000" font-weight="bold" >3593</text>
<text x="395.50" y="365.40" font-size="9.3" text-anchor="middle" fill="#000" font-weight="bold" >10</text>
<text x="440.60" y="342.90" font-size="9.3" text-anchor="middle" fill="#000" font-weight="bold" >50</text>
<text transform="translate(301.3 367.7) scale(1 1.0)" font-size="9.4" font-weight="bold">B<tspan dy="2.2" font-size="6.6">o</tspan><tspan dy="-2.2">(G)</tspan></text>
<text x="407.50" y="370.40" font-size="9.4" text-anchor="start" fill="#000" font-weight="bold" transform="rotate(-27 407.5 370.4)">Time (min)</text>
<text x="283.00" y="228.20" font-size="8.4" text-anchor="start" fill="#000" font-weight="bold" >Light on</text>
<line x1="284.80" y1="231.30" x2="318.90" y2="231.30" stroke="#000" stroke-width="1.8" />
<text x="316.20" y="207.40" font-size="8.4" text-anchor="start" fill="#000" font-weight="bold" >Light off</text>
<line x1="318.30" y1="210.90" x2="352.50" y2="210.90" stroke="#000" stroke-width="1.8" />
<text x="385.40" y="224.80" font-size="9.15" text-anchor="start" fill="#8a00ff" font-weight="bold" >DCNA-1_AC</text>
<text x="462.60" y="210.50" font-size="18.5" text-anchor="start" fill="#000" font-weight="bold" >f</text>
<line x1="519.60" y1="213.98" x2="519.60" y2="336.29" stroke="#d6d6d6" stroke-width="0.6" />
<line x1="536.90" y1="209.99" x2="536.90" y2="330.03" stroke="#d6d6d6" stroke-width="0.6" />
<line x1="551.80" y1="206.56" x2="551.80" y2="324.63" stroke="#d6d6d6" stroke-width="0.6" />
<line x1="594.00" y1="205.37" x2="594.00" y2="322.64" stroke="#d6d6d6" stroke-width="0.6" />
<line x1="620.70" y1="207.59" x2="620.70" y2="326.01" stroke="#d6d6d6" stroke-width="0.6" />
<line x1="646.80" y1="209.77" x2="646.80" y2="329.31" stroke="#d6d6d6" stroke-width="0.6" />
<path d="M503.00,217.80 L566.80,203.10 L673.60,212.00" stroke="#d6d6d6" stroke-width="0.7" fill="none" stroke-linejoin="round" stroke-linecap="round" />
<line x1="673.60" y1="212.00" x2="671.30" y2="332.40" stroke="#d6d6d6" stroke-width="0.7" />
<line x1="566.80" y1="203.10" x2="566.80" y2="319.20" stroke="#d6d6d6" stroke-width="0.6" />
<line x1="530.50" y1="346.40" x2="592.92" y2="322.50" stroke="#d6d6d6" stroke-width="0.6" />
<line x1="558.00" y1="350.50" x2="619.05" y2="325.80" stroke="#d6d6d6" stroke-width="0.6" />
<line x1="585.50" y1="354.60" x2="645.17" y2="329.10" stroke="#d6d6d6" stroke-width="0.6" />
<line x1="613.00" y1="358.70" x2="671.30" y2="332.40" stroke="#d6d6d6" stroke-width="0.6" />
<line x1="515.76" y1="337.68" x2="624.66" y2="353.44" stroke="#d6d6d6" stroke-width="0.6" />
<line x1="528.52" y1="333.06" x2="636.32" y2="348.18" stroke="#d6d6d6" stroke-width="0.6" />
<line x1="541.28" y1="328.44" x2="647.98" y2="342.92" stroke="#d6d6d6" stroke-width="0.6" />
<line x1="554.04" y1="323.82" x2="659.64" y2="337.66" stroke="#d6d6d6" stroke-width="0.6" />
<line x1="566.80" y1="319.20" x2="671.30" y2="332.40" stroke="#d6d6d6" stroke-width="0.6" />
<line x1="503.00" y1="342.30" x2="566.80" y2="319.20" stroke="#d6d6d6" stroke-width="0.6" />
<clipPath id="clipFB"><path d="M587.30,216.50 L583.30,219.40 L576.90,225.70 L570.50,235.30 L564.10,248.10 L558.60,259.20 L556.80,264.60 L552.40,273.40 L556.80,280.70 L561.20,289.50 L565.50,299.70 L567.10,302.50 L574.00,314.60 L581.00,323.30 L589.60,331.90 L599.10,337.10 L603.40,331.90 L612.10,327.60 L620.70,324.10 L629.40,318.90 L632.90,306.00 L636.30,295.60 L638.90,288.70 L641.00,284.00 L624.00,281.00 L623.30,279.20 L621.80,250.00 L620.00,246.50 L618.70,221.00 L616.80,220.20 L600.80,221.00 L592.00,221.00 Z"/></clipPath>
<path d="M587.30,216.50 L583.30,219.40 L576.90,225.70 L570.50,235.30 L564.10,248.10 L558.60,259.20 L556.80,264.60 L552.40,273.40 L556.80,280.70 L561.20,289.50 L565.50,299.70 L567.10,302.50 L574.00,314.60 L581.00,323.30 L589.60,331.90 L599.10,337.10 L603.40,331.90 L612.10,327.60 L620.70,324.10 L629.40,318.90 L632.90,306.00 L636.30,295.60 L638.90,288.70 L641.00,284.00 L624.00,281.00 L623.30,279.20 L621.80,250.00 L620.00,246.50 L618.70,221.00 L616.80,220.20 L600.80,221.00 L592.00,221.00 Z" fill="url(#gradO)"/>
<g clip-path="url(#clipFB)">
<rect x="540" y="210" width="110" height="135" fill="url(#stripO)"/>
</g>
<path d="M558.60,265.00 L570.50,249.70 L578.50,238.50 L591.30,231.30 L596.00,233.70 L608.80,231.30 L618.40,228.60" stroke="#7a3000" stroke-width="0.5" fill="none" stroke-linejoin="round" stroke-linecap="round" opacity="0.8"/>
<path d="M566.00,288.00 L575.00,283.00 L590.00,282.00" stroke="#7a3000" stroke-width="0.4" fill="none" stroke-linejoin="round" stroke-linecap="round" opacity="0.5"/>
<path d="M566.50,300.50 L576.00,297.00 L592.00,296.50" stroke="#7a3000" stroke-width="0.4" fill="none" stroke-linejoin="round" stroke-linecap="round" opacity="0.6"/>
<path d="M571.00,309.00 L585.00,306.00 L603.00,306.50 L615.00,309.00 L625.00,308.50 L633.00,305.00" stroke="#7a3000" stroke-width="0.5" fill="none" stroke-linejoin="round" stroke-linecap="round" opacity="0.7"/>
<path d="M562.00,282.00 L568.00,278.00 L580.00,276.00" stroke="#7a3000" stroke-width="0.4" fill="none" stroke-linejoin="round" stroke-linecap="round" opacity="0.4"/>
<path d="M557.00,270.00 L563.00,262.00 L570.00,258.00" stroke="#7a3000" stroke-width="0.4" fill="none" stroke-linejoin="round" stroke-linecap="round" opacity="0.4"/>
<clipPath id="clip31"><path d="M505.70,282.60 L530.00,275.50 L552.00,269.00 L555.50,272.00 L552.00,279.00 L547.50,286.00 L528.00,285.00 Z"/></clipPath>
<path d="M505.70,282.60 L530.00,275.50 L552.00,269.00 L555.50,272.00 L552.00,279.00 L547.50,286.00 L528.00,285.00 Z" fill="#f4c9a2"/>
<g clip-path="url(#clip31)" fill="none" stroke-width="0.7"><path d="M505.7 252.1L555.5 237.1M505.7 253.9L555.5 238.9M505.7 255.7L555.5 240.7M505.7 257.5L555.5 242.5M505.7 259.3L555.5 244.3M505.7 261.1L555.5 246.1M505.7 262.9L555.5 247.9M505.7 264.7L555.5 249.7M505.7 266.5L555.5 251.5M505.7 268.3L555.5 253.3M505.7 270.1L555.5 255.1M505.7 271.9L555.5 256.9M505.7 273.7L555.5 258.7M505.7 275.5L555.5 260.5M505.7 277.3L555.5 262.3M505.7 279.1L555.5 264.1M505.7 280.9L555.5 265.9M505.7 282.7L555.5 267.7M505.7 284.5L555.5 269.5M505.7 286.3L555.5 271.3M505.7 288.1L555.5 273.1M505.7 289.9L555.5 274.9M505.7 291.7L555.5 276.7M505.7 293.5L555.5 278.5M505.7 295.3L555.5 280.3M505.7 297.1L555.5 282.1M505.7 298.9L555.5 283.9M505.7 300.7L555.5 285.7M505.7 302.5L555.5 287.5" stroke="#b08a6a" stroke-width="0.45" stroke-dasharray="2.2 1.3" opacity="0.7"/><path d="M513.0 281.6l1.2 -0.37M510.3 269.3l1.5 -0.46M553.2 283.3l0.9 -0.27M542.0 272.3l1.2 -0.36M507.8 274.7l0.9 -0.26M555.2 282.4l0.8 -0.25M536.8 278.3l1.2 -0.37M527.8 282.4l1.1 -0.34M510.6 285.7l0.6 -0.19M522.4 281.1l1.4 -0.43M530.5 282.4l0.8 -0.24M536.2 279.8l0.5 -0.16M523.1 269.2l0.9 -0.27M508.2 279.4l0.7 -0.22M546.6 274.1l0.7 -0.21M540.3 277.9l1.4 -0.43M514.0 283.5l0.6 -0.19M512.7 275.5l0.8 -0.25M523.8 275.8l1.4 -0.42M524.0 282.1l0.6 -0.17M519.5 272.1l0.5 -0.16M520.5 277.1l0.5 -0.15M534.6 275.9l1.4 -0.41M535.8 283.4l1.1 -0.33M510.5 278.8l0.7 -0.21M512.7 269.8l0.8 -0.25M526.1 278.2l1.0 -0.30M506.9 282.6l1.0 -0.30M541.9 274.8l0.7 -0.21M551.0 281.6l1.5 -0.45M533.4 282.3l1.0 -0.30M534.9 283.8l1.5 -0.44M526.7 274.3l0.8 -0.24M539.1 274.8l0.7 -0.21M529.7 270.1l1.2 -0.35M547.9 278.3l1.4 -0.41M533.2 279.1l1.3 -0.40M548.3 285.6l0.8 -0.24M536.2 271.5l1.6 -0.47M532.3 282.9l1.5 -0.44M528.3 272.1l1.0 -0.30M515.1 271.3l1.4 -0.43M540.9 281.5l1.2 -0.35M537.4 273.9l0.7 -0.21M546.1 283.4l0.9 -0.26M509.3 276.0l0.8 -0.25M520.5 283.0l0.6 -0.17M531.3 271.8l0.5 -0.16M535.9 284.7l0.9 -0.27M541.4 284.0l0.7 -0.20M513.1 280.8l1.2 -0.36M551.2 280.2l1.0 -0.31M513.7 277.0l0.9 -0.27M528.9 281.2l0.9 -0.27M533.9 285.7l0.5 -0.16M522.5 282.7l1.5 -0.46M552.7 273.8l1.6 -0.47M528.2 271.7l1.2 -0.35M525.6 276.9l1.1 -0.33M535.9 275.3l1.5 -0.44M518.3 270.2l1.2 -0.37M543.5 275.5l1.5 -0.44M510.0 270.3l0.6 -0.19M546.4 285.9l0.6 -0.17M516.9 277.0l1.3 -0.38M547.0 285.9l1.2 -0.35M535.7 283.8l1.3 -0.38M534.9 270.4l0.8 -0.23M545.3 280.2l1.2 -0.35M523.2 275.5l0.6 -0.17M551.0 282.9l0.8 -0.23M541.1 272.6l0.8 -0.25M524.2 285.2l1.3 -0.39M521.0 275.9l1.3 -0.38M536.2 281.6l1.4 -0.43M547.0 281.6l0.7 -0.22M532.9 273.1l1.5 -0.45M554.7 277.7l0.8 -0.23M537.7 275.2l0.7 -0.22M533.1 280.4l1.2 -0.35M510.9 271.2l0.5 -0.16M544.4 277.1l0.6 -0.17M554.2 282.4l0.8 -0.25M524.0 272.9l1.2 -0.37M508.3 273.6l0.6 -0.17M523.4 278.8l1.4 -0.42M542.8 270.9l1.3 -0.39M523.5 284.8l1.5 -0.44M525.0 284.5l0.7 -0.21M518.7 274.0l1.0 -0.31M506.2 285.4l0.9 -0.27M523.1 283.6l1.6 -0.48M523.5 277.6l0.7 -0.21M518.4 277.7l0.9 -0.26M551.1 283.6l0.9 -0.28" stroke="#fde6d0"/><path d="M506.3 270.9l0.9 -0.28M512.6 270.9l0.8 -0.23M532.4 276.6l1.0 -0.29M515.6 274.6l0.9 -0.27M516.2 272.7l1.1 -0.34M547.4 285.8l0.5 -0.16M548.9 280.1l0.7 -0.22M537.9 283.2l1.6 -0.47M515.3 284.7l1.2 -0.35M510.5 275.8l1.5 -0.45M555.1 272.3l1.0 -0.30M512.6 281.3l1.3 -0.38M543.9 273.3l1.3 -0.40M514.5 269.8l0.6 -0.19M531.8 281.2l1.0 -0.30M529.0 271.3l0.6 -0.19M542.8 285.0l1.3 -0.38M541.1 278.2l0.8 -0.23M542.3 283.1l0.5 -0.16M550.3 273.4l0.7 -0.22M515.6 272.6l0.9 -0.26M536.8 277.2l1.0 -0.31M524.6 281.9l0.8 -0.25M532.7 285.0l1.2 -0.37M548.4 274.2l0.9 -0.28M533.3 272.8l1.0 -0.29M517.8 281.0l0.6 -0.17M539.8 274.5l1.6 -0.47M508.8 273.2l1.0 -0.31M529.5 280.7l1.5 -0.45M548.5 270.0l1.1 -0.34M521.7 275.6l1.0 -0.29M539.8 283.3l0.5 -0.16M528.2 275.8l1.4 -0.42M524.7 272.9l0.9 -0.26M518.6 284.4l0.7 -0.21M511.1 282.4l0.8 -0.24M527.2 270.3l0.6 -0.18M532.7 277.3l0.9 -0.27M540.9 279.4l1.4 -0.43M532.8 282.4l1.2 -0.35M549.4 275.0l0.9 -0.28M546.7 274.7l1.0 -0.31M548.4 282.4l0.6 -0.17M512.9 285.6l1.4 -0.43M550.5 274.5l0.8 -0.23M506.4 278.5l1.5 -0.45M537.9 280.3l1.5 -0.46M509.7 279.1l1.1 -0.34M544.4 276.9l1.1 -0.33M507.1 273.1l1.3 -0.38M539.8 285.3l0.6 -0.19M535.7 273.7l0.5 -0.16M540.3 279.6l0.6 -0.18M553.2 276.9l1.2 -0.37M552.2 271.9l0.9 -0.26M520.9 276.5l0.8 -0.23M533.9 271.6l0.6 -0.19M547.0 273.9l0.6 -0.19M527.3 285.9l1.1 -0.33M531.7 283.0l1.4 -0.42M516.8 270.0l1.5 -0.45M542.8 272.4l0.9 -0.27M515.1 284.5l0.5 -0.16M539.0 275.8l0.8 -0.25M537.0 276.2l0.8 -0.25M518.4 271.4l1.4 -0.41M545.9 278.5l1.3 -0.39M507.6 274.1l0.9 -0.27M522.4 282.0l0.8 -0.23M527.4 279.0l1.2 -0.36M533.8 272.6l1.0 -0.30M509.3 283.1l0.8 -0.25M540.6 269.0l0.6 -0.18M515.3 270.5l1.1 -0.34M529.9 273.7l0.7 -0.21M506.5 282.8l0.9 -0.26M547.6 275.8l1.1 -0.32M506.7 279.8l1.2 -0.36M527.6 281.4l1.1 -0.33M509.5 282.9l1.3 -0.38M551.2 272.1l1.3 -0.39M529.3 284.8l1.3 -0.40M547.1 285.2l0.8 -0.24M550.2 277.4l0.6 -0.19M530.4 285.9l0.8 -0.23M543.5 279.2l0.8 -0.24M518.4 283.6l1.5 -0.44M513.4 285.6l1.3 -0.40M512.5 271.3l1.2 -0.36M537.3 284.5l0.9 -0.27M508.1 276.9l1.5 -0.45M548.3 273.8l1.6 -0.47M554.0 275.9l1.3 -0.38M534.7 269.9l1.2 -0.37M537.7 284.3l1.6 -0.47M554.4 276.5l1.0 -0.30M545.4 269.8l1.0 -0.29M517.5 282.0l1.2 -0.35M512.4 272.2l0.8 -0.25M546.8 278.2l1.5 -0.45M548.5 279.4l1.0 -0.31M523.7 285.6l1.1 -0.34M510.3 278.2l0.8 -0.25M554.2 272.5l1.4 -0.42" stroke="#a88468"/></g>
<path d="M505.70,282.60 L530.00,275.50 L552.00,269.00 L555.50,272.00 L552.00,279.00 L547.50,286.00 L528.00,285.00 Z" fill="none" stroke="#a88468" stroke-width="0.5" opacity="0.8"/>
<clipPath id="clip32"><path d="M578.00,295.50 L586.80,292.70 L605.00,287.50 L623.80,281.80 L643.90,275.10 L659.00,274.20 L672.40,275.40 L655.60,281.00 L638.90,287.70 L623.80,292.70 L610.30,296.10 L598.60,296.30 L585.00,296.20 Z"/></clipPath>
<path d="M578.00,295.50 L586.80,292.70 L605.00,287.50 L623.80,281.80 L643.90,275.10 L659.00,274.20 L672.40,275.40 L655.60,281.00 L638.90,287.70 L623.80,292.70 L610.30,296.10 L598.60,296.30 L585.00,296.20 Z" fill="#f4c9a2"/>
<g clip-path="url(#clip32)" fill="none" stroke-width="0.7"><path d="M578.0 243.9L672.4 215.6M578.0 245.7L672.4 217.4M578.0 247.5L672.4 219.2M578.0 249.3L672.4 221.0M578.0 251.1L672.4 222.8M578.0 252.9L672.4 224.6M578.0 254.7L672.4 226.4M578.0 256.5L672.4 228.2M578.0 258.3L672.4 230.0M578.0 260.1L672.4 231.8M578.0 261.9L672.4 233.6M578.0 263.7L672.4 235.4M578.0 265.5L672.4 237.2M578.0 267.3L672.4 239.0M578.0 269.1L672.4 240.8M578.0 270.9L672.4 242.6M578.0 272.7L672.4 244.4M578.0 274.5L672.4 246.2M578.0 276.3L672.4 248.0M578.0 278.1L672.4 249.8M578.0 279.9L672.4 251.6M578.0 281.7L672.4 253.4M578.0 283.5L672.4 255.2M578.0 285.3L672.4 257.0M578.0 287.1L672.4 258.8M578.0 288.9L672.4 260.6M578.0 290.7L672.4 262.4M578.0 292.5L672.4 264.2M578.0 294.3L672.4 266.0M578.0 296.1L672.4 267.8M578.0 297.9L672.4 269.6M578.0 299.7L672.4 271.4M578.0 301.5L672.4 273.2M578.0 303.3L672.4 275.0M578.0 305.1L672.4 276.8M578.0 306.9L672.4 278.6M578.0 308.7L672.4 280.4M578.0 310.5L672.4 282.2M578.0 312.3L672.4 284.0M578.0 314.1L672.4 285.8M578.0 315.9L672.4 287.6M578.0 317.7L672.4 289.4M578.0 319.5L672.4 291.2M578.0 321.3L672.4 293.0M578.0 323.1L672.4 294.8M578.0 324.9L672.4 296.6" stroke="#b08a6a" stroke-width="0.45" stroke-dasharray="2.2 1.3" opacity="0.7"/><path d="M613.0 274.2l1.3 -0.40M668.0 278.7l0.6 -0.18M670.3 276.7l0.7 -0.20M582.7 275.0l0.9 -0.27M633.4 279.3l0.9 -0.26M615.8 296.0l1.0 -0.29M586.6 275.6l1.2 -0.37M606.5 282.7l0.7 -0.21M627.6 285.4l0.7 -0.22M635.0 292.4l1.2 -0.36M634.0 295.6l1.4 -0.41M669.3 294.6l1.0 -0.30M608.1 277.9l0.9 -0.27M633.2 284.9l1.5 -0.45M655.5 275.0l1.6 -0.47M650.3 282.5l0.6 -0.19M668.0 295.9l0.8 -0.23M601.9 286.3l0.6 -0.19M590.1 280.3l0.7 -0.22M608.4 295.5l1.4 -0.42M589.6 285.9l1.3 -0.40M643.0 274.3l1.0 -0.30M653.5 287.6l1.1 -0.34M670.7 280.9l1.1 -0.32M622.6 274.6l1.5 -0.44M663.7 281.9l0.6 -0.18M634.7 288.9l1.1 -0.34M642.3 293.5l1.3 -0.38M594.4 288.1l1.5 -0.46M671.4 278.3l1.2 -0.36M641.3 282.1l1.0 -0.29M591.3 279.1l1.3 -0.40M596.7 284.5l0.7 -0.22M647.6 279.4l1.1 -0.34M626.9 289.6l1.0 -0.30M580.9 280.3l0.9 -0.28M667.0 291.0l0.9 -0.26M624.0 289.7l0.8 -0.24M598.6 275.2l0.6 -0.17M578.5 289.0l0.6 -0.17M585.2 280.2l0.6 -0.18M596.3 279.4l1.2 -0.36M667.5 289.9l1.0 -0.29M635.0 295.5l1.4 -0.41M586.2 287.4l1.4 -0.43M587.6 288.2l1.3 -0.39M622.2 291.7l1.4 -0.41M578.8 287.9l1.1 -0.33M631.0 291.3l1.4 -0.41M652.0 279.6l1.0 -0.29M607.1 283.0l1.0 -0.30M630.6 292.0l0.9 -0.28M639.4 294.1l1.3 -0.39M643.4 286.5l0.7 -0.21M662.4 295.2l1.1 -0.32M613.8 285.0l1.2 -0.35M605.2 285.5l1.3 -0.39M655.6 283.7l0.9 -0.26M650.7 294.3l1.2 -0.36M658.2 276.6l0.7 -0.21M598.6 278.2l0.8 -0.25M665.9 295.0l1.0 -0.31M596.0 291.6l1.1 -0.32M641.9 289.9l1.2 -0.35M627.0 274.5l0.9 -0.28M634.1 280.6l1.1 -0.32M643.8 276.4l0.9 -0.26M664.5 285.3l0.7 -0.20M637.1 291.9l1.2 -0.35M594.9 277.0l1.3 -0.39M661.2 275.9l0.6 -0.17M584.5 287.7l1.4 -0.41M603.1 289.3l1.0 -0.29M582.7 287.6l0.7 -0.20M602.8 286.0l0.6 -0.18M604.8 279.8l1.3 -0.40M652.1 294.8l1.5 -0.46M635.6 276.6l1.4 -0.43M616.2 287.7l0.8 -0.23M627.3 294.2l0.7 -0.20M652.7 288.4l1.4 -0.42M623.9 293.4l1.3 -0.39M614.6 293.3l1.3 -0.38M610.0 279.6l0.9 -0.27M580.4 274.4l1.3 -0.39M579.2 284.3l1.2 -0.36M641.3 289.0l1.1 -0.34M613.8 279.4l0.9 -0.27M653.2 280.8l0.5 -0.16M654.9 287.2l0.7 -0.22M615.6 286.5l1.2 -0.35M659.0 278.9l1.3 -0.39M634.7 293.2l1.2 -0.35M612.5 280.2l1.1 -0.32M625.0 281.3l1.4 -0.42M622.3 284.1l1.1 -0.32M622.4 274.6l1.1 -0.32M615.0 276.6l0.6 -0.18M636.7 274.2l1.5 -0.45M669.1 290.7l1.4 -0.41M604.3 294.1l1.0 -0.30M613.3 296.2l1.0 -0.30M598.9 280.0l1.5 -0.44M668.8 288.3l0.9 -0.27M671.7 276.8l0.7 -0.22M666.7 290.2l1.5 -0.45M601.6 284.7l0.5 -0.15M609.0 287.3l1.5 -0.44M616.4 274.5l1.3 -0.40M626.6 283.3l0.8 -0.25M609.3 286.4l0.6 -0.18M589.6 279.8l1.2 -0.37M611.3 276.8l1.0 -0.29M590.8 296.0l1.4 -0.43M647.2 278.9l0.5 -0.15M607.9 285.4l0.8 -0.23M645.0 279.2l0.8 -0.25M580.7 294.9l1.2 -0.36M581.5 279.4l0.7 -0.20M648.7 293.2l1.3 -0.40M645.8 289.5l1.2 -0.35M648.0 292.7l1.5 -0.45M599.6 281.9l1.3 -0.38M589.5 288.1l1.4 -0.41M655.3 282.1l0.7 -0.21M669.0 277.8l1.1 -0.33M659.7 289.0l1.1 -0.33M629.8 276.4l1.1 -0.34M664.1 295.0l1.0 -0.30M659.9 283.4l1.1 -0.34M656.3 288.3l1.0 -0.30M616.2 275.2l1.0 -0.31M629.6 283.7l0.6 -0.17M586.6 295.9l0.6 -0.19M661.6 281.9l0.8 -0.24M634.9 292.6l0.5 -0.16M633.0 278.6l0.7 -0.21M626.6 292.9l1.2 -0.36M628.2 276.6l1.5 -0.46M638.7 274.5l0.8 -0.24M645.5 294.2l1.0 -0.31M671.2 277.1l1.1 -0.34M639.6 277.4l0.6 -0.18M629.8 295.6l0.6 -0.18M664.2 281.0l1.3 -0.40M623.5 292.9l1.6 -0.47M618.2 291.9l0.7 -0.20M638.7 284.5l1.2 -0.36M644.6 282.2l0.7 -0.22M614.3 285.1l1.5 -0.46M604.1 277.8l1.6 -0.48M588.4 292.7l0.7 -0.21M601.6 294.1l0.8 -0.24M642.0 278.9l0.5 -0.15M661.4 293.5l0.7 -0.22M625.5 294.9l1.5 -0.46M615.4 277.4l1.4 -0.42M609.0 281.5l1.2 -0.37M669.7 290.8l0.6 -0.17M620.6 288.9l1.0 -0.31M661.2 288.3l0.5 -0.16M605.5 294.0l1.2 -0.35M648.5 294.2l1.3 -0.40M624.6 285.8l0.9 -0.27M590.4 276.0l0.9 -0.26M613.3 277.4l1.5 -0.45M638.9 283.2l1.0 -0.29M588.0 283.6l0.9 -0.27M655.2 293.6l1.5 -0.44M644.1 280.3l0.9 -0.27M631.7 282.9l1.2 -0.36M590.8 276.7l1.2 -0.36M586.1 286.6l1.2 -0.36M672.2 278.0l1.1 -0.32M661.6 284.9l0.7 -0.21M649.9 275.1l0.9 -0.26M626.6 291.5l1.1 -0.32M606.7 281.8l1.4 -0.43M645.9 285.8l1.1 -0.32M648.5 283.0l1.3 -0.38M654.6 275.3l0.8 -0.25M642.4 292.4l0.6 -0.18M656.3 290.1l1.2 -0.37M622.4 293.1l0.9 -0.26M649.6 293.7l1.0 -0.31M604.4 287.1l0.8 -0.25M610.2 284.1l0.8 -0.25M671.3 285.5l1.2 -0.35M607.6 286.7l1.4 -0.42M667.4 278.7l0.7 -0.20M586.9 278.5l1.1 -0.32M625.1 277.8l1.2 -0.36M616.2 296.1l1.4 -0.41M654.1 275.4l1.4 -0.41M590.6 289.9l0.6 -0.17M659.9 286.6l1.4 -0.41M651.1 280.1l0.6 -0.17" stroke="#fde6d0"/><path d="M585.3 278.9l0.8 -0.25M624.8 290.1l0.6 -0.18M657.6 285.8l1.5 -0.46M578.9 290.3l1.4 -0.43M607.2 294.7l0.7 -0.21M647.7 286.8l1.1 -0.34M623.0 292.2l1.0 -0.30M578.6 295.2l1.3 -0.38M624.4 295.3l1.4 -0.43M646.2 278.5l1.4 -0.43M601.4 274.2l0.5 -0.16M645.3 295.8l0.7 -0.22M578.4 293.7l1.3 -0.39M620.5 294.2l0.5 -0.15M661.4 285.3l1.6 -0.47M649.0 275.8l1.1 -0.34M625.5 275.7l0.7 -0.21M670.2 279.7l0.9 -0.26M625.9 278.3l1.6 -0.47M612.5 274.7l1.1 -0.32M594.8 276.1l1.3 -0.39M613.6 284.7l1.2 -0.36M586.3 282.8l0.7 -0.22M592.6 286.8l1.0 -0.31M602.1 294.6l0.8 -0.25M652.2 283.5l0.6 -0.18M615.1 293.2l1.4 -0.43M634.8 291.6l1.3 -0.39M629.6 280.3l0.6 -0.17M657.4 280.4l1.2 -0.37M636.3 281.9l1.0 -0.29M658.4 289.8l0.9 -0.28M585.5 277.8l1.6 -0.48M593.8 277.1l1.0 -0.30M630.6 295.0l0.6 -0.19M647.1 280.1l0.6 -0.19M658.6 281.8l0.7 -0.20M618.3 285.4l0.6 -0.17M668.2 289.7l1.0 -0.30M667.2 295.2l1.5 -0.46M585.8 275.1l0.8 -0.24M583.7 277.5l0.9 -0.28M597.6 274.5l1.5 -0.44M596.4 283.9l1.0 -0.29M596.9 289.6l1.3 -0.39M635.9 275.1l0.7 -0.20M592.0 291.3l0.5 -0.15M634.3 287.1l1.0 -0.31M605.8 284.3l0.9 -0.28M584.5 286.5l1.5 -0.45M635.8 279.6l0.8 -0.24M626.1 278.1l0.7 -0.22M644.3 293.7l1.5 -0.44M591.7 279.7l0.7 -0.21M643.2 274.9l1.5 -0.44M663.1 288.6l1.1 -0.32M609.6 275.5l0.8 -0.23M611.8 294.3l1.0 -0.30M597.6 295.8l1.4 -0.43M654.0 285.7l0.7 -0.20M668.3 284.3l1.3 -0.40M619.4 286.2l0.7 -0.22M608.9 276.1l0.9 -0.27M638.0 281.4l1.0 -0.29M581.5 283.6l1.0 -0.29M636.3 284.0l1.2 -0.35M649.7 296.0l1.4 -0.42M671.9 290.5l1.3 -0.40M669.5 286.0l0.9 -0.28M634.2 275.9l0.8 -0.23M644.7 279.1l0.5 -0.16M618.7 275.5l1.1 -0.32M667.2 291.8l0.7 -0.22M654.1 278.7l0.7 -0.20M638.3 283.6l1.1 -0.33M599.0 294.4l1.2 -0.36M616.1 279.0l0.6 -0.18M659.3 290.4l0.7 -0.22M662.1 281.0l1.0 -0.31M596.9 288.6l1.4 -0.41M607.7 285.4l0.9 -0.27M655.7 293.9l1.4 -0.43M600.4 276.0l1.0 -0.31M635.2 281.3l1.3 -0.38M656.4 294.7l0.7 -0.21M642.2 277.2l0.5 -0.16M628.0 277.8l0.8 -0.25M607.0 295.5l0.5 -0.16M639.2 295.1l0.6 -0.19M618.4 294.0l1.5 -0.46M637.3 276.8l0.8 -0.25M638.5 279.9l0.7 -0.21M597.3 293.5l1.4 -0.42M650.6 292.7l1.1 -0.33M600.1 279.5l0.7 -0.22M654.1 280.8l1.2 -0.35M607.5 279.8l1.5 -0.46M615.3 284.5l1.2 -0.37M624.9 279.3l1.1 -0.34M614.0 285.8l0.9 -0.26M645.3 283.9l1.3 -0.39M599.3 296.2l0.5 -0.15M649.4 292.1l0.5 -0.15M669.2 289.5l1.5 -0.44M630.1 279.6l1.6 -0.48M663.4 291.3l1.4 -0.43M589.6 275.2l1.2 -0.37M634.3 278.3l1.5 -0.46M651.0 279.0l1.5 -0.44M654.1 277.4l0.5 -0.15M601.0 291.0l0.8 -0.25M611.2 283.3l1.4 -0.42M622.9 280.0l0.6 -0.17M615.4 278.9l1.2 -0.36M668.9 295.0l0.8 -0.25M635.0 277.0l1.1 -0.32M631.6 281.8l0.9 -0.27M651.9 283.1l1.3 -0.40M589.2 286.8l1.5 -0.45M614.9 293.0l1.4 -0.42M604.2 284.6l0.7 -0.22M656.0 290.8l0.5 -0.16M606.5 286.1l0.8 -0.25M621.0 281.3l0.6 -0.18M667.5 290.5l0.8 -0.23M637.0 281.5l0.8 -0.25M602.3 280.3l1.5 -0.44M627.9 278.7l0.8 -0.23M584.5 293.1l0.7 -0.20M641.4 292.7l0.8 -0.25M594.9 277.9l0.9 -0.27M668.6 287.9l0.6 -0.17M671.7 275.9l1.3 -0.39M641.9 289.4l0.9 -0.26M655.4 281.7l0.7 -0.20M640.0 284.7l0.8 -0.24M649.0 285.1l0.7 -0.20M671.0 276.3l1.1 -0.32M597.4 293.4l1.1 -0.32M654.3 280.9l1.4 -0.42M602.9 295.1l1.3 -0.39M582.9 286.3l1.3 -0.38M578.2 277.0l0.9 -0.28M595.2 290.4l1.2 -0.36M648.1 278.2l1.2 -0.36M658.3 294.4l0.7 -0.21M604.5 288.8l0.7 -0.20M654.3 291.9l0.5 -0.15M660.4 294.1l1.4 -0.43M616.7 292.0l1.1 -0.34M606.8 288.0l0.7 -0.21M612.8 277.6l1.3 -0.40M653.7 288.0l1.0 -0.29M583.6 292.0l0.8 -0.25M642.2 284.4l0.8 -0.24M662.8 284.8l1.4 -0.43M643.5 288.8l0.7 -0.20M580.0 293.5l0.8 -0.24M653.8 277.2l0.6 -0.19M631.6 294.2l1.2 -0.36M607.3 278.4l1.2 -0.36M625.7 281.8l1.5 -0.45M653.1 290.2l0.8 -0.24M648.8 289.2l1.5 -0.44M607.2 282.7l1.2 -0.36M660.7 289.6l1.5 -0.46M588.1 275.6l1.5 -0.46M663.0 287.0l1.0 -0.30M651.2 286.4l1.0 -0.29M598.0 278.6l1.5 -0.45M593.7 277.5l1.1 -0.33M619.5 281.3l0.6 -0.17M590.9 274.4l1.5 -0.46M601.4 289.9l0.5 -0.15M633.6 277.7l1.5 -0.46M657.4 279.3l1.1 -0.33M638.8 290.0l1.3 -0.40M661.1 292.0l1.0 -0.29M628.4 278.6l0.8 -0.24M659.4 285.6l1.6 -0.47M669.5 283.0l1.0 -0.31M656.6 280.5l1.3 -0.38M605.4 279.1l0.8 -0.24M578.3 282.4l1.6 -0.47M632.9 289.0l1.1 -0.33M634.7 288.6l1.4 -0.43M650.3 275.6l1.1 -0.33M640.3 285.9l0.8 -0.23M625.5 291.4l0.8 -0.24M656.4 287.9l0.8 -0.23M667.1 289.7l1.5 -0.44M670.6 274.9l0.9 -0.27M650.8 290.5l0.8 -0.24M584.8 290.4l1.0 -0.30M593.6 286.1l1.2 -0.37M579.1 291.8l0.5 -0.16M608.3 275.4l0.9 -0.27M617.6 283.2l1.5 -0.46M596.9 281.0l1.4 -0.41M593.7 279.9l0.6 -0.19M655.9 287.5l1.6 -0.48M584.9 275.8l1.0 -0.31M622.8 295.2l1.1 -0.33" stroke="#a88468"/></g>
<path d="M578.00,295.50 L586.80,292.70 L605.00,287.50 L623.80,281.80 L643.90,275.10 L659.00,274.20 L672.40,275.40 L655.60,281.00 L638.90,287.70 L623.80,292.70 L610.30,296.10 L598.60,296.30 L585.00,296.20 Z" fill="none" stroke="#a88468" stroke-width="0.5" opacity="0.8"/>
<line x1="503.00" y1="217.30" x2="503.00" y2="342.80" stroke="#000" stroke-width="1.3" />
<line x1="500.20" y1="217.80" x2="503.00" y2="217.80" stroke="#000" stroke-width="1.1" />
<text x="497.60" y="221.10" font-size="9.4" text-anchor="end" fill="#000" font-weight="bold" >30</text>
<line x1="500.20" y1="239.50" x2="503.00" y2="239.50" stroke="#000" stroke-width="1.1" />
<text x="497.60" y="242.80" font-size="9.4" text-anchor="end" fill="#000" font-weight="bold" >20</text>
<line x1="500.20" y1="261.20" x2="503.00" y2="261.20" stroke="#000" stroke-width="1.1" />
<text x="497.60" y="264.50" font-size="9.4" text-anchor="end" fill="#000" font-weight="bold" >10</text>
<line x1="500.20" y1="282.90" x2="503.00" y2="282.90" stroke="#000" stroke-width="1.1" />
<text x="497.60" y="286.20" font-size="9.4" text-anchor="end" fill="#000" font-weight="bold" >0</text>
<line x1="500.20" y1="304.60" x2="503.00" y2="304.60" stroke="#000" stroke-width="1.1" />
<text x="497.60" y="307.90" font-size="9.4" text-anchor="end" fill="#000" font-weight="bold" >-10</text>
<line x1="500.20" y1="326.30" x2="503.00" y2="326.30" stroke="#000" stroke-width="1.1" />
<text x="497.60" y="329.60" font-size="9.4" text-anchor="end" fill="#000" font-weight="bold" >-20</text>
<line x1="503.00" y1="342.30" x2="613.00" y2="358.70" stroke="#000" stroke-width="1.3" />
<line x1="503.00" y1="342.30" x2="503.00" y2="345.30" stroke="#000" stroke-width="1.0" />
<line x1="509.88" y1="343.32" x2="509.88" y2="345.22" stroke="#000" stroke-width="1.0" />
<line x1="516.75" y1="344.35" x2="516.75" y2="346.25" stroke="#000" stroke-width="1.0" />
<line x1="523.62" y1="345.38" x2="523.62" y2="347.27" stroke="#000" stroke-width="1.0" />
<line x1="530.50" y1="346.40" x2="530.50" y2="349.40" stroke="#000" stroke-width="1.0" />
<line x1="537.38" y1="347.43" x2="537.38" y2="349.32" stroke="#000" stroke-width="1.0" />
<line x1="544.25" y1="348.45" x2="544.25" y2="350.35" stroke="#000" stroke-width="1.0" />
<line x1="551.12" y1="349.48" x2="551.12" y2="351.38" stroke="#000" stroke-width="1.0" />
<line x1="558.00" y1="350.50" x2="558.00" y2="353.50" stroke="#000" stroke-width="1.0" />
<line x1="564.88" y1="351.52" x2="564.88" y2="353.42" stroke="#000" stroke-width="1.0" />
<line x1="571.75" y1="352.55" x2="571.75" y2="354.45" stroke="#000" stroke-width="1.0" />
<line x1="578.62" y1="353.57" x2="578.62" y2="355.47" stroke="#000" stroke-width="1.0" />
<line x1="585.50" y1="354.60" x2="585.50" y2="357.60" stroke="#000" stroke-width="1.0" />
<line x1="592.38" y1="355.62" x2="592.38" y2="357.52" stroke="#000" stroke-width="1.0" />
<line x1="599.25" y1="356.65" x2="599.25" y2="358.55" stroke="#000" stroke-width="1.0" />
<line x1="606.12" y1="357.68" x2="606.12" y2="359.57" stroke="#000" stroke-width="1.0" />
<line x1="613.00" y1="358.70" x2="613.00" y2="361.70" stroke="#000" stroke-width="1.0" />
<line x1="613.00" y1="358.70" x2="671.30" y2="332.40" stroke="#000" stroke-width="1.3" />
<line x1="613.00" y1="358.70" x2="613.30" y2="361.30" stroke="#000" stroke-width="0.9" />
<line x1="615.91" y1="357.38" x2="616.21" y2="359.08" stroke="#000" stroke-width="0.9" />
<line x1="618.83" y1="356.07" x2="619.13" y2="357.77" stroke="#000" stroke-width="0.9" />
<line x1="621.75" y1="354.75" x2="622.04" y2="356.45" stroke="#000" stroke-width="0.9" />
<line x1="624.66" y1="353.44" x2="624.96" y2="355.14" stroke="#000" stroke-width="0.9" />
<line x1="627.58" y1="352.12" x2="627.88" y2="354.73" stroke="#000" stroke-width="0.9" />
<line x1="630.49" y1="350.81" x2="630.79" y2="352.51" stroke="#000" stroke-width="0.9" />
<line x1="633.40" y1="349.50" x2="633.70" y2="351.19" stroke="#000" stroke-width="0.9" />
<line x1="636.32" y1="348.18" x2="636.62" y2="349.88" stroke="#000" stroke-width="0.9" />
<line x1="639.24" y1="346.87" x2="639.53" y2="348.56" stroke="#000" stroke-width="0.9" />
<line x1="642.15" y1="345.55" x2="642.45" y2="348.15" stroke="#000" stroke-width="0.9" />
<line x1="645.06" y1="344.23" x2="645.36" y2="345.93" stroke="#000" stroke-width="0.9" />
<line x1="647.98" y1="342.92" x2="648.28" y2="344.62" stroke="#000" stroke-width="0.9" />
<line x1="650.89" y1="341.60" x2="651.19" y2="343.30" stroke="#000" stroke-width="0.9" />
<line x1="653.81" y1="340.29" x2="654.11" y2="341.99" stroke="#000" stroke-width="0.9" />
<line x1="656.72" y1="338.97" x2="657.02" y2="341.57" stroke="#000" stroke-width="0.9" />
<line x1="659.64" y1="337.66" x2="659.94" y2="339.36" stroke="#000" stroke-width="0.9" />
<line x1="662.55" y1="336.34" x2="662.85" y2="338.04" stroke="#000" stroke-width="0.9" />
<line x1="665.47" y1="335.03" x2="665.77" y2="336.73" stroke="#000" stroke-width="0.9" />
<line x1="668.38" y1="333.71" x2="668.68" y2="335.41" stroke="#000" stroke-width="0.9" />
<line x1="671.30" y1="332.40" x2="671.60" y2="335.00" stroke="#000" stroke-width="0.9" />
<text transform="translate(486.8 208.1) scale(1 1.0)" font-size="7.7" font-weight="bold">1x10<tspan dy="-2.8" font-size="5.6">5</tspan></text>
<text x="480.70" y="273.00" font-size="9.25" text-anchor="middle" fill="#000" font-weight="bold" transform="rotate(-90 480.7 273.0)">EPR signal intensity (a.u.)</text>
<text x="505.00" y="356.40" font-size="9.3" text-anchor="middle" fill="#000" font-weight="bold" >3437</text>
<text x="611.50" y="371.80" font-size="9.3" text-anchor="middle" fill="#000" font-weight="bold" >3593</text>
<text x="629.80" y="365.90" font-size="9.3" text-anchor="middle" fill="#000" font-weight="bold" >10</text>
<text x="674.70" y="344.00" font-size="9.3" text-anchor="middle" fill="#000" font-weight="bold" >50</text>
<text transform="translate(534.4 372.4) scale(1 1.0)" font-size="9.4" font-weight="bold">B<tspan dy="2.2" font-size="6.6">o</tspan><tspan dy="-2.2">(G)</tspan></text>
<text x="641.50" y="371.00" font-size="9.4" text-anchor="start" fill="#000" font-weight="bold" transform="rotate(-27 641.5 371.0)">Time (min)</text>
<text x="517.40" y="276.90" font-size="8.4" text-anchor="start" fill="#000" font-weight="bold" >Light on</text>
<line x1="519.20" y1="280.80" x2="553.80" y2="280.80" stroke="#000" stroke-width="1.8" />
<text x="550.00" y="212.60" font-size="8.4" text-anchor="start" fill="#000" font-weight="bold" >Light off</text>
<line x1="552.50" y1="216.00" x2="586.40" y2="216.00" stroke="#000" stroke-width="1.8" />
<text x="621.20" y="225.10" font-size="9.0" text-anchor="start" fill="#ff8000" font-weight="bold" >DNCA-1_AC</text>
</svg>
</body></html>
